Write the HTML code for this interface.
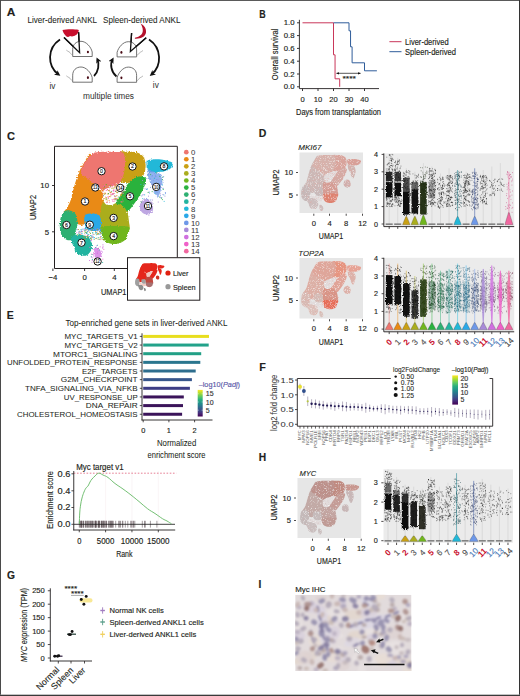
<!DOCTYPE html>
<html><head><meta charset="utf-8"><style>
html,body{margin:0;padding:0;background:#fff;}
body{width:520px;height:696px;overflow:hidden;position:relative;}
svg{position:absolute;left:0;top:0;font-family:"Liberation Sans", sans-serif;}
</style></head><body>
<svg width="520" height="696" viewBox="0 0 520 696" fill="#231f20">
<rect x="0" y="0" width="520" height="696" fill="#fff"/>
<text x="6.80" y="16.30" font-size="11" stroke="#231f20" stroke-width="0.15" font-weight="bold" textLength="8.6" lengthAdjust="spacingAndGlyphs">A</text>
<text x="27.50" y="23.20" font-size="8.4" stroke="#231f20" stroke-width="0.06" textLength="69.5" lengthAdjust="spacingAndGlyphs">Liver-derived ANKL</text>
<text x="103.00" y="23.20" font-size="8.4" stroke="#231f20" stroke-width="0.06" textLength="77.5" lengthAdjust="spacingAndGlyphs">Spleen-derived ANKL</text>
<text x="49.50" y="88.60" font-size="8.2" stroke="#333" stroke-width="0.03" fill="#333" textLength="6" lengthAdjust="spacingAndGlyphs">iv</text>
<text x="152.80" y="87.60" font-size="8.2" stroke="#333" stroke-width="0.03" fill="#333" textLength="6" lengthAdjust="spacingAndGlyphs">iv</text>
<text x="83.00" y="99.20" font-size="8.4" stroke="#333" stroke-width="0.03" fill="#333" textLength="51" lengthAdjust="spacingAndGlyphs">multiple times</text>
<path d="M62.5 30 C66 29.3 74 29 78.8 30 C78.5 32.5 77.5 34.5 75.5 35.3 C74 36.5 71.5 36.8 70 36 C68.5 37.3 66.5 37.2 65.5 35.5 C64 34 63 32 62.5 30Z" fill="#c8102e"/>
<path d="M140.5 23.5 C144 25 146.5 28.5 146 32.5 C145.5 36.5 141 39 135 38.7 C134.5 38.2 135 37.8 135.5 37.6 C139.5 36.8 142.5 34.5 142.8 31 C143 28 141.8 25.5 140.5 23.5Z" fill="#b5122c"/>
<path d="M64 37.5 L79.6 52.7 L78.6 32.3" fill="none" stroke="#111" stroke-width="1.3"/>
<path d="M131.6 33 L130.4 51.4 L146.2 37.8" fill="none" stroke="#111" stroke-width="1.3"/>
<path d="M72.7 56.5 L72.7 49.5 C72.7 44.5 76.2 41.3 81.0 41.3 C86.2 41.3 91.0 47.0 92.2 52.0 L92.2 56.5Z" fill="#fff" stroke="#5a5a5a" stroke-width="0.85"/>
<path d="M72.7 54.9 C70.9 54.9 70.4 52.3 69.10000000000001 51.9 C68.10000000000001 51.5 67.4 50.9 66.3 50.1" fill="none" stroke="#8a8a8a" stroke-width="0.6"/>
<ellipse cx="87.9" cy="52.0" rx="1.05" ry="1.35" fill="#4a0c16"/>
<path d="M72.7 82.2 L72.7 75.2 C72.7 70.2 76.2 67.0 81.0 67.0 C86.2 67.0 91.0 72.7 92.2 77.7 L92.2 82.2Z" fill="#fff" stroke="#5a5a5a" stroke-width="0.85"/>
<path d="M72.7 80.60000000000001 C70.9 80.60000000000001 70.4 78.0 69.10000000000001 77.60000000000001 C68.10000000000001 77.2 67.4 76.60000000000001 66.3 75.8" fill="none" stroke="#8a8a8a" stroke-width="0.6"/>
<ellipse cx="87.9" cy="77.7" rx="1.05" ry="1.35" fill="#4a0c16"/>
<path d="M136.6 56.9 L136.6 49.9 C136.6 44.9 133.1 41.7 128.29999999999998 41.7 C123.1 41.7 118.3 47.4 117.1 52.4 L117.1 56.9Z" fill="#fff" stroke="#5a5a5a" stroke-width="0.85"/>
<path d="M136.6 55.3 C138.4 55.3 138.9 52.699999999999996 140.2 52.3 C141.2 51.9 141.9 51.3 143.0 50.5" fill="none" stroke="#8a8a8a" stroke-width="0.6"/>
<ellipse cx="121.39999999999999" cy="52.4" rx="1.05" ry="1.35" fill="#4a0c16"/>
<path d="M136.6 82.3 L136.6 75.3 C136.6 70.3 133.1 67.1 128.29999999999998 67.1 C123.1 67.1 118.3 72.8 117.1 77.8 L117.1 82.3Z" fill="#fff" stroke="#5a5a5a" stroke-width="0.85"/>
<path d="M136.6 80.7 C138.4 80.7 138.9 78.1 140.2 77.7 C141.2 77.3 141.9 76.7 143.0 75.89999999999999" fill="none" stroke="#8a8a8a" stroke-width="0.6"/>
<ellipse cx="121.39999999999999" cy="77.8" rx="1.05" ry="1.35" fill="#4a0c16"/>
<path d="M64 37.5 L79.6 52.7 L78.6 32.3" fill="none" stroke="#111" stroke-width="1.3"/>
<path d="M131.6 33 L130.4 51.4 L146.2 37.8" fill="none" stroke="#111" stroke-width="1.3"/>
<defs><marker id="ah" viewBox="0 0 10 10" refX="6" refY="5" markerWidth="3.2" markerHeight="3.2" orient="auto"><path d="M0 0 L10 5 L0 10 L2.5 5Z" fill="#111"/></marker></defs>
<path d="M60 39.5 C47 48 47 66 58.5 74.5" fill="none" stroke="#111" stroke-width="1.8" marker-end="url(#ah)"/>
<path d="M94 76 C98.5 72 99.5 64 97.5 59.5" fill="none" stroke="#111" stroke-width="1.8" marker-end="url(#ah)"/>
<path d="M149 39.5 C162 48 162 66 151.5 74.5" fill="none" stroke="#111" stroke-width="1.8" marker-end="url(#ah)"/>
<path d="M116.5 76.5 C111 72 110 64 112.5 59.5" fill="none" stroke="#111" stroke-width="1.8" marker-end="url(#ah)"/>
<text x="259.30" y="17.50" font-size="10.2" stroke="#231f20" stroke-width="0.15" font-weight="bold" textLength="6.4" lengthAdjust="spacingAndGlyphs">B</text>
<line x1="299.40" y1="19.80" x2="299.40" y2="88.60" stroke="#231f20" stroke-width="0.9"/>
<line x1="299.40" y1="88.60" x2="379.00" y2="88.60" stroke="#231f20" stroke-width="0.9"/>
<line x1="297.00" y1="86.80" x2="299.40" y2="86.80" stroke="#231f20" stroke-width="0.9"/>
<text x="294.60" y="89.40" font-size="7.4" stroke="#231f20" stroke-width="0.15" text-anchor="end" textLength="10.8" lengthAdjust="spacingAndGlyphs">0.0</text>
<line x1="297.00" y1="74.00" x2="299.40" y2="74.00" stroke="#231f20" stroke-width="0.9"/>
<text x="294.60" y="76.60" font-size="7.4" stroke="#231f20" stroke-width="0.15" text-anchor="end" textLength="10.8" lengthAdjust="spacingAndGlyphs">0.2</text>
<line x1="297.00" y1="61.20" x2="299.40" y2="61.20" stroke="#231f20" stroke-width="0.9"/>
<text x="294.60" y="63.80" font-size="7.4" stroke="#231f20" stroke-width="0.15" text-anchor="end" textLength="10.8" lengthAdjust="spacingAndGlyphs">0.4</text>
<line x1="297.00" y1="48.40" x2="299.40" y2="48.40" stroke="#231f20" stroke-width="0.9"/>
<text x="294.60" y="51.00" font-size="7.4" stroke="#231f20" stroke-width="0.15" text-anchor="end" textLength="10.8" lengthAdjust="spacingAndGlyphs">0.6</text>
<line x1="297.00" y1="35.60" x2="299.40" y2="35.60" stroke="#231f20" stroke-width="0.9"/>
<text x="294.60" y="38.20" font-size="7.4" stroke="#231f20" stroke-width="0.15" text-anchor="end" textLength="10.8" lengthAdjust="spacingAndGlyphs">0.8</text>
<line x1="297.00" y1="22.80" x2="299.40" y2="22.80" stroke="#231f20" stroke-width="0.9"/>
<text x="294.60" y="25.40" font-size="7.4" stroke="#231f20" stroke-width="0.15" text-anchor="end" textLength="10.8" lengthAdjust="spacingAndGlyphs">1.0</text>
<line x1="302.50" y1="88.60" x2="302.50" y2="91.00" stroke="#231f20" stroke-width="0.9"/>
<text x="302.50" y="101.90" font-size="7.6" stroke="#231f20" stroke-width="0.15" text-anchor="middle">0</text>
<line x1="318.00" y1="88.60" x2="318.00" y2="91.00" stroke="#231f20" stroke-width="0.9"/>
<text x="318.00" y="101.90" font-size="7.6" stroke="#231f20" stroke-width="0.15" text-anchor="middle">10</text>
<line x1="333.50" y1="88.60" x2="333.50" y2="91.00" stroke="#231f20" stroke-width="0.9"/>
<text x="333.50" y="101.90" font-size="7.6" stroke="#231f20" stroke-width="0.15" text-anchor="middle">20</text>
<line x1="349.00" y1="88.60" x2="349.00" y2="91.00" stroke="#231f20" stroke-width="0.9"/>
<text x="349.00" y="101.90" font-size="7.6" stroke="#231f20" stroke-width="0.15" text-anchor="middle">30</text>
<line x1="364.50" y1="88.60" x2="364.50" y2="91.00" stroke="#231f20" stroke-width="0.9"/>
<text x="364.50" y="101.90" font-size="7.6" stroke="#231f20" stroke-width="0.15" text-anchor="middle">40</text>
<text x="296.00" y="114.60" font-size="9.4" stroke="#231f20" stroke-width="0.15" textLength="85" lengthAdjust="spacingAndGlyphs">Days from transplantation</text>
<text x="277.60" y="80.20" font-size="9.2" stroke="#231f20" stroke-width="0.15" textLength="51.5" lengthAdjust="spacingAndGlyphs" transform="rotate(-90 277.60 80.20)">Overall survival</text>
<path d="M302.5 22.799999999999997 H333.5 V54.8 H335.05 V78.8 H339.7 V86.8" fill="none" stroke="#c9375a" stroke-width="1"/>
<path d="M333.5 22.799999999999997 H349.0 V30.799999999999997 H350.55 V46.8 H352.1 V62.8 H364.5 V70.8 H376.9" fill="none" stroke="#2f5d9a" stroke-width="1"/>
<defs><marker id="ah2" viewBox="0 0 10 10" refX="9" refY="5" markerWidth="4" markerHeight="4" orient="auto-start-reverse"><path d="M0 1 L10 5 L0 9Z" fill="#111"/></marker></defs>
<line x1="336.50" y1="73.30" x2="360.50" y2="73.30" stroke="#111" stroke-width="0.7" marker-start="url(#ah2)" marker-end="url(#ah2)"/>
<text x="342.50" y="80.60" font-size="6.4" stroke="#231f20" stroke-width="0.15" textLength="13.5" lengthAdjust="spacingAndGlyphs">****</text>
<line x1="389.40" y1="41.70" x2="401.50" y2="41.70" stroke="#c9375a" stroke-width="1"/>
<line x1="389.40" y1="51.70" x2="401.50" y2="51.70" stroke="#2f5d9a" stroke-width="1"/>
<text x="405.00" y="44.50" font-size="8.6" stroke="#231f20" stroke-width="0.15" textLength="43.7" lengthAdjust="spacingAndGlyphs">Liver-derived</text>
<text x="405.00" y="54.50" font-size="8.6" stroke="#231f20" stroke-width="0.15" textLength="51" lengthAdjust="spacingAndGlyphs">Spleen-derived</text>
<defs><filter id="fz" x="-10%" y="-10%" width="120%" height="120%"><feTurbulence type="fractalNoise" baseFrequency="0.8" numOctaves="2" seed="3"/><feDisplacementMap in="SourceGraphic" scale="3.2" xChannelSelector="R" yChannelSelector="G"/></filter><filter id="spk" x="-2%" y="-2%" width="104%" height="104%"><feTurbulence type="fractalNoise" baseFrequency="1.6" numOctaves="1" seed="8" result="n"/><feColorMatrix in="n" type="matrix" values="0 0 0 0 1  0 0 0 0 1  0 0 0 0 1  0 0 0 -2.5 1.15" result="w"/><feComposite in="w" in2="SourceAlpha" operator="in" result="wi"/><feColorMatrix in="n" type="matrix" values="0 0 0 0 0.8  0 0 0 0 0.36  0 0 0 0 0.32  0 0 0 2.5 -1.45" result="r"/><feComposite in="r" in2="SourceAlpha" operator="in" result="ri"/><feMerge><feMergeNode in="SourceGraphic"/><feMergeNode in="wi"/><feMergeNode in="ri"/></feMerge></filter><filter id="spk2" x="-2%" y="-2%" width="104%" height="104%"><feTurbulence type="fractalNoise" baseFrequency="1.6" numOctaves="1" seed="4" result="n"/><feColorMatrix in="n" type="matrix" values="0 0 0 0 1  0 0 0 0 1  0 0 0 0 1  0 0 0 -2.5 1.1" result="w"/><feComposite in="w" in2="SourceAlpha" operator="in" result="wi"/><feColorMatrix in="n" type="matrix" values="0 0 0 0 0.6  0 0 0 0 0.42  0 0 0 0 0.42  0 0 0 2.5 -1.4" result="r"/><feComposite in="r" in2="SourceAlpha" operator="in" result="ri"/><feMerge><feMergeNode in="SourceGraphic"/><feMergeNode in="wi"/><feMergeNode in="ri"/></feMerge></filter><filter id="fz2" filterUnits="userSpaceOnUse" x="370" y="140" width="150" height="430"><feTurbulence type="fractalNoise" baseFrequency="1.1" numOctaves="1" seed="5"/><feDisplacementMap in="SourceGraphic" scale="3" xChannelSelector="R" yChannelSelector="G"/></filter></defs>
<text x="7.00" y="140.30" font-size="10.5" stroke="#231f20" stroke-width="0.15" font-weight="bold" textLength="8" lengthAdjust="spacingAndGlyphs">C</text>
<g filter="url(#fz)">
<path d="M91.0 154.5 C89.2 150.8 86.0 160.1 84.0 163.0 C82.0 165.9 80.4 168.8 79.0 172.0 C77.6 175.2 76.6 178.5 75.5 182.0 C74.4 185.5 73.4 189.7 72.5 193.0 C71.6 196.3 71.1 199.3 70.0 202.0 C68.9 204.7 67.2 207.0 66.0 209.0 C64.8 211.0 62.3 212.5 63.0 214.0 C63.7 215.5 67.8 216.5 70.0 218.0 C72.2 219.5 74.0 221.8 76.0 223.0 C78.0 224.2 80.2 225.2 82.0 225.0 C83.8 224.8 85.3 223.5 87.0 222.0 C88.7 220.5 90.2 217.0 92.0 216.0 C93.8 215.0 96.7 215.3 98.0 216.0 C99.3 216.7 99.5 218.3 100.0 220.0 C100.5 221.7 100.3 225.0 101.0 226.0 C101.7 227.0 103.3 228.3 104.0 226.0 C104.7 223.7 104.7 216.3 105.0 212.0 C105.3 207.7 106.2 203.3 106.0 200.0 C105.8 196.7 105.8 194.5 104.0 192.0 C102.2 189.5 97.2 191.2 95.0 185.0 C92.8 178.8 92.8 158.2 91.0 154.5Z" fill="#e98a14"/>
<path d="M119.0 152.5 C120.8 150.1 125.0 151.8 128.0 151.8 C131.0 151.8 134.4 151.6 137.0 152.5 C139.6 153.4 142.1 155.1 143.5 157.0 C144.9 158.9 145.2 161.7 145.5 164.0 C145.8 166.3 145.5 168.8 145.0 171.0 C144.5 173.2 143.5 175.3 142.5 177.0 C141.5 178.7 140.6 180.2 139.0 181.0 C137.4 181.8 135.2 181.7 133.0 182.0 C130.8 182.3 128.2 183.0 126.0 183.0 C123.8 183.0 121.8 182.7 120.0 182.0 C118.2 181.3 115.5 181.7 115.0 179.0 C114.5 176.3 116.3 170.4 117.0 166.0 C117.7 161.6 117.2 154.9 119.0 152.5Z" fill="#c9a014"/>
<path d="M91.0 154.5 C93.2 152.6 94.2 152.8 97.0 152.3 C99.8 151.9 104.8 151.8 108.0 151.8 C111.2 151.8 113.5 152.0 116.0 152.1 C118.5 152.2 121.5 151.3 123.0 152.6 C124.5 153.9 124.8 157.1 125.0 160.0 C125.2 162.9 125.0 166.8 124.5 170.0 C124.0 173.2 123.2 176.3 122.0 179.0 C120.8 181.7 119.0 184.2 117.0 186.0 C115.0 187.8 112.2 189.2 110.0 190.0 C107.8 190.8 106.2 191.7 104.0 191.0 C101.8 190.3 99.7 188.0 97.0 186.0 C94.3 184.0 90.7 181.2 88.0 179.0 C85.3 176.8 81.7 175.5 81.0 173.0 C80.3 170.5 82.3 167.1 84.0 164.0 C85.7 160.9 88.8 156.4 91.0 154.5Z" fill="#ee7670"/>
<path d="M134.0 178.0 C131.5 179.4 129.1 182.5 127.0 185.0 C124.9 187.5 123.2 190.5 121.5 193.0 C119.8 195.5 118.1 197.8 117.0 200.0 C115.9 202.2 115.0 204.2 115.0 206.0 C115.0 207.8 115.8 209.6 117.0 210.5 C118.2 211.4 120.2 211.4 122.0 211.5 C123.8 211.6 126.0 212.2 128.0 211.0 C130.0 209.8 132.0 206.7 134.0 204.0 C136.0 201.3 138.2 198.0 140.0 195.0 C141.8 192.0 143.5 188.7 144.5 186.0 C145.5 183.3 146.4 180.6 146.0 179.0 C145.6 177.4 144.0 176.7 142.0 176.5 C140.0 176.3 136.5 176.6 134.0 178.0Z" fill="#2ab23e"/>
<path d="M103.0 203.0 C104.5 202.1 107.5 202.3 110.0 202.5 C112.5 202.7 115.7 203.2 118.0 204.0 C120.3 204.8 122.4 205.5 124.0 207.0 C125.6 208.5 126.7 210.5 127.5 213.0 C128.3 215.5 128.8 219.3 129.0 222.0 C129.2 224.7 130.8 227.8 128.5 229.0 C126.2 230.2 119.4 229.2 115.0 229.0 C110.6 228.8 104.5 229.8 102.0 228.0 C99.5 226.2 100.2 221.3 100.0 218.0 C99.8 214.7 100.5 210.5 101.0 208.0 C101.5 205.5 101.5 203.9 103.0 203.0Z" fill="#aaad1e"/>
<path d="M101.0 227.0 C103.2 225.5 110.3 226.0 115.0 226.0 C119.7 226.0 126.8 225.8 129.0 227.0 C131.2 228.2 128.6 230.9 128.0 233.0 C127.4 235.1 127.0 237.8 125.5 239.5 C124.0 241.2 121.4 242.8 119.0 243.5 C116.6 244.2 113.4 244.2 111.0 243.7 C108.6 243.2 106.1 241.9 104.5 240.5 C102.9 239.1 102.1 237.2 101.5 235.0 C100.9 232.8 98.8 228.5 101.0 227.0Z" fill="#70b61e"/>
<path d="M147.0 161.0 C148.0 159.6 150.7 159.8 153.0 159.5 C155.3 159.2 158.5 159.2 161.0 159.5 C163.5 159.8 166.1 160.4 168.0 161.0 C169.9 161.6 171.9 161.9 172.5 163.0 C173.1 164.1 172.6 166.2 171.5 167.5 C170.4 168.8 168.2 170.2 166.0 171.0 C163.8 171.8 160.7 171.8 158.0 172.0 C155.3 172.2 151.8 172.7 150.0 172.0 C148.2 171.3 147.5 169.8 147.0 168.0 C146.5 166.2 146.0 162.4 147.0 161.0Z" fill="#22b8d8"/>
<path d="M148.0 170.0 C148.9 169.0 152.0 171.3 154.0 172.0 C156.0 172.7 158.6 172.3 160.0 174.0 C161.4 175.7 162.3 179.3 162.5 182.0 C162.7 184.7 161.8 187.6 161.0 190.0 C160.2 192.4 159.1 196.0 158.0 196.5 C156.9 197.0 155.5 194.9 154.5 193.0 C153.5 191.1 153.0 187.5 152.0 185.0 C151.0 182.5 149.2 180.5 148.5 178.0 C147.8 175.5 147.1 171.0 148.0 170.0Z" fill="#6e98e8" opacity="0.75"/>
<path d="M141.0 202.0 C142.0 200.3 144.3 199.2 146.0 199.0 C147.7 198.8 149.8 199.8 151.0 201.0 C152.2 202.2 152.8 204.2 153.0 206.0 C153.2 207.8 153.2 210.1 152.5 211.5 C151.8 212.9 150.5 214.2 149.0 214.5 C147.5 214.8 145.0 214.4 143.5 213.5 C142.0 212.6 140.4 210.9 140.0 209.0 C139.6 207.1 140.0 203.7 141.0 202.0Z" fill="#a88ad8" opacity="0.75"/>
<path d="M85.0 215.0 C86.2 213.6 89.7 213.5 92.0 213.5 C94.3 213.5 97.5 213.6 99.0 215.0 C100.5 216.4 100.8 219.7 101.0 222.0 C101.2 224.3 101.2 227.5 100.0 229.0 C98.8 230.5 96.2 231.0 94.0 231.0 C91.8 231.0 88.6 230.5 87.0 229.0 C85.4 227.5 84.8 224.3 84.5 222.0 C84.2 219.7 83.8 216.4 85.0 215.0Z" fill="#2aa8e8"/>
<path d="M64.0 211.5 C65.5 210.5 68.1 210.1 70.0 210.5 C71.9 210.9 74.2 212.1 75.5 214.0 C76.8 215.9 77.3 219.3 77.5 222.0 C77.7 224.7 76.9 227.7 76.5 230.0 C76.1 232.3 75.8 234.3 75.0 236.0 C74.2 237.7 73.5 239.4 72.0 240.0 C70.5 240.6 67.8 240.5 66.0 239.5 C64.2 238.5 62.0 236.4 61.0 234.0 C60.0 231.6 59.8 227.9 59.8 225.0 C59.8 222.1 60.3 218.8 61.0 216.5 C61.7 214.2 62.5 212.5 64.0 211.5Z" fill="#2eb072"/>
<path d="M72.0 236.0 C73.5 235.1 77.5 234.5 80.0 234.5 C82.5 234.5 85.2 234.9 87.0 236.0 C88.8 237.1 90.2 239.0 91.0 241.0 C91.8 243.0 92.5 245.8 92.0 248.0 C91.5 250.2 89.7 253.2 88.0 254.5 C86.3 255.8 84.0 255.9 82.0 255.5 C80.0 255.1 77.4 253.8 76.0 252.0 C74.6 250.2 74.3 247.0 73.5 245.0 C72.7 243.0 71.2 241.5 71.0 240.0 C70.8 238.5 70.5 236.9 72.0 236.0Z" fill="#22b4a0"/>
<path d="M94.0 249.0 C94.2 247.2 96.0 247.3 97.0 247.5 C98.0 247.7 99.2 248.8 100.0 250.0 C100.8 251.2 101.6 253.5 101.5 255.0 C101.4 256.5 100.5 258.5 99.5 259.0 C98.5 259.5 96.4 259.7 95.5 258.0 C94.6 256.3 93.8 250.8 94.0 249.0Z" fill="#d070e0" opacity="0.75"/>
<path d="M104.0 190.5 C105.2 188.7 107.8 188.0 110.0 187.0 C112.2 186.0 114.8 185.1 117.0 184.5 C119.2 183.9 122.0 183.1 123.5 183.5 C125.0 183.9 126.5 185.0 126.0 187.0 C125.5 189.0 122.0 193.0 120.4 195.4 C118.8 197.8 117.4 200.2 116.2 201.7 C115.0 203.2 114.7 204.0 113.0 204.5 C111.3 205.0 107.7 205.6 106.0 204.5 C104.3 203.4 103.3 200.3 103.0 198.0 C102.7 195.7 102.8 192.3 104.0 190.5Z" fill="#fff"/>
<path d="M77.0 228.0 C78.3 227.5 81.5 228.3 84.0 229.0 C86.5 229.7 89.3 231.5 92.0 232.0 C94.7 232.5 98.3 231.3 100.0 232.0 C101.7 232.7 102.0 234.7 102.0 236.0 C102.0 237.3 101.5 239.3 100.0 240.0 C98.5 240.7 95.0 240.5 93.0 240.0 C91.0 239.5 90.2 238.0 88.0 237.0 C85.8 236.0 82.0 234.8 80.0 234.0 C78.0 233.2 76.5 233.0 76.0 232.0 C75.5 231.0 75.7 228.5 77.0 228.0Z" fill="#fff"/>
</g>
<rect x="112.0" y="194.1" width="0.9" height="0.9" fill="#f060c8"/>
<rect x="112.2" y="193.1" width="0.9" height="0.9" fill="#f068a0"/>
<rect x="106.2" y="198.5" width="0.9" height="0.9" fill="#2ab23e"/>
<rect x="115.9" y="198.3" width="0.9" height="0.9" fill="#ee7670"/>
<rect x="111.8" y="186.6" width="0.9" height="0.9" fill="#f068a0"/>
<rect x="119.8" y="196.5" width="0.9" height="0.9" fill="#ee7670"/>
<rect x="115.1" y="191.1" width="0.9" height="0.9" fill="#2ab23e"/>
<rect x="116.4" y="195.1" width="0.9" height="0.9" fill="#e98a14"/>
<rect x="115.7" y="199.0" width="0.9" height="0.9" fill="#ee7670"/>
<rect x="103.3" y="187.4" width="0.9" height="0.9" fill="#e98a14"/>
<rect x="115.2" y="198.0" width="0.9" height="0.9" fill="#c9a014"/>
<rect x="111.7" y="199.2" width="0.9" height="0.9" fill="#f068a0"/>
<rect x="107.1" y="189.3" width="0.9" height="0.9" fill="#ee7670"/>
<rect x="116.6" y="192.2" width="0.9" height="0.9" fill="#c9a014"/>
<rect x="110.9" y="193.9" width="0.9" height="0.9" fill="#f060c8"/>
<rect x="103.8" y="188.6" width="0.9" height="0.9" fill="#f060c8"/>
<rect x="107.1" y="189.2" width="0.9" height="0.9" fill="#ee7670"/>
<rect x="114.4" y="185.9" width="0.9" height="0.9" fill="#ee7670"/>
<rect x="120.6" y="191.0" width="0.9" height="0.9" fill="#ee7670"/>
<rect x="120.6" y="184.0" width="0.9" height="0.9" fill="#e98a14"/>
<rect x="122.4" y="184.9" width="0.9" height="0.9" fill="#2ab23e"/>
<rect x="123.6" y="191.2" width="0.9" height="0.9" fill="#ee7670"/>
<rect x="114.5" y="187.6" width="0.9" height="0.9" fill="#aaad1e"/>
<rect x="107.9" y="185.6" width="0.9" height="0.9" fill="#c9a014"/>
<rect x="102.3" y="191.4" width="0.9" height="0.9" fill="#ee7670"/>
<rect x="105.0" y="196.7" width="0.9" height="0.9" fill="#ee7670"/>
<rect x="103.3" y="198.3" width="0.9" height="0.9" fill="#e98a14"/>
<rect x="117.0" y="187.4" width="0.9" height="0.9" fill="#f068a0"/>
<rect x="106.2" y="197.2" width="0.9" height="0.9" fill="#e98a14"/>
<rect x="111.2" y="190.9" width="0.9" height="0.9" fill="#2ab23e"/>
<rect x="111.3" y="187.8" width="0.9" height="0.9" fill="#c9a014"/>
<rect x="121.0" y="201.5" width="0.9" height="0.9" fill="#f068a0"/>
<rect x="108.7" y="199.9" width="0.9" height="0.9" fill="#e98a14"/>
<rect x="106.1" y="201.9" width="0.9" height="0.9" fill="#f068a0"/>
<rect x="116.1" y="185.8" width="0.9" height="0.9" fill="#e98a14"/>
<rect x="106.7" y="188.6" width="0.9" height="0.9" fill="#f060c8"/>
<rect x="115.4" y="198.9" width="0.9" height="0.9" fill="#2ab23e"/>
<rect x="103.6" y="185.6" width="0.9" height="0.9" fill="#f068a0"/>
<rect x="116.0" y="184.3" width="0.9" height="0.9" fill="#c9a014"/>
<rect x="110.2" y="192.2" width="0.9" height="0.9" fill="#f068a0"/>
<rect x="112.6" y="194.3" width="0.9" height="0.9" fill="#f060c8"/>
<rect x="110.5" y="195.3" width="0.9" height="0.9" fill="#c9a014"/>
<rect x="122.0" y="198.7" width="0.9" height="0.9" fill="#e98a14"/>
<rect x="118.0" y="186.9" width="0.9" height="0.9" fill="#aaad1e"/>
<rect x="122.7" y="187.5" width="0.9" height="0.9" fill="#2ab23e"/>
<rect x="121.4" y="194.9" width="0.9" height="0.9" fill="#2ab23e"/>
<rect x="103.0" y="186.0" width="0.9" height="0.9" fill="#f068a0"/>
<rect x="123.2" y="188.3" width="0.9" height="0.9" fill="#aaad1e"/>
<rect x="110.6" y="191.6" width="0.9" height="0.9" fill="#f068a0"/>
<rect x="112.8" y="193.4" width="0.9" height="0.9" fill="#aaad1e"/>
<rect x="123.5" y="186.3" width="0.9" height="0.9" fill="#2ab23e"/>
<rect x="114.3" y="199.3" width="0.9" height="0.9" fill="#f068a0"/>
<rect x="103.6" y="187.8" width="0.9" height="0.9" fill="#e98a14"/>
<rect x="118.5" y="185.2" width="0.9" height="0.9" fill="#2ab23e"/>
<rect x="111.8" y="185.1" width="0.9" height="0.9" fill="#e98a14"/>
<rect x="108.2" y="193.6" width="0.9" height="0.9" fill="#e98a14"/>
<rect x="104.0" y="186.5" width="0.9" height="0.9" fill="#2ab23e"/>
<rect x="123.6" y="195.8" width="0.9" height="0.9" fill="#aaad1e"/>
<rect x="113.5" y="201.0" width="0.9" height="0.9" fill="#f068a0"/>
<rect x="102.8" y="184.3" width="0.9" height="0.9" fill="#c9a014"/>
<rect x="117.4" y="201.3" width="0.9" height="0.9" fill="#ee7670"/>
<rect x="115.2" y="185.3" width="0.9" height="0.9" fill="#ee7670"/>
<rect x="118.1" y="189.7" width="0.9" height="0.9" fill="#ee7670"/>
<rect x="103.7" y="193.8" width="0.9" height="0.9" fill="#aaad1e"/>
<rect x="103.0" y="200.9" width="0.9" height="0.9" fill="#aaad1e"/>
<rect x="117.5" y="198.3" width="0.9" height="0.9" fill="#c9a014"/>
<rect x="109.7" y="196.3" width="0.9" height="0.9" fill="#ee7670"/>
<rect x="121.2" y="191.5" width="0.9" height="0.9" fill="#f060c8"/>
<rect x="102.7" y="193.0" width="0.9" height="0.9" fill="#ee7670"/>
<rect x="115.7" y="190.9" width="0.9" height="0.9" fill="#f068a0"/>
<rect x="102.3" y="185.3" width="0.9" height="0.9" fill="#ee7670"/>
<rect x="116.1" y="201.9" width="0.9" height="0.9" fill="#2ab23e"/>
<rect x="118.0" y="191.0" width="0.9" height="0.9" fill="#aaad1e"/>
<rect x="117.3" y="192.2" width="0.9" height="0.9" fill="#2ab23e"/>
<rect x="120.4" y="185.5" width="0.9" height="0.9" fill="#f060c8"/>
<rect x="113.3" y="189.6" width="0.9" height="0.9" fill="#ee7670"/>
<rect x="112.6" y="188.1" width="0.9" height="0.9" fill="#aaad1e"/>
<rect x="104.5" y="198.0" width="0.9" height="0.9" fill="#aaad1e"/>
<rect x="122.3" y="188.6" width="0.9" height="0.9" fill="#ee7670"/>
<rect x="110.1" y="186.6" width="0.9" height="0.9" fill="#f068a0"/>
<rect x="106.5" y="187.1" width="0.9" height="0.9" fill="#c9a014"/>
<rect x="116.5" y="192.0" width="0.9" height="0.9" fill="#e98a14"/>
<rect x="109.2" y="196.0" width="0.9" height="0.9" fill="#e98a14"/>
<rect x="116.0" y="198.5" width="0.9" height="0.9" fill="#f060c8"/>
<rect x="122.1" y="199.8" width="0.9" height="0.9" fill="#2ab23e"/>
<rect x="106.8" y="200.6" width="0.9" height="0.9" fill="#e98a14"/>
<rect x="105.0" y="192.9" width="0.9" height="0.9" fill="#f060c8"/>
<rect x="121.7" y="184.7" width="0.9" height="0.9" fill="#ee7670"/>
<rect x="122.9" y="189.0" width="0.9" height="0.9" fill="#e98a14"/>
<rect x="104.5" y="192.5" width="0.9" height="0.9" fill="#e98a14"/>
<rect x="120.3" y="190.9" width="0.9" height="0.9" fill="#f068a0"/>
<rect x="112.9" y="189.7" width="0.9" height="0.9" fill="#f060c8"/>
<rect x="120.5" y="195.2" width="0.9" height="0.9" fill="#c9a014"/>
<rect x="103.6" y="184.6" width="0.9" height="0.9" fill="#f060c8"/>
<rect x="115.4" y="196.2" width="0.9" height="0.9" fill="#c9a014"/>
<rect x="114.6" y="189.6" width="0.9" height="0.9" fill="#f060c8"/>
<rect x="114.4" y="195.5" width="0.9" height="0.9" fill="#2ab23e"/>
<rect x="112.0" y="184.4" width="0.9" height="0.9" fill="#f060c8"/>
<rect x="107.9" y="198.0" width="0.9" height="0.9" fill="#f060c8"/>
<rect x="103.0" y="195.3" width="0.9" height="0.9" fill="#2ab23e"/>
<rect x="104.4" y="193.6" width="0.9" height="0.9" fill="#aaad1e"/>
<rect x="119.8" y="201.3" width="0.9" height="0.9" fill="#aaad1e"/>
<rect x="106.4" y="198.8" width="0.9" height="0.9" fill="#c9a014"/>
<rect x="105.9" y="184.2" width="0.9" height="0.9" fill="#2ab23e"/>
<rect x="113.8" y="184.7" width="0.9" height="0.9" fill="#e98a14"/>
<rect x="108.0" y="190.2" width="0.9" height="0.9" fill="#aaad1e"/>
<rect x="122.8" y="193.0" width="0.9" height="0.9" fill="#f060c8"/>
<rect x="105.5" y="199.3" width="0.9" height="0.9" fill="#aaad1e"/>
<rect x="121.9" y="185.6" width="0.9" height="0.9" fill="#aaad1e"/>
<rect x="110.5" y="192.1" width="0.9" height="0.9" fill="#e98a14"/>
<rect x="115.8" y="200.4" width="0.9" height="0.9" fill="#2ab23e"/>
<rect x="114.1" y="195.7" width="0.9" height="0.9" fill="#f068a0"/>
<rect x="119.5" y="201.0" width="0.9" height="0.9" fill="#2ab23e"/>
<rect x="109.2" y="201.7" width="0.9" height="0.9" fill="#ee7670"/>
<rect x="117.9" y="198.7" width="0.9" height="0.9" fill="#aaad1e"/>
<rect x="122.3" y="186.2" width="0.9" height="0.9" fill="#e98a14"/>
<rect x="121.8" y="201.6" width="0.9" height="0.9" fill="#c9a014"/>
<rect x="113.8" y="198.2" width="0.9" height="0.9" fill="#c9a014"/>
<rect x="107.8" y="196.9" width="0.9" height="0.9" fill="#ee7670"/>
<rect x="109.7" y="185.5" width="0.9" height="0.9" fill="#2ab23e"/>
<rect x="109.5" y="191.6" width="0.9" height="0.9" fill="#c9a014"/>
<rect x="112.7" y="184.5" width="0.9" height="0.9" fill="#f060c8"/>
<rect x="121.1" y="191.7" width="0.9" height="0.9" fill="#ee7670"/>
<rect x="105.8" y="190.0" width="0.9" height="0.9" fill="#f060c8"/>
<rect x="122.2" y="192.5" width="0.9" height="0.9" fill="#f068a0"/>
<rect x="121.8" y="193.3" width="0.9" height="0.9" fill="#aaad1e"/>
<rect x="117.2" y="201.0" width="0.9" height="0.9" fill="#2ab23e"/>
<rect x="114.7" y="196.4" width="0.9" height="0.9" fill="#f060c8"/>
<rect x="106.9" y="193.5" width="0.9" height="0.9" fill="#c9a014"/>
<rect x="120.3" y="194.1" width="0.9" height="0.9" fill="#e98a14"/>
<rect x="113.5" y="199.2" width="0.9" height="0.9" fill="#f068a0"/>
<rect x="107.6" y="196.1" width="0.9" height="0.9" fill="#f060c8"/>
<rect x="121.1" y="195.0" width="0.9" height="0.9" fill="#c9a014"/>
<rect x="120.7" y="201.4" width="0.9" height="0.9" fill="#f068a0"/>
<rect x="108.0" y="193.0" width="0.9" height="0.9" fill="#2ab23e"/>
<rect x="113.8" y="193.1" width="0.9" height="0.9" fill="#f068a0"/>
<rect x="110.3" y="193.7" width="0.9" height="0.9" fill="#ee7670"/>
<rect x="113.4" y="191.2" width="0.9" height="0.9" fill="#f060c8"/>
<rect x="123.8" y="186.2" width="0.9" height="0.9" fill="#ee7670"/>
<rect x="117.2" y="185.2" width="0.9" height="0.9" fill="#f068a0"/>
<rect x="112.1" y="200.6" width="0.9" height="0.9" fill="#f060c8"/>
<rect x="122.3" y="188.8" width="0.9" height="0.9" fill="#2ab23e"/>
<rect x="112.8" y="190.1" width="0.9" height="0.9" fill="#f060c8"/>
<rect x="122.6" y="200.6" width="0.9" height="0.9" fill="#f068a0"/>
<rect x="109.0" y="187.4" width="0.9" height="0.9" fill="#f068a0"/>
<rect x="102.6" y="188.7" width="0.9" height="0.9" fill="#aaad1e"/>
<rect x="119.1" y="184.4" width="0.9" height="0.9" fill="#e98a14"/>
<rect x="105.4" y="184.2" width="0.9" height="0.9" fill="#c9a014"/>
<rect x="109.1" y="190.4" width="0.9" height="0.9" fill="#f068a0"/>
<rect x="113.0" y="193.0" width="0.9" height="0.9" fill="#f068a0"/>
<rect x="104.7" y="193.2" width="0.9" height="0.9" fill="#c9a014"/>
<rect x="117.8" y="196.6" width="0.9" height="0.9" fill="#2ab23e"/>
<rect x="102.5" y="195.4" width="0.9" height="0.9" fill="#f060c8"/>
<rect x="113.6" y="186.9" width="0.9" height="0.9" fill="#e98a14"/>
<rect x="121.0" y="193.6" width="0.9" height="0.9" fill="#e98a14"/>
<rect x="113.7" y="199.3" width="0.9" height="0.9" fill="#f068a0"/>
<rect x="114.9" y="186.5" width="0.9" height="0.9" fill="#aaad1e"/>
<rect x="115.8" y="190.3" width="0.9" height="0.9" fill="#e98a14"/>
<rect x="108.9" y="189.7" width="0.9" height="0.9" fill="#e98a14"/>
<rect x="106.8" y="202.0" width="0.9" height="0.9" fill="#ee7670"/>
<rect x="79.5" y="230.9" width="0.9" height="0.9" fill="#d070e0"/>
<rect x="78.3" y="232.7" width="0.9" height="0.9" fill="#22b4a0"/>
<rect x="97.6" y="233.1" width="0.9" height="0.9" fill="#d070e0"/>
<rect x="79.3" y="232.8" width="0.9" height="0.9" fill="#d070e0"/>
<rect x="96.8" y="229.2" width="0.9" height="0.9" fill="#aaad1e"/>
<rect x="93.7" y="238.9" width="0.9" height="0.9" fill="#2eb072"/>
<rect x="79.0" y="234.1" width="0.9" height="0.9" fill="#2eb072"/>
<rect x="89.1" y="236.2" width="0.9" height="0.9" fill="#2aa8e8"/>
<rect x="96.9" y="233.8" width="0.9" height="0.9" fill="#e98a14"/>
<rect x="77.0" y="234.6" width="0.9" height="0.9" fill="#aaad1e"/>
<rect x="99.5" y="233.8" width="0.9" height="0.9" fill="#2aa8e8"/>
<rect x="80.8" y="230.4" width="0.9" height="0.9" fill="#2aa8e8"/>
<rect x="101.7" y="239.1" width="0.9" height="0.9" fill="#e98a14"/>
<rect x="91.1" y="229.6" width="0.9" height="0.9" fill="#d070e0"/>
<rect x="88.0" y="237.2" width="0.9" height="0.9" fill="#2eb072"/>
<rect x="86.2" y="233.1" width="0.9" height="0.9" fill="#2eb072"/>
<rect x="87.2" y="235.2" width="0.9" height="0.9" fill="#e98a14"/>
<rect x="92.5" y="228.5" width="0.9" height="0.9" fill="#2aa8e8"/>
<rect x="80.7" y="233.4" width="0.9" height="0.9" fill="#d070e0"/>
<rect x="85.6" y="239.1" width="0.9" height="0.9" fill="#aaad1e"/>
<rect x="80.3" y="234.2" width="0.9" height="0.9" fill="#e98a14"/>
<rect x="84.4" y="229.0" width="0.9" height="0.9" fill="#d070e0"/>
<rect x="98.8" y="238.9" width="0.9" height="0.9" fill="#22b4a0"/>
<rect x="90.8" y="230.3" width="0.9" height="0.9" fill="#aaad1e"/>
<rect x="101.5" y="237.7" width="0.9" height="0.9" fill="#2eb072"/>
<rect x="83.3" y="229.4" width="0.9" height="0.9" fill="#d070e0"/>
<rect x="96.2" y="237.8" width="0.9" height="0.9" fill="#22b4a0"/>
<rect x="79.5" y="232.0" width="0.9" height="0.9" fill="#aaad1e"/>
<rect x="94.1" y="237.2" width="0.9" height="0.9" fill="#2aa8e8"/>
<rect x="86.5" y="236.7" width="0.9" height="0.9" fill="#e98a14"/>
<rect x="96.7" y="231.6" width="0.9" height="0.9" fill="#e98a14"/>
<rect x="76.3" y="232.3" width="0.9" height="0.9" fill="#d070e0"/>
<rect x="99.5" y="228.6" width="0.9" height="0.9" fill="#2eb072"/>
<rect x="100.6" y="236.0" width="0.9" height="0.9" fill="#2eb072"/>
<rect x="81.6" y="232.9" width="0.9" height="0.9" fill="#2aa8e8"/>
<rect x="89.9" y="232.7" width="0.9" height="0.9" fill="#22b4a0"/>
<rect x="92.7" y="236.4" width="0.9" height="0.9" fill="#22b4a0"/>
<rect x="101.5" y="228.3" width="0.9" height="0.9" fill="#aaad1e"/>
<rect x="78.8" y="230.8" width="0.9" height="0.9" fill="#22b4a0"/>
<rect x="86.4" y="228.6" width="0.9" height="0.9" fill="#2aa8e8"/>
<rect x="92.8" y="228.1" width="0.9" height="0.9" fill="#2eb072"/>
<rect x="82.5" y="238.9" width="0.9" height="0.9" fill="#aaad1e"/>
<rect x="90.1" y="233.0" width="0.9" height="0.9" fill="#aaad1e"/>
<rect x="90.8" y="239.9" width="0.9" height="0.9" fill="#d070e0"/>
<rect x="87.6" y="235.7" width="0.9" height="0.9" fill="#aaad1e"/>
<rect x="91.5" y="237.1" width="0.9" height="0.9" fill="#e98a14"/>
<rect x="86.0" y="239.3" width="0.9" height="0.9" fill="#22b4a0"/>
<rect x="88.3" y="230.0" width="0.9" height="0.9" fill="#22b4a0"/>
<rect x="90.1" y="235.2" width="0.9" height="0.9" fill="#22b4a0"/>
<rect x="100.6" y="233.0" width="0.9" height="0.9" fill="#aaad1e"/>
<rect x="86.4" y="231.7" width="0.9" height="0.9" fill="#aaad1e"/>
<rect x="83.4" y="235.9" width="0.9" height="0.9" fill="#aaad1e"/>
<rect x="100.2" y="236.0" width="0.9" height="0.9" fill="#d070e0"/>
<rect x="83.7" y="228.2" width="0.9" height="0.9" fill="#2aa8e8"/>
<rect x="91.2" y="235.6" width="0.9" height="0.9" fill="#22b4a0"/>
<rect x="95.6" y="232.7" width="0.9" height="0.9" fill="#2eb072"/>
<rect x="95.5" y="228.6" width="0.9" height="0.9" fill="#d070e0"/>
<rect x="100.6" y="228.9" width="0.9" height="0.9" fill="#2aa8e8"/>
<rect x="87.2" y="233.7" width="0.9" height="0.9" fill="#2aa8e8"/>
<rect x="77.2" y="229.2" width="0.9" height="0.9" fill="#d070e0"/>
<rect x="99.6" y="229.7" width="0.9" height="0.9" fill="#2aa8e8"/>
<rect x="91.7" y="229.4" width="0.9" height="0.9" fill="#aaad1e"/>
<rect x="86.8" y="229.4" width="0.9" height="0.9" fill="#e98a14"/>
<rect x="85.3" y="229.9" width="0.9" height="0.9" fill="#2eb072"/>
<rect x="87.5" y="236.0" width="0.9" height="0.9" fill="#22b4a0"/>
<rect x="91.6" y="235.7" width="0.9" height="0.9" fill="#d070e0"/>
<rect x="86.9" y="237.3" width="0.9" height="0.9" fill="#aaad1e"/>
<rect x="97.2" y="229.6" width="0.9" height="0.9" fill="#2eb072"/>
<rect x="95.1" y="230.9" width="0.9" height="0.9" fill="#e98a14"/>
<rect x="89.1" y="231.7" width="0.9" height="0.9" fill="#aaad1e"/>
<rect x="92.2" y="232.3" width="0.9" height="0.9" fill="#2eb072"/>
<rect x="91.9" y="236.7" width="0.9" height="0.9" fill="#d070e0"/>
<rect x="91.4" y="235.6" width="0.9" height="0.9" fill="#2aa8e8"/>
<rect x="80.9" y="231.0" width="0.9" height="0.9" fill="#d070e0"/>
<rect x="99.8" y="238.5" width="0.9" height="0.9" fill="#e98a14"/>
<rect x="92.3" y="228.1" width="0.9" height="0.9" fill="#2eb072"/>
<rect x="87.1" y="235.5" width="0.9" height="0.9" fill="#e98a14"/>
<rect x="81.8" y="231.3" width="0.9" height="0.9" fill="#e98a14"/>
<rect x="99.7" y="229.9" width="0.9" height="0.9" fill="#2aa8e8"/>
<rect x="92.4" y="232.5" width="0.9" height="0.9" fill="#22b4a0"/>
<rect x="85.2" y="232.1" width="0.9" height="0.9" fill="#22b4a0"/>
<rect x="95.4" y="238.1" width="0.9" height="0.9" fill="#e98a14"/>
<rect x="96.9" y="233.4" width="0.9" height="0.9" fill="#aaad1e"/>
<rect x="97.8" y="237.2" width="0.9" height="0.9" fill="#22b4a0"/>
<rect x="87.0" y="231.1" width="0.9" height="0.9" fill="#2aa8e8"/>
<rect x="85.6" y="235.8" width="0.9" height="0.9" fill="#aaad1e"/>
<rect x="84.5" y="234.6" width="0.9" height="0.9" fill="#d070e0"/>
<rect x="97.5" y="230.2" width="0.9" height="0.9" fill="#d070e0"/>
<rect x="85.6" y="229.2" width="0.9" height="0.9" fill="#2eb072"/>
<rect x="78.0" y="229.0" width="0.9" height="0.9" fill="#aaad1e"/>
<rect x="90.8" y="237.8" width="0.9" height="0.9" fill="#22b4a0"/>
<rect x="83.8" y="237.3" width="0.9" height="0.9" fill="#e98a14"/>
<rect x="84.1" y="238.9" width="0.9" height="0.9" fill="#aaad1e"/>
<rect x="78.1" y="231.6" width="0.9" height="0.9" fill="#d070e0"/>
<rect x="95.9" y="231.9" width="0.9" height="0.9" fill="#2aa8e8"/>
<rect x="81.7" y="235.9" width="0.9" height="0.9" fill="#2eb072"/>
<rect x="85.5" y="229.4" width="0.9" height="0.9" fill="#d070e0"/>
<rect x="87.5" y="235.1" width="0.9" height="0.9" fill="#d070e0"/>
<rect x="99.7" y="233.3" width="0.9" height="0.9" fill="#2eb072"/>
<rect x="87.9" y="230.7" width="0.9" height="0.9" fill="#d070e0"/>
<rect x="99.3" y="231.0" width="0.9" height="0.9" fill="#2eb072"/>
<rect x="97.5" y="228.3" width="0.9" height="0.9" fill="#d070e0"/>
<rect x="86.3" y="232.7" width="0.9" height="0.9" fill="#2aa8e8"/>
<rect x="95.2" y="232.4" width="0.9" height="0.9" fill="#22b4a0"/>
<rect x="90.1" y="238.0" width="0.9" height="0.9" fill="#aaad1e"/>
<rect x="80.6" y="229.1" width="0.9" height="0.9" fill="#22b4a0"/>
<rect x="98.9" y="231.4" width="0.9" height="0.9" fill="#e98a14"/>
<rect x="81.8" y="228.7" width="0.9" height="0.9" fill="#2aa8e8"/>
<rect x="90.8" y="239.6" width="0.9" height="0.9" fill="#d070e0"/>
<rect x="97.9" y="233.1" width="0.9" height="0.9" fill="#aaad1e"/>
<rect x="90.2" y="237.5" width="0.9" height="0.9" fill="#e98a14"/>
<rect x="84.7" y="231.3" width="0.9" height="0.9" fill="#e98a14"/>
<rect x="99.4" y="229.0" width="0.9" height="0.9" fill="#d070e0"/>
<rect x="93.0" y="229.2" width="0.9" height="0.9" fill="#d070e0"/>
<rect x="87.0" y="236.5" width="0.9" height="0.9" fill="#22b4a0"/>
<rect x="95.9" y="234.3" width="0.9" height="0.9" fill="#22b4a0"/>
<rect x="86.3" y="232.1" width="0.9" height="0.9" fill="#2eb072"/>
<rect x="93.5" y="233.9" width="0.9" height="0.9" fill="#aaad1e"/>
<rect x="96.9" y="228.9" width="0.9" height="0.9" fill="#aaad1e"/>
<rect x="99.8" y="232.9" width="0.9" height="0.9" fill="#d070e0"/>
<rect x="85.1" y="228.0" width="0.9" height="0.9" fill="#22b4a0"/>
<rect x="97.7" y="238.7" width="0.9" height="0.9" fill="#aaad1e"/>
<rect x="92.6" y="234.3" width="0.9" height="0.9" fill="#d070e0"/>
<rect x="76.3" y="229.3" width="0.9" height="0.9" fill="#22b4a0"/>
<rect x="99.8" y="230.9" width="0.9" height="0.9" fill="#2aa8e8"/>
<rect x="101.8" y="232.5" width="0.9" height="0.9" fill="#2aa8e8"/>
<rect x="84.3" y="232.7" width="0.9" height="0.9" fill="#aaad1e"/>
<rect x="83.6" y="239.6" width="0.9" height="0.9" fill="#e98a14"/>
<rect x="88.3" y="236.8" width="0.9" height="0.9" fill="#2eb072"/>
<rect x="92.8" y="237.3" width="0.9" height="0.9" fill="#2aa8e8"/>
<rect x="99.7" y="237.0" width="0.9" height="0.9" fill="#e98a14"/>
<rect x="91.2" y="238.9" width="0.9" height="0.9" fill="#e98a14"/>
<rect x="84.1" y="230.4" width="0.9" height="0.9" fill="#2eb072"/>
<rect x="81.7" y="230.8" width="0.9" height="0.9" fill="#d070e0"/>
<rect x="88.3" y="234.1" width="0.9" height="0.9" fill="#22b4a0"/>
<rect x="80.8" y="231.4" width="0.9" height="0.9" fill="#2aa8e8"/>
<rect x="99.7" y="239.2" width="0.9" height="0.9" fill="#d070e0"/>
<rect x="90.3" y="237.8" width="0.9" height="0.9" fill="#22b4a0"/>
<rect x="98.2" y="233.8" width="0.9" height="0.9" fill="#22b4a0"/>
<rect x="99.8" y="232.1" width="0.9" height="0.9" fill="#aaad1e"/>
<rect x="159.3" y="174.8" width="0.9" height="0.9" fill="#6e98e8"/>
<rect x="150.0" y="178.5" width="0.9" height="0.9" fill="#6e98e8"/>
<rect x="160.0" y="183.5" width="0.9" height="0.9" fill="#a88ad8"/>
<rect x="159.9" y="195.2" width="0.9" height="0.9" fill="#6e98e8"/>
<rect x="156.4" y="179.1" width="0.9" height="0.9" fill="#6e98e8"/>
<rect x="161.9" y="199.2" width="0.9" height="0.9" fill="#2ab23e"/>
<rect x="159.9" y="193.4" width="0.9" height="0.9" fill="#a88ad8"/>
<rect x="161.9" y="184.5" width="0.9" height="0.9" fill="#22b8d8"/>
<rect x="143.6" y="199.2" width="0.9" height="0.9" fill="#a88ad8"/>
<rect x="143.3" y="194.3" width="0.9" height="0.9" fill="#a88ad8"/>
<rect x="146.7" y="188.0" width="0.9" height="0.9" fill="#6e98e8"/>
<rect x="154.3" y="177.3" width="0.9" height="0.9" fill="#6e98e8"/>
<rect x="160.5" y="197.4" width="0.9" height="0.9" fill="#6e98e8"/>
<rect x="142.1" y="180.1" width="0.9" height="0.9" fill="#a88ad8"/>
<rect x="142.4" y="186.4" width="0.9" height="0.9" fill="#2ab23e"/>
<rect x="142.1" y="194.5" width="0.9" height="0.9" fill="#a88ad8"/>
<rect x="161.4" y="181.1" width="0.9" height="0.9" fill="#6e98e8"/>
<rect x="150.4" y="199.5" width="0.9" height="0.9" fill="#6e98e8"/>
<rect x="159.5" y="185.2" width="0.9" height="0.9" fill="#6e98e8"/>
<rect x="153.6" y="187.8" width="0.9" height="0.9" fill="#6e98e8"/>
<rect x="163.7" y="200.9" width="0.9" height="0.9" fill="#22b8d8"/>
<rect x="147.8" y="174.3" width="0.9" height="0.9" fill="#22b8d8"/>
<rect x="164.9" y="192.0" width="0.9" height="0.9" fill="#6e98e8"/>
<rect x="149.0" y="192.6" width="0.9" height="0.9" fill="#6e98e8"/>
<rect x="156.7" y="192.3" width="0.9" height="0.9" fill="#6e98e8"/>
<rect x="156.3" y="172.4" width="0.9" height="0.9" fill="#2ab23e"/>
<rect x="157.8" y="186.3" width="0.9" height="0.9" fill="#22b8d8"/>
<rect x="154.1" y="185.7" width="0.9" height="0.9" fill="#6e98e8"/>
<rect x="161.4" y="197.3" width="0.9" height="0.9" fill="#6e98e8"/>
<rect x="162.5" y="176.6" width="0.9" height="0.9" fill="#2ab23e"/>
<rect x="163.4" y="194.5" width="0.9" height="0.9" fill="#22b8d8"/>
<rect x="158.9" y="188.7" width="0.9" height="0.9" fill="#6e98e8"/>
<rect x="146.4" y="178.0" width="0.9" height="0.9" fill="#6e98e8"/>
<rect x="148.2" y="200.4" width="0.9" height="0.9" fill="#a88ad8"/>
<rect x="151.7" y="191.2" width="0.9" height="0.9" fill="#2ab23e"/>
<rect x="160.7" y="174.8" width="0.9" height="0.9" fill="#6e98e8"/>
<rect x="155.5" y="175.9" width="0.9" height="0.9" fill="#6e98e8"/>
<rect x="144.5" y="184.1" width="0.9" height="0.9" fill="#2ab23e"/>
<rect x="154.8" y="174.7" width="0.9" height="0.9" fill="#6e98e8"/>
<rect x="140.8" y="201.6" width="0.9" height="0.9" fill="#2ab23e"/>
<rect x="150.2" y="174.2" width="0.9" height="0.9" fill="#2ab23e"/>
<rect x="163.2" y="176.2" width="0.9" height="0.9" fill="#6e98e8"/>
<rect x="159.2" y="196.6" width="0.9" height="0.9" fill="#2ab23e"/>
<rect x="152.1" y="199.6" width="0.9" height="0.9" fill="#a88ad8"/>
<rect x="140.4" y="184.0" width="0.9" height="0.9" fill="#22b8d8"/>
<rect x="164.5" y="195.7" width="0.9" height="0.9" fill="#a88ad8"/>
<rect x="153.2" y="179.8" width="0.9" height="0.9" fill="#6e98e8"/>
<rect x="148.6" y="191.5" width="0.9" height="0.9" fill="#6e98e8"/>
<rect x="153.9" y="178.1" width="0.9" height="0.9" fill="#22b8d8"/>
<rect x="159.7" y="196.8" width="0.9" height="0.9" fill="#a88ad8"/>
<rect x="157.8" y="179.6" width="0.9" height="0.9" fill="#a88ad8"/>
<rect x="162.6" y="188.4" width="0.9" height="0.9" fill="#22b8d8"/>
<rect x="155.3" y="187.4" width="0.9" height="0.9" fill="#a88ad8"/>
<rect x="157.8" y="201.6" width="0.9" height="0.9" fill="#a88ad8"/>
<rect x="165.0" y="193.2" width="0.9" height="0.9" fill="#6e98e8"/>
<rect x="154.2" y="172.8" width="0.9" height="0.9" fill="#6e98e8"/>
<rect x="159.4" y="176.1" width="0.9" height="0.9" fill="#2ab23e"/>
<rect x="154.4" y="192.9" width="0.9" height="0.9" fill="#22b8d8"/>
<rect x="142.3" y="198.2" width="0.9" height="0.9" fill="#22b8d8"/>
<rect x="151.6" y="175.7" width="0.9" height="0.9" fill="#6e98e8"/>
<rect x="146.0" y="189.1" width="0.9" height="0.9" fill="#a88ad8"/>
<rect x="154.0" y="188.8" width="0.9" height="0.9" fill="#22b8d8"/>
<rect x="144.2" y="194.4" width="0.9" height="0.9" fill="#22b8d8"/>
<rect x="155.0" y="175.7" width="0.9" height="0.9" fill="#6e98e8"/>
<rect x="147.2" y="198.9" width="0.9" height="0.9" fill="#6e98e8"/>
<rect x="159.0" y="182.9" width="0.9" height="0.9" fill="#6e98e8"/>
<rect x="144.6" y="188.4" width="0.9" height="0.9" fill="#6e98e8"/>
<rect x="151.4" y="184.1" width="0.9" height="0.9" fill="#6e98e8"/>
<rect x="147.7" y="192.1" width="0.9" height="0.9" fill="#2ab23e"/>
<rect x="155.4" y="191.2" width="0.9" height="0.9" fill="#6e98e8"/>
<rect x="144.0" y="184.4" width="0.9" height="0.9" fill="#6e98e8"/>
<rect x="143.6" y="183.6" width="0.9" height="0.9" fill="#a88ad8"/>
<rect x="150.1" y="182.1" width="0.9" height="0.9" fill="#6e98e8"/>
<rect x="146.6" y="189.0" width="0.9" height="0.9" fill="#22b8d8"/>
<rect x="141.3" y="195.5" width="0.9" height="0.9" fill="#6e98e8"/>
<rect x="150.1" y="186.9" width="0.9" height="0.9" fill="#6e98e8"/>
<rect x="151.7" y="184.3" width="0.9" height="0.9" fill="#a88ad8"/>
<rect x="162.8" y="188.9" width="0.9" height="0.9" fill="#2ab23e"/>
<rect x="158.8" y="186.6" width="0.9" height="0.9" fill="#2ab23e"/>
<rect x="161.0" y="197.7" width="0.9" height="0.9" fill="#2ab23e"/>
<rect x="160.6" y="175.5" width="0.9" height="0.9" fill="#6e98e8"/>
<rect x="162.6" y="187.8" width="0.9" height="0.9" fill="#a88ad8"/>
<rect x="153.0" y="184.6" width="0.9" height="0.9" fill="#6e98e8"/>
<rect x="148.0" y="173.6" width="0.9" height="0.9" fill="#a88ad8"/>
<rect x="162.5" y="194.0" width="0.9" height="0.9" fill="#a88ad8"/>
<rect x="148.0" y="195.7" width="0.9" height="0.9" fill="#a88ad8"/>
<rect x="161.9" y="179.3" width="0.9" height="0.9" fill="#2ab23e"/>
<rect x="146.1" y="198.2" width="0.9" height="0.9" fill="#6e98e8"/>
<rect x="151.9" y="175.2" width="0.9" height="0.9" fill="#6e98e8"/>
<rect x="153.6" y="191.7" width="0.9" height="0.9" fill="#6e98e8"/>
<rect x="102.2" y="262.0" width="0.9" height="0.9" fill="#22b4a0"/>
<rect x="102.0" y="251.6" width="0.9" height="0.9" fill="#d070e0"/>
<rect x="92.3" y="257.4" width="0.9" height="0.9" fill="#d070e0"/>
<rect x="102.6" y="245.8" width="0.9" height="0.9" fill="#d070e0"/>
<rect x="90.9" y="253.7" width="0.9" height="0.9" fill="#f060c8"/>
<rect x="89.0" y="248.4" width="0.9" height="0.9" fill="#22b4a0"/>
<rect x="89.4" y="247.1" width="0.9" height="0.9" fill="#f060c8"/>
<rect x="102.4" y="258.7" width="0.9" height="0.9" fill="#f060c8"/>
<rect x="91.1" y="256.5" width="0.9" height="0.9" fill="#d070e0"/>
<rect x="89.7" y="244.6" width="0.9" height="0.9" fill="#22b4a0"/>
<rect x="93.6" y="253.0" width="0.9" height="0.9" fill="#f060c8"/>
<rect x="102.2" y="247.6" width="0.9" height="0.9" fill="#d070e0"/>
<rect x="91.9" y="259.1" width="0.9" height="0.9" fill="#22b4a0"/>
<rect x="102.5" y="244.3" width="0.9" height="0.9" fill="#d070e0"/>
<rect x="97.0" y="248.3" width="0.9" height="0.9" fill="#d070e0"/>
<rect x="98.8" y="249.5" width="0.9" height="0.9" fill="#22b4a0"/>
<rect x="103.4" y="248.9" width="0.9" height="0.9" fill="#f060c8"/>
<rect x="99.7" y="246.4" width="0.9" height="0.9" fill="#f060c8"/>
<rect x="95.2" y="247.0" width="0.9" height="0.9" fill="#22b4a0"/>
<rect x="90.8" y="256.4" width="0.9" height="0.9" fill="#22b4a0"/>
<rect x="91.7" y="248.2" width="0.9" height="0.9" fill="#22b4a0"/>
<rect x="100.9" y="250.7" width="0.9" height="0.9" fill="#d070e0"/>
<rect x="97.8" y="248.1" width="0.9" height="0.9" fill="#22b4a0"/>
<rect x="102.4" y="247.3" width="0.9" height="0.9" fill="#d070e0"/>
<rect x="93.2" y="255.5" width="0.9" height="0.9" fill="#d070e0"/>
<rect x="95.9" y="245.4" width="0.9" height="0.9" fill="#d070e0"/>
<rect x="97.0" y="244.8" width="0.9" height="0.9" fill="#22b4a0"/>
<rect x="97.1" y="251.6" width="0.9" height="0.9" fill="#d070e0"/>
<rect x="91.5" y="261.8" width="0.9" height="0.9" fill="#d070e0"/>
<rect x="92.7" y="249.0" width="0.9" height="0.9" fill="#d070e0"/>
<rect x="91.8" y="260.1" width="0.9" height="0.9" fill="#d070e0"/>
<rect x="98.3" y="260.5" width="0.9" height="0.9" fill="#f060c8"/>
<rect x="89.0" y="260.0" width="0.9" height="0.9" fill="#d070e0"/>
<rect x="91.7" y="254.0" width="0.9" height="0.9" fill="#22b4a0"/>
<rect x="93.8" y="252.7" width="0.9" height="0.9" fill="#d070e0"/>
<rect x="96.8" y="253.1" width="0.9" height="0.9" fill="#d070e0"/>
<rect x="97.9" y="257.9" width="0.9" height="0.9" fill="#d070e0"/>
<rect x="98.1" y="248.2" width="0.9" height="0.9" fill="#f060c8"/>
<rect x="97.2" y="248.6" width="0.9" height="0.9" fill="#d070e0"/>
<rect x="92.9" y="253.8" width="0.9" height="0.9" fill="#f060c8"/>
<circle cx="101.5" cy="171.2" r="3.7" fill="#fff" stroke="#111" stroke-width="1"/>
<text x="101.50" y="173.10" font-size="5.4" stroke="#222" stroke-width="0.15" text-anchor="middle" fill="#222" textLength="2.9" lengthAdjust="spacingAndGlyphs">0</text>
<circle cx="85" cy="201.5" r="3.7" fill="#fff" stroke="#111" stroke-width="1"/>
<text x="85.00" y="203.40" font-size="5.4" stroke="#222" stroke-width="0.15" text-anchor="middle" fill="#222" textLength="2.9" lengthAdjust="spacingAndGlyphs">1</text>
<circle cx="132.5" cy="166.5" r="3.7" fill="#fff" stroke="#111" stroke-width="1"/>
<text x="132.50" y="168.40" font-size="5.4" stroke="#222" stroke-width="0.15" text-anchor="middle" fill="#222" textLength="2.9" lengthAdjust="spacingAndGlyphs">2</text>
<circle cx="113.6" cy="217.9" r="3.7" fill="#fff" stroke="#111" stroke-width="1"/>
<text x="113.60" y="219.80" font-size="5.4" stroke="#222" stroke-width="0.15" text-anchor="middle" fill="#222" textLength="2.9" lengthAdjust="spacingAndGlyphs">3</text>
<circle cx="113.6" cy="236.1" r="3.7" fill="#fff" stroke="#111" stroke-width="1"/>
<text x="113.60" y="238.00" font-size="5.4" stroke="#222" stroke-width="0.15" text-anchor="middle" fill="#222" textLength="2.9" lengthAdjust="spacingAndGlyphs">4</text>
<circle cx="130" cy="196.3" r="3.7" fill="#fff" stroke="#111" stroke-width="1"/>
<text x="130.00" y="198.20" font-size="5.4" stroke="#222" stroke-width="0.15" text-anchor="middle" fill="#222" textLength="2.9" lengthAdjust="spacingAndGlyphs">5</text>
<circle cx="66.5" cy="225" r="3.7" fill="#fff" stroke="#111" stroke-width="1"/>
<text x="66.50" y="226.90" font-size="5.4" stroke="#222" stroke-width="0.15" text-anchor="middle" fill="#222" textLength="2.9" lengthAdjust="spacingAndGlyphs">6</text>
<circle cx="81.5" cy="242.7" r="3.7" fill="#fff" stroke="#111" stroke-width="1"/>
<text x="81.50" y="244.60" font-size="5.4" stroke="#222" stroke-width="0.15" text-anchor="middle" fill="#222" textLength="2.9" lengthAdjust="spacingAndGlyphs">7</text>
<circle cx="164" cy="166.4" r="3.7" fill="#fff" stroke="#111" stroke-width="1"/>
<text x="164.00" y="168.30" font-size="5.4" stroke="#222" stroke-width="0.15" text-anchor="middle" fill="#222" textLength="2.9" lengthAdjust="spacingAndGlyphs">8</text>
<circle cx="89.8" cy="224.7" r="3.7" fill="#fff" stroke="#111" stroke-width="1"/>
<text x="89.80" y="226.60" font-size="5.4" stroke="#222" stroke-width="0.15" text-anchor="middle" fill="#222" textLength="2.9" lengthAdjust="spacingAndGlyphs">9</text>
<circle cx="156.2" cy="186.9" r="3.7" fill="#fff" stroke="#111" stroke-width="1"/>
<text x="156.20" y="188.80" font-size="5.4" stroke="#222" stroke-width="0.15" text-anchor="middle" fill="#222" textLength="4.6" lengthAdjust="spacingAndGlyphs">10</text>
<circle cx="148" cy="206" r="3.7" fill="#fff" stroke="#111" stroke-width="1"/>
<text x="148.00" y="207.90" font-size="5.4" stroke="#222" stroke-width="0.15" text-anchor="middle" fill="#222" textLength="4.6" lengthAdjust="spacingAndGlyphs">11</text>
<circle cx="97.6" cy="261.5" r="3.7" fill="#fff" stroke="#111" stroke-width="1"/>
<text x="97.60" y="263.40" font-size="5.4" stroke="#222" stroke-width="0.15" text-anchor="middle" fill="#222" textLength="4.6" lengthAdjust="spacingAndGlyphs">12</text>
<circle cx="95.3" cy="187.5" r="3.7" fill="#fff" stroke="#111" stroke-width="1"/>
<text x="95.30" y="189.40" font-size="5.4" stroke="#222" stroke-width="0.15" text-anchor="middle" fill="#222" textLength="4.6" lengthAdjust="spacingAndGlyphs">13</text>
<circle cx="120.2" cy="187.9" r="3.7" fill="#fff" stroke="#111" stroke-width="1"/>
<text x="120.20" y="189.80" font-size="5.4" stroke="#222" stroke-width="0.15" text-anchor="middle" fill="#222" textLength="4.6" lengthAdjust="spacingAndGlyphs">14</text>
<path d="M54.5 268.5 V146.3 H177.3 V257.7" fill="none" stroke="#231f20" stroke-width="1"/>
<line x1="54.50" y1="268.50" x2="127.50" y2="268.50" stroke="#231f20" stroke-width="1"/>
<line x1="52.00" y1="185.50" x2="54.50" y2="185.50" stroke="#231f20" stroke-width="0.9"/>
<text x="49.00" y="188.20" font-size="7.8" stroke="#231f20" stroke-width="0.15" text-anchor="end">10</text>
<line x1="52.00" y1="231.80" x2="54.50" y2="231.80" stroke="#231f20" stroke-width="0.9"/>
<text x="49.00" y="234.50" font-size="7.8" stroke="#231f20" stroke-width="0.15" text-anchor="end">5</text>
<line x1="52.90" y1="268.50" x2="52.90" y2="271.00" stroke="#231f20" stroke-width="0.9"/>
<text x="52.90" y="280.40" font-size="7.8" stroke="#231f20" stroke-width="0.15" text-anchor="middle">−4</text>
<line x1="84.60" y1="268.50" x2="84.60" y2="271.00" stroke="#231f20" stroke-width="0.9"/>
<text x="84.60" y="280.40" font-size="7.8" stroke="#231f20" stroke-width="0.15" text-anchor="middle">0</text>
<line x1="114.30" y1="268.50" x2="114.30" y2="271.00" stroke="#231f20" stroke-width="0.9"/>
<text x="114.30" y="280.40" font-size="7.8" stroke="#231f20" stroke-width="0.15" text-anchor="middle">4</text>
<text x="101.00" y="295.20" font-size="8.6" stroke="#231f20" stroke-width="0.15" textLength="25.4" lengthAdjust="spacingAndGlyphs">UMAP1</text>
<text x="35.80" y="220.00" font-size="8.6" stroke="#231f20" stroke-width="0.15" textLength="25" lengthAdjust="spacingAndGlyphs" transform="rotate(-90 35.80 220.00)">UMAP2</text>
<circle cx="186.3" cy="152.20" r="2.35" fill="#ee7670"/>
<text x="191.00" y="155.00" font-size="7.8" stroke="#3a3a3a" stroke-width="0.05" fill="#3a3a3a">0</text>
<circle cx="186.3" cy="159.27" r="2.35" fill="#e98a14"/>
<text x="191.00" y="162.07" font-size="7.8" stroke="#3a3a3a" stroke-width="0.05" fill="#3a3a3a">1</text>
<circle cx="186.3" cy="166.34" r="2.35" fill="#c9a014"/>
<text x="191.00" y="169.14" font-size="7.8" stroke="#3a3a3a" stroke-width="0.05" fill="#3a3a3a">2</text>
<circle cx="186.3" cy="173.41" r="2.35" fill="#aaad1e"/>
<text x="191.00" y="176.21" font-size="7.8" stroke="#3a3a3a" stroke-width="0.05" fill="#3a3a3a">3</text>
<circle cx="186.3" cy="180.48" r="2.35" fill="#70b61e"/>
<text x="191.00" y="183.28" font-size="7.8" stroke="#3a3a3a" stroke-width="0.05" fill="#3a3a3a">4</text>
<circle cx="186.3" cy="187.55" r="2.35" fill="#2ab23e"/>
<text x="191.00" y="190.35" font-size="7.8" stroke="#3a3a3a" stroke-width="0.05" fill="#3a3a3a">5</text>
<circle cx="186.3" cy="194.62" r="2.35" fill="#2eb072"/>
<text x="191.00" y="197.42" font-size="7.8" stroke="#3a3a3a" stroke-width="0.05" fill="#3a3a3a">6</text>
<circle cx="186.3" cy="201.69" r="2.35" fill="#22b4a0"/>
<text x="191.00" y="204.49" font-size="7.8" stroke="#3a3a3a" stroke-width="0.05" fill="#3a3a3a">7</text>
<circle cx="186.3" cy="208.76" r="2.35" fill="#22b8d8"/>
<text x="191.00" y="211.56" font-size="7.8" stroke="#3a3a3a" stroke-width="0.05" fill="#3a3a3a">8</text>
<circle cx="186.3" cy="215.83" r="2.35" fill="#2aa8e8"/>
<text x="191.00" y="218.63" font-size="7.8" stroke="#3a3a3a" stroke-width="0.05" fill="#3a3a3a">9</text>
<circle cx="186.3" cy="222.90" r="2.35" fill="#6e98e8"/>
<text x="191.00" y="225.70" font-size="7.8" stroke="#3a3a3a" stroke-width="0.05" fill="#3a3a3a">10</text>
<circle cx="186.3" cy="229.97" r="2.35" fill="#a88ad8"/>
<text x="191.00" y="232.77" font-size="7.8" stroke="#3a3a3a" stroke-width="0.05" fill="#3a3a3a">11</text>
<circle cx="186.3" cy="237.04" r="2.35" fill="#d070e0"/>
<text x="191.00" y="239.84" font-size="7.8" stroke="#3a3a3a" stroke-width="0.05" fill="#3a3a3a">12</text>
<circle cx="186.3" cy="244.11" r="2.35" fill="#f060c8"/>
<text x="191.00" y="246.91" font-size="7.8" stroke="#3a3a3a" stroke-width="0.05" fill="#3a3a3a">13</text>
<circle cx="186.3" cy="251.18" r="2.35" fill="#f068a0"/>
<text x="191.00" y="253.98" font-size="7.8" stroke="#3a3a3a" stroke-width="0.05" fill="#3a3a3a">14</text>
<rect x="127.5" y="257.7" width="72.3" height="42.5" fill="#fff" stroke="#231f20" stroke-width="1"/>
<g transform="translate(119.5,223.7) scale(0.26)">
<g filter="url(#fz)">
<path d="M91.0 154.5 C89.2 150.8 86.0 160.1 84.0 163.0 C82.0 165.9 80.4 168.8 79.0 172.0 C77.6 175.2 76.6 178.5 75.5 182.0 C74.4 185.5 73.4 189.7 72.5 193.0 C71.6 196.3 71.1 199.3 70.0 202.0 C68.9 204.7 67.2 207.0 66.0 209.0 C64.8 211.0 62.3 212.5 63.0 214.0 C63.7 215.5 67.8 216.5 70.0 218.0 C72.2 219.5 74.0 221.8 76.0 223.0 C78.0 224.2 80.2 225.2 82.0 225.0 C83.8 224.8 85.3 223.5 87.0 222.0 C88.7 220.5 90.2 217.0 92.0 216.0 C93.8 215.0 96.7 215.3 98.0 216.0 C99.3 216.7 99.5 218.3 100.0 220.0 C100.5 221.7 100.3 225.0 101.0 226.0 C101.7 227.0 103.3 228.3 104.0 226.0 C104.7 223.7 104.7 216.3 105.0 212.0 C105.3 207.7 106.2 203.3 106.0 200.0 C105.8 196.7 105.8 194.5 104.0 192.0 C102.2 189.5 97.2 191.2 95.0 185.0 C92.8 178.8 92.8 158.2 91.0 154.5Z" fill="#e5281a"/>
<path d="M119.0 152.5 C120.8 150.1 125.0 151.8 128.0 151.8 C131.0 151.8 134.4 151.6 137.0 152.5 C139.6 153.4 142.1 155.1 143.5 157.0 C144.9 158.9 145.2 161.7 145.5 164.0 C145.8 166.3 145.5 168.8 145.0 171.0 C144.5 173.2 143.5 175.3 142.5 177.0 C141.5 178.7 140.6 180.2 139.0 181.0 C137.4 181.8 135.2 181.7 133.0 182.0 C130.8 182.3 128.2 183.0 126.0 183.0 C123.8 183.0 121.8 182.7 120.0 182.0 C118.2 181.3 115.5 181.7 115.0 179.0 C114.5 176.3 116.3 170.4 117.0 166.0 C117.7 161.6 117.2 154.9 119.0 152.5Z" fill="#e5281a"/>
<path d="M91.0 154.5 C93.2 152.6 94.2 152.8 97.0 152.3 C99.8 151.9 104.8 151.8 108.0 151.8 C111.2 151.8 113.5 152.0 116.0 152.1 C118.5 152.2 121.5 151.3 123.0 152.6 C124.5 153.9 124.8 157.1 125.0 160.0 C125.2 162.9 125.0 166.8 124.5 170.0 C124.0 173.2 123.2 176.3 122.0 179.0 C120.8 181.7 119.0 184.2 117.0 186.0 C115.0 187.8 112.2 189.2 110.0 190.0 C107.8 190.8 106.2 191.7 104.0 191.0 C101.8 190.3 99.7 188.0 97.0 186.0 C94.3 184.0 90.7 181.2 88.0 179.0 C85.3 176.8 81.7 175.5 81.0 173.0 C80.3 170.5 82.3 167.1 84.0 164.0 C85.7 160.9 88.8 156.4 91.0 154.5Z" fill="#e5281a"/>
<path d="M134.0 178.0 C131.5 179.4 129.1 182.5 127.0 185.0 C124.9 187.5 123.2 190.5 121.5 193.0 C119.8 195.5 118.1 197.8 117.0 200.0 C115.9 202.2 115.0 204.2 115.0 206.0 C115.0 207.8 115.8 209.6 117.0 210.5 C118.2 211.4 120.2 211.4 122.0 211.5 C123.8 211.6 126.0 212.2 128.0 211.0 C130.0 209.8 132.0 206.7 134.0 204.0 C136.0 201.3 138.2 198.0 140.0 195.0 C141.8 192.0 143.5 188.7 144.5 186.0 C145.5 183.3 146.4 180.6 146.0 179.0 C145.6 177.4 144.0 176.7 142.0 176.5 C140.0 176.3 136.5 176.6 134.0 178.0Z" fill="#e5281a"/>
<path d="M103.0 203.0 C104.5 202.1 107.5 202.3 110.0 202.5 C112.5 202.7 115.7 203.2 118.0 204.0 C120.3 204.8 122.4 205.5 124.0 207.0 C125.6 208.5 126.7 210.5 127.5 213.0 C128.3 215.5 128.8 219.3 129.0 222.0 C129.2 224.7 130.8 227.8 128.5 229.0 C126.2 230.2 119.4 229.2 115.0 229.0 C110.6 228.8 104.5 229.8 102.0 228.0 C99.5 226.2 100.2 221.3 100.0 218.0 C99.8 214.7 100.5 210.5 101.0 208.0 C101.5 205.5 101.5 203.9 103.0 203.0Z" fill="#c04a40"/>
<path d="M101.0 227.0 C103.2 225.5 110.3 226.0 115.0 226.0 C119.7 226.0 126.8 225.8 129.0 227.0 C131.2 228.2 128.6 230.9 128.0 233.0 C127.4 235.1 127.0 237.8 125.5 239.5 C124.0 241.2 121.4 242.8 119.0 243.5 C116.6 244.2 113.4 244.2 111.0 243.7 C108.6 243.2 106.1 241.9 104.5 240.5 C102.9 239.1 102.1 237.2 101.5 235.0 C100.9 232.8 98.8 228.5 101.0 227.0Z" fill="#a87070"/>
<path d="M147.0 161.0 C148.0 159.6 150.7 159.8 153.0 159.5 C155.3 159.2 158.5 159.2 161.0 159.5 C163.5 159.8 166.1 160.4 168.0 161.0 C169.9 161.6 171.9 161.9 172.5 163.0 C173.1 164.1 172.6 166.2 171.5 167.5 C170.4 168.8 168.2 170.2 166.0 171.0 C163.8 171.8 160.7 171.8 158.0 172.0 C155.3 172.2 151.8 172.7 150.0 172.0 C148.2 171.3 147.5 169.8 147.0 168.0 C146.5 166.2 146.0 162.4 147.0 161.0Z" fill="#e5281a"/>
<path d="M148.0 170.0 C148.9 169.0 152.0 171.3 154.0 172.0 C156.0 172.7 158.6 172.3 160.0 174.0 C161.4 175.7 162.3 179.3 162.5 182.0 C162.7 184.7 161.8 187.6 161.0 190.0 C160.2 192.4 159.1 196.0 158.0 196.5 C156.9 197.0 155.5 194.9 154.5 193.0 C153.5 191.1 153.0 187.5 152.0 185.0 C151.0 182.5 149.2 180.5 148.5 178.0 C147.8 175.5 147.1 171.0 148.0 170.0Z" fill="#e5281a"/>
<path d="M141.0 202.0 C142.0 200.3 144.3 199.2 146.0 199.0 C147.7 198.8 149.8 199.8 151.0 201.0 C152.2 202.2 152.8 204.2 153.0 206.0 C153.2 207.8 153.2 210.1 152.5 211.5 C151.8 212.9 150.5 214.2 149.0 214.5 C147.5 214.8 145.0 214.4 143.5 213.5 C142.0 212.6 140.4 210.9 140.0 209.0 C139.6 207.1 140.0 203.7 141.0 202.0Z" fill="#d03020"/>
<path d="M85.0 215.0 C86.2 213.6 89.7 213.5 92.0 213.5 C94.3 213.5 97.5 213.6 99.0 215.0 C100.5 216.4 100.8 219.7 101.0 222.0 C101.2 224.3 101.2 227.5 100.0 229.0 C98.8 230.5 96.2 231.0 94.0 231.0 C91.8 231.0 88.6 230.5 87.0 229.0 C85.4 227.5 84.8 224.3 84.5 222.0 C84.2 219.7 83.8 216.4 85.0 215.0Z" fill="#a4a0a0"/>
<path d="M64.0 211.5 C65.5 210.5 68.1 210.1 70.0 210.5 C71.9 210.9 74.2 212.1 75.5 214.0 C76.8 215.9 77.3 219.3 77.5 222.0 C77.7 224.7 76.9 227.7 76.5 230.0 C76.1 232.3 75.8 234.3 75.0 236.0 C74.2 237.7 73.5 239.4 72.0 240.0 C70.5 240.6 67.8 240.5 66.0 239.5 C64.2 238.5 62.0 236.4 61.0 234.0 C60.0 231.6 59.8 227.9 59.8 225.0 C59.8 222.1 60.3 218.8 61.0 216.5 C61.7 214.2 62.5 212.5 64.0 211.5Z" fill="#a0a0a0"/>
<path d="M72.0 236.0 C73.5 235.1 77.5 234.5 80.0 234.5 C82.5 234.5 85.2 234.9 87.0 236.0 C88.8 237.1 90.2 239.0 91.0 241.0 C91.8 243.0 92.5 245.8 92.0 248.0 C91.5 250.2 89.7 253.2 88.0 254.5 C86.3 255.8 84.0 255.9 82.0 255.5 C80.0 255.1 77.4 253.8 76.0 252.0 C74.6 250.2 74.3 247.0 73.5 245.0 C72.7 243.0 71.2 241.5 71.0 240.0 C70.8 238.5 70.5 236.9 72.0 236.0Z" fill="#8e8e8e"/>
<path d="M94.0 249.0 C94.2 247.2 96.0 247.3 97.0 247.5 C98.0 247.7 99.2 248.8 100.0 250.0 C100.8 251.2 101.6 253.5 101.5 255.0 C101.4 256.5 100.5 258.5 99.5 259.0 C98.5 259.5 96.4 259.7 95.5 258.0 C94.6 256.3 93.8 250.8 94.0 249.0Z" fill="#8a8a8a"/>
<path d="M104.0 190.5 C105.2 188.7 107.8 188.0 110.0 187.0 C112.2 186.0 114.8 185.1 117.0 184.5 C119.2 183.9 122.0 183.1 123.5 183.5 C125.0 183.9 126.5 185.0 126.0 187.0 C125.5 189.0 122.0 193.0 120.4 195.4 C118.8 197.8 117.4 200.2 116.2 201.7 C115.0 203.2 114.7 204.0 113.0 204.5 C111.3 205.0 107.7 205.6 106.0 204.5 C104.3 203.4 103.3 200.3 103.0 198.0 C102.7 195.7 102.8 192.3 104.0 190.5Z" fill="#f2c8c0"/>
<path d="M77.0 228.0 C78.3 227.5 81.5 228.3 84.0 229.0 C86.5 229.7 89.3 231.5 92.0 232.0 C94.7 232.5 98.3 231.3 100.0 232.0 C101.7 232.7 102.0 234.7 102.0 236.0 C102.0 237.3 101.5 239.3 100.0 240.0 C98.5 240.7 95.0 240.5 93.0 240.0 C91.0 239.5 90.2 238.0 88.0 237.0 C85.8 236.0 82.0 234.8 80.0 234.0 C78.0 233.2 76.5 233.0 76.0 232.0 C75.5 231.0 75.7 228.5 77.0 228.0Z" fill="#f2c8c0"/>
</g>
</g>
<circle cx="168" cy="273" r="2.6" fill="#e02010"/>
<circle cx="168" cy="286.7" r="2.6" fill="#999"/>
<text x="172.90" y="275.80" font-size="7.6" stroke="#231f20" stroke-width="0.15" textLength="15.6" lengthAdjust="spacingAndGlyphs">Liver</text>
<text x="172.90" y="289.50" font-size="7.6" stroke="#231f20" stroke-width="0.15" textLength="22.7" lengthAdjust="spacingAndGlyphs">Spleen</text>
<text x="258.70" y="137.30" font-size="10.5" stroke="#231f20" stroke-width="0.15" font-weight="bold" textLength="7.6" lengthAdjust="spacingAndGlyphs">D</text>
<rect x="299.5" y="152.5" width="63.5" height="60.5" fill="#e6e6e6"/>
<g filter="url(#spk)">
<g transform="translate(269.50,76.10) scale(0.53,0.52)">
<g filter="url(#fz)">
<path d="M91.0 154.5 C89.2 150.8 86.0 160.1 84.0 163.0 C82.0 165.9 80.4 168.8 79.0 172.0 C77.6 175.2 76.6 178.5 75.5 182.0 C74.4 185.5 73.4 189.7 72.5 193.0 C71.6 196.3 71.1 199.3 70.0 202.0 C68.9 204.7 67.2 207.0 66.0 209.0 C64.8 211.0 62.3 212.5 63.0 214.0 C63.7 215.5 67.8 216.5 70.0 218.0 C72.2 219.5 74.0 221.8 76.0 223.0 C78.0 224.2 80.2 225.2 82.0 225.0 C83.8 224.8 85.3 223.5 87.0 222.0 C88.7 220.5 90.2 217.0 92.0 216.0 C93.8 215.0 96.7 215.3 98.0 216.0 C99.3 216.7 99.5 218.3 100.0 220.0 C100.5 221.7 100.3 225.0 101.0 226.0 C101.7 227.0 103.3 228.3 104.0 226.0 C104.7 223.7 104.7 216.3 105.0 212.0 C105.3 207.7 106.2 203.3 106.0 200.0 C105.8 196.7 105.8 194.5 104.0 192.0 C102.2 189.5 97.2 191.2 95.0 185.0 C92.8 178.8 92.8 158.2 91.0 154.5Z" fill="#ccb8b6"/>
<path d="M119.0 152.5 C120.8 150.1 125.0 151.8 128.0 151.8 C131.0 151.8 134.4 151.6 137.0 152.5 C139.6 153.4 142.1 155.1 143.5 157.0 C144.9 158.9 145.2 161.7 145.5 164.0 C145.8 166.3 145.5 168.8 145.0 171.0 C144.5 173.2 143.5 175.3 142.5 177.0 C141.5 178.7 140.6 180.2 139.0 181.0 C137.4 181.8 135.2 181.7 133.0 182.0 C130.8 182.3 128.2 183.0 126.0 183.0 C123.8 183.0 121.8 182.7 120.0 182.0 C118.2 181.3 115.5 181.7 115.0 179.0 C114.5 176.3 116.3 170.4 117.0 166.0 C117.7 161.6 117.2 154.9 119.0 152.5Z" fill="#d8a49c"/>
<path d="M91.0 154.5 C93.2 152.6 94.2 152.8 97.0 152.3 C99.8 151.9 104.8 151.8 108.0 151.8 C111.2 151.8 113.5 152.0 116.0 152.1 C118.5 152.2 121.5 151.3 123.0 152.6 C124.5 153.9 124.8 157.1 125.0 160.0 C125.2 162.9 125.0 166.8 124.5 170.0 C124.0 173.2 123.2 176.3 122.0 179.0 C120.8 181.7 119.0 184.2 117.0 186.0 C115.0 187.8 112.2 189.2 110.0 190.0 C107.8 190.8 106.2 191.7 104.0 191.0 C101.8 190.3 99.7 188.0 97.0 186.0 C94.3 184.0 90.7 181.2 88.0 179.0 C85.3 176.8 81.7 175.5 81.0 173.0 C80.3 170.5 82.3 167.1 84.0 164.0 C85.7 160.9 88.8 156.4 91.0 154.5Z" fill="#d6b2ac"/>
<path d="M134.0 178.0 C131.5 179.4 129.1 182.5 127.0 185.0 C124.9 187.5 123.2 190.5 121.5 193.0 C119.8 195.5 118.1 197.8 117.0 200.0 C115.9 202.2 115.0 204.2 115.0 206.0 C115.0 207.8 115.8 209.6 117.0 210.5 C118.2 211.4 120.2 211.4 122.0 211.5 C123.8 211.6 126.0 212.2 128.0 211.0 C130.0 209.8 132.0 206.7 134.0 204.0 C136.0 201.3 138.2 198.0 140.0 195.0 C141.8 192.0 143.5 188.7 144.5 186.0 C145.5 183.3 146.4 180.6 146.0 179.0 C145.6 177.4 144.0 176.7 142.0 176.5 C140.0 176.3 136.5 176.6 134.0 178.0Z" fill="#d4aaa4"/>
<path d="M103.0 203.0 C104.5 202.1 107.5 202.3 110.0 202.5 C112.5 202.7 115.7 203.2 118.0 204.0 C120.3 204.8 122.4 205.5 124.0 207.0 C125.6 208.5 126.7 210.5 127.5 213.0 C128.3 215.5 128.8 219.3 129.0 222.0 C129.2 224.7 130.8 227.8 128.5 229.0 C126.2 230.2 119.4 229.2 115.0 229.0 C110.6 228.8 104.5 229.8 102.0 228.0 C99.5 226.2 100.2 221.3 100.0 218.0 C99.8 214.7 100.5 210.5 101.0 208.0 C101.5 205.5 101.5 203.9 103.0 203.0Z" fill="#d49c94"/>
<path d="M101.0 227.0 C103.2 225.5 110.3 226.0 115.0 226.0 C119.7 226.0 126.8 225.8 129.0 227.0 C131.2 228.2 128.6 230.9 128.0 233.0 C127.4 235.1 127.0 237.8 125.5 239.5 C124.0 241.2 121.4 242.8 119.0 243.5 C116.6 244.2 113.4 244.2 111.0 243.7 C108.6 243.2 106.1 241.9 104.5 240.5 C102.9 239.1 102.1 237.2 101.5 235.0 C100.9 232.8 98.8 228.5 101.0 227.0Z" fill="#de826f"/>
<path d="M147.0 161.0 C148.0 159.6 150.7 159.8 153.0 159.5 C155.3 159.2 158.5 159.2 161.0 159.5 C163.5 159.8 166.1 160.4 168.0 161.0 C169.9 161.6 171.9 161.9 172.5 163.0 C173.1 164.1 172.6 166.2 171.5 167.5 C170.4 168.8 168.2 170.2 166.0 171.0 C163.8 171.8 160.7 171.8 158.0 172.0 C155.3 172.2 151.8 172.7 150.0 172.0 C148.2 171.3 147.5 169.8 147.0 168.0 C146.5 166.2 146.0 162.4 147.0 161.0Z" fill="#d8a098"/>
<path d="M148.0 170.0 C148.9 169.0 152.0 171.3 154.0 172.0 C156.0 172.7 158.6 172.3 160.0 174.0 C161.4 175.7 162.3 179.3 162.5 182.0 C162.7 184.7 161.8 187.6 161.0 190.0 C160.2 192.4 159.1 196.0 158.0 196.5 C156.9 197.0 155.5 194.9 154.5 193.0 C153.5 191.1 153.0 187.5 152.0 185.0 C151.0 182.5 149.2 180.5 148.5 178.0 C147.8 175.5 147.1 171.0 148.0 170.0Z" fill="#d0b4b0"/>
<path d="M141.0 202.0 C142.0 200.3 144.3 199.2 146.0 199.0 C147.7 198.8 149.8 199.8 151.0 201.0 C152.2 202.2 152.8 204.2 153.0 206.0 C153.2 207.8 153.2 210.1 152.5 211.5 C151.8 212.9 150.5 214.2 149.0 214.5 C147.5 214.8 145.0 214.4 143.5 213.5 C142.0 212.6 140.4 210.9 140.0 209.0 C139.6 207.1 140.0 203.7 141.0 202.0Z" fill="#d0b0ae"/>
<path d="M85.0 215.0 C86.2 213.6 89.7 213.5 92.0 213.5 C94.3 213.5 97.5 213.6 99.0 215.0 C100.5 216.4 100.8 219.7 101.0 222.0 C101.2 224.3 101.2 227.5 100.0 229.0 C98.8 230.5 96.2 231.0 94.0 231.0 C91.8 231.0 88.6 230.5 87.0 229.0 C85.4 227.5 84.8 224.3 84.5 222.0 C84.2 219.7 83.8 216.4 85.0 215.0Z" fill="#c8baba"/>
<path d="M64.0 211.5 C65.5 210.5 68.1 210.1 70.0 210.5 C71.9 210.9 74.2 212.1 75.5 214.0 C76.8 215.9 77.3 219.3 77.5 222.0 C77.7 224.7 76.9 227.7 76.5 230.0 C76.1 232.3 75.8 234.3 75.0 236.0 C74.2 237.7 73.5 239.4 72.0 240.0 C70.5 240.6 67.8 240.5 66.0 239.5 C64.2 238.5 62.0 236.4 61.0 234.0 C60.0 231.6 59.8 227.9 59.8 225.0 C59.8 222.1 60.3 218.8 61.0 216.5 C61.7 214.2 62.5 212.5 64.0 211.5Z" fill="#c6b8b8"/>
<path d="M72.0 236.0 C73.5 235.1 77.5 234.5 80.0 234.5 C82.5 234.5 85.2 234.9 87.0 236.0 C88.8 237.1 90.2 239.0 91.0 241.0 C91.8 243.0 92.5 245.8 92.0 248.0 C91.5 250.2 89.7 253.2 88.0 254.5 C86.3 255.8 84.0 255.9 82.0 255.5 C80.0 255.1 77.4 253.8 76.0 252.0 C74.6 250.2 74.3 247.0 73.5 245.0 C72.7 243.0 71.2 241.5 71.0 240.0 C70.8 238.5 70.5 236.9 72.0 236.0Z" fill="#ccbebe"/>
<path d="M94.0 249.0 C94.2 247.2 96.0 247.3 97.0 247.5 C98.0 247.7 99.2 248.8 100.0 250.0 C100.8 251.2 101.6 253.5 101.5 255.0 C101.4 256.5 100.5 258.5 99.5 259.0 C98.5 259.5 96.4 259.7 95.5 258.0 C94.6 256.3 93.8 250.8 94.0 249.0Z" fill="#cebebe"/>
<path d="M104.0 190.5 C105.2 188.7 107.8 188.0 110.0 187.0 C112.2 186.0 114.8 185.1 117.0 184.5 C119.2 183.9 122.0 183.1 123.5 183.5 C125.0 183.9 126.5 185.0 126.0 187.0 C125.5 189.0 122.0 193.0 120.4 195.4 C118.8 197.8 117.4 200.2 116.2 201.7 C115.0 203.2 114.7 204.0 113.0 204.5 C111.3 205.0 107.7 205.6 106.0 204.5 C104.3 203.4 103.3 200.3 103.0 198.0 C102.7 195.7 102.8 192.3 104.0 190.5Z" fill="#e2dcdc"/>
<path d="M77.0 228.0 C78.3 227.5 81.5 228.3 84.0 229.0 C86.5 229.7 89.3 231.5 92.0 232.0 C94.7 232.5 98.3 231.3 100.0 232.0 C101.7 232.7 102.0 234.7 102.0 236.0 C102.0 237.3 101.5 239.3 100.0 240.0 C98.5 240.7 95.0 240.5 93.0 240.0 C91.0 239.5 90.2 238.0 88.0 237.0 C85.8 236.0 82.0 234.8 80.0 234.0 C78.0 233.2 76.5 233.0 76.0 232.0 C75.5 231.0 75.7 228.5 77.0 228.0Z" fill="#e2dcdc"/>
</g>
</g></g>
<text x="298.30" y="150.20" font-size="7.6" stroke="#231f20" stroke-width="0.1" font-style="italic" textLength="23.2" lengthAdjust="spacingAndGlyphs">MKI67</text>
<line x1="296.00" y1="172.50" x2="298.00" y2="172.50" stroke="#231f20" stroke-width="0.8"/>
<text x="293.00" y="175.20" font-size="7.6" stroke="#231f20" stroke-width="0.15" text-anchor="end">10</text>
<line x1="296.00" y1="195.00" x2="298.00" y2="195.00" stroke="#231f20" stroke-width="0.8"/>
<text x="293.00" y="197.70" font-size="7.6" stroke="#231f20" stroke-width="0.15" text-anchor="end">5</text>
<line x1="313.80" y1="213.70" x2="313.80" y2="215.80" stroke="#231f20" stroke-width="0.8"/>
<text x="313.80" y="225.60" font-size="7.6" stroke="#231f20" stroke-width="0.15" text-anchor="middle">0</text>
<line x1="329.50" y1="213.70" x2="329.50" y2="215.80" stroke="#231f20" stroke-width="0.8"/>
<text x="329.50" y="225.60" font-size="7.6" stroke="#231f20" stroke-width="0.15" text-anchor="middle">4</text>
<line x1="346.20" y1="213.70" x2="346.20" y2="215.80" stroke="#231f20" stroke-width="0.8"/>
<text x="346.20" y="225.60" font-size="7.6" stroke="#231f20" stroke-width="0.15" text-anchor="middle">8</text>
<line x1="362.50" y1="213.70" x2="362.50" y2="215.80" stroke="#231f20" stroke-width="0.8"/>
<text x="362.50" y="225.60" font-size="7.6" stroke="#231f20" stroke-width="0.15" text-anchor="middle">12</text>
<text x="318.80" y="239.30" font-size="8.6" stroke="#231f20" stroke-width="0.15" textLength="24.3" lengthAdjust="spacingAndGlyphs">UMAP1</text>
<text x="279.20" y="195.50" font-size="8.6" stroke="#231f20" stroke-width="0.15" textLength="26" lengthAdjust="spacingAndGlyphs" transform="rotate(-90 279.20 195.50)">UMAP2</text>
<rect x="383.8" y="153.4" width="130.40000000000003" height="73.19999999999999" fill="#ebebeb"/>
<line x1="381.60" y1="224.00" x2="383.80" y2="224.00" stroke="#231f20" stroke-width="0.8"/>
<text x="378.00" y="226.60" font-size="7.2" stroke="#231f20" stroke-width="0.15" text-anchor="end">0</text>
<line x1="381.60" y1="206.60" x2="383.80" y2="206.60" stroke="#231f20" stroke-width="0.8"/>
<text x="378.00" y="209.20" font-size="7.2" stroke="#231f20" stroke-width="0.15" text-anchor="end">1</text>
<line x1="381.60" y1="189.20" x2="383.80" y2="189.20" stroke="#231f20" stroke-width="0.8"/>
<text x="378.00" y="191.80" font-size="7.2" stroke="#231f20" stroke-width="0.15" text-anchor="end">2</text>
<line x1="381.60" y1="171.80" x2="383.80" y2="171.80" stroke="#231f20" stroke-width="0.8"/>
<text x="378.00" y="174.40" font-size="7.2" stroke="#231f20" stroke-width="0.15" text-anchor="end">3</text>
<line x1="381.60" y1="154.40" x2="383.80" y2="154.40" stroke="#231f20" stroke-width="0.8"/>
<text x="378.00" y="157.00" font-size="7.2" stroke="#231f20" stroke-width="0.15" text-anchor="end">4</text>
<line x1="383.80" y1="153.40" x2="383.80" y2="226.60" stroke="#231f20" stroke-width="0.9"/>
<line x1="383.80" y1="226.60" x2="514.20" y2="226.60" stroke="#231f20" stroke-width="0.9"/>
<line x1="389.20" y1="224.00" x2="389.20" y2="154.40" stroke="#cfcfcf" stroke-width="0.6"/>
<line x1="397.75" y1="224.00" x2="397.75" y2="157.88" stroke="#cfcfcf" stroke-width="0.6"/>
<line x1="406.30" y1="224.00" x2="406.30" y2="168.32" stroke="#cfcfcf" stroke-width="0.6"/>
<line x1="414.85" y1="224.00" x2="414.85" y2="171.80" stroke="#cfcfcf" stroke-width="0.6"/>
<line x1="423.40" y1="224.00" x2="423.40" y2="163.10" stroke="#cfcfcf" stroke-width="0.6"/>
<line x1="431.95" y1="224.00" x2="431.95" y2="166.58" stroke="#cfcfcf" stroke-width="0.6"/>
<line x1="440.50" y1="224.00" x2="440.50" y2="173.54" stroke="#cfcfcf" stroke-width="0.6"/>
<line x1="449.05" y1="224.00" x2="449.05" y2="168.32" stroke="#cfcfcf" stroke-width="0.6"/>
<line x1="457.60" y1="224.00" x2="457.60" y2="170.06" stroke="#2a8a98" stroke-width="0.6"/>
<line x1="466.15" y1="224.00" x2="466.15" y2="171.80" stroke="#cfcfcf" stroke-width="0.6"/>
<line x1="474.70" y1="224.00" x2="474.70" y2="168.32" stroke="#4a64a8" stroke-width="0.6"/>
<line x1="483.25" y1="224.00" x2="483.25" y2="170.06" stroke="#cfcfcf" stroke-width="0.6"/>
<line x1="491.80" y1="224.00" x2="491.80" y2="166.58" stroke="#cfcfcf" stroke-width="0.6"/>
<line x1="500.35" y1="224.00" x2="500.35" y2="163.10" stroke="#cfcfcf" stroke-width="0.6"/>
<line x1="508.90" y1="224.00" x2="508.90" y2="171.80" stroke="#f068a0" stroke-width="0.6"/>
<g filter="url(#fz2)">
<rect x="385.9" y="182.2" width="6.6" height="15.1" fill="#111" opacity="1"/>
<rect x="385.9" y="171.8" width="6.6" height="9.2" fill="#111" opacity="0.88"/>
<rect x="394.4" y="182.6" width="6.6" height="13.6" fill="#111" opacity="1"/>
<rect x="394.4" y="171.8" width="6.6" height="9.6" fill="#111" opacity="0.82"/>
<rect x="403.0" y="191.3" width="6.6" height="23.3" fill="#111" opacity="1"/>
<rect x="403.0" y="177.7" width="6.6" height="13.6" fill="#111" opacity="0.72"/>
<rect x="411.5" y="189.2" width="6.6" height="24.4" fill="#111" opacity="0.97"/>
<rect x="411.5" y="182.2" width="6.6" height="7.0" fill="#111" opacity="0.6"/>
<rect x="420.1" y="182.2" width="6.6" height="32.4" fill="#1c2a12" opacity="0.95"/>
<rect x="428.6" y="182.2" width="6.6" height="16.2" fill="#111" opacity="0.3"/>
</g>
<path d="M385.6 172.2h0.7M385.8 197.3h0.7M385.9 197.8h0.7M385.9 191.2h0.7M385.9 181.8h0.7M385.9 206.5h0.7M385.9 169.0h0.7M386.0 199.9h0.7M386.1 205.2h0.7M386.3 182.4h0.7M386.4 198.0h0.7M386.5 177.7h0.7M386.5 200.7h0.7M386.5 157.2h0.7M386.6 202.9h0.7M386.6 199.0h0.7M386.6 182.4h0.7M386.6 191.4h0.7M386.7 164.8h0.7M386.7 182.1h0.7M386.7 195.1h0.7M386.7 199.3h0.7M386.8 203.9h0.7M386.8 203.1h0.7M386.8 178.2h0.7M386.9 181.9h0.7M386.9 193.3h0.7M387.2 204.6h0.7M387.2 206.5h0.7M387.2 187.6h0.7M387.3 164.7h0.7M387.4 176.3h0.7M387.4 202.1h0.7M387.4 203.5h0.7M387.5 183.1h0.7M387.6 170.2h0.7M387.7 163.5h0.7M387.7 196.6h0.7M387.7 188.7h0.7M387.7 168.7h0.7M387.8 198.0h0.7M387.8 177.1h0.7M387.8 203.4h0.7M387.8 181.6h0.7M387.9 189.7h0.7M388.0 185.4h0.7M388.0 163.1h0.7M388.0 184.9h0.7M388.1 182.1h0.7M388.1 182.6h0.7M388.2 203.3h0.7M388.2 187.9h0.7M388.3 169.3h0.7M388.3 187.9h0.7M388.5 204.8h0.7M388.6 194.7h0.7M388.6 175.0h0.7M388.6 180.5h0.7M388.6 163.9h0.7M388.7 191.1h0.7M388.7 169.9h0.7M388.9 166.7h0.7M388.9 154.8h0.7M389.0 206.3h0.7M389.0 182.6h0.7M389.0 194.4h0.7M389.0 155.5h0.7M389.1 198.8h0.7M389.1 203.6h0.7M389.1 166.9h0.7M389.1 168.9h0.7M389.2 171.2h0.7M389.2 169.0h0.7M389.4 162.8h0.7M389.4 194.0h0.7M389.4 204.4h0.7M389.4 154.6h0.7M389.5 171.6h0.7M389.7 183.1h0.7M389.7 200.9h0.7M389.7 201.4h0.7M389.8 203.1h0.7M389.8 160.5h0.7M389.8 176.3h0.7M389.8 182.5h0.7M389.9 177.6h0.7M389.9 203.7h0.7M389.9 181.3h0.7M390.1 200.4h0.7M390.1 155.1h0.7M390.2 175.2h0.7M390.2 165.7h0.7M390.3 197.6h0.7M390.3 188.7h0.7M390.4 167.4h0.7M390.5 201.4h0.7M390.5 206.6h0.7M390.5 196.9h0.7M390.6 156.7h0.7M390.6 158.4h0.7M390.6 158.3h0.7M390.7 165.5h0.7M390.8 159.8h0.7M390.8 181.6h0.7M390.9 163.3h0.7M390.9 200.6h0.7M391.0 205.6h0.7M391.0 204.7h0.7M391.1 160.2h0.7M391.2 182.1h0.7M391.2 201.6h0.7M391.3 165.5h0.7M391.3 206.4h0.7M391.3 160.8h0.7M391.3 160.5h0.7M391.5 163.7h0.7M391.5 161.5h0.7M391.6 176.3h0.7M391.6 159.0h0.7M391.6 200.7h0.7M391.6 168.9h0.7M391.7 165.7h0.7M391.7 169.2h0.7M391.7 199.4h0.7M391.7 154.4h0.7M391.8 181.3h0.7M391.8 158.2h0.7M391.9 206.6h0.7M391.9 197.2h0.7M392.0 181.9h0.7M392.1 196.2h0.7M392.2 169.7h0.7M392.2 170.8h0.7M392.2 203.9h0.7M392.2 188.2h0.7M392.2 181.5h0.7M392.2 199.5h0.7M392.3 181.8h0.7M392.3 194.9h0.7M392.4 204.6h0.7M392.4 197.7h0.7M392.4 199.0h0.7M392.4 166.7h0.7M392.4 182.2h0.7M392.4 159.1h0.7M392.5 204.9h0.7M392.5 154.8h0.7M392.5 183.6h0.7M392.5 203.8h0.7M392.6 200.0h0.7M392.6 169.9h0.7M392.7 165.2h0.7M392.8 159.8h0.7" stroke="#111" stroke-width="0.7" fill="none" opacity="0.85"/>
<rect x="385.7" y="223.5" width="7" height="1.3" fill="#6a6a6a"/>
<line x1="389.20" y1="226.60" x2="389.20" y2="228.90" stroke="#231f20" stroke-width="0.8"/>
<path d="M394.2 162.5h0.7M394.2 169.2h0.7M394.3 197.5h0.7M394.4 170.6h0.7M394.4 169.3h0.7M394.5 200.1h0.7M394.5 189.9h0.7M394.5 179.3h0.7M394.5 199.3h0.7M394.5 196.0h0.7M394.5 193.7h0.7M394.5 170.7h0.7M394.6 205.8h0.7M394.6 190.3h0.7M394.6 195.9h0.7M394.6 198.1h0.7M394.7 201.4h0.7M394.7 196.4h0.7M394.7 200.1h0.7M394.8 195.9h0.7M394.9 191.2h0.7M394.9 166.1h0.7M395.0 169.1h0.7M395.0 170.7h0.7M395.1 165.5h0.7M395.1 197.4h0.7M395.1 199.2h0.7M395.1 167.1h0.7M395.2 161.8h0.7M395.2 197.1h0.7M395.2 171.1h0.7M395.2 161.1h0.7M395.3 169.9h0.7M395.3 202.3h0.7M395.3 178.2h0.7M395.4 162.8h0.7M395.6 197.7h0.7M395.7 173.6h0.7M395.7 197.8h0.7M395.8 174.7h0.7M395.9 164.6h0.7M395.9 198.9h0.7M396.1 195.6h0.7M396.2 187.8h0.7M396.2 197.6h0.7M396.2 199.0h0.7M396.4 200.6h0.7M396.4 191.6h0.7M396.4 174.9h0.7M396.4 201.8h0.7M396.4 189.5h0.7M396.4 202.1h0.7M396.5 201.4h0.7M396.5 168.9h0.7M396.7 164.3h0.7M396.7 185.9h0.7M396.7 164.2h0.7M396.8 168.9h0.7M396.8 196.8h0.7M396.9 205.5h0.7M396.9 167.2h0.7M397.0 202.6h0.7M397.0 162.8h0.7M397.1 195.5h0.7M397.2 164.3h0.7M397.3 181.3h0.7M397.3 199.3h0.7M397.3 162.0h0.7M397.4 193.6h0.7M397.6 161.1h0.7M397.6 161.0h0.7M397.6 196.3h0.7M397.7 200.3h0.7M397.7 172.0h0.7M397.8 198.3h0.7M397.9 161.4h0.7M398.0 190.2h0.7M398.0 204.2h0.7M398.1 200.9h0.7M398.1 197.3h0.7M398.1 201.6h0.7M398.1 203.9h0.7M398.2 177.4h0.7M398.3 187.1h0.7M398.3 164.6h0.7M398.3 177.1h0.7M398.3 202.1h0.7M398.3 189.2h0.7M398.4 205.0h0.7M398.5 171.2h0.7M398.5 205.0h0.7M398.6 200.8h0.7M398.7 191.1h0.7M398.7 205.0h0.7M398.7 199.2h0.7M398.8 161.7h0.7M398.9 172.1h0.7M398.9 163.1h0.7M398.9 198.3h0.7M398.9 160.0h0.7M399.0 170.8h0.7M399.0 200.6h0.7M399.0 179.7h0.7M399.0 194.2h0.7M399.1 160.2h0.7M399.2 206.0h0.7M399.3 178.1h0.7M399.4 206.3h0.7M399.4 171.4h0.7M399.5 200.6h0.7M399.6 168.7h0.7M399.7 201.7h0.7M399.8 206.4h0.7M399.8 202.6h0.7M399.8 203.6h0.7M399.9 167.9h0.7M400.0 188.7h0.7M400.1 204.2h0.7M400.1 203.5h0.7M400.2 205.9h0.7M400.6 166.1h0.7M400.7 201.3h0.7M400.7 201.6h0.7M400.7 178.3h0.7M400.8 203.5h0.7M400.8 203.7h0.7M400.9 191.4h0.7M400.9 180.3h0.7M401.0 187.6h0.7M401.0 199.9h0.7M401.0 180.9h0.7M401.1 203.5h0.7M401.2 190.2h0.7M401.3 184.8h0.7M401.3 196.4h0.7" stroke="#111" stroke-width="0.7" fill="none" opacity="0.85"/>
<rect x="394.2" y="223.5" width="7" height="1.3" fill="#6a6a6a"/>
<line x1="397.75" y1="226.60" x2="397.75" y2="228.90" stroke="#231f20" stroke-width="0.8"/>
<path d="M402.7 200.2h0.7M402.8 200.9h0.7M402.8 175.9h0.7M402.9 203.2h0.7M403.1 178.5h0.7M403.2 176.3h0.7M403.2 187.9h0.7M403.3 204.4h0.7M403.4 172.4h0.7M403.4 173.6h0.7M403.5 200.5h0.7M403.6 175.4h0.7M403.7 200.0h0.7M403.9 178.2h0.7M403.9 213.9h0.7M403.9 174.1h0.7M404.0 200.4h0.7M404.1 180.8h0.7M404.1 204.7h0.7M404.2 181.4h0.7M404.3 200.3h0.7M404.3 186.0h0.7M404.4 173.4h0.7M404.4 181.0h0.7M404.4 186.5h0.7M404.5 201.8h0.7M404.6 203.6h0.7M404.7 179.7h0.7M404.9 180.7h0.7M404.9 188.0h0.7M405.0 177.7h0.7M405.0 184.8h0.7M405.3 212.0h0.7M405.3 193.8h0.7M405.3 177.6h0.7M405.3 175.0h0.7M405.4 187.9h0.7M405.5 203.4h0.7M405.5 208.2h0.7M405.7 187.4h0.7M405.7 171.7h0.7M405.9 175.0h0.7M405.9 172.6h0.7M406.0 170.8h0.7M406.2 183.5h0.7M406.4 207.3h0.7M406.5 189.3h0.7M406.5 199.0h0.7M406.6 178.0h0.7M406.7 188.9h0.7M406.7 172.1h0.7M406.8 212.9h0.7M406.9 214.0h0.7M406.9 195.7h0.7M407.0 201.4h0.7M407.1 187.0h0.7M407.1 180.5h0.7M407.2 182.8h0.7M407.3 208.9h0.7M407.5 186.5h0.7M407.5 188.8h0.7M407.6 176.5h0.7M407.7 172.4h0.7M407.8 197.1h0.7M407.9 211.5h0.7M408.2 193.1h0.7M408.4 170.6h0.7M408.5 194.8h0.7M408.5 191.4h0.7M408.5 176.4h0.7M408.7 173.7h0.7M408.7 189.0h0.7M408.7 177.7h0.7M408.9 189.2h0.7M409.0 183.5h0.7M409.0 196.8h0.7M409.2 178.7h0.7M409.2 191.5h0.7M409.2 190.3h0.7M409.4 184.1h0.7M409.4 172.1h0.7M409.5 171.3h0.7M409.7 174.1h0.7M409.7 213.3h0.7M409.8 200.0h0.7" stroke="#111" stroke-width="0.7" fill="none" opacity="0.85"/>
<path d="M402.6 224.7 C403.5 221.8 405.1 218.4 405.9 216.5 L406.8 216.5 C407.5 218.4 409.1 221.8 410.0 224.7Z" fill="#c9a014" stroke="#2a2a2a" stroke-width="0.25"/>
<line x1="406.30" y1="226.60" x2="406.30" y2="228.90" stroke="#231f20" stroke-width="0.8"/>
<path d="M411.3 187.1h0.7M411.4 208.5h0.7M411.5 182.7h0.7M411.5 193.2h0.7M411.6 197.6h0.7M411.6 197.3h0.7M411.8 182.4h0.7M411.9 182.3h0.7M412.0 211.7h0.7M412.1 183.7h0.7M412.1 205.0h0.7M412.1 192.1h0.7M412.2 194.5h0.7M412.6 173.9h0.7M412.6 182.1h0.7M412.6 182.9h0.7M412.7 213.1h0.7M412.8 180.7h0.7M413.1 214.7h0.7M413.2 200.6h0.7M413.2 212.7h0.7M413.3 212.3h0.7M413.3 198.9h0.7M413.3 202.0h0.7M413.7 205.0h0.7M413.8 198.6h0.7M413.8 212.1h0.7M413.8 188.6h0.7M414.0 196.4h0.7M414.0 212.7h0.7M414.0 199.4h0.7M414.2 212.4h0.7M414.3 213.5h0.7M414.5 209.4h0.7M414.6 202.3h0.7M414.6 199.9h0.7M414.7 175.2h0.7M414.7 212.0h0.7M414.7 183.3h0.7M415.0 185.8h0.7M415.1 181.0h0.7M415.4 187.8h0.7M415.5 200.2h0.7M415.5 211.2h0.7M415.6 178.1h0.7M415.6 181.0h0.7M415.7 182.4h0.7M415.9 183.9h0.7M415.9 177.8h0.7M416.0 207.0h0.7M416.2 202.3h0.7M416.2 182.1h0.7M416.3 181.6h0.7M416.3 197.9h0.7M416.4 175.6h0.7M416.4 188.9h0.7M416.5 176.8h0.7M416.6 191.6h0.7M416.7 182.9h0.7M416.8 214.5h0.7M416.9 201.6h0.7M416.9 210.1h0.7M417.1 176.3h0.7M417.4 180.7h0.7M417.5 200.9h0.7M417.6 184.1h0.7M417.7 189.0h0.7M417.8 186.6h0.7M417.9 189.6h0.7M417.9 207.1h0.7M417.9 177.2h0.7M418.0 201.9h0.7M418.1 174.3h0.7M418.1 175.3h0.7M418.2 186.5h0.7M418.2 198.1h0.7M418.2 193.5h0.7M418.2 200.6h0.7M418.3 207.7h0.7M418.4 202.1h0.7" stroke="#111" stroke-width="0.7" fill="none" opacity="0.85"/>
<path d="M411.1 224.7 C412.1 221.8 413.6 218.4 414.4 216.5 L415.3 216.5 C416.0 218.4 417.6 221.8 418.5 224.7Z" fill="#aaad1e" stroke="#2a2a2a" stroke-width="0.25"/>
<line x1="414.85" y1="226.60" x2="414.85" y2="228.90" stroke="#231f20" stroke-width="0.8"/>
<path d="M419.8 204.9h0.7M420.0 176.8h0.7M420.1 185.0h0.7M420.1 215.0h0.7M420.2 210.5h0.7M420.3 185.0h0.7M420.3 212.0h0.7M420.3 212.1h0.7M420.4 167.6h0.7M420.4 203.0h0.7M420.4 181.3h0.7M420.4 208.2h0.7M420.6 205.1h0.7M420.6 180.8h0.7M420.6 182.3h0.7M420.6 182.0h0.7M420.6 194.8h0.7M420.7 185.9h0.7M420.8 170.8h0.7M420.8 176.9h0.7M421.0 177.5h0.7M421.1 192.7h0.7M421.1 184.1h0.7M421.1 204.8h0.7M421.4 209.9h0.7M421.4 194.0h0.7M421.7 189.0h0.7M421.7 190.1h0.7M421.7 189.5h0.7M421.7 181.6h0.7M421.7 206.7h0.7M421.7 184.3h0.7M421.7 210.3h0.7M422.0 167.8h0.7M422.2 201.1h0.7M422.2 188.5h0.7M422.3 180.1h0.7M422.4 206.3h0.7M422.5 172.2h0.7M422.6 181.6h0.7M422.6 174.0h0.7M422.8 190.4h0.7M422.8 211.7h0.7M422.8 192.2h0.7M422.9 179.3h0.7M423.0 184.8h0.7M423.0 191.4h0.7M423.0 177.6h0.7M423.1 179.0h0.7M423.2 183.9h0.7M423.2 176.5h0.7M423.3 210.5h0.7M423.4 186.6h0.7M423.4 181.4h0.7M423.4 175.7h0.7M423.4 184.1h0.7M423.5 188.9h0.7M423.5 179.9h0.7M423.6 176.4h0.7M423.7 198.1h0.7M423.7 178.1h0.7M423.8 184.0h0.7M423.8 189.6h0.7M423.9 174.5h0.7M423.9 178.5h0.7M424.0 185.9h0.7M424.2 190.2h0.7M424.3 200.5h0.7M424.3 186.4h0.7M424.3 201.8h0.7M424.4 211.7h0.7M424.4 201.9h0.7M424.4 193.4h0.7M424.4 212.9h0.7M424.5 199.3h0.7M424.7 213.1h0.7M424.9 167.0h0.7M424.9 174.7h0.7M425.0 184.3h0.7M425.1 175.2h0.7M425.2 178.1h0.7M425.4 182.1h0.7M425.4 176.4h0.7M425.4 205.7h0.7M425.5 182.5h0.7M425.5 172.7h0.7M425.8 173.6h0.7M425.8 188.0h0.7M426.4 195.4h0.7M426.5 172.0h0.7M426.5 171.1h0.7M426.6 206.1h0.7M426.8 173.1h0.7M426.8 213.6h0.7M426.9 167.4h0.7" stroke="#1c2a12" stroke-width="0.7" fill="none" opacity="0.85"/>
<path d="M419.7 224.7 C420.6 221.4 422.2 217.5 422.9 215.3 L423.8 215.3 C424.6 217.5 426.2 221.4 427.1 224.7Z" fill="#70b61e" stroke="#2a2a2a" stroke-width="0.25"/>
<line x1="423.40" y1="226.60" x2="423.40" y2="228.90" stroke="#231f20" stroke-width="0.8"/>
<path d="M428.4 178.7h0.7M428.4 187.7h0.7M428.4 202.6h0.7M428.4 200.8h0.7M428.4 195.6h0.7M428.4 196.1h0.7M428.5 204.4h0.7M428.5 186.6h0.7M428.5 191.0h0.7M428.5 197.9h0.7M428.6 182.2h0.7M428.6 178.5h0.7M428.7 174.6h0.7M428.7 201.3h0.7M428.8 171.9h0.7M428.9 171.2h0.7M428.9 186.7h0.7M429.0 186.0h0.7M429.0 170.4h0.7M429.0 183.8h0.7M429.1 188.8h0.7M429.1 177.3h0.7M429.2 177.2h0.7M429.2 180.7h0.7M429.3 169.2h0.7M429.3 168.4h0.7M429.3 190.3h0.7M429.3 173.0h0.7M429.4 192.7h0.7M429.4 174.4h0.7M429.4 189.6h0.7M429.5 176.1h0.7M429.5 191.7h0.7M429.6 201.5h0.7M429.6 186.0h0.7M429.7 189.6h0.7M429.8 168.7h0.7M429.8 202.0h0.7M429.8 201.5h0.7M429.9 193.5h0.7M429.9 190.2h0.7M429.9 180.2h0.7M429.9 203.2h0.7M430.0 204.4h0.7M430.0 181.9h0.7M430.0 175.1h0.7M430.2 194.1h0.7M430.2 204.2h0.7M430.3 195.7h0.7M430.3 189.9h0.7M430.4 185.0h0.7M430.4 197.3h0.7M430.5 171.0h0.7M430.5 203.1h0.7M430.6 190.0h0.7M430.6 176.8h0.7M430.6 170.5h0.7M430.7 171.4h0.7M430.7 174.7h0.7M430.7 200.4h0.7M430.8 195.8h0.7M430.8 180.7h0.7M430.8 204.1h0.7M430.8 202.9h0.7M430.9 197.0h0.7M431.0 194.9h0.7M431.0 174.4h0.7M431.0 202.8h0.7M431.0 178.5h0.7M431.1 181.7h0.7M431.3 183.1h0.7M431.3 178.6h0.7M431.3 190.5h0.7M431.3 176.2h0.7M431.4 200.9h0.7M431.4 206.5h0.7M431.5 189.1h0.7M431.5 190.3h0.7M431.6 199.9h0.7M431.6 203.2h0.7M431.6 195.9h0.7M431.6 191.2h0.7M431.6 175.8h0.7M431.6 205.3h0.7M431.7 180.5h0.7M431.7 170.7h0.7M431.7 187.0h0.7M431.7 196.8h0.7M431.8 199.8h0.7M431.8 175.9h0.7M431.8 177.6h0.7M431.8 186.1h0.7M431.9 182.1h0.7M432.0 184.6h0.7M432.0 175.1h0.7M432.0 178.1h0.7M432.0 178.6h0.7M432.0 193.3h0.7M432.0 180.1h0.7M432.0 202.5h0.7M432.2 175.6h0.7M432.2 199.2h0.7M432.2 203.9h0.7M432.3 168.8h0.7M432.5 174.2h0.7M432.5 202.6h0.7M432.5 181.5h0.7M432.6 183.5h0.7M432.6 193.7h0.7M432.7 204.4h0.7M432.7 177.6h0.7M432.7 203.0h0.7M432.7 171.4h0.7M432.8 179.4h0.7M432.8 174.0h0.7M432.8 194.4h0.7M432.9 203.5h0.7M432.9 192.0h0.7M433.1 195.7h0.7M433.1 189.3h0.7M433.1 181.3h0.7M433.1 173.9h0.7M433.1 198.2h0.7M433.2 203.9h0.7M433.3 194.0h0.7M433.3 189.6h0.7M433.4 200.4h0.7M433.5 172.8h0.7M433.5 183.1h0.7M433.5 204.6h0.7M433.6 195.1h0.7M433.6 180.0h0.7M433.7 195.7h0.7M433.8 202.4h0.7M433.8 181.5h0.7M433.8 183.8h0.7M433.8 180.5h0.7M433.9 201.9h0.7M433.9 176.2h0.7M433.9 189.2h0.7M433.9 180.5h0.7M433.9 176.3h0.7M434.0 192.4h0.7M434.2 195.3h0.7M434.3 197.5h0.7M434.4 182.7h0.7M434.4 190.5h0.7M434.4 173.9h0.7M434.5 182.9h0.7M434.5 169.3h0.7M434.5 194.3h0.7M434.5 191.7h0.7M434.5 182.9h0.7M434.5 180.1h0.7M434.6 202.8h0.7M434.6 189.3h0.7M434.7 189.8h0.7M434.7 205.8h0.7M434.7 202.3h0.7M434.8 170.1h0.7M434.9 182.1h0.7M435.0 173.3h0.7M435.0 189.6h0.7M435.0 186.9h0.7M435.0 173.2h0.7M435.1 170.5h0.7M435.2 170.9h0.7M435.2 185.5h0.7M435.4 185.5h0.7M435.5 202.7h0.7" stroke="#111" stroke-width="0.7" fill="none" opacity="0.85"/>
<rect x="428.4" y="223.5" width="7" height="1.3" fill="#6a6a6a"/>
<line x1="431.95" y1="226.60" x2="431.95" y2="228.90" stroke="#231f20" stroke-width="0.8"/>
<path d="M437.0 203.7h0.7M437.0 179.2h0.7M437.0 188.8h0.7M437.2 199.5h0.7M437.2 189.1h0.7M437.3 188.9h0.7M437.4 182.4h0.7M437.5 179.8h0.7M437.5 204.6h0.7M437.6 202.2h0.7M437.7 206.3h0.7M437.8 207.3h0.7M437.9 188.1h0.7M438.0 193.1h0.7M438.2 206.3h0.7M438.2 205.9h0.7M438.4 201.2h0.7M438.5 206.9h0.7M438.5 184.7h0.7M438.5 190.0h0.7M438.7 187.7h0.7M438.7 198.6h0.7M438.7 183.8h0.7M438.8 207.4h0.7M438.8 203.0h0.7M438.9 194.0h0.7M438.9 198.6h0.7M438.9 201.2h0.7M439.0 194.1h0.7M439.0 192.7h0.7M439.0 183.6h0.7M439.1 208.2h0.7M439.1 208.0h0.7M439.1 184.0h0.7M439.2 196.0h0.7M439.2 189.8h0.7M439.2 177.3h0.7M439.6 200.6h0.7M439.8 203.3h0.7M439.8 179.2h0.7M439.9 202.9h0.7M440.1 180.3h0.7M440.2 201.4h0.7M440.2 200.2h0.7M440.3 197.5h0.7M440.4 200.3h0.7M440.4 203.7h0.7M440.4 178.4h0.7M440.4 185.8h0.7M440.5 206.9h0.7M440.7 192.9h0.7M440.7 199.8h0.7M440.8 193.4h0.7M440.8 187.9h0.7M440.8 193.8h0.7M440.9 179.8h0.7M440.9 198.9h0.7M440.9 194.4h0.7M441.0 194.5h0.7M441.0 196.3h0.7M441.1 192.7h0.7M441.1 187.5h0.7M441.2 204.6h0.7M441.2 193.6h0.7M441.3 197.7h0.7M441.3 194.6h0.7M441.3 201.1h0.7M441.3 196.8h0.7M441.4 200.3h0.7M441.6 189.4h0.7M441.7 192.5h0.7M441.7 191.7h0.7M441.7 189.1h0.7M441.8 198.0h0.7M441.9 188.6h0.7M441.9 197.3h0.7M441.9 189.1h0.7M442.0 186.1h0.7M442.0 179.4h0.7M442.1 187.4h0.7M442.1 184.9h0.7M442.2 199.5h0.7M442.2 185.5h0.7M442.2 186.3h0.7M442.2 177.2h0.7M442.2 205.4h0.7M442.3 182.1h0.7M442.3 178.7h0.7M442.4 185.7h0.7M442.4 197.9h0.7M442.5 205.7h0.7M442.6 177.4h0.7M442.7 178.3h0.7M442.8 207.2h0.7M442.9 179.5h0.7M442.9 192.0h0.7M443.0 181.7h0.7M443.1 188.5h0.7M443.1 183.6h0.7M443.1 188.4h0.7M443.2 193.1h0.7M443.4 192.6h0.7M443.5 195.0h0.7M443.5 201.9h0.7M443.6 203.3h0.7M443.7 193.7h0.7M443.8 186.0h0.7M443.8 184.2h0.7M443.9 186.0h0.7M444.0 202.3h0.7" stroke="#111" stroke-width="0.7" fill="none" opacity="0.85"/>
<rect x="437.0" y="223.5" width="7" height="1.3" fill="#6a6a6a"/>
<line x1="440.50" y1="226.60" x2="440.50" y2="228.90" stroke="#231f20" stroke-width="0.8"/>
<path d="M445.5 193.9h0.7M445.6 201.7h0.7M445.6 198.6h0.7M445.7 203.1h0.7M445.7 185.3h0.7M445.8 177.0h0.7M446.0 197.1h0.7M446.1 204.5h0.7M446.2 204.2h0.7M446.3 188.6h0.7M446.3 191.6h0.7M446.3 206.6h0.7M446.3 205.7h0.7M446.4 195.7h0.7M446.5 195.1h0.7M446.5 178.2h0.7M446.7 191.2h0.7M446.8 175.6h0.7M446.8 205.3h0.7M446.9 203.6h0.7M447.0 191.2h0.7M447.0 184.6h0.7M447.0 200.5h0.7M447.1 201.2h0.7M447.1 175.8h0.7M447.1 200.1h0.7M447.2 203.3h0.7M447.2 195.5h0.7M447.3 206.5h0.7M447.3 186.1h0.7M447.4 190.2h0.7M447.4 184.8h0.7M447.4 177.5h0.7M447.5 204.3h0.7M447.6 178.8h0.7M447.6 195.4h0.7M447.6 188.4h0.7M447.7 206.4h0.7M447.7 192.4h0.7M447.7 199.3h0.7M447.7 201.9h0.7M447.7 179.2h0.7M447.8 183.5h0.7M447.8 175.9h0.7M447.8 191.7h0.7M447.8 185.1h0.7M447.8 198.3h0.7M447.9 185.5h0.7M447.9 195.7h0.7M448.1 198.5h0.7M448.1 191.8h0.7M448.1 190.4h0.7M448.2 182.7h0.7M448.4 198.2h0.7M448.4 195.7h0.7M448.5 200.5h0.7M448.5 191.1h0.7M448.5 198.9h0.7M448.5 178.6h0.7M448.5 205.0h0.7M448.5 184.0h0.7M448.6 183.7h0.7M448.6 195.4h0.7M448.6 176.9h0.7M448.6 203.3h0.7M448.7 200.9h0.7M448.8 205.1h0.7M448.9 185.3h0.7M448.9 176.9h0.7M448.9 187.3h0.7M448.9 179.5h0.7M448.9 179.9h0.7M449.0 190.8h0.7M449.0 191.1h0.7M449.0 196.6h0.7M449.2 193.2h0.7M449.2 185.5h0.7M449.2 204.6h0.7M449.4 182.6h0.7M449.4 199.4h0.7M449.4 175.7h0.7M449.5 186.0h0.7M449.5 191.8h0.7M449.6 182.8h0.7M449.6 178.7h0.7M449.7 181.8h0.7M449.7 189.5h0.7M449.7 187.1h0.7M449.7 206.5h0.7M449.7 180.4h0.7M449.7 176.9h0.7M449.8 188.4h0.7M449.8 197.1h0.7M449.9 197.6h0.7M449.9 176.0h0.7M449.9 175.4h0.7M450.0 197.4h0.7M450.1 199.7h0.7M450.1 188.4h0.7M450.2 176.0h0.7M450.2 177.3h0.7M450.3 199.0h0.7M450.3 199.8h0.7M450.3 205.9h0.7M450.3 190.2h0.7M450.6 187.5h0.7M450.6 181.9h0.7M450.6 197.5h0.7M450.6 175.6h0.7M450.7 177.3h0.7M450.7 202.5h0.7M450.8 181.1h0.7M450.8 190.1h0.7M450.9 183.4h0.7M450.9 202.5h0.7M451.0 197.0h0.7M451.1 197.9h0.7M451.1 191.2h0.7M451.1 202.1h0.7M451.3 183.5h0.7M451.3 197.2h0.7M451.4 202.3h0.7M451.5 177.6h0.7M451.8 205.6h0.7M451.9 205.2h0.7M451.9 197.6h0.7M451.9 188.8h0.7M451.9 178.6h0.7M452.0 185.4h0.7M452.0 186.1h0.7M452.0 192.0h0.7M452.1 178.9h0.7M452.1 181.8h0.7M452.2 183.1h0.7M452.2 182.5h0.7M452.3 202.4h0.7M452.3 176.8h0.7M452.3 202.8h0.7M452.4 205.1h0.7M452.6 179.9h0.7" stroke="#111" stroke-width="0.7" fill="none" opacity="0.85"/>
<rect x="445.6" y="223.5" width="7" height="1.3" fill="#6a6a6a"/>
<line x1="449.05" y1="226.60" x2="449.05" y2="228.90" stroke="#231f20" stroke-width="0.8"/>
<path d="M454.1 178.1h0.7M454.2 176.0h0.7M454.2 193.7h0.7M454.3 173.7h0.7M454.3 186.0h0.7M454.5 195.1h0.7M454.5 183.9h0.7M454.5 191.0h0.7M454.5 193.3h0.7M454.6 185.9h0.7M454.7 178.6h0.7M454.7 200.3h0.7M454.8 197.0h0.7M454.8 195.7h0.7M454.8 204.6h0.7M454.9 195.2h0.7M454.9 200.5h0.7M454.9 186.4h0.7M455.0 208.6h0.7M455.0 175.8h0.7M455.1 177.6h0.7M455.1 183.1h0.7M455.2 190.6h0.7M455.2 197.3h0.7M455.2 202.7h0.7M455.2 208.7h0.7M455.3 188.8h0.7M455.4 176.4h0.7M455.4 203.3h0.7M455.5 204.4h0.7M455.5 172.5h0.7M455.5 192.3h0.7M455.6 202.3h0.7M455.6 174.5h0.7M455.7 179.9h0.7M455.7 197.5h0.7M455.7 192.8h0.7M455.7 196.8h0.7M455.8 184.5h0.7M455.8 203.7h0.7M455.8 198.9h0.7M455.8 190.1h0.7M455.9 189.4h0.7M455.9 175.0h0.7M455.9 194.5h0.7M455.9 180.5h0.7M455.9 182.1h0.7M455.9 192.1h0.7M456.3 184.2h0.7M456.4 178.8h0.7M456.4 174.3h0.7M456.4 207.3h0.7M456.4 172.2h0.7M456.5 199.4h0.7M456.6 181.1h0.7M456.7 181.8h0.7M456.7 176.5h0.7M456.7 210.0h0.7M456.7 200.5h0.7M456.7 193.9h0.7M456.8 184.0h0.7M456.8 182.1h0.7M456.9 183.0h0.7M457.0 199.8h0.7M457.0 192.5h0.7M457.1 184.1h0.7M457.1 189.2h0.7M457.1 203.0h0.7M457.2 182.7h0.7M457.2 205.0h0.7M457.2 202.5h0.7M457.3 179.8h0.7M457.3 176.2h0.7M457.4 209.9h0.7M457.4 198.7h0.7M457.4 174.5h0.7M457.5 185.0h0.7M457.5 200.1h0.7M457.6 200.2h0.7M457.6 189.4h0.7M457.6 187.0h0.7M457.8 184.1h0.7M457.8 187.8h0.7M457.8 179.2h0.7M458.0 186.0h0.7M458.0 178.4h0.7M458.0 207.3h0.7M458.0 195.4h0.7M458.0 189.5h0.7M458.1 185.7h0.7M458.1 179.9h0.7M458.2 202.0h0.7M458.2 195.9h0.7M458.3 173.5h0.7M458.3 175.4h0.7M458.3 199.6h0.7M458.3 171.9h0.7M458.3 175.7h0.7M458.3 189.0h0.7M458.4 174.7h0.7M458.4 175.9h0.7M458.4 201.7h0.7M458.5 194.5h0.7M458.5 185.2h0.7M458.6 178.1h0.7M458.6 184.6h0.7M458.7 178.2h0.7M458.7 174.7h0.7M458.8 175.8h0.7M458.8 198.3h0.7M458.9 176.3h0.7M458.9 204.5h0.7M458.9 191.9h0.7M458.9 183.7h0.7M458.9 196.3h0.7M459.0 172.7h0.7M459.0 207.6h0.7M459.0 177.3h0.7M459.1 176.2h0.7M459.1 180.8h0.7M459.2 176.5h0.7M459.3 199.9h0.7M459.4 204.6h0.7M459.4 196.6h0.7M459.4 191.0h0.7M459.6 202.6h0.7M459.6 172.2h0.7M459.8 193.4h0.7M460.0 196.2h0.7M460.2 189.5h0.7M460.2 205.7h0.7M460.2 185.0h0.7M460.5 202.7h0.7M460.5 186.8h0.7M460.6 195.1h0.7M460.6 200.6h0.7M460.7 185.9h0.7M460.7 196.1h0.7M460.8 191.1h0.7M460.8 191.4h0.7M460.8 177.3h0.7M460.8 202.8h0.7M460.9 175.9h0.7M460.9 203.3h0.7M461.0 172.3h0.7M461.1 198.0h0.7M461.1 196.0h0.7M461.1 206.7h0.7M461.2 171.8h0.7M461.2 187.0h0.7" stroke="#10353f" stroke-width="0.7" fill="none" opacity="0.85"/>
<path d="M453.9 224.7 C454.8 221.8 456.4 218.5 457.2 216.7 L458.1 216.7 C458.8 218.5 460.4 221.8 461.3 224.7Z" fill="#22b8d8" stroke="#2a2a2a" stroke-width="0.25"/>
<line x1="457.60" y1="226.60" x2="457.60" y2="228.90" stroke="#231f20" stroke-width="0.8"/>
<path d="M462.6 187.6h0.7M462.7 203.2h0.7M462.7 193.2h0.7M462.8 190.6h0.7M462.8 193.1h0.7M463.0 187.3h0.7M463.1 175.5h0.7M463.1 204.2h0.7M463.3 201.7h0.7M463.4 182.7h0.7M463.4 192.7h0.7M463.4 195.6h0.7M463.5 195.7h0.7M463.5 206.1h0.7M463.5 190.2h0.7M463.5 180.1h0.7M463.5 199.9h0.7M463.6 202.7h0.7M463.6 195.3h0.7M463.7 186.8h0.7M463.8 192.1h0.7M463.8 196.8h0.7M463.8 177.8h0.7M463.8 198.7h0.7M463.9 189.8h0.7M464.0 185.5h0.7M464.0 186.1h0.7M464.0 198.5h0.7M464.0 203.4h0.7M464.0 197.8h0.7M464.2 187.5h0.7M464.2 202.5h0.7M464.2 175.2h0.7M464.2 191.3h0.7M464.3 192.8h0.7M464.3 202.7h0.7M464.3 177.2h0.7M464.5 183.5h0.7M464.5 184.4h0.7M464.5 183.6h0.7M464.5 184.4h0.7M464.5 187.4h0.7M464.6 205.4h0.7M464.6 188.5h0.7M464.6 191.0h0.7M464.7 181.4h0.7M464.7 182.3h0.7M464.7 206.4h0.7M464.7 186.6h0.7M464.7 198.5h0.7M464.8 175.3h0.7M464.9 199.4h0.7M464.9 190.7h0.7M464.9 191.2h0.7M465.0 181.5h0.7M465.0 185.4h0.7M465.0 178.0h0.7M465.0 188.5h0.7M465.1 183.3h0.7M465.1 183.1h0.7M465.1 189.6h0.7M465.2 189.7h0.7M465.3 185.9h0.7M465.3 196.6h0.7M465.3 199.6h0.7M465.4 180.3h0.7M465.4 192.5h0.7M465.4 190.4h0.7M465.4 199.6h0.7M465.5 190.0h0.7M465.5 197.8h0.7M465.5 200.7h0.7M465.6 177.8h0.7M465.6 184.0h0.7M465.6 184.0h0.7M465.6 182.6h0.7M465.7 204.3h0.7M465.7 196.4h0.7M465.8 190.3h0.7M466.1 200.1h0.7M466.1 178.8h0.7M466.1 177.1h0.7M466.1 190.6h0.7M466.2 192.4h0.7M466.2 180.7h0.7M466.3 176.0h0.7M466.4 181.8h0.7M466.5 204.8h0.7M466.5 195.8h0.7M466.5 191.2h0.7M466.6 182.0h0.7M466.6 180.7h0.7M466.7 176.0h0.7M466.8 178.3h0.7M466.9 181.1h0.7M467.0 185.7h0.7M467.0 190.8h0.7M467.0 184.0h0.7M467.1 173.8h0.7M467.1 178.2h0.7M467.1 177.9h0.7M467.2 205.5h0.7M467.2 200.7h0.7M467.2 191.6h0.7M467.4 194.4h0.7M467.5 174.9h0.7M467.5 174.3h0.7M467.5 188.0h0.7M467.6 191.5h0.7M467.7 182.6h0.7M467.8 195.4h0.7M467.8 175.1h0.7M468.0 183.7h0.7M468.0 181.8h0.7M468.0 183.4h0.7M468.2 194.2h0.7M468.2 181.4h0.7M468.2 184.9h0.7M468.2 177.3h0.7M468.3 200.6h0.7M468.4 189.8h0.7M468.4 181.9h0.7M468.4 201.6h0.7M468.5 184.4h0.7M468.5 201.8h0.7M468.5 193.8h0.7M468.6 179.7h0.7M468.6 183.1h0.7M468.7 177.4h0.7M469.0 195.2h0.7M469.0 204.8h0.7M469.1 190.5h0.7M469.3 183.1h0.7M469.3 184.6h0.7M469.3 202.3h0.7M469.4 201.8h0.7M469.4 174.5h0.7M469.4 190.1h0.7M469.4 176.7h0.7M469.5 194.4h0.7M469.5 194.7h0.7M469.5 176.3h0.7M469.5 191.1h0.7M469.5 188.9h0.7M469.6 205.9h0.7M469.6 184.3h0.7M469.7 191.9h0.7M469.7 180.7h0.7M469.7 177.7h0.7M469.7 177.3h0.7" stroke="#111" stroke-width="0.7" fill="none" opacity="0.85"/>
<rect x="462.6" y="223.5" width="7" height="1.3" fill="#6a6a6a"/>
<line x1="466.15" y1="226.60" x2="466.15" y2="228.90" stroke="#231f20" stroke-width="0.8"/>
<path d="M471.2 201.9h0.7M471.3 178.1h0.7M471.3 192.1h0.7M471.3 196.7h0.7M471.3 200.0h0.7M471.3 206.2h0.7M471.3 208.7h0.7M471.4 197.4h0.7M471.5 196.1h0.7M471.5 190.9h0.7M471.6 180.4h0.7M471.7 198.7h0.7M471.7 192.1h0.7M471.9 172.4h0.7M471.9 204.3h0.7M472.0 209.8h0.7M472.0 194.5h0.7M472.1 191.3h0.7M472.1 175.8h0.7M472.2 194.3h0.7M472.2 173.3h0.7M472.2 202.6h0.7M472.3 205.3h0.7M472.3 192.2h0.7M472.4 190.5h0.7M472.4 193.7h0.7M472.5 194.8h0.7M472.5 189.8h0.7M472.5 191.8h0.7M472.6 201.4h0.7M472.7 198.2h0.7M472.7 185.6h0.7M472.7 178.5h0.7M472.7 176.5h0.7M472.7 189.4h0.7M472.8 202.1h0.7M472.8 192.3h0.7M472.8 191.1h0.7M472.9 199.9h0.7M473.0 175.5h0.7M473.0 198.3h0.7M473.2 202.8h0.7M473.2 182.1h0.7M473.3 207.4h0.7M473.3 203.7h0.7M473.4 176.5h0.7M473.4 202.8h0.7M473.5 172.3h0.7M473.5 189.2h0.7M473.5 200.3h0.7M473.6 207.4h0.7M473.6 193.3h0.7M473.6 208.1h0.7M473.7 197.4h0.7M473.8 206.5h0.7M473.8 202.6h0.7M473.9 178.5h0.7M474.0 199.4h0.7M474.0 207.7h0.7M474.0 173.0h0.7M474.1 182.8h0.7M474.2 191.3h0.7M474.4 173.6h0.7M474.4 208.9h0.7M474.5 176.8h0.7M474.5 178.3h0.7M474.6 185.7h0.7M474.7 193.7h0.7M474.8 189.1h0.7M474.8 176.2h0.7M474.9 202.5h0.7M474.9 192.8h0.7M474.9 176.6h0.7M475.0 199.1h0.7M475.0 204.1h0.7M475.1 189.8h0.7M475.1 198.9h0.7M475.2 183.1h0.7M475.2 208.1h0.7M475.2 186.2h0.7M475.2 195.3h0.7M475.2 174.3h0.7M475.2 199.4h0.7M475.3 208.6h0.7M475.3 190.2h0.7M475.3 199.0h0.7M475.3 192.9h0.7M475.3 204.8h0.7M475.3 174.2h0.7M475.5 197.1h0.7M475.6 172.4h0.7M475.6 186.1h0.7M475.8 183.8h0.7M475.8 173.1h0.7M475.9 175.1h0.7M476.1 182.0h0.7M476.1 202.3h0.7M476.1 189.7h0.7M476.2 187.3h0.7M476.3 200.3h0.7M476.3 204.7h0.7M476.3 178.2h0.7M476.3 197.3h0.7M476.4 209.0h0.7M476.4 185.5h0.7M476.4 199.2h0.7M476.5 203.1h0.7M476.6 192.5h0.7M476.7 186.5h0.7M476.7 195.3h0.7M476.7 207.4h0.7M476.7 200.9h0.7M476.7 199.3h0.7M476.8 200.9h0.7M476.8 204.8h0.7M476.8 190.3h0.7M476.9 188.4h0.7M476.9 185.3h0.7M476.9 184.0h0.7M477.0 194.3h0.7M477.1 175.0h0.7M477.1 181.5h0.7M477.1 177.8h0.7M477.1 184.0h0.7M477.2 194.8h0.7M477.2 181.7h0.7M477.2 198.2h0.7M477.2 179.0h0.7M477.2 201.9h0.7M477.2 179.6h0.7M477.3 178.6h0.7M477.5 191.6h0.7M477.5 179.6h0.7M477.5 198.6h0.7M477.5 205.5h0.7M477.5 198.4h0.7M477.6 194.1h0.7M477.6 181.5h0.7M477.6 204.9h0.7M477.6 179.9h0.7M477.6 208.6h0.7M477.6 204.8h0.7M477.7 207.0h0.7M477.7 188.0h0.7M477.7 179.5h0.7M477.7 187.8h0.7M477.8 203.8h0.7M477.9 204.1h0.7M478.1 179.2h0.7M478.2 206.9h0.7" stroke="#1e2c58" stroke-width="0.7" fill="none" opacity="0.85"/>
<path d="M471.0 224.7 C471.9 221.8 473.5 218.5 474.2 216.7 L475.1 216.7 C475.9 218.5 477.5 221.8 478.4 224.7Z" fill="#6e98e8" stroke="#2a2a2a" stroke-width="0.25"/>
<line x1="474.70" y1="226.60" x2="474.70" y2="228.90" stroke="#231f20" stroke-width="0.8"/>
<path d="M479.7 196.0h0.7M479.7 190.2h0.7M479.8 177.1h0.7M479.9 189.8h0.7M479.9 182.8h0.7M479.9 176.4h0.7M480.0 188.3h0.7M480.0 197.5h0.7M480.1 183.9h0.7M480.2 201.7h0.7M480.2 175.4h0.7M480.3 176.7h0.7M480.4 199.1h0.7M480.4 181.9h0.7M480.7 197.9h0.7M481.0 183.5h0.7M481.0 188.3h0.7M481.0 180.1h0.7M481.1 186.6h0.7M481.2 200.4h0.7M481.3 178.8h0.7M481.4 194.7h0.7M481.5 188.9h0.7M481.7 177.8h0.7M481.7 180.8h0.7M481.8 186.2h0.7M481.9 176.8h0.7M481.9 186.7h0.7M481.9 185.9h0.7M482.0 176.6h0.7M482.0 203.0h0.7M482.0 187.9h0.7M482.0 200.7h0.7M482.1 200.9h0.7M482.1 176.3h0.7M482.1 183.8h0.7M482.2 200.7h0.7M482.2 199.7h0.7M482.4 193.0h0.7M482.4 202.1h0.7M482.5 189.0h0.7M482.5 191.8h0.7M482.6 175.9h0.7M482.6 177.8h0.7M482.7 188.1h0.7M482.8 199.5h0.7M482.8 181.4h0.7M482.9 180.6h0.7M482.9 197.3h0.7M483.0 177.5h0.7M483.0 199.2h0.7M483.1 175.9h0.7M483.1 187.8h0.7M483.1 197.2h0.7M483.3 188.0h0.7M483.3 201.9h0.7M483.3 179.0h0.7M483.3 176.0h0.7M483.4 181.5h0.7M483.6 181.6h0.7M483.8 191.7h0.7M483.8 185.1h0.7M483.8 180.2h0.7M483.9 176.1h0.7M484.0 187.7h0.7M484.0 201.7h0.7M484.0 197.3h0.7M484.1 201.0h0.7M484.1 195.5h0.7M484.2 202.0h0.7M484.3 201.4h0.7M484.3 182.4h0.7M484.6 177.1h0.7M484.7 185.0h0.7M484.7 183.6h0.7M484.8 187.7h0.7M484.9 203.9h0.7M485.0 195.6h0.7M485.0 187.0h0.7M485.0 191.0h0.7M485.0 193.6h0.7M485.0 193.1h0.7M485.1 184.2h0.7M485.1 194.5h0.7M485.1 182.1h0.7M485.3 184.4h0.7M485.3 196.6h0.7M485.4 203.7h0.7M485.4 175.5h0.7M485.6 185.8h0.7M485.6 181.3h0.7M485.7 177.6h0.7M485.7 179.2h0.7M485.9 198.8h0.7M485.9 202.3h0.7M485.9 176.8h0.7M485.9 201.2h0.7M485.9 203.5h0.7M486.0 198.7h0.7M486.1 189.9h0.7M486.3 183.3h0.7M486.3 203.4h0.7M486.3 177.6h0.7M486.3 198.8h0.7M486.6 204.5h0.7M486.7 178.3h0.7M486.7 188.8h0.7M486.7 193.2h0.7M486.7 180.2h0.7M486.8 185.2h0.7" stroke="#111" stroke-width="0.7" fill="none" opacity="0.85"/>
<rect x="479.8" y="223.5" width="7" height="1.3" fill="#6a6a6a"/>
<line x1="483.25" y1="226.60" x2="483.25" y2="228.90" stroke="#231f20" stroke-width="0.8"/>
<path d="M489.1 180.8h0.7M489.3 180.4h0.7M489.6 194.7h0.7M489.6 195.7h0.7M489.7 187.5h0.7M490.1 181.2h0.7M490.1 186.8h0.7M490.3 194.8h0.7M491.0 182.5h0.7M491.2 184.2h0.7M491.2 195.2h0.7M491.4 185.6h0.7M491.6 184.7h0.7M491.9 193.7h0.7M491.9 186.6h0.7M492.4 188.0h0.7M492.6 185.7h0.7M492.6 192.1h0.7M492.7 193.3h0.7M492.7 183.4h0.7M492.8 188.4h0.7M492.8 185.4h0.7M493.4 189.4h0.7M493.5 180.5h0.7M493.6 193.5h0.7M493.8 191.9h0.7M494.2 194.7h0.7M494.2 182.2h0.7M494.2 195.6h0.7M494.3 188.3h0.7M494.4 194.1h0.7M494.5 179.7h0.7M494.6 179.1h0.7M495.0 185.8h0.7M495.1 190.2h0.7" stroke="#111" stroke-width="0.7" fill="none" opacity="0.85"/>
<rect x="488.3" y="223.5" width="7" height="1.3" fill="#6a6a6a"/>
<line x1="491.80" y1="226.60" x2="491.80" y2="228.90" stroke="#231f20" stroke-width="0.8"/>
<path d="M496.8 181.4h0.7M497.0 190.5h0.7M497.1 188.5h0.7M497.3 181.6h0.7M497.4 188.5h0.7M497.5 180.7h0.7M497.5 190.1h0.7M498.3 179.5h0.7M498.6 185.6h0.7M499.3 179.1h0.7M499.5 190.0h0.7M499.8 182.1h0.7M500.4 183.0h0.7M500.8 184.6h0.7M501.0 184.7h0.7M501.2 190.3h0.7M501.2 183.2h0.7M501.3 189.1h0.7M501.5 178.9h0.7M502.4 179.3h0.7M502.4 191.3h0.7M502.5 185.5h0.7M502.6 185.3h0.7M503.6 186.5h0.7M503.7 184.6h0.7" stroke="#111" stroke-width="0.7" fill="none" opacity="0.85"/>
<rect x="496.9" y="223.5" width="7" height="1.3" fill="#6a6a6a"/>
<line x1="500.35" y1="226.60" x2="500.35" y2="228.90" stroke="#231f20" stroke-width="0.8"/>
<path d="M505.4 206.5h0.7M505.5 209.2h0.7M506.2 195.6h0.7M506.3 202.7h0.7M506.5 174.2h0.7M506.5 193.6h0.7M506.6 184.3h0.7M506.8 207.9h0.7M506.8 186.9h0.7M506.8 189.7h0.7M507.0 171.8h0.7M507.0 198.4h0.7M507.1 172.8h0.7M507.2 174.9h0.7M507.3 171.9h0.7M507.4 208.5h0.7M507.6 205.0h0.7M507.7 188.2h0.7M507.7 177.0h0.7M507.9 206.1h0.7M508.0 182.8h0.7M508.0 183.8h0.7M508.1 185.7h0.7M508.8 178.6h0.7M509.0 204.9h0.7M509.1 207.7h0.7M509.2 175.5h0.7M509.5 178.6h0.7M509.6 189.7h0.7M509.6 174.5h0.7M509.6 196.9h0.7M509.7 195.9h0.7M510.0 174.5h0.7M510.0 192.1h0.7M510.2 205.3h0.7M510.6 177.2h0.7M510.6 199.4h0.7M510.7 177.1h0.7M510.7 176.4h0.7M511.5 181.7h0.7M511.6 208.3h0.7M511.6 195.1h0.7M511.6 185.1h0.7M511.7 180.5h0.7M511.7 212.3h0.7M512.0 179.1h0.7M512.2 172.6h0.7M512.2 191.0h0.7M512.3 202.9h0.7M512.4 207.4h0.7" stroke="#c03070" stroke-width="0.7" fill="none" opacity="0.85"/>
<path d="M504.9 224.7 C505.9 220.6 507.7 215.5 508.4 212.7 L509.3 212.7 C510.1 215.5 511.9 220.6 512.9 224.7Z" fill="#f068a0" stroke="#2a2a2a" stroke-width="0.25"/>
<line x1="508.90" y1="226.60" x2="508.90" y2="228.90" stroke="#231f20" stroke-width="0.8"/>
<rect x="299.5" y="258" width="63.5" height="60.5" fill="#e6e6e6"/>
<g filter="url(#spk)">
<g transform="translate(269.50,182.40) scale(0.53,0.52)">
<g filter="url(#fz)">
<path d="M91.0 154.5 C89.2 150.8 86.0 160.1 84.0 163.0 C82.0 165.9 80.4 168.8 79.0 172.0 C77.6 175.2 76.6 178.5 75.5 182.0 C74.4 185.5 73.4 189.7 72.5 193.0 C71.6 196.3 71.1 199.3 70.0 202.0 C68.9 204.7 67.2 207.0 66.0 209.0 C64.8 211.0 62.3 212.5 63.0 214.0 C63.7 215.5 67.8 216.5 70.0 218.0 C72.2 219.5 74.0 221.8 76.0 223.0 C78.0 224.2 80.2 225.2 82.0 225.0 C83.8 224.8 85.3 223.5 87.0 222.0 C88.7 220.5 90.2 217.0 92.0 216.0 C93.8 215.0 96.7 215.3 98.0 216.0 C99.3 216.7 99.5 218.3 100.0 220.0 C100.5 221.7 100.3 225.0 101.0 226.0 C101.7 227.0 103.3 228.3 104.0 226.0 C104.7 223.7 104.7 216.3 105.0 212.0 C105.3 207.7 106.2 203.3 106.0 200.0 C105.8 196.7 105.8 194.5 104.0 192.0 C102.2 189.5 97.2 191.2 95.0 185.0 C92.8 178.8 92.8 158.2 91.0 154.5Z" fill="#dcb0a6"/>
<path d="M119.0 152.5 C120.8 150.1 125.0 151.8 128.0 151.8 C131.0 151.8 134.4 151.6 137.0 152.5 C139.6 153.4 142.1 155.1 143.5 157.0 C144.9 158.9 145.2 161.7 145.5 164.0 C145.8 166.3 145.5 168.8 145.0 171.0 C144.5 173.2 143.5 175.3 142.5 177.0 C141.5 178.7 140.6 180.2 139.0 181.0 C137.4 181.8 135.2 181.7 133.0 182.0 C130.8 182.3 128.2 183.0 126.0 183.0 C123.8 183.0 121.8 182.7 120.0 182.0 C118.2 181.3 115.5 181.7 115.0 179.0 C114.5 176.3 116.3 170.4 117.0 166.0 C117.7 161.6 117.2 154.9 119.0 152.5Z" fill="#e6947f"/>
<path d="M91.0 154.5 C93.2 152.6 94.2 152.8 97.0 152.3 C99.8 151.9 104.8 151.8 108.0 151.8 C111.2 151.8 113.5 152.0 116.0 152.1 C118.5 152.2 121.5 151.3 123.0 152.6 C124.5 153.9 124.8 157.1 125.0 160.0 C125.2 162.9 125.0 166.8 124.5 170.0 C124.0 173.2 123.2 176.3 122.0 179.0 C120.8 181.7 119.0 184.2 117.0 186.0 C115.0 187.8 112.2 189.2 110.0 190.0 C107.8 190.8 106.2 191.7 104.0 191.0 C101.8 190.3 99.7 188.0 97.0 186.0 C94.3 184.0 90.7 181.2 88.0 179.0 C85.3 176.8 81.7 175.5 81.0 173.0 C80.3 170.5 82.3 167.1 84.0 164.0 C85.7 160.9 88.8 156.4 91.0 154.5Z" fill="#dea69a"/>
<path d="M134.0 178.0 C131.5 179.4 129.1 182.5 127.0 185.0 C124.9 187.5 123.2 190.5 121.5 193.0 C119.8 195.5 118.1 197.8 117.0 200.0 C115.9 202.2 115.0 204.2 115.0 206.0 C115.0 207.8 115.8 209.6 117.0 210.5 C118.2 211.4 120.2 211.4 122.0 211.5 C123.8 211.6 126.0 212.2 128.0 211.0 C130.0 209.8 132.0 206.7 134.0 204.0 C136.0 201.3 138.2 198.0 140.0 195.0 C141.8 192.0 143.5 188.7 144.5 186.0 C145.5 183.3 146.4 180.6 146.0 179.0 C145.6 177.4 144.0 176.7 142.0 176.5 C140.0 176.3 136.5 176.6 134.0 178.0Z" fill="#e0a498"/>
<path d="M103.0 203.0 C104.5 202.1 107.5 202.3 110.0 202.5 C112.5 202.7 115.7 203.2 118.0 204.0 C120.3 204.8 122.4 205.5 124.0 207.0 C125.6 208.5 126.7 210.5 127.5 213.0 C128.3 215.5 128.8 219.3 129.0 222.0 C129.2 224.7 130.8 227.8 128.5 229.0 C126.2 230.2 119.4 229.2 115.0 229.0 C110.6 228.8 104.5 229.8 102.0 228.0 C99.5 226.2 100.2 221.3 100.0 218.0 C99.8 214.7 100.5 210.5 101.0 208.0 C101.5 205.5 101.5 203.9 103.0 203.0Z" fill="#d89486"/>
<path d="M101.0 227.0 C103.2 225.5 110.3 226.0 115.0 226.0 C119.7 226.0 126.8 225.8 129.0 227.0 C131.2 228.2 128.6 230.9 128.0 233.0 C127.4 235.1 127.0 237.8 125.5 239.5 C124.0 241.2 121.4 242.8 119.0 243.5 C116.6 244.2 113.4 244.2 111.0 243.7 C108.6 243.2 106.1 241.9 104.5 240.5 C102.9 239.1 102.1 237.2 101.5 235.0 C100.9 232.8 98.8 228.5 101.0 227.0Z" fill="#e66c54"/>
<path d="M147.0 161.0 C148.0 159.6 150.7 159.8 153.0 159.5 C155.3 159.2 158.5 159.2 161.0 159.5 C163.5 159.8 166.1 160.4 168.0 161.0 C169.9 161.6 171.9 161.9 172.5 163.0 C173.1 164.1 172.6 166.2 171.5 167.5 C170.4 168.8 168.2 170.2 166.0 171.0 C163.8 171.8 160.7 171.8 158.0 172.0 C155.3 172.2 151.8 172.7 150.0 172.0 C148.2 171.3 147.5 169.8 147.0 168.0 C146.5 166.2 146.0 162.4 147.0 161.0Z" fill="#e6a294"/>
<path d="M148.0 170.0 C148.9 169.0 152.0 171.3 154.0 172.0 C156.0 172.7 158.6 172.3 160.0 174.0 C161.4 175.7 162.3 179.3 162.5 182.0 C162.7 184.7 161.8 187.6 161.0 190.0 C160.2 192.4 159.1 196.0 158.0 196.5 C156.9 197.0 155.5 194.9 154.5 193.0 C153.5 191.1 153.0 187.5 152.0 185.0 C151.0 182.5 149.2 180.5 148.5 178.0 C147.8 175.5 147.1 171.0 148.0 170.0Z" fill="#dcb2aa"/>
<path d="M141.0 202.0 C142.0 200.3 144.3 199.2 146.0 199.0 C147.7 198.8 149.8 199.8 151.0 201.0 C152.2 202.2 152.8 204.2 153.0 206.0 C153.2 207.8 153.2 210.1 152.5 211.5 C151.8 212.9 150.5 214.2 149.0 214.5 C147.5 214.8 145.0 214.4 143.5 213.5 C142.0 212.6 140.4 210.9 140.0 209.0 C139.6 207.1 140.0 203.7 141.0 202.0Z" fill="#dcb2aa"/>
<path d="M85.0 215.0 C86.2 213.6 89.7 213.5 92.0 213.5 C94.3 213.5 97.5 213.6 99.0 215.0 C100.5 216.4 100.8 219.7 101.0 222.0 C101.2 224.3 101.2 227.5 100.0 229.0 C98.8 230.5 96.2 231.0 94.0 231.0 C91.8 231.0 88.6 230.5 87.0 229.0 C85.4 227.5 84.8 224.3 84.5 222.0 C84.2 219.7 83.8 216.4 85.0 215.0Z" fill="#d4bcb6"/>
<path d="M64.0 211.5 C65.5 210.5 68.1 210.1 70.0 210.5 C71.9 210.9 74.2 212.1 75.5 214.0 C76.8 215.9 77.3 219.3 77.5 222.0 C77.7 224.7 76.9 227.7 76.5 230.0 C76.1 232.3 75.8 234.3 75.0 236.0 C74.2 237.7 73.5 239.4 72.0 240.0 C70.5 240.6 67.8 240.5 66.0 239.5 C64.2 238.5 62.0 236.4 61.0 234.0 C60.0 231.6 59.8 227.9 59.8 225.0 C59.8 222.1 60.3 218.8 61.0 216.5 C61.7 214.2 62.5 212.5 64.0 211.5Z" fill="#d8bab4"/>
<path d="M72.0 236.0 C73.5 235.1 77.5 234.5 80.0 234.5 C82.5 234.5 85.2 234.9 87.0 236.0 C88.8 237.1 90.2 239.0 91.0 241.0 C91.8 243.0 92.5 245.8 92.0 248.0 C91.5 250.2 89.7 253.2 88.0 254.5 C86.3 255.8 84.0 255.9 82.0 255.5 C80.0 255.1 77.4 253.8 76.0 252.0 C74.6 250.2 74.3 247.0 73.5 245.0 C72.7 243.0 71.2 241.5 71.0 240.0 C70.8 238.5 70.5 236.9 72.0 236.0Z" fill="#dcc2bc"/>
<path d="M94.0 249.0 C94.2 247.2 96.0 247.3 97.0 247.5 C98.0 247.7 99.2 248.8 100.0 250.0 C100.8 251.2 101.6 253.5 101.5 255.0 C101.4 256.5 100.5 258.5 99.5 259.0 C98.5 259.5 96.4 259.7 95.5 258.0 C94.6 256.3 93.8 250.8 94.0 249.0Z" fill="#d8c2bc"/>
<path d="M104.0 190.5 C105.2 188.7 107.8 188.0 110.0 187.0 C112.2 186.0 114.8 185.1 117.0 184.5 C119.2 183.9 122.0 183.1 123.5 183.5 C125.0 183.9 126.5 185.0 126.0 187.0 C125.5 189.0 122.0 193.0 120.4 195.4 C118.8 197.8 117.4 200.2 116.2 201.7 C115.0 203.2 114.7 204.0 113.0 204.5 C111.3 205.0 107.7 205.6 106.0 204.5 C104.3 203.4 103.3 200.3 103.0 198.0 C102.7 195.7 102.8 192.3 104.0 190.5Z" fill="#e2dcdc"/>
<path d="M77.0 228.0 C78.3 227.5 81.5 228.3 84.0 229.0 C86.5 229.7 89.3 231.5 92.0 232.0 C94.7 232.5 98.3 231.3 100.0 232.0 C101.7 232.7 102.0 234.7 102.0 236.0 C102.0 237.3 101.5 239.3 100.0 240.0 C98.5 240.7 95.0 240.5 93.0 240.0 C91.0 239.5 90.2 238.0 88.0 237.0 C85.8 236.0 82.0 234.8 80.0 234.0 C78.0 233.2 76.5 233.0 76.0 232.0 C75.5 231.0 75.7 228.5 77.0 228.0Z" fill="#e2dcdc"/>
</g>
</g></g>
<text x="298.30" y="255.80" font-size="7.6" stroke="#231f20" stroke-width="0.1" font-style="italic" textLength="25.6" lengthAdjust="spacingAndGlyphs">TOP2A</text>
<line x1="296.00" y1="278.00" x2="298.00" y2="278.00" stroke="#231f20" stroke-width="0.8"/>
<text x="293.00" y="280.70" font-size="7.6" stroke="#231f20" stroke-width="0.15" text-anchor="end">10</text>
<line x1="296.00" y1="300.50" x2="298.00" y2="300.50" stroke="#231f20" stroke-width="0.8"/>
<text x="293.00" y="303.20" font-size="7.6" stroke="#231f20" stroke-width="0.15" text-anchor="end">5</text>
<line x1="313.80" y1="319.20" x2="313.80" y2="321.30" stroke="#231f20" stroke-width="0.8"/>
<text x="313.80" y="331.10" font-size="7.6" stroke="#231f20" stroke-width="0.15" text-anchor="middle">0</text>
<line x1="329.50" y1="319.20" x2="329.50" y2="321.30" stroke="#231f20" stroke-width="0.8"/>
<text x="329.50" y="331.10" font-size="7.6" stroke="#231f20" stroke-width="0.15" text-anchor="middle">4</text>
<line x1="346.20" y1="319.20" x2="346.20" y2="321.30" stroke="#231f20" stroke-width="0.8"/>
<text x="346.20" y="331.10" font-size="7.6" stroke="#231f20" stroke-width="0.15" text-anchor="middle">8</text>
<line x1="362.50" y1="319.20" x2="362.50" y2="321.30" stroke="#231f20" stroke-width="0.8"/>
<text x="362.50" y="331.10" font-size="7.6" stroke="#231f20" stroke-width="0.15" text-anchor="middle">12</text>
<text x="318.80" y="344.80" font-size="8.6" stroke="#231f20" stroke-width="0.15" textLength="24.3" lengthAdjust="spacingAndGlyphs">UMAP1</text>
<text x="279.20" y="301.00" font-size="8.6" stroke="#231f20" stroke-width="0.15" textLength="26" lengthAdjust="spacingAndGlyphs" transform="rotate(-90 279.20 301.00)">UMAP2</text>
<rect x="383.8" y="257.8" width="130.40000000000003" height="74.0" fill="#ebebeb"/>
<line x1="381.60" y1="329.10" x2="383.80" y2="329.10" stroke="#231f20" stroke-width="0.8"/>
<text x="378.00" y="331.70" font-size="7.2" stroke="#231f20" stroke-width="0.15" text-anchor="end">0</text>
<line x1="381.60" y1="311.40" x2="383.80" y2="311.40" stroke="#231f20" stroke-width="0.8"/>
<text x="378.00" y="314.00" font-size="7.2" stroke="#231f20" stroke-width="0.15" text-anchor="end">1</text>
<line x1="381.60" y1="293.70" x2="383.80" y2="293.70" stroke="#231f20" stroke-width="0.8"/>
<text x="378.00" y="296.30" font-size="7.2" stroke="#231f20" stroke-width="0.15" text-anchor="end">2</text>
<line x1="381.60" y1="276.00" x2="383.80" y2="276.00" stroke="#231f20" stroke-width="0.8"/>
<text x="378.00" y="278.60" font-size="7.2" stroke="#231f20" stroke-width="0.15" text-anchor="end">3</text>
<line x1="381.60" y1="258.30" x2="383.80" y2="258.30" stroke="#231f20" stroke-width="0.8"/>
<text x="378.00" y="260.90" font-size="7.2" stroke="#231f20" stroke-width="0.15" text-anchor="end">4</text>
<line x1="383.80" y1="257.80" x2="383.80" y2="331.80" stroke="#231f20" stroke-width="0.9"/>
<line x1="383.80" y1="331.80" x2="514.20" y2="331.80" stroke="#231f20" stroke-width="0.9"/>
<line x1="389.20" y1="329.10" x2="389.20" y2="263.61" stroke="#f1918c" stroke-width="0.6"/>
<line x1="397.75" y1="329.10" x2="397.75" y2="263.61" stroke="#eda143" stroke-width="0.6"/>
<line x1="406.30" y1="329.10" x2="406.30" y2="270.69" stroke="#d3b343" stroke-width="0.6"/>
<line x1="414.85" y1="329.10" x2="414.85" y2="276.00" stroke="#bbbd4b" stroke-width="0.6"/>
<line x1="423.40" y1="329.10" x2="423.40" y2="263.61" stroke="#8cc44b" stroke-width="0.6"/>
<line x1="431.95" y1="329.10" x2="431.95" y2="263.61" stroke="#54c164" stroke-width="0.6"/>
<line x1="440.50" y1="329.10" x2="440.50" y2="270.69" stroke="#57bf8e" stroke-width="0.6"/>
<line x1="449.05" y1="329.10" x2="449.05" y2="268.92" stroke="#4ec3b3" stroke-width="0.6"/>
<line x1="457.60" y1="329.10" x2="457.60" y2="263.61" stroke="#4ec6df" stroke-width="0.6"/>
<line x1="466.15" y1="329.10" x2="466.15" y2="265.38" stroke="#54b9ec" stroke-width="0.6"/>
<line x1="474.70" y1="329.10" x2="474.70" y2="268.92" stroke="#8bacec" stroke-width="0.6"/>
<line x1="483.25" y1="329.10" x2="483.25" y2="268.92" stroke="#b9a1df" stroke-width="0.6"/>
<line x1="491.80" y1="329.10" x2="491.80" y2="265.38" stroke="#d98ce6" stroke-width="0.6"/>
<line x1="500.35" y1="329.10" x2="500.35" y2="270.69" stroke="#f37fd3" stroke-width="0.6"/>
<line x1="508.90" y1="329.10" x2="508.90" y2="270.69" stroke="#f386b3" stroke-width="0.6"/>
<g filter="url(#fz2)">
<rect x="385.9" y="275.1" width="6.6" height="29.2" fill="#111" opacity="1"/>
<rect x="394.4" y="276.0" width="6.6" height="28.3" fill="#111" opacity="0.97"/>
<rect x="403.0" y="283.1" width="6.6" height="33.6" fill="#111" opacity="0.97"/>
<rect x="411.5" y="290.2" width="6.6" height="28.3" fill="#111" opacity="0.8"/>
<rect x="420.1" y="279.5" width="6.6" height="37.2" fill="#233a09" opacity="0.88"/>
<rect x="428.6" y="281.3" width="6.6" height="28.3" fill="#0d3813" opacity="0.3"/>
<rect x="437.2" y="283.1" width="6.6" height="28.3" fill="#175839" opacity="0.12"/>
<rect x="445.8" y="283.1" width="6.6" height="28.3" fill="#115a50" opacity="0.12"/>
<rect x="454.3" y="281.3" width="6.6" height="30.1" fill="#115c6c" opacity="0.15"/>
<rect x="462.8" y="281.3" width="6.6" height="30.1" fill="#155474" opacity="0.15"/>
<rect x="471.4" y="283.1" width="6.6" height="28.3" fill="#374c74" opacity="0.12"/>
<rect x="479.9" y="283.1" width="6.6" height="26.5" fill="#54456c" opacity="0.1"/>
<rect x="488.5" y="283.1" width="6.6" height="23.0" fill="#683870" opacity="0.06"/>
<rect x="497.1" y="283.1" width="6.6" height="19.5" fill="#783064" opacity="0.04"/>
<rect x="505.6" y="283.1" width="6.6" height="19.5" fill="#783450" opacity="0.04"/>
</g>
<path d="M385.6 312.1h0.7M385.7 294.6h0.7M385.7 294.9h0.7M385.8 298.4h0.7M385.8 279.3h0.7M385.8 282.7h0.7M385.8 283.1h0.7M385.8 292.1h0.7M385.9 279.8h0.7M385.9 265.4h0.7M385.9 291.3h0.7M386.1 276.0h0.7M386.1 278.8h0.7M386.2 267.9h0.7M386.3 287.3h0.7M386.3 285.7h0.7M386.4 304.8h0.7M386.4 298.9h0.7M386.4 295.5h0.7M386.4 307.4h0.7M386.4 293.3h0.7M386.5 272.8h0.7M386.5 281.5h0.7M386.5 278.8h0.7M386.6 311.7h0.7M386.6 276.0h0.7M386.6 282.1h0.7M386.6 306.5h0.7M386.7 312.2h0.7M386.7 289.5h0.7M386.7 282.5h0.7M386.8 265.4h0.7M386.8 299.4h0.7M386.8 304.4h0.7M386.9 307.4h0.7M386.9 299.5h0.7M386.9 303.9h0.7M387.0 275.8h0.7M387.0 287.3h0.7M387.1 284.1h0.7M387.1 279.5h0.7M387.2 286.3h0.7M387.2 290.6h0.7M387.2 296.4h0.7M387.3 279.6h0.7M387.3 287.6h0.7M387.3 296.1h0.7M387.3 275.1h0.7M387.5 287.3h0.7M387.6 289.3h0.7M387.7 299.0h0.7M387.8 298.2h0.7M387.9 306.7h0.7M388.0 265.5h0.7M388.0 308.3h0.7M388.0 309.3h0.7M388.1 282.3h0.7M388.1 275.8h0.7M388.2 282.3h0.7M388.3 307.8h0.7M388.3 288.4h0.7M388.3 296.5h0.7M388.3 286.9h0.7M388.4 308.2h0.7M388.4 299.4h0.7M388.6 290.5h0.7M388.6 293.5h0.7M388.6 290.1h0.7M388.7 278.0h0.7M388.7 280.0h0.7M388.8 279.9h0.7M388.8 301.7h0.7M388.8 312.8h0.7M388.8 266.0h0.7M388.8 268.5h0.7M388.8 311.7h0.7M389.0 270.1h0.7M389.0 279.1h0.7M389.2 300.4h0.7M389.2 301.1h0.7M389.3 307.8h0.7M389.3 307.8h0.7M389.3 290.7h0.7M389.4 295.7h0.7M389.4 298.1h0.7M389.4 291.7h0.7M389.4 288.2h0.7M389.5 272.7h0.7M389.6 297.3h0.7M389.6 277.4h0.7M389.6 289.8h0.7M389.8 299.7h0.7M389.8 269.2h0.7M389.8 310.2h0.7M389.9 283.8h0.7M389.9 283.3h0.7M390.0 288.7h0.7M390.0 296.6h0.7M390.1 289.5h0.7M390.1 287.4h0.7M390.2 275.6h0.7M390.2 271.0h0.7M390.2 281.0h0.7M390.2 279.8h0.7M390.2 271.1h0.7M390.2 309.2h0.7M390.2 308.1h0.7M390.3 300.4h0.7M390.4 266.9h0.7M390.4 297.3h0.7M390.4 288.1h0.7M390.4 270.5h0.7M390.6 283.4h0.7M390.6 279.0h0.7M390.6 297.0h0.7M390.6 290.4h0.7M390.6 279.0h0.7M390.7 294.4h0.7M390.7 273.5h0.7M390.8 283.3h0.7M390.8 282.8h0.7M390.8 300.1h0.7M390.8 311.5h0.7M390.8 285.3h0.7M390.9 271.0h0.7M391.0 281.2h0.7M391.0 267.6h0.7M391.1 281.8h0.7M391.2 291.6h0.7M391.4 272.5h0.7M391.4 283.3h0.7M391.4 298.3h0.7M391.5 294.8h0.7M391.5 305.1h0.7M391.5 270.6h0.7M391.5 300.7h0.7M391.6 299.0h0.7M391.6 299.5h0.7M391.6 299.9h0.7M391.7 279.0h0.7M391.7 287.1h0.7M391.8 287.5h0.7M391.8 308.5h0.7M391.8 301.8h0.7M391.8 299.6h0.7M391.8 290.3h0.7M391.9 291.3h0.7M392.1 304.7h0.7M392.1 285.2h0.7M392.1 288.6h0.7M392.2 295.4h0.7M392.3 299.4h0.7M392.3 281.0h0.7M392.4 299.0h0.7M392.5 287.5h0.7M392.5 281.5h0.7M392.5 291.3h0.7M392.5 291.4h0.7M392.6 293.9h0.7M392.6 290.1h0.7M392.7 281.0h0.7M392.7 284.5h0.7M392.7 283.2h0.7M392.8 292.6h0.7M392.8 295.9h0.7" stroke="#111" stroke-width="0.7" fill="none" opacity="0.85"/>
<path d="M385.2 329.8 C386.2 327.2 388.0 324.3 388.8 322.7 L389.6 322.7 C390.4 324.3 392.2 327.2 393.2 329.8Z" fill="#ee7670" stroke="#2a2a2a" stroke-width="0.25"/>
<line x1="389.20" y1="331.80" x2="389.20" y2="334.10" stroke="#231f20" stroke-width="0.8"/>
<path d="M394.2 290.0h0.7M394.4 294.8h0.7M394.4 270.6h0.7M394.4 284.1h0.7M394.5 291.8h0.7M394.7 279.8h0.7M394.7 287.9h0.7M394.7 282.9h0.7M394.7 304.0h0.7M394.7 305.6h0.7M394.8 279.1h0.7M394.8 281.3h0.7M394.8 299.2h0.7M394.9 269.4h0.7M394.9 281.3h0.7M394.9 288.7h0.7M394.9 290.2h0.7M395.0 289.9h0.7M395.0 278.1h0.7M395.1 295.7h0.7M395.1 276.5h0.7M395.1 273.3h0.7M395.2 278.9h0.7M395.2 295.0h0.7M395.2 268.6h0.7M395.3 274.1h0.7M395.3 297.5h0.7M395.3 309.7h0.7M395.4 298.2h0.7M395.5 277.5h0.7M395.5 299.2h0.7M395.5 298.5h0.7M395.6 298.2h0.7M395.7 291.6h0.7M395.7 288.7h0.7M395.8 291.2h0.7M395.9 292.3h0.7M396.0 278.4h0.7M396.0 269.8h0.7M396.0 283.4h0.7M396.1 287.3h0.7M396.1 285.8h0.7M396.1 280.2h0.7M396.1 276.6h0.7M396.1 308.8h0.7M396.2 285.1h0.7M396.2 281.8h0.7M396.2 291.7h0.7M396.4 285.6h0.7M396.4 307.3h0.7M396.4 276.6h0.7M396.5 293.7h0.7M396.5 305.2h0.7M396.5 292.1h0.7M396.6 291.9h0.7M396.6 295.9h0.7M396.6 298.8h0.7M396.6 302.8h0.7M396.6 283.0h0.7M396.7 294.6h0.7M396.7 303.0h0.7M396.8 286.1h0.7M397.0 289.3h0.7M397.0 268.3h0.7M397.1 270.7h0.7M397.2 303.1h0.7M397.2 299.4h0.7M397.2 267.9h0.7M397.3 300.3h0.7M397.4 291.1h0.7M397.4 266.0h0.7M397.5 288.1h0.7M397.5 292.2h0.7M397.6 285.2h0.7M397.6 285.1h0.7M397.7 288.0h0.7M397.7 284.9h0.7M397.7 270.9h0.7M397.7 282.2h0.7M397.8 284.0h0.7M397.8 295.6h0.7M397.8 268.5h0.7M398.1 284.7h0.7M398.4 284.5h0.7M398.4 275.0h0.7M398.4 296.9h0.7M398.5 282.2h0.7M398.5 293.1h0.7M398.6 280.7h0.7M398.7 296.8h0.7M398.7 312.2h0.7M398.7 284.2h0.7M398.8 310.0h0.7M398.8 276.5h0.7M398.9 299.3h0.7M398.9 280.7h0.7M398.9 292.9h0.7M399.0 286.3h0.7M399.1 279.0h0.7M399.1 306.5h0.7M399.1 277.2h0.7M399.1 296.4h0.7M399.1 313.1h0.7M399.2 269.7h0.7M399.2 297.9h0.7M399.3 280.4h0.7M399.3 290.8h0.7M399.3 270.8h0.7M399.3 292.7h0.7M399.3 292.1h0.7M399.4 285.7h0.7M399.4 296.3h0.7M399.4 298.4h0.7M399.5 296.8h0.7M399.5 287.9h0.7M399.5 269.6h0.7M399.5 291.8h0.7M399.5 285.9h0.7M399.6 270.5h0.7M399.7 290.2h0.7M399.7 303.1h0.7M399.7 301.2h0.7M399.8 279.7h0.7M399.8 274.9h0.7M399.8 297.4h0.7M399.8 287.3h0.7M399.9 287.7h0.7M400.0 312.9h0.7M400.1 310.6h0.7M400.2 281.0h0.7M400.3 309.5h0.7M400.3 267.0h0.7M400.3 279.2h0.7M400.3 271.5h0.7M400.3 285.3h0.7M400.3 298.0h0.7M400.4 277.8h0.7M400.4 308.9h0.7M400.4 304.9h0.7M400.5 283.7h0.7M400.5 291.6h0.7M400.5 301.1h0.7M400.5 295.3h0.7M400.6 298.9h0.7M400.7 276.4h0.7M400.7 289.3h0.7M400.7 303.6h0.7M400.7 276.9h0.7M400.7 312.5h0.7M400.7 301.7h0.7M400.8 281.7h0.7M400.8 288.5h0.7M400.9 297.3h0.7M401.0 288.2h0.7M401.0 289.2h0.7M401.0 290.2h0.7M401.1 283.4h0.7M401.1 267.5h0.7M401.1 283.9h0.7M401.2 309.5h0.7M401.2 291.8h0.7M401.2 280.7h0.7M401.3 302.3h0.7M401.3 280.4h0.7M401.3 286.9h0.7" stroke="#111" stroke-width="0.7" fill="none" opacity="0.85"/>
<path d="M393.8 329.8 C394.8 327.2 396.6 324.3 397.3 322.7 L398.2 322.7 C398.9 324.3 400.8 327.2 401.8 329.8Z" fill="#e98a14" stroke="#2a2a2a" stroke-width="0.25"/>
<line x1="397.75" y1="331.80" x2="397.75" y2="334.10" stroke="#231f20" stroke-width="0.8"/>
<path d="M402.8 311.0h0.7M402.8 292.7h0.7M402.8 279.9h0.7M402.9 307.5h0.7M402.9 302.6h0.7M402.9 300.8h0.7M402.9 300.4h0.7M402.9 306.4h0.7M403.0 292.3h0.7M403.0 297.3h0.7M403.0 293.4h0.7M403.0 291.0h0.7M403.1 291.7h0.7M403.1 297.2h0.7M403.2 276.1h0.7M403.2 284.3h0.7M403.2 300.6h0.7M403.2 312.1h0.7M403.3 289.5h0.7M403.4 281.5h0.7M403.4 292.3h0.7M403.5 311.6h0.7M403.6 295.6h0.7M403.6 306.9h0.7M403.7 302.3h0.7M403.7 306.9h0.7M403.8 294.6h0.7M403.8 300.4h0.7M403.8 301.8h0.7M403.8 306.8h0.7M403.9 288.6h0.7M403.9 289.3h0.7M403.9 311.5h0.7M403.9 297.7h0.7M404.0 287.4h0.7M404.1 279.0h0.7M404.1 301.6h0.7M404.1 304.4h0.7M404.2 293.2h0.7M404.2 307.5h0.7M404.3 293.8h0.7M404.3 277.6h0.7M404.3 287.3h0.7M404.4 294.8h0.7M404.5 297.9h0.7M404.5 312.5h0.7M404.5 280.7h0.7M404.5 307.4h0.7M404.5 278.0h0.7M404.6 273.7h0.7M404.6 297.6h0.7M404.7 277.3h0.7M404.7 296.4h0.7M404.7 294.0h0.7M404.8 306.0h0.7M404.9 298.2h0.7M404.9 292.4h0.7M404.9 305.6h0.7M404.9 277.9h0.7M405.0 300.5h0.7M405.0 292.2h0.7M405.1 281.2h0.7M405.1 312.9h0.7M405.2 286.8h0.7M405.2 311.6h0.7M405.2 287.4h0.7M405.3 304.6h0.7M405.4 286.5h0.7M405.4 285.3h0.7M405.4 288.2h0.7M405.5 287.5h0.7M405.5 289.4h0.7M405.6 288.2h0.7M405.6 284.3h0.7M405.6 283.6h0.7M405.6 288.8h0.7M405.7 300.3h0.7M405.7 293.2h0.7M405.7 311.2h0.7M405.8 300.6h0.7M405.9 294.2h0.7M405.9 308.7h0.7M405.9 282.8h0.7M405.9 281.0h0.7M406.0 290.9h0.7M406.0 300.9h0.7M406.1 293.0h0.7M406.1 312.9h0.7M406.2 292.9h0.7M406.2 293.0h0.7M406.3 275.2h0.7M406.4 312.3h0.7M406.5 276.6h0.7M406.6 276.8h0.7M406.6 305.5h0.7M406.6 311.1h0.7M406.7 297.3h0.7M406.8 283.7h0.7M406.9 290.9h0.7M406.9 303.2h0.7M407.0 298.5h0.7M407.1 292.5h0.7M407.1 301.5h0.7M407.1 309.4h0.7M407.2 280.7h0.7M407.4 313.0h0.7M407.5 299.4h0.7M407.6 285.6h0.7M407.6 295.5h0.7M407.6 286.3h0.7M407.7 292.2h0.7M408.0 272.8h0.7M408.0 296.3h0.7M408.0 300.4h0.7M408.0 290.1h0.7M408.1 293.0h0.7M408.1 272.6h0.7M408.1 289.2h0.7M408.1 306.4h0.7M408.2 309.1h0.7M408.2 291.0h0.7M408.4 272.8h0.7M408.4 287.9h0.7M408.5 293.7h0.7M408.6 305.2h0.7M408.6 305.5h0.7M408.6 309.1h0.7M408.6 305.4h0.7M408.6 293.5h0.7M408.7 301.8h0.7M408.7 284.6h0.7M408.7 309.8h0.7M408.7 296.2h0.7M408.7 310.5h0.7M408.7 306.9h0.7M408.9 296.6h0.7M408.9 302.6h0.7M408.9 289.4h0.7M409.0 307.7h0.7M409.1 273.9h0.7M409.1 292.6h0.7M409.1 294.9h0.7M409.2 294.6h0.7M409.3 289.5h0.7M409.3 310.3h0.7M409.3 293.9h0.7M409.3 306.4h0.7M409.4 298.1h0.7M409.4 312.6h0.7M409.4 312.2h0.7M409.4 288.4h0.7M409.5 283.6h0.7M409.5 307.8h0.7M409.5 304.7h0.7M409.5 312.8h0.7M409.6 301.6h0.7M409.7 287.4h0.7M409.7 276.1h0.7M409.7 287.5h0.7M409.8 280.9h0.7M409.8 307.0h0.7M409.8 308.8h0.7M409.8 275.4h0.7M409.9 275.6h0.7M409.9 289.8h0.7" stroke="#111" stroke-width="0.7" fill="none" opacity="0.85"/>
<path d="M402.3 329.8 C403.3 327.2 405.1 324.3 405.9 322.7 L406.8 322.7 C407.5 324.3 409.3 327.2 410.3 329.8Z" fill="#c9a014" stroke="#2a2a2a" stroke-width="0.25"/>
<line x1="406.30" y1="331.80" x2="406.30" y2="334.10" stroke="#231f20" stroke-width="0.8"/>
<path d="M411.4 299.2h0.7M411.4 311.7h0.7M411.5 294.7h0.7M411.5 278.7h0.7M411.6 293.0h0.7M411.6 306.7h0.7M411.9 307.2h0.7M412.0 302.0h0.7M412.0 302.9h0.7M412.0 301.6h0.7M412.1 311.3h0.7M412.1 290.7h0.7M412.2 310.1h0.7M412.2 296.4h0.7M412.3 295.3h0.7M412.3 308.0h0.7M412.3 299.3h0.7M412.4 281.5h0.7M412.5 300.1h0.7M412.5 293.9h0.7M412.5 302.2h0.7M412.6 278.5h0.7M412.6 313.1h0.7M412.7 306.1h0.7M412.7 298.4h0.7M412.8 301.7h0.7M412.8 300.3h0.7M412.8 313.1h0.7M412.9 312.5h0.7M412.9 306.5h0.7M412.9 308.5h0.7M412.9 281.8h0.7M413.0 287.0h0.7M413.0 289.9h0.7M413.0 287.7h0.7M413.0 300.0h0.7M413.0 306.3h0.7M413.1 311.7h0.7M413.1 292.1h0.7M413.1 302.6h0.7M413.1 307.0h0.7M413.2 301.9h0.7M413.2 304.2h0.7M413.2 310.1h0.7M413.3 307.3h0.7M413.3 306.4h0.7M413.3 307.3h0.7M413.3 306.6h0.7M413.3 304.7h0.7M413.3 314.4h0.7M413.4 295.1h0.7M413.4 302.0h0.7M413.4 303.0h0.7M413.5 293.2h0.7M413.6 314.7h0.7M413.6 300.7h0.7M413.6 314.4h0.7M413.7 301.0h0.7M413.7 284.0h0.7M413.8 296.3h0.7M413.9 279.0h0.7M413.9 299.4h0.7M414.0 300.6h0.7M414.1 303.1h0.7M414.1 295.2h0.7M414.1 309.2h0.7M414.2 295.6h0.7M414.3 281.4h0.7M414.3 296.0h0.7M414.3 294.9h0.7M414.4 304.5h0.7M414.5 299.0h0.7M414.5 292.3h0.7M414.5 287.5h0.7M414.5 281.2h0.7M414.6 293.1h0.7M414.6 283.5h0.7M414.7 295.4h0.7M414.7 280.7h0.7M414.7 290.1h0.7M414.7 307.5h0.7M414.7 289.4h0.7M414.8 301.4h0.7M414.8 299.5h0.7M414.9 301.8h0.7M414.9 309.5h0.7M414.9 312.1h0.7M414.9 308.0h0.7M415.0 307.0h0.7M415.0 304.8h0.7M415.1 302.1h0.7M415.1 286.8h0.7M415.2 302.3h0.7M415.2 292.2h0.7M415.2 300.0h0.7M415.2 298.3h0.7M415.3 300.4h0.7M415.4 300.2h0.7M415.5 294.3h0.7M415.5 311.0h0.7M415.5 301.0h0.7M415.5 307.3h0.7M415.6 290.7h0.7M415.6 295.0h0.7M415.7 279.7h0.7M415.7 300.7h0.7M415.8 280.7h0.7M415.8 297.0h0.7M415.9 310.9h0.7M416.0 305.3h0.7M416.1 293.2h0.7M416.1 295.3h0.7M416.2 304.4h0.7M416.2 298.3h0.7M416.2 278.0h0.7M416.3 291.4h0.7M416.3 312.7h0.7M416.3 300.7h0.7M416.4 285.8h0.7M416.4 312.5h0.7M416.4 313.9h0.7M416.4 302.5h0.7M416.5 292.1h0.7M416.5 290.4h0.7M416.5 288.1h0.7M416.5 295.9h0.7M416.6 286.9h0.7M416.6 300.3h0.7M416.6 300.7h0.7M416.7 288.9h0.7M416.7 296.5h0.7M416.8 304.0h0.7M416.8 307.4h0.7M416.8 296.9h0.7M416.8 309.4h0.7M416.9 295.6h0.7M416.9 292.0h0.7M416.9 301.0h0.7M416.9 304.9h0.7M417.0 291.7h0.7M417.0 302.0h0.7M417.0 306.6h0.7M417.3 299.2h0.7M417.4 300.7h0.7M417.5 300.1h0.7M417.5 305.3h0.7M417.5 300.6h0.7M417.6 300.4h0.7M417.6 300.5h0.7M417.7 305.9h0.7M417.7 298.1h0.7M417.7 292.1h0.7M417.8 293.7h0.7M417.8 290.0h0.7M418.2 296.7h0.7M418.2 298.9h0.7M418.2 285.8h0.7M418.2 284.8h0.7M418.3 292.3h0.7M418.3 297.5h0.7M418.4 309.1h0.7M418.4 310.6h0.7M418.4 285.9h0.7M418.4 311.2h0.7M418.4 282.0h0.7" stroke="#111" stroke-width="0.7" fill="none" opacity="0.85"/>
<path d="M410.8 329.8 C411.8 327.2 413.6 324.3 414.4 322.7 L415.3 322.7 C416.0 324.3 417.8 327.2 418.8 329.8Z" fill="#aaad1e" stroke="#2a2a2a" stroke-width="0.25"/>
<line x1="414.85" y1="331.80" x2="414.85" y2="334.10" stroke="#231f20" stroke-width="0.8"/>
<path d="M419.9 306.6h0.7M419.9 302.0h0.7M420.0 287.2h0.7M420.0 290.4h0.7M420.1 293.4h0.7M420.1 305.7h0.7M420.1 295.9h0.7M420.1 288.2h0.7M420.1 296.9h0.7M420.2 307.0h0.7M420.2 270.0h0.7M420.3 308.0h0.7M420.3 297.8h0.7M420.5 285.5h0.7M420.5 284.2h0.7M420.6 268.3h0.7M420.6 295.8h0.7M420.6 296.8h0.7M420.7 287.2h0.7M420.7 300.0h0.7M420.7 290.5h0.7M420.8 288.4h0.7M420.8 303.6h0.7M421.0 294.6h0.7M421.0 292.1h0.7M421.1 293.3h0.7M421.1 298.4h0.7M421.2 287.0h0.7M421.2 311.2h0.7M421.3 288.5h0.7M421.3 296.1h0.7M421.4 270.5h0.7M421.4 309.3h0.7M421.5 308.9h0.7M421.6 297.7h0.7M421.6 291.3h0.7M421.7 303.4h0.7M421.7 294.7h0.7M421.8 296.8h0.7M421.8 298.0h0.7M421.8 311.1h0.7M421.9 295.1h0.7M422.0 282.7h0.7M422.0 288.0h0.7M422.0 288.7h0.7M422.0 272.1h0.7M422.0 296.2h0.7M422.2 302.6h0.7M422.2 280.9h0.7M422.2 302.2h0.7M422.2 290.7h0.7M422.3 289.9h0.7M422.3 299.8h0.7M422.3 310.4h0.7M422.3 299.0h0.7M422.4 312.7h0.7M422.4 302.4h0.7M422.4 276.9h0.7M422.4 278.9h0.7M422.5 287.5h0.7M422.5 308.2h0.7M422.6 295.3h0.7M422.6 268.4h0.7M422.7 279.0h0.7M422.7 277.6h0.7M422.7 290.3h0.7M422.7 285.4h0.7M422.8 289.5h0.7M423.0 284.4h0.7M423.0 312.0h0.7M423.0 290.8h0.7M423.0 302.3h0.7M423.0 309.4h0.7M423.0 276.2h0.7M423.0 310.7h0.7M423.1 271.8h0.7M423.2 311.6h0.7M423.2 309.3h0.7M423.3 290.1h0.7M423.3 294.8h0.7M423.3 290.3h0.7M423.4 272.8h0.7M423.5 266.6h0.7M423.5 298.4h0.7M423.6 301.5h0.7M423.6 303.8h0.7M423.6 283.2h0.7M423.6 312.4h0.7M423.7 301.0h0.7M423.7 308.7h0.7M423.8 293.8h0.7M423.9 309.4h0.7M423.9 265.8h0.7M423.9 284.7h0.7M424.1 307.6h0.7M424.2 279.8h0.7M424.2 292.4h0.7M424.2 310.4h0.7M424.2 302.6h0.7M424.2 282.6h0.7M424.2 272.4h0.7M424.3 304.1h0.7M424.3 308.6h0.7M424.3 303.5h0.7M424.5 289.2h0.7M424.5 301.0h0.7M424.5 309.5h0.7M424.5 266.8h0.7M424.5 291.1h0.7M424.7 300.2h0.7M424.7 285.3h0.7M424.7 279.6h0.7M424.7 287.0h0.7M424.7 273.0h0.7M424.7 309.4h0.7M424.8 303.0h0.7M424.9 295.8h0.7M424.9 281.3h0.7M424.9 287.1h0.7M425.0 285.5h0.7M425.0 307.0h0.7M425.0 294.8h0.7M425.0 298.2h0.7M425.1 311.9h0.7M425.2 293.4h0.7M425.2 311.7h0.7M425.2 268.9h0.7M425.2 308.0h0.7M425.2 298.4h0.7M425.3 273.3h0.7M425.4 287.7h0.7M425.5 294.0h0.7M425.5 290.7h0.7M425.5 288.9h0.7M425.6 309.5h0.7M425.6 293.1h0.7M425.6 309.7h0.7M425.6 273.9h0.7M425.6 287.6h0.7M425.7 274.3h0.7M426.0 299.0h0.7M426.0 301.6h0.7M426.1 271.4h0.7M426.1 288.7h0.7M426.1 291.1h0.7M426.1 268.2h0.7M426.2 295.0h0.7M426.2 277.4h0.7M426.3 312.8h0.7M426.3 309.3h0.7M426.4 268.1h0.7M426.4 291.1h0.7M426.4 309.8h0.7M426.4 303.9h0.7M426.4 292.6h0.7M426.5 293.1h0.7M426.5 266.1h0.7M426.6 283.5h0.7M426.6 309.9h0.7M426.8 311.5h0.7M426.8 273.4h0.7M426.8 299.9h0.7M426.9 307.6h0.7M426.9 310.5h0.7M426.9 299.3h0.7" stroke="#233a09" stroke-width="0.7" fill="none" opacity="0.85"/>
<path d="M419.4 329.8 C420.4 327.2 422.2 324.3 422.9 322.7 L423.8 322.7 C424.6 324.3 426.4 327.2 427.4 329.8Z" fill="#70b61e" stroke="#2a2a2a" stroke-width="0.25"/>
<line x1="423.40" y1="331.80" x2="423.40" y2="334.10" stroke="#231f20" stroke-width="0.8"/>
<path d="M428.4 303.7h0.7M428.4 294.9h0.7M428.4 284.9h0.7M428.5 277.0h0.7M428.5 289.4h0.7M428.5 297.5h0.7M428.5 292.1h0.7M428.6 292.8h0.7M428.6 296.9h0.7M428.6 307.0h0.7M428.7 281.3h0.7M428.7 292.1h0.7M428.7 284.0h0.7M428.7 293.2h0.7M428.8 308.7h0.7M428.8 304.3h0.7M428.8 277.7h0.7M428.8 301.6h0.7M428.8 272.7h0.7M428.9 304.6h0.7M428.9 302.6h0.7M428.9 277.8h0.7M428.9 285.9h0.7M428.9 295.6h0.7M429.0 305.5h0.7M429.0 266.5h0.7M429.0 299.2h0.7M429.1 283.7h0.7M429.1 290.0h0.7M429.1 285.5h0.7M429.1 279.9h0.7M429.1 271.6h0.7M429.2 299.4h0.7M429.2 282.7h0.7M429.2 301.9h0.7M429.3 272.0h0.7M429.3 304.2h0.7M429.3 286.7h0.7M429.3 290.2h0.7M429.4 308.1h0.7M429.5 302.1h0.7M429.5 292.6h0.7M429.5 302.0h0.7M429.6 292.8h0.7M429.6 284.2h0.7M429.6 312.4h0.7M429.6 308.4h0.7M429.6 298.2h0.7M429.7 305.6h0.7M429.7 274.0h0.7M429.7 305.8h0.7M429.7 267.2h0.7M429.9 266.8h0.7M429.9 307.8h0.7M429.9 272.5h0.7M430.0 307.9h0.7M430.0 274.6h0.7M430.0 288.6h0.7M430.1 304.8h0.7M430.2 282.0h0.7M430.2 305.1h0.7M430.2 269.0h0.7M430.2 310.8h0.7M430.3 265.9h0.7M430.3 286.4h0.7M430.3 297.9h0.7M430.4 273.8h0.7M430.4 305.2h0.7M430.5 304.1h0.7M430.6 299.4h0.7M430.6 296.9h0.7M430.6 311.3h0.7M430.6 277.5h0.7M430.7 304.2h0.7M430.7 303.6h0.7M430.7 277.1h0.7M430.7 293.2h0.7M430.8 297.6h0.7M430.8 286.6h0.7M430.8 282.0h0.7M430.9 307.6h0.7M430.9 293.8h0.7M431.0 300.6h0.7M431.1 271.7h0.7M431.1 291.6h0.7M431.1 280.7h0.7M431.3 277.7h0.7M431.3 304.9h0.7M431.4 303.1h0.7M431.4 305.5h0.7M431.4 303.5h0.7M431.5 280.7h0.7M431.5 303.0h0.7M431.5 295.3h0.7M431.7 289.4h0.7M431.7 276.5h0.7M431.8 296.0h0.7M431.8 273.7h0.7M431.8 310.8h0.7M431.8 292.0h0.7M431.8 266.2h0.7M431.8 311.8h0.7M431.9 266.0h0.7M432.0 294.5h0.7M432.0 276.1h0.7M432.0 297.2h0.7M432.0 295.2h0.7M432.0 273.1h0.7M432.0 303.6h0.7M432.0 274.1h0.7M432.0 294.5h0.7M432.1 296.9h0.7M432.1 304.2h0.7M432.2 296.4h0.7M432.2 294.1h0.7M432.3 285.4h0.7M432.3 285.3h0.7M432.3 273.2h0.7M432.4 304.3h0.7M432.4 268.7h0.7M432.5 288.8h0.7M432.5 298.1h0.7M432.5 278.2h0.7M432.5 306.0h0.7M432.5 298.6h0.7M432.6 289.4h0.7M432.6 297.1h0.7M432.6 289.8h0.7M432.6 293.1h0.7M432.6 276.0h0.7M432.6 301.4h0.7M432.6 291.8h0.7M432.7 272.7h0.7M432.7 308.1h0.7M432.7 286.7h0.7M432.7 290.5h0.7M432.7 293.6h0.7M432.7 289.7h0.7M432.8 299.2h0.7M432.8 282.0h0.7M432.9 298.4h0.7M432.9 282.9h0.7M432.9 288.2h0.7M432.9 288.4h0.7M432.9 285.5h0.7M432.9 294.7h0.7M432.9 301.0h0.7M433.0 286.9h0.7M433.0 298.0h0.7M433.0 276.4h0.7M433.0 275.1h0.7M433.1 282.2h0.7M433.1 291.8h0.7M433.2 296.0h0.7M433.2 304.2h0.7M433.2 289.0h0.7M433.2 285.1h0.7M433.2 283.6h0.7M433.3 303.9h0.7M433.4 272.5h0.7M433.5 309.3h0.7M433.6 305.2h0.7M433.6 283.7h0.7M433.7 299.8h0.7M433.7 277.2h0.7M433.8 285.0h0.7M433.8 268.3h0.7M433.8 285.8h0.7M433.8 284.0h0.7M433.9 284.5h0.7M433.9 302.5h0.7M433.9 293.8h0.7M434.0 286.3h0.7M434.0 282.8h0.7M434.0 292.9h0.7M434.0 288.8h0.7M434.1 284.8h0.7M434.1 290.3h0.7M434.2 287.1h0.7M434.2 284.8h0.7M434.3 265.8h0.7M434.3 295.5h0.7M434.3 292.7h0.7M434.3 289.2h0.7M434.3 301.7h0.7M434.3 300.1h0.7M434.4 286.8h0.7M434.5 285.1h0.7M434.5 271.2h0.7M434.5 289.8h0.7M434.5 310.3h0.7M434.5 299.2h0.7M434.5 302.5h0.7M434.6 294.9h0.7M434.6 302.2h0.7M434.6 267.7h0.7M434.6 292.9h0.7M434.6 284.7h0.7M434.6 266.7h0.7M434.7 274.7h0.7M434.7 285.2h0.7M434.7 283.8h0.7M434.7 309.2h0.7M434.8 298.7h0.7M434.8 306.1h0.7M434.9 292.0h0.7M435.0 293.3h0.7M435.0 292.5h0.7M435.1 307.2h0.7M435.1 288.0h0.7M435.1 289.7h0.7M435.1 304.1h0.7M435.2 279.2h0.7M435.3 296.7h0.7M435.3 296.1h0.7M435.3 285.4h0.7M435.4 287.5h0.7M435.4 270.3h0.7M435.4 292.2h0.7M435.4 295.1h0.7M435.4 275.0h0.7M435.4 297.2h0.7M435.5 278.5h0.7M435.5 306.4h0.7M435.5 294.0h0.7" stroke="#0d3813" stroke-width="0.7" fill="none" opacity="0.85"/>
<path d="M427.9 329.8 C428.9 327.2 430.8 324.3 431.5 322.7 L432.4 322.7 C433.1 324.3 434.9 327.2 435.9 329.8Z" fill="#2ab23e" stroke="#2a2a2a" stroke-width="0.25"/>
<line x1="431.95" y1="331.80" x2="431.95" y2="334.10" stroke="#231f20" stroke-width="0.8"/>
<path d="M436.9 288.7h0.7M437.0 278.8h0.7M437.0 298.8h0.7M437.0 301.2h0.7M437.1 283.6h0.7M437.1 304.4h0.7M437.1 282.3h0.7M437.1 294.5h0.7M437.2 297.9h0.7M437.2 294.9h0.7M437.2 301.0h0.7M437.3 309.0h0.7M437.3 289.4h0.7M437.3 286.9h0.7M437.3 301.0h0.7M437.5 290.3h0.7M437.5 307.2h0.7M437.5 294.4h0.7M437.6 291.1h0.7M437.7 300.0h0.7M437.7 304.9h0.7M437.8 302.1h0.7M437.8 278.5h0.7M437.9 311.3h0.7M437.9 293.8h0.7M438.0 300.5h0.7M438.0 293.5h0.7M438.0 299.5h0.7M438.0 299.6h0.7M438.0 302.2h0.7M438.0 297.2h0.7M438.0 293.2h0.7M438.1 302.5h0.7M438.1 275.7h0.7M438.2 298.7h0.7M438.2 299.9h0.7M438.2 307.8h0.7M438.3 301.4h0.7M438.3 303.8h0.7M438.3 302.2h0.7M438.3 275.3h0.7M438.4 305.5h0.7M438.4 289.7h0.7M438.4 305.5h0.7M438.4 293.0h0.7M438.5 273.5h0.7M438.5 307.4h0.7M438.5 302.7h0.7M438.5 297.0h0.7M438.5 285.6h0.7M438.5 280.8h0.7M438.5 284.9h0.7M438.5 311.1h0.7M438.6 303.6h0.7M438.7 286.7h0.7M438.7 286.8h0.7M438.7 297.1h0.7M438.7 299.7h0.7M438.7 301.6h0.7M438.8 280.3h0.7M438.8 296.7h0.7M438.9 288.7h0.7M439.0 288.4h0.7M439.0 307.2h0.7M439.1 290.8h0.7M439.1 291.0h0.7M439.1 275.9h0.7M439.1 293.2h0.7M439.1 281.5h0.7M439.2 283.0h0.7M439.2 306.4h0.7M439.3 301.3h0.7M439.4 305.5h0.7M439.4 274.5h0.7M439.5 290.4h0.7M439.5 284.4h0.7M439.5 306.4h0.7M439.5 307.6h0.7M439.6 303.3h0.7M439.6 273.2h0.7M439.7 287.1h0.7M439.7 302.1h0.7M439.8 285.2h0.7M439.8 306.0h0.7M439.8 283.3h0.7M439.8 299.3h0.7M439.8 296.2h0.7M439.9 293.2h0.7M439.9 277.9h0.7M439.9 285.7h0.7M439.9 274.8h0.7M439.9 295.7h0.7M439.9 297.2h0.7M439.9 293.9h0.7M440.0 309.5h0.7M440.0 305.1h0.7M440.0 290.9h0.7M440.1 303.6h0.7M440.1 279.0h0.7M440.1 274.3h0.7M440.1 288.1h0.7M440.2 289.0h0.7M440.2 288.0h0.7M440.2 301.6h0.7M440.2 300.2h0.7M440.3 294.3h0.7M440.3 298.0h0.7M440.3 307.9h0.7M440.4 283.3h0.7M440.4 299.1h0.7M440.5 283.0h0.7M440.5 291.9h0.7M440.5 303.9h0.7M440.5 280.0h0.7M440.5 293.9h0.7M440.6 290.1h0.7M440.6 293.2h0.7M440.6 307.2h0.7M440.6 306.2h0.7M440.8 284.1h0.7M440.8 293.3h0.7M440.8 308.2h0.7M440.9 288.4h0.7M440.9 300.0h0.7M440.9 290.6h0.7M441.0 294.2h0.7M441.0 294.0h0.7M441.0 297.4h0.7M441.0 305.9h0.7M441.0 278.4h0.7M441.0 290.0h0.7M441.0 285.1h0.7M441.1 308.2h0.7M441.2 283.3h0.7M441.2 296.6h0.7M441.3 273.9h0.7M441.3 280.0h0.7M441.3 289.3h0.7M441.5 272.8h0.7M441.5 302.4h0.7M441.5 291.5h0.7M441.5 287.2h0.7M441.5 304.9h0.7M441.6 298.8h0.7M441.6 292.2h0.7M441.6 284.5h0.7M441.7 306.8h0.7M441.7 306.4h0.7M441.7 275.5h0.7M441.8 292.8h0.7M441.8 300.3h0.7M441.8 286.3h0.7M441.9 274.9h0.7M441.9 297.4h0.7M441.9 298.8h0.7M442.0 279.1h0.7M442.0 290.7h0.7M442.0 312.6h0.7M442.0 308.5h0.7M442.0 279.2h0.7M442.1 285.1h0.7M442.1 291.3h0.7M442.3 304.3h0.7M442.3 275.2h0.7M442.3 284.3h0.7M442.3 307.3h0.7M442.4 306.3h0.7M442.4 298.5h0.7M442.4 285.4h0.7M442.5 294.8h0.7M442.5 306.2h0.7M442.6 301.1h0.7M442.6 293.8h0.7M442.6 273.3h0.7M442.7 296.6h0.7M442.7 291.2h0.7M442.7 293.8h0.7M442.7 286.7h0.7M442.8 297.7h0.7M442.8 294.8h0.7M442.8 276.3h0.7M442.8 290.7h0.7M442.8 294.6h0.7M442.9 306.9h0.7M442.9 298.6h0.7M443.0 280.3h0.7M443.1 307.0h0.7M443.1 299.6h0.7M443.1 302.6h0.7M443.1 274.6h0.7M443.1 306.2h0.7M443.2 279.5h0.7M443.2 288.0h0.7M443.2 291.7h0.7M443.3 303.3h0.7M443.3 306.3h0.7M443.3 276.6h0.7M443.3 296.3h0.7M443.3 307.6h0.7M443.4 307.0h0.7M443.4 303.6h0.7M443.4 277.0h0.7M443.4 275.8h0.7M443.5 273.6h0.7M443.5 296.7h0.7M443.5 294.0h0.7M443.5 300.5h0.7M443.5 295.2h0.7M443.6 288.6h0.7M443.6 280.4h0.7M443.6 291.3h0.7M443.6 301.0h0.7M443.7 285.2h0.7M443.7 274.3h0.7M443.7 306.8h0.7M443.8 297.8h0.7M443.8 299.0h0.7M443.8 284.7h0.7M443.8 300.8h0.7M443.9 276.5h0.7M444.0 297.6h0.7M444.0 298.7h0.7M444.0 289.3h0.7M444.1 283.9h0.7M444.1 307.0h0.7" stroke="#175839" stroke-width="0.7" fill="none" opacity="0.85"/>
<path d="M436.5 329.8 C437.5 327.2 439.3 324.3 440.1 322.7 L440.9 322.7 C441.7 324.3 443.5 327.2 444.5 329.8Z" fill="#2eb072" stroke="#2a2a2a" stroke-width="0.25"/>
<line x1="440.50" y1="331.80" x2="440.50" y2="334.10" stroke="#231f20" stroke-width="0.8"/>
<path d="M445.5 304.8h0.7M445.5 276.1h0.7M445.6 303.6h0.7M445.6 276.0h0.7M445.6 294.0h0.7M445.7 302.6h0.7M445.7 289.8h0.7M445.7 288.2h0.7M445.7 272.7h0.7M445.7 294.7h0.7M445.7 299.0h0.7M445.8 311.8h0.7M445.8 271.2h0.7M445.9 290.5h0.7M445.9 313.1h0.7M445.9 311.1h0.7M446.0 297.9h0.7M446.0 279.1h0.7M446.0 285.1h0.7M446.0 272.3h0.7M446.0 304.5h0.7M446.1 306.0h0.7M446.1 295.9h0.7M446.1 274.7h0.7M446.1 286.7h0.7M446.2 290.1h0.7M446.2 299.7h0.7M446.2 297.5h0.7M446.2 290.9h0.7M446.3 281.4h0.7M446.3 298.0h0.7M446.3 277.7h0.7M446.3 289.5h0.7M446.3 275.2h0.7M446.4 302.6h0.7M446.5 300.3h0.7M446.5 272.0h0.7M446.5 288.7h0.7M446.5 286.3h0.7M446.5 298.4h0.7M446.6 306.7h0.7M446.6 303.8h0.7M446.6 271.4h0.7M446.6 273.6h0.7M446.6 278.8h0.7M446.7 300.7h0.7M446.7 299.0h0.7M446.7 277.5h0.7M446.7 312.1h0.7M446.8 277.4h0.7M446.8 297.8h0.7M446.8 298.4h0.7M446.8 306.0h0.7M446.8 299.1h0.7M446.9 282.8h0.7M446.9 292.6h0.7M446.9 312.5h0.7M446.9 306.7h0.7M446.9 271.7h0.7M447.0 274.5h0.7M447.0 290.7h0.7M447.1 275.9h0.7M447.1 288.6h0.7M447.1 277.4h0.7M447.1 287.5h0.7M447.2 276.5h0.7M447.2 313.0h0.7M447.2 272.3h0.7M447.2 312.7h0.7M447.3 298.4h0.7M447.3 286.8h0.7M447.3 290.1h0.7M447.4 278.0h0.7M447.4 300.8h0.7M447.4 291.2h0.7M447.5 297.1h0.7M447.5 277.6h0.7M447.5 273.4h0.7M447.5 289.9h0.7M447.6 305.9h0.7M447.6 308.3h0.7M447.6 287.4h0.7M447.7 292.7h0.7M447.8 289.8h0.7M447.8 288.7h0.7M447.9 312.2h0.7M448.0 303.6h0.7M448.0 280.7h0.7M448.0 282.2h0.7M448.0 309.7h0.7M448.1 303.3h0.7M448.1 290.9h0.7M448.1 294.5h0.7M448.2 287.8h0.7M448.2 301.5h0.7M448.2 291.6h0.7M448.3 303.9h0.7M448.3 302.8h0.7M448.4 281.6h0.7M448.4 306.7h0.7M448.4 297.4h0.7M448.4 286.9h0.7M448.5 293.9h0.7M448.6 275.8h0.7M448.6 290.4h0.7M448.6 288.9h0.7M448.6 285.5h0.7M448.6 283.0h0.7M448.6 305.7h0.7M448.6 292.6h0.7M448.7 288.6h0.7M448.8 295.6h0.7M448.8 279.4h0.7M448.8 277.4h0.7M448.8 312.3h0.7M448.8 288.1h0.7M448.9 310.7h0.7M448.9 300.4h0.7M448.9 302.3h0.7M448.9 300.3h0.7M449.0 307.5h0.7M449.0 290.7h0.7M449.2 293.9h0.7M449.3 288.1h0.7M449.4 276.9h0.7M449.4 302.5h0.7M449.4 295.0h0.7M449.5 306.4h0.7M449.5 299.0h0.7M449.5 307.1h0.7M449.6 292.9h0.7M449.6 295.8h0.7M449.6 270.9h0.7M449.8 288.9h0.7M449.9 279.7h0.7M450.0 302.6h0.7M450.0 289.7h0.7M450.0 274.6h0.7M450.0 283.2h0.7M450.0 294.5h0.7M450.0 294.6h0.7M450.1 277.1h0.7M450.1 294.2h0.7M450.2 290.8h0.7M450.2 304.6h0.7M450.2 290.0h0.7M450.2 286.8h0.7M450.3 312.0h0.7M450.3 271.8h0.7M450.3 279.7h0.7M450.4 280.9h0.7M450.4 297.5h0.7M450.4 291.1h0.7M450.5 275.1h0.7M450.5 299.4h0.7M450.6 302.8h0.7M450.6 294.0h0.7M450.6 289.7h0.7M450.6 299.7h0.7M450.6 274.2h0.7M450.7 307.4h0.7M450.7 299.9h0.7M450.7 274.3h0.7M450.8 283.5h0.7M450.9 291.5h0.7M450.9 271.0h0.7M450.9 298.4h0.7M450.9 284.1h0.7M450.9 271.7h0.7M451.0 273.3h0.7M451.0 306.1h0.7M451.0 288.3h0.7M451.0 285.4h0.7M451.0 303.3h0.7M451.0 305.4h0.7M451.0 292.1h0.7M451.2 291.8h0.7M451.3 278.4h0.7M451.3 293.6h0.7M451.3 285.3h0.7M451.3 307.4h0.7M451.4 305.7h0.7M451.6 290.4h0.7M451.6 298.5h0.7M451.6 294.3h0.7M451.6 286.7h0.7M451.6 271.0h0.7M451.6 302.1h0.7M451.7 298.7h0.7M451.7 302.3h0.7M451.7 289.6h0.7M451.7 293.3h0.7M451.7 302.7h0.7M451.7 296.8h0.7M451.7 306.9h0.7M451.7 278.0h0.7M451.9 297.4h0.7M451.9 307.9h0.7M452.0 290.2h0.7M452.0 281.4h0.7M452.0 272.5h0.7M452.0 272.2h0.7M452.1 288.4h0.7M452.1 272.9h0.7M452.1 285.0h0.7M452.1 277.0h0.7M452.1 299.6h0.7M452.1 291.4h0.7M452.1 286.1h0.7M452.2 275.5h0.7M452.3 271.4h0.7M452.3 271.7h0.7M452.3 289.3h0.7M452.3 285.2h0.7M452.4 289.6h0.7M452.4 287.2h0.7M452.4 303.3h0.7M452.4 306.9h0.7M452.4 301.8h0.7M452.5 304.1h0.7M452.5 277.4h0.7M452.5 291.5h0.7M452.5 303.9h0.7M452.6 271.5h0.7M452.6 278.3h0.7" stroke="#115a50" stroke-width="0.7" fill="none" opacity="0.85"/>
<path d="M445.1 329.8 C446.1 327.2 447.9 324.3 448.6 322.7 L449.5 322.7 C450.2 324.3 452.1 327.2 453.1 329.8Z" fill="#22b4a0" stroke="#2a2a2a" stroke-width="0.25"/>
<line x1="449.05" y1="331.80" x2="449.05" y2="334.10" stroke="#231f20" stroke-width="0.8"/>
<path d="M454.0 306.4h0.7M454.0 308.5h0.7M454.1 287.5h0.7M454.1 303.9h0.7M454.1 310.9h0.7M454.1 304.8h0.7M454.2 297.4h0.7M454.2 296.0h0.7M454.2 310.1h0.7M454.2 297.1h0.7M454.2 278.6h0.7M454.3 301.2h0.7M454.3 304.2h0.7M454.3 284.4h0.7M454.3 295.1h0.7M454.3 289.6h0.7M454.5 290.9h0.7M454.5 300.5h0.7M454.5 310.9h0.7M454.5 304.6h0.7M454.6 276.6h0.7M454.6 283.8h0.7M454.6 294.3h0.7M454.6 298.8h0.7M454.7 303.9h0.7M454.7 300.3h0.7M454.7 299.7h0.7M454.7 302.3h0.7M454.8 308.5h0.7M454.8 280.7h0.7M454.9 284.9h0.7M454.9 303.5h0.7M454.9 296.1h0.7M454.9 298.2h0.7M454.9 301.8h0.7M455.0 312.7h0.7M455.0 287.2h0.7M455.1 271.9h0.7M455.1 288.9h0.7M455.1 303.6h0.7M455.1 296.6h0.7M455.1 300.5h0.7M455.2 271.8h0.7M455.2 311.8h0.7M455.2 299.1h0.7M455.3 301.0h0.7M455.3 288.8h0.7M455.4 289.9h0.7M455.4 285.6h0.7M455.4 308.2h0.7M455.4 292.5h0.7M455.4 304.1h0.7M455.5 302.9h0.7M455.6 311.4h0.7M455.6 268.4h0.7M455.6 298.9h0.7M455.6 299.1h0.7M455.6 286.7h0.7M455.7 285.7h0.7M455.7 265.8h0.7M455.7 291.7h0.7M455.8 305.4h0.7M455.8 309.9h0.7M455.8 295.5h0.7M455.9 285.9h0.7M456.0 288.2h0.7M456.0 310.6h0.7M456.1 274.5h0.7M456.2 294.1h0.7M456.2 295.3h0.7M456.2 267.6h0.7M456.2 302.3h0.7M456.3 306.6h0.7M456.4 276.5h0.7M456.4 285.9h0.7M456.4 286.0h0.7M456.4 284.0h0.7M456.4 291.1h0.7M456.5 299.3h0.7M456.5 293.2h0.7M456.5 294.7h0.7M456.5 267.2h0.7M456.7 275.1h0.7M456.7 282.1h0.7M456.7 297.5h0.7M456.7 282.8h0.7M456.8 295.2h0.7M457.0 291.4h0.7M457.0 306.5h0.7M457.0 308.7h0.7M457.0 268.4h0.7M457.1 304.8h0.7M457.1 302.6h0.7M457.1 266.3h0.7M457.1 302.8h0.7M457.2 306.3h0.7M457.2 307.0h0.7M457.2 288.8h0.7M457.3 277.9h0.7M457.3 300.5h0.7M457.3 277.8h0.7M457.4 306.8h0.7M457.4 266.2h0.7M457.4 276.3h0.7M457.4 293.2h0.7M457.4 286.1h0.7M457.4 277.5h0.7M457.5 290.2h0.7M457.5 287.4h0.7M457.5 295.4h0.7M457.6 306.3h0.7M457.6 265.5h0.7M457.7 301.0h0.7M457.7 305.1h0.7M457.7 291.6h0.7M457.7 293.8h0.7M457.7 308.7h0.7M457.7 271.7h0.7M457.7 310.6h0.7M457.7 285.7h0.7M457.7 285.3h0.7M457.8 270.0h0.7M457.8 293.6h0.7M457.9 310.7h0.7M458.0 309.3h0.7M458.1 286.1h0.7M458.1 298.4h0.7M458.1 294.8h0.7M458.1 288.8h0.7M458.1 270.6h0.7M458.1 270.9h0.7M458.1 302.3h0.7M458.1 273.7h0.7M458.2 287.4h0.7M458.2 286.2h0.7M458.3 285.5h0.7M458.3 293.1h0.7M458.3 309.6h0.7M458.3 276.7h0.7M458.4 279.6h0.7M458.4 274.2h0.7M458.4 291.9h0.7M458.5 304.9h0.7M458.5 286.4h0.7M458.5 289.2h0.7M458.5 294.9h0.7M458.5 294.8h0.7M458.6 286.4h0.7M458.6 292.2h0.7M458.6 294.4h0.7M458.6 311.7h0.7M458.7 292.2h0.7M458.8 272.9h0.7M458.8 265.8h0.7M458.8 273.4h0.7M458.8 273.3h0.7M458.8 303.8h0.7M458.9 295.7h0.7M458.9 268.2h0.7M459.0 279.0h0.7M459.0 290.5h0.7M459.0 292.3h0.7M459.0 296.6h0.7M459.0 276.2h0.7M459.0 305.6h0.7M459.0 298.2h0.7M459.1 266.4h0.7M459.1 299.9h0.7M459.1 292.2h0.7M459.2 279.5h0.7M459.2 286.0h0.7M459.2 286.3h0.7M459.2 303.3h0.7M459.2 288.1h0.7M459.2 306.7h0.7M459.2 301.7h0.7M459.3 301.8h0.7M459.3 301.0h0.7M459.3 307.3h0.7M459.3 306.1h0.7M459.3 303.9h0.7M459.4 300.2h0.7M459.4 273.8h0.7M459.5 303.2h0.7M459.6 296.7h0.7M459.6 299.6h0.7M459.6 297.1h0.7M459.6 281.1h0.7M459.6 295.3h0.7M459.7 272.3h0.7M459.7 293.1h0.7M459.7 279.2h0.7M459.8 296.7h0.7M459.8 290.6h0.7M460.0 271.8h0.7M460.0 285.1h0.7M460.1 288.1h0.7M460.1 282.2h0.7M460.1 293.4h0.7M460.1 300.6h0.7M460.2 306.5h0.7M460.2 300.8h0.7M460.3 276.4h0.7M460.3 304.1h0.7M460.4 307.4h0.7M460.5 308.2h0.7M460.5 288.9h0.7M460.5 310.5h0.7M460.5 300.6h0.7M460.5 293.7h0.7M460.6 293.4h0.7M460.6 286.1h0.7M460.6 307.3h0.7M460.6 268.1h0.7M460.6 284.4h0.7M460.7 304.7h0.7M460.7 284.1h0.7M460.7 276.1h0.7M460.8 295.5h0.7M460.8 270.9h0.7M461.0 310.8h0.7M461.0 296.8h0.7M461.1 294.3h0.7M461.1 300.3h0.7M461.2 306.2h0.7" stroke="#115c6c" stroke-width="0.7" fill="none" opacity="0.85"/>
<path d="M453.6 329.8 C454.6 327.2 456.4 324.3 457.2 322.7 L458.1 322.7 C458.8 324.3 460.6 327.2 461.6 329.8Z" fill="#22b8d8" stroke="#2a2a2a" stroke-width="0.25"/>
<line x1="457.60" y1="331.80" x2="457.60" y2="334.10" stroke="#231f20" stroke-width="0.8"/>
<path d="M462.6 300.4h0.7M462.6 304.3h0.7M462.6 308.9h0.7M462.6 282.7h0.7M462.7 310.6h0.7M462.7 304.8h0.7M462.7 280.9h0.7M462.7 307.1h0.7M462.7 292.8h0.7M462.7 267.6h0.7M462.7 297.0h0.7M462.8 307.3h0.7M462.8 284.6h0.7M462.8 296.6h0.7M462.9 269.1h0.7M462.9 290.6h0.7M463.0 310.7h0.7M463.0 286.1h0.7M463.0 276.6h0.7M463.0 287.9h0.7M463.0 294.8h0.7M463.0 300.4h0.7M463.1 308.0h0.7M463.1 286.3h0.7M463.1 308.5h0.7M463.1 293.8h0.7M463.1 270.8h0.7M463.1 312.0h0.7M463.2 300.6h0.7M463.2 297.9h0.7M463.2 275.0h0.7M463.3 300.9h0.7M463.3 294.8h0.7M463.3 273.2h0.7M463.3 309.9h0.7M463.3 287.9h0.7M463.4 295.5h0.7M463.4 289.0h0.7M463.5 309.7h0.7M463.6 277.5h0.7M463.6 275.6h0.7M463.6 285.0h0.7M463.7 298.9h0.7M463.7 302.5h0.7M463.7 308.0h0.7M463.7 296.2h0.7M463.8 283.9h0.7M463.8 267.6h0.7M463.8 293.0h0.7M463.8 299.6h0.7M463.9 301.3h0.7M463.9 285.5h0.7M464.0 295.4h0.7M464.0 289.7h0.7M464.0 294.8h0.7M464.1 279.4h0.7M464.2 300.8h0.7M464.2 297.5h0.7M464.2 276.8h0.7M464.2 299.8h0.7M464.2 301.0h0.7M464.3 305.7h0.7M464.3 287.4h0.7M464.3 271.8h0.7M464.3 292.2h0.7M464.3 274.2h0.7M464.3 297.6h0.7M464.4 274.6h0.7M464.4 304.4h0.7M464.4 288.5h0.7M464.5 301.8h0.7M464.5 308.7h0.7M464.5 303.6h0.7M464.5 285.1h0.7M464.6 305.6h0.7M464.6 291.9h0.7M464.6 288.3h0.7M464.6 294.7h0.7M464.7 298.7h0.7M464.7 311.1h0.7M464.8 291.1h0.7M464.8 291.2h0.7M464.8 308.0h0.7M464.9 273.7h0.7M464.9 300.5h0.7M464.9 288.0h0.7M465.0 307.7h0.7M465.0 292.2h0.7M465.0 293.6h0.7M465.1 293.4h0.7M465.1 305.6h0.7M465.1 286.4h0.7M465.1 270.0h0.7M465.2 289.3h0.7M465.2 293.7h0.7M465.2 297.8h0.7M465.4 299.5h0.7M465.4 277.2h0.7M465.5 306.3h0.7M465.5 296.8h0.7M465.5 296.4h0.7M465.6 299.6h0.7M465.6 287.2h0.7M465.6 279.3h0.7M465.7 307.2h0.7M465.7 287.8h0.7M465.7 282.2h0.7M465.8 288.0h0.7M465.9 287.1h0.7M465.9 289.5h0.7M466.0 299.7h0.7M466.0 304.6h0.7M466.1 285.5h0.7M466.1 293.7h0.7M466.1 307.8h0.7M466.1 293.6h0.7M466.1 276.1h0.7M466.1 298.3h0.7M466.2 311.9h0.7M466.3 305.2h0.7M466.3 297.7h0.7M466.3 303.9h0.7M466.3 274.1h0.7M466.4 310.2h0.7M466.4 279.2h0.7M466.4 294.3h0.7M466.4 287.8h0.7M466.5 270.4h0.7M466.5 285.6h0.7M466.5 298.4h0.7M466.5 310.7h0.7M466.5 291.7h0.7M466.6 302.5h0.7M466.6 292.4h0.7M466.6 301.8h0.7M466.6 290.3h0.7M466.7 294.4h0.7M466.7 284.9h0.7M466.7 293.1h0.7M466.8 277.8h0.7M466.8 312.6h0.7M466.8 301.7h0.7M466.9 307.6h0.7M466.9 296.8h0.7M466.9 288.6h0.7M466.9 268.7h0.7M466.9 303.6h0.7M466.9 280.9h0.7M467.0 269.1h0.7M467.1 302.3h0.7M467.1 299.5h0.7M467.2 301.2h0.7M467.2 305.4h0.7M467.2 290.5h0.7M467.2 270.3h0.7M467.3 297.9h0.7M467.4 306.5h0.7M467.5 297.3h0.7M467.5 296.7h0.7M467.7 294.3h0.7M467.7 294.7h0.7M467.7 280.1h0.7M467.7 311.2h0.7M467.8 277.5h0.7M467.8 268.2h0.7M467.9 274.6h0.7M467.9 291.0h0.7M467.9 300.6h0.7M467.9 282.4h0.7M468.0 282.9h0.7M468.1 304.0h0.7M468.1 297.0h0.7M468.1 297.1h0.7M468.2 296.6h0.7M468.2 269.0h0.7M468.2 292.6h0.7M468.3 285.9h0.7M468.3 285.7h0.7M468.3 283.8h0.7M468.4 292.7h0.7M468.4 289.6h0.7M468.4 290.7h0.7M468.5 287.1h0.7M468.5 288.1h0.7M468.5 295.5h0.7M468.5 291.3h0.7M468.5 280.5h0.7M468.6 296.0h0.7M468.6 283.9h0.7M468.6 290.3h0.7M468.6 306.5h0.7M468.7 285.9h0.7M468.7 306.6h0.7M468.7 288.3h0.7M468.7 276.5h0.7M468.7 312.0h0.7M468.7 291.7h0.7M468.8 305.7h0.7M468.8 289.9h0.7M468.8 304.2h0.7M468.9 269.2h0.7M468.9 268.8h0.7M468.9 277.5h0.7M468.9 295.8h0.7M469.0 302.5h0.7M469.1 290.0h0.7M469.2 296.4h0.7M469.2 289.9h0.7M469.3 279.9h0.7M469.4 271.5h0.7M469.4 299.8h0.7M469.4 312.0h0.7M469.4 267.6h0.7M469.4 270.9h0.7M469.5 286.0h0.7M469.5 294.9h0.7M469.5 292.0h0.7M469.5 305.7h0.7M469.5 277.9h0.7M469.5 297.2h0.7M469.6 307.8h0.7M469.6 303.8h0.7M469.6 285.3h0.7M469.7 300.6h0.7M469.7 300.7h0.7" stroke="#155474" stroke-width="0.7" fill="none" opacity="0.85"/>
<path d="M462.1 329.8 C463.1 327.2 464.9 324.3 465.7 322.7 L466.6 322.7 C467.3 324.3 469.1 327.2 470.1 329.8Z" fill="#2aa8e8" stroke="#2a2a2a" stroke-width="0.25"/>
<line x1="466.15" y1="331.80" x2="466.15" y2="334.10" stroke="#231f20" stroke-width="0.8"/>
<path d="M471.1 277.9h0.7M471.1 303.7h0.7M471.1 292.3h0.7M471.2 298.3h0.7M471.2 288.5h0.7M471.3 292.3h0.7M471.3 288.1h0.7M471.4 274.2h0.7M471.4 300.9h0.7M471.4 280.1h0.7M471.4 301.3h0.7M471.4 288.4h0.7M471.5 302.8h0.7M471.5 310.8h0.7M471.7 286.8h0.7M471.7 278.0h0.7M471.7 288.5h0.7M471.8 288.6h0.7M471.8 297.8h0.7M471.8 303.7h0.7M471.9 298.0h0.7M472.0 276.6h0.7M472.1 306.8h0.7M472.1 308.5h0.7M472.1 281.4h0.7M472.1 295.9h0.7M472.2 298.9h0.7M472.2 279.8h0.7M472.3 290.1h0.7M472.3 277.6h0.7M472.3 295.2h0.7M472.3 297.1h0.7M472.3 300.9h0.7M472.3 300.9h0.7M472.4 293.7h0.7M472.4 306.1h0.7M472.4 274.9h0.7M472.4 289.2h0.7M472.5 281.9h0.7M472.5 307.6h0.7M472.5 304.5h0.7M472.5 293.8h0.7M472.5 313.0h0.7M472.6 289.7h0.7M472.6 301.5h0.7M472.6 280.3h0.7M472.7 297.9h0.7M472.8 297.8h0.7M472.8 270.9h0.7M472.9 293.9h0.7M472.9 302.1h0.7M472.9 285.0h0.7M473.0 291.6h0.7M473.0 311.5h0.7M473.0 292.7h0.7M473.0 279.6h0.7M473.1 303.9h0.7M473.2 297.5h0.7M473.3 288.8h0.7M473.3 307.0h0.7M473.3 290.5h0.7M473.3 273.4h0.7M473.3 292.6h0.7M473.4 278.7h0.7M473.4 289.1h0.7M473.4 303.3h0.7M473.4 305.0h0.7M473.4 292.3h0.7M473.5 306.8h0.7M473.5 296.3h0.7M473.5 303.1h0.7M473.5 285.3h0.7M473.5 294.8h0.7M473.5 280.2h0.7M473.6 298.1h0.7M473.6 310.6h0.7M473.7 283.3h0.7M473.7 304.6h0.7M473.7 278.1h0.7M473.7 287.6h0.7M473.8 302.3h0.7M473.8 297.9h0.7M473.8 303.1h0.7M473.9 287.8h0.7M473.9 283.0h0.7M474.0 282.2h0.7M474.0 299.2h0.7M474.0 290.5h0.7M474.1 290.0h0.7M474.1 304.7h0.7M474.2 299.5h0.7M474.2 290.6h0.7M474.2 295.4h0.7M474.3 291.0h0.7M474.3 287.0h0.7M474.3 312.3h0.7M474.4 283.9h0.7M474.4 307.8h0.7M474.5 298.5h0.7M474.5 302.2h0.7M474.5 302.5h0.7M474.6 290.6h0.7M474.6 283.3h0.7M474.6 304.9h0.7M474.8 273.4h0.7M474.8 309.2h0.7M474.8 308.1h0.7M474.9 289.9h0.7M474.9 305.7h0.7M474.9 303.3h0.7M474.9 309.0h0.7M475.0 283.8h0.7M475.0 287.3h0.7M475.0 289.9h0.7M475.0 276.2h0.7M475.1 290.8h0.7M475.1 274.3h0.7M475.1 304.9h0.7M475.2 287.1h0.7M475.2 307.7h0.7M475.2 278.9h0.7M475.2 288.1h0.7M475.3 278.0h0.7M475.3 310.1h0.7M475.4 287.9h0.7M475.5 291.1h0.7M475.5 295.9h0.7M475.5 290.7h0.7M475.6 310.6h0.7M475.6 273.4h0.7M475.6 301.4h0.7M475.6 274.4h0.7M475.7 296.0h0.7M475.7 301.3h0.7M475.8 297.9h0.7M475.8 279.4h0.7M475.9 310.7h0.7M476.0 295.7h0.7M476.0 297.9h0.7M476.0 309.8h0.7M476.0 288.1h0.7M476.0 285.5h0.7M476.1 296.2h0.7M476.1 284.5h0.7M476.1 282.6h0.7M476.2 289.6h0.7M476.2 306.2h0.7M476.2 285.6h0.7M476.2 303.2h0.7M476.2 291.1h0.7M476.3 300.0h0.7M476.3 300.2h0.7M476.3 280.2h0.7M476.4 287.9h0.7M476.5 310.6h0.7M476.5 287.2h0.7M476.5 286.5h0.7M476.6 285.8h0.7M476.7 303.4h0.7M476.7 289.6h0.7M476.7 295.5h0.7M476.8 287.2h0.7M476.8 309.2h0.7M476.9 301.2h0.7M476.9 285.4h0.7M476.9 303.3h0.7M476.9 302.8h0.7M477.0 289.6h0.7M477.0 298.9h0.7M477.0 290.0h0.7M477.0 291.0h0.7M477.0 289.5h0.7M477.1 293.4h0.7M477.1 302.8h0.7M477.1 286.0h0.7M477.2 272.4h0.7M477.2 305.5h0.7M477.2 306.0h0.7M477.3 306.8h0.7M477.3 292.4h0.7M477.3 301.1h0.7M477.3 301.3h0.7M477.3 307.3h0.7M477.3 275.2h0.7M477.3 302.3h0.7M477.4 283.7h0.7M477.4 290.1h0.7M477.5 296.5h0.7M477.5 300.4h0.7M477.5 292.1h0.7M477.6 283.2h0.7M477.6 287.3h0.7M477.6 270.8h0.7M477.6 274.4h0.7M477.7 277.4h0.7M477.7 303.0h0.7M477.7 291.5h0.7M477.7 301.9h0.7M477.8 294.6h0.7M477.8 294.9h0.7M477.8 298.9h0.7M477.8 283.5h0.7M477.8 296.5h0.7M477.8 301.7h0.7M477.8 288.9h0.7M477.8 304.1h0.7M477.8 300.0h0.7M477.9 277.4h0.7M477.9 298.9h0.7M477.9 303.0h0.7M477.9 311.4h0.7M477.9 296.1h0.7M478.0 289.0h0.7M478.0 304.5h0.7M478.0 291.9h0.7M478.0 290.7h0.7M478.0 306.7h0.7M478.0 310.7h0.7M478.1 284.8h0.7M478.1 290.3h0.7M478.2 304.1h0.7M478.2 295.1h0.7M478.2 275.8h0.7M478.2 273.2h0.7M478.3 303.9h0.7" stroke="#374c74" stroke-width="0.7" fill="none" opacity="0.85"/>
<path d="M470.7 329.8 C471.7 327.2 473.5 324.3 474.2 322.7 L475.1 322.7 C475.9 324.3 477.7 327.2 478.7 329.8Z" fill="#6e98e8" stroke="#2a2a2a" stroke-width="0.25"/>
<line x1="474.70" y1="331.80" x2="474.70" y2="334.10" stroke="#231f20" stroke-width="0.8"/>
<path d="M479.7 310.5h0.7M479.7 305.4h0.7M479.7 298.7h0.7M479.7 311.3h0.7M479.7 299.6h0.7M479.8 299.7h0.7M479.8 296.1h0.7M479.8 295.4h0.7M479.9 290.2h0.7M479.9 290.5h0.7M479.9 297.5h0.7M480.0 306.8h0.7M480.1 304.4h0.7M480.1 300.2h0.7M480.1 289.9h0.7M480.2 299.1h0.7M480.2 305.4h0.7M480.2 276.2h0.7M480.3 272.4h0.7M480.3 305.5h0.7M480.3 286.5h0.7M480.4 274.1h0.7M480.5 293.5h0.7M480.5 296.3h0.7M480.5 307.8h0.7M480.6 299.3h0.7M480.6 295.7h0.7M480.6 286.2h0.7M480.7 301.8h0.7M480.7 309.2h0.7M480.7 298.7h0.7M480.7 308.1h0.7M480.8 299.1h0.7M480.8 282.5h0.7M480.8 293.3h0.7M480.8 303.3h0.7M480.8 301.5h0.7M480.9 276.3h0.7M481.0 296.0h0.7M481.0 287.6h0.7M481.0 297.1h0.7M481.0 289.7h0.7M481.1 281.5h0.7M481.1 271.5h0.7M481.1 274.7h0.7M481.2 289.0h0.7M481.2 302.5h0.7M481.2 272.2h0.7M481.2 277.2h0.7M481.2 280.2h0.7M481.2 291.0h0.7M481.2 304.1h0.7M481.2 306.0h0.7M481.3 286.9h0.7M481.3 293.8h0.7M481.4 280.9h0.7M481.5 293.5h0.7M481.5 298.3h0.7M481.5 288.5h0.7M481.6 279.2h0.7M481.6 306.0h0.7M481.6 290.7h0.7M481.6 298.3h0.7M481.7 288.4h0.7M481.7 296.1h0.7M481.7 301.5h0.7M481.7 271.6h0.7M481.7 286.9h0.7M481.7 290.3h0.7M481.7 299.4h0.7M481.8 304.7h0.7M481.8 297.2h0.7M481.8 295.6h0.7M481.8 294.5h0.7M481.9 291.8h0.7M481.9 280.9h0.7M481.9 283.0h0.7M482.0 292.6h0.7M482.0 295.1h0.7M482.0 280.4h0.7M482.0 289.2h0.7M482.0 289.8h0.7M482.1 298.9h0.7M482.1 293.6h0.7M482.1 305.9h0.7M482.2 300.3h0.7M482.2 293.4h0.7M482.3 306.1h0.7M482.3 299.3h0.7M482.3 292.4h0.7M482.3 290.8h0.7M482.3 309.9h0.7M482.4 279.7h0.7M482.4 295.5h0.7M482.4 286.8h0.7M482.4 295.9h0.7M482.4 301.5h0.7M482.5 274.3h0.7M482.5 295.7h0.7M482.5 290.4h0.7M482.6 312.5h0.7M482.6 298.6h0.7M482.6 305.2h0.7M482.6 307.1h0.7M482.6 277.6h0.7M482.7 278.2h0.7M482.7 308.1h0.7M482.7 305.2h0.7M482.8 274.4h0.7M482.8 305.6h0.7M482.8 297.4h0.7M482.8 296.1h0.7M482.8 307.0h0.7M482.8 296.4h0.7M482.9 303.7h0.7M482.9 282.7h0.7M482.9 300.7h0.7M482.9 309.9h0.7M483.0 303.4h0.7M483.0 299.6h0.7M483.0 304.6h0.7M483.1 304.8h0.7M483.1 291.3h0.7M483.2 296.8h0.7M483.2 271.6h0.7M483.3 290.2h0.7M483.4 280.7h0.7M483.4 303.8h0.7M483.6 306.0h0.7M483.6 276.2h0.7M483.6 307.7h0.7M483.6 299.6h0.7M483.7 291.5h0.7M483.8 303.7h0.7M483.8 287.6h0.7M483.8 302.3h0.7M483.8 288.0h0.7M483.8 304.1h0.7M483.9 291.1h0.7M483.9 302.8h0.7M483.9 301.4h0.7M484.1 281.5h0.7M484.1 273.4h0.7M484.2 277.7h0.7M484.2 287.8h0.7M484.3 296.8h0.7M484.3 291.1h0.7M484.4 287.3h0.7M484.5 301.3h0.7M484.5 300.6h0.7M484.5 307.2h0.7M484.6 274.0h0.7M484.6 303.7h0.7M484.6 303.9h0.7M484.6 302.5h0.7M484.7 278.7h0.7M484.7 299.5h0.7M484.7 303.9h0.7M484.7 306.3h0.7M484.8 301.2h0.7M484.8 278.2h0.7M484.9 295.4h0.7M485.0 308.1h0.7M485.0 297.0h0.7M485.1 288.9h0.7M485.1 311.4h0.7M485.1 274.6h0.7M485.1 310.4h0.7M485.2 312.0h0.7M485.2 280.5h0.7M485.2 294.1h0.7M485.2 284.0h0.7M485.2 299.3h0.7M485.2 303.3h0.7M485.2 271.4h0.7M485.3 283.2h0.7M485.3 302.1h0.7M485.4 278.3h0.7M485.4 291.5h0.7M485.4 309.6h0.7M485.5 273.1h0.7M485.5 290.1h0.7M485.5 292.4h0.7M485.6 297.9h0.7M485.6 307.3h0.7M485.6 304.1h0.7M485.6 287.0h0.7M485.7 297.7h0.7M485.7 300.2h0.7M485.7 292.3h0.7M485.8 293.5h0.7M485.9 289.0h0.7M485.9 277.5h0.7M486.0 305.9h0.7M486.0 302.0h0.7M486.0 303.3h0.7M486.0 288.2h0.7M486.1 302.2h0.7M486.1 276.8h0.7M486.1 279.6h0.7M486.1 278.6h0.7M486.1 284.0h0.7M486.1 307.0h0.7M486.1 304.4h0.7M486.2 288.2h0.7M486.3 310.1h0.7M486.3 309.1h0.7M486.3 281.4h0.7M486.4 301.8h0.7M486.4 289.1h0.7M486.4 283.2h0.7M486.5 285.4h0.7M486.5 282.6h0.7M486.5 301.7h0.7M486.6 271.8h0.7M486.6 295.3h0.7M486.6 303.3h0.7M486.6 299.8h0.7M486.6 304.4h0.7M486.6 278.1h0.7M486.6 305.2h0.7M486.7 303.0h0.7M486.7 290.5h0.7M486.7 285.1h0.7M486.8 288.1h0.7" stroke="#54456c" stroke-width="0.7" fill="none" opacity="0.85"/>
<path d="M482.9 323.8 C481.4 302.0 480.9 287.0 482.9 268.9 L483.6 268.9 C485.6 287.0 485.1 302.0 483.6 323.8Z" fill="#a88ad8" opacity="0.75"/>
<path d="M479.2 329.8 C480.2 327.2 482.1 324.3 482.8 322.7 L483.7 322.7 C484.4 324.3 486.2 327.2 487.2 329.8Z" fill="#a88ad8" stroke="#2a2a2a" stroke-width="0.25"/>
<line x1="483.25" y1="331.80" x2="483.25" y2="334.10" stroke="#231f20" stroke-width="0.8"/>
<path d="M488.2 274.1h0.7M488.3 287.8h0.7M488.4 300.2h0.7M488.4 284.1h0.7M488.4 294.6h0.7M488.5 296.6h0.7M488.6 302.7h0.7M488.6 297.4h0.7M488.6 303.4h0.7M488.7 297.9h0.7M488.7 302.2h0.7M488.8 279.5h0.7M488.8 307.9h0.7M488.9 286.4h0.7M489.0 285.6h0.7M489.2 300.5h0.7M489.4 292.3h0.7M489.5 283.6h0.7M489.5 289.5h0.7M489.6 296.6h0.7M489.6 275.2h0.7M489.7 296.3h0.7M489.8 307.6h0.7M489.8 298.5h0.7M489.8 270.0h0.7M489.8 297.1h0.7M489.8 294.1h0.7M489.8 300.0h0.7M489.9 294.4h0.7M490.0 288.4h0.7M490.0 300.7h0.7M490.0 310.2h0.7M490.0 293.7h0.7M490.1 267.5h0.7M490.2 279.7h0.7M490.2 296.7h0.7M490.4 288.7h0.7M490.4 273.2h0.7M490.5 295.7h0.7M490.5 299.5h0.7M490.5 296.7h0.7M490.6 299.6h0.7M490.7 296.3h0.7M490.7 298.9h0.7M490.7 299.3h0.7M490.8 289.8h0.7M490.9 298.1h0.7M491.0 309.5h0.7M491.1 310.2h0.7M491.1 275.2h0.7M491.2 307.7h0.7M491.2 302.0h0.7M491.2 299.5h0.7M491.3 301.3h0.7M491.3 269.4h0.7M491.3 298.2h0.7M491.4 301.5h0.7M491.4 284.1h0.7M491.5 278.2h0.7M491.5 289.4h0.7M491.5 271.5h0.7M491.8 291.7h0.7M492.0 286.1h0.7M492.1 294.6h0.7M492.1 299.3h0.7M492.2 271.8h0.7M492.2 271.8h0.7M492.3 302.4h0.7M492.4 296.0h0.7M492.5 275.1h0.7M492.5 288.7h0.7M492.6 278.8h0.7M492.7 299.1h0.7M492.7 300.9h0.7M492.8 283.2h0.7M492.8 296.5h0.7M492.8 289.3h0.7M492.9 288.8h0.7M492.9 293.8h0.7M492.9 282.2h0.7M493.0 300.4h0.7M493.0 301.5h0.7M493.0 270.2h0.7M493.1 297.8h0.7M493.1 290.1h0.7M493.1 297.1h0.7M493.3 298.0h0.7M493.3 299.6h0.7M493.3 286.9h0.7M493.3 289.5h0.7M493.3 291.4h0.7M493.3 294.1h0.7M493.4 304.6h0.7M493.5 267.2h0.7M493.7 287.2h0.7M493.7 275.6h0.7M493.7 299.5h0.7M493.7 300.7h0.7M493.8 301.3h0.7M493.8 306.1h0.7M493.8 282.3h0.7M493.8 268.0h0.7M493.9 301.0h0.7M493.9 302.1h0.7M494.0 301.7h0.7M494.0 268.9h0.7M494.0 285.1h0.7M494.0 306.4h0.7M494.1 283.7h0.7M494.1 288.1h0.7M494.2 287.9h0.7M494.2 307.0h0.7M494.2 297.5h0.7M494.3 285.7h0.7M494.3 302.3h0.7M494.4 311.4h0.7M494.4 276.4h0.7M494.4 309.9h0.7M494.5 272.6h0.7M494.5 288.2h0.7M494.6 293.5h0.7M494.6 291.3h0.7M494.7 299.4h0.7M494.8 274.2h0.7M494.8 292.5h0.7M494.8 290.5h0.7M494.8 310.0h0.7M494.9 294.9h0.7M494.9 300.3h0.7M494.9 295.5h0.7M495.1 290.8h0.7M495.2 296.9h0.7M495.3 274.7h0.7M495.3 287.9h0.7M495.4 298.8h0.7" stroke="#683870" stroke-width="0.7" fill="none" opacity="0.85"/>
<path d="M491.4 323.8 C490.0 300.4 489.4 284.5 491.5 265.4 L492.1 265.4 C494.2 284.5 493.6 300.4 492.2 323.8Z" fill="#d070e0" opacity="0.75"/>
<path d="M487.8 329.8 C488.8 327.2 490.6 324.3 491.4 322.7 L492.2 322.7 C493.0 324.3 494.8 327.2 495.8 329.8Z" fill="#d070e0" stroke="#2a2a2a" stroke-width="0.25"/>
<line x1="491.80" y1="331.80" x2="491.80" y2="334.10" stroke="#231f20" stroke-width="0.8"/>
<path d="M496.8 288.3h0.7M496.9 308.0h0.7M497.0 296.3h0.7M497.0 296.4h0.7M497.1 285.4h0.7M497.1 275.6h0.7M497.2 289.6h0.7M497.2 298.5h0.7M497.4 306.3h0.7M497.4 290.0h0.7M497.5 287.1h0.7M497.5 294.9h0.7M497.5 307.8h0.7M497.6 287.2h0.7M497.7 297.0h0.7M497.7 283.1h0.7M497.7 313.1h0.7M497.8 307.3h0.7M497.8 272.6h0.7M497.9 299.0h0.7M498.0 289.3h0.7M498.0 292.6h0.7M498.1 297.7h0.7M498.1 297.0h0.7M498.2 310.2h0.7M498.2 291.7h0.7M498.3 275.8h0.7M498.3 296.8h0.7M498.3 292.7h0.7M498.4 291.1h0.7M498.4 296.2h0.7M498.5 311.1h0.7M498.6 294.7h0.7M498.6 284.2h0.7M498.7 295.4h0.7M498.8 294.3h0.7M498.8 289.2h0.7M498.8 288.6h0.7M498.8 282.8h0.7M498.9 289.4h0.7M498.9 300.7h0.7M498.9 274.8h0.7M498.9 290.7h0.7M498.9 289.6h0.7M498.9 281.0h0.7M499.0 285.5h0.7M499.1 290.3h0.7M499.1 278.0h0.7M499.1 309.3h0.7M499.2 290.2h0.7M499.3 304.9h0.7M499.3 304.3h0.7M499.5 295.4h0.7M499.6 290.4h0.7M499.7 273.2h0.7M499.7 287.9h0.7M499.8 304.7h0.7M499.8 297.6h0.7M499.9 275.1h0.7M499.9 297.0h0.7M499.9 292.9h0.7M500.0 277.2h0.7M500.0 278.0h0.7M500.0 295.4h0.7M500.0 296.9h0.7M500.1 279.9h0.7M500.2 294.2h0.7M500.5 287.4h0.7M500.6 275.3h0.7M500.7 283.4h0.7M500.7 301.8h0.7M500.9 289.5h0.7M500.9 301.1h0.7M501.0 295.0h0.7M501.0 292.6h0.7M501.0 297.4h0.7M501.1 292.6h0.7M501.1 303.7h0.7M501.2 283.1h0.7M501.2 311.5h0.7M501.2 297.5h0.7M501.3 288.4h0.7M501.3 274.0h0.7M501.3 297.8h0.7M501.3 301.8h0.7M501.4 289.0h0.7M501.4 289.0h0.7M501.4 276.9h0.7M501.4 288.4h0.7M501.4 281.2h0.7M501.4 296.5h0.7M501.5 283.6h0.7M501.6 299.7h0.7M501.7 287.0h0.7M501.7 294.4h0.7M501.7 289.5h0.7M501.8 294.9h0.7M501.8 275.5h0.7M501.9 307.5h0.7M501.9 295.0h0.7M501.9 294.3h0.7M501.9 278.9h0.7M502.0 290.5h0.7M502.0 312.9h0.7M502.0 300.3h0.7M502.2 298.9h0.7M502.5 289.3h0.7M502.5 280.4h0.7M502.5 282.8h0.7M502.6 298.5h0.7M502.7 291.7h0.7M502.7 296.9h0.7M502.9 276.7h0.7M502.9 296.5h0.7M502.9 290.0h0.7M503.0 289.8h0.7M503.0 297.5h0.7M503.0 282.2h0.7M503.2 293.6h0.7M503.2 290.0h0.7M503.2 292.7h0.7M503.3 295.0h0.7M503.4 294.2h0.7M503.4 288.7h0.7M503.4 296.7h0.7M503.5 298.0h0.7M503.5 281.9h0.7M503.5 297.4h0.7M503.6 306.6h0.7M503.8 306.1h0.7M503.8 279.1h0.7M503.8 286.1h0.7M503.9 301.3h0.7M503.9 292.0h0.7M503.9 275.8h0.7" stroke="#783064" stroke-width="0.7" fill="none" opacity="0.85"/>
<path d="M500.0 323.8 C498.6 302.8 498.0 288.2 500.1 270.7 L500.7 270.7 C502.8 288.2 502.2 302.8 500.8 323.8Z" fill="#f060c8" opacity="0.75"/>
<path d="M496.4 329.8 C497.4 327.2 499.2 324.3 499.9 322.7 L500.8 322.7 C501.6 324.3 503.4 327.2 504.4 329.8Z" fill="#f060c8" stroke="#2a2a2a" stroke-width="0.25"/>
<line x1="500.35" y1="331.80" x2="500.35" y2="334.10" stroke="#231f20" stroke-width="0.8"/>
<path d="M505.3 291.2h0.7M505.4 292.3h0.7M505.4 273.8h0.7M505.4 288.9h0.7M505.6 285.4h0.7M505.6 295.5h0.7M505.6 289.0h0.7M505.6 289.8h0.7M505.7 290.1h0.7M505.7 283.1h0.7M505.7 290.1h0.7M505.7 289.7h0.7M505.8 298.4h0.7M505.9 298.3h0.7M506.0 293.5h0.7M506.2 311.0h0.7M506.2 290.4h0.7M506.2 283.7h0.7M506.3 311.8h0.7M506.3 292.2h0.7M506.3 292.6h0.7M506.4 282.9h0.7M506.4 287.2h0.7M506.5 272.8h0.7M506.6 283.9h0.7M506.6 277.8h0.7M506.7 282.3h0.7M506.7 300.0h0.7M506.8 301.5h0.7M506.8 284.8h0.7M506.8 286.9h0.7M506.9 283.5h0.7M506.9 287.0h0.7M507.0 281.6h0.7M507.0 294.0h0.7M507.1 273.8h0.7M507.4 288.6h0.7M507.4 285.9h0.7M507.5 297.1h0.7M507.6 291.9h0.7M507.7 307.0h0.7M507.8 297.3h0.7M507.8 288.4h0.7M507.8 287.8h0.7M507.8 304.2h0.7M507.8 286.0h0.7M507.9 299.7h0.7M507.9 291.2h0.7M508.1 302.8h0.7M508.1 286.7h0.7M508.1 291.4h0.7M508.3 293.6h0.7M508.4 305.3h0.7M508.5 289.8h0.7M508.5 286.8h0.7M508.6 292.4h0.7M508.6 302.1h0.7M508.6 303.7h0.7M508.8 273.4h0.7M508.9 303.9h0.7M508.9 289.0h0.7M509.0 298.3h0.7M509.0 287.7h0.7M509.1 293.5h0.7M509.2 287.9h0.7M509.2 276.9h0.7M509.2 306.8h0.7M509.2 298.4h0.7M509.3 296.7h0.7M509.3 287.5h0.7M509.4 278.8h0.7M509.5 295.1h0.7M509.5 288.4h0.7M509.5 295.3h0.7M509.5 293.5h0.7M509.6 280.9h0.7M509.6 283.9h0.7M509.6 292.5h0.7M509.6 287.5h0.7M509.6 298.7h0.7M509.7 295.1h0.7M509.7 292.5h0.7M509.8 295.6h0.7M509.8 304.9h0.7M509.8 296.2h0.7M509.8 275.5h0.7M509.9 289.4h0.7M509.9 295.3h0.7M509.9 276.8h0.7M509.9 288.0h0.7M509.9 292.9h0.7M509.9 304.2h0.7M509.9 291.4h0.7M510.0 272.6h0.7M510.0 303.6h0.7M510.1 287.6h0.7M510.1 283.1h0.7M510.2 299.3h0.7M510.3 298.7h0.7M510.4 294.0h0.7M510.4 303.7h0.7M510.6 305.9h0.7M510.6 296.5h0.7M510.6 308.8h0.7M510.7 298.7h0.7M510.8 297.0h0.7M510.8 299.6h0.7M510.9 306.3h0.7M510.9 288.8h0.7M511.0 287.0h0.7M511.0 281.9h0.7M511.1 293.7h0.7M511.2 274.0h0.7M511.2 284.1h0.7M511.3 298.0h0.7M511.3 293.1h0.7M511.3 296.2h0.7M511.4 296.8h0.7M511.4 295.6h0.7M511.6 291.0h0.7M511.7 289.7h0.7M511.7 278.0h0.7M511.8 298.7h0.7M511.9 300.0h0.7M511.9 290.1h0.7M512.0 284.2h0.7M512.0 281.9h0.7M512.0 297.3h0.7M512.1 273.3h0.7M512.2 273.1h0.7M512.2 297.1h0.7M512.3 293.2h0.7M512.3 297.3h0.7M512.4 272.9h0.7M512.4 287.4h0.7" stroke="#783450" stroke-width="0.7" fill="none" opacity="0.85"/>
<path d="M508.5 323.8 C507.1 302.8 506.5 288.2 508.6 270.7 L509.2 270.7 C511.3 288.2 510.7 302.8 509.3 323.8Z" fill="#f068a0" opacity="0.75"/>
<path d="M504.9 329.8 C505.9 327.2 507.7 324.3 508.4 322.7 L509.3 322.7 C510.1 324.3 511.9 327.2 512.9 329.8Z" fill="#f068a0" stroke="#2a2a2a" stroke-width="0.25"/>
<line x1="508.90" y1="331.80" x2="508.90" y2="334.10" stroke="#231f20" stroke-width="0.8"/>
<text x="389.20" y="345.00" font-size="8.2" text-anchor="middle" fill="#c8102e" font-weight="bold" transform="rotate(-45 389.20 342.20)">0</text>
<text x="397.75" y="345.00" font-size="8.2" text-anchor="middle" fill="#555" stroke="#555" stroke-width="0.15" transform="rotate(-45 397.75 342.20)">1</text>
<text x="406.30" y="345.00" font-size="8.2" text-anchor="middle" fill="#c8102e" font-weight="bold" transform="rotate(-45 406.30 342.20)">2</text>
<text x="414.85" y="345.00" font-size="8.2" text-anchor="middle" fill="#555" stroke="#555" stroke-width="0.15" transform="rotate(-45 414.85 342.20)">3</text>
<text x="423.40" y="345.00" font-size="8.2" text-anchor="middle" fill="#555" stroke="#555" stroke-width="0.15" transform="rotate(-45 423.40 342.20)">4</text>
<text x="431.95" y="345.00" font-size="8.2" text-anchor="middle" fill="#c8102e" font-weight="bold" transform="rotate(-45 431.95 342.20)">5</text>
<text x="440.50" y="345.00" font-size="8.2" text-anchor="middle" fill="#555" stroke="#555" stroke-width="0.15" transform="rotate(-45 440.50 342.20)">6</text>
<text x="449.05" y="345.00" font-size="8.2" text-anchor="middle" fill="#555" stroke="#555" stroke-width="0.15" transform="rotate(-45 449.05 342.20)">7</text>
<text x="457.60" y="345.00" font-size="8.2" text-anchor="middle" fill="#c8102e" font-weight="bold" transform="rotate(-45 457.60 342.20)">8</text>
<text x="466.15" y="345.00" font-size="8.2" text-anchor="middle" fill="#555" stroke="#555" stroke-width="0.15" transform="rotate(-45 466.15 342.20)">9</text>
<text x="474.70" y="345.00" font-size="8.2" text-anchor="middle" fill="#4a7ab8" stroke="#4a7ab8" stroke-width="0.15" transform="rotate(-45 474.70 342.20)">10</text>
<text x="483.25" y="345.00" font-size="8.2" text-anchor="middle" fill="#c8102e" font-weight="bold" transform="rotate(-45 483.25 342.20)">11</text>
<text x="491.80" y="345.00" font-size="8.2" text-anchor="middle" fill="#4a7ab8" stroke="#4a7ab8" stroke-width="0.15" transform="rotate(-45 491.80 342.20)">12</text>
<text x="500.35" y="345.00" font-size="8.2" text-anchor="middle" fill="#4a7ab8" stroke="#4a7ab8" stroke-width="0.15" transform="rotate(-45 500.35 342.20)">13</text>
<text x="508.90" y="345.00" font-size="8.2" text-anchor="middle" fill="#444" stroke="#444" stroke-width="0.15" transform="rotate(-45 508.90 342.20)">14</text>
<defs><linearGradient id="vir" x1="0" y1="1" x2="0" y2="0"><stop offset="0" stop-color="#440154"/><stop offset="0.13" stop-color="#472d7b"/><stop offset="0.25" stop-color="#3b528b"/><stop offset="0.38" stop-color="#2c728e"/><stop offset="0.5" stop-color="#21918c"/><stop offset="0.63" stop-color="#28ae80"/><stop offset="0.75" stop-color="#5ec962"/><stop offset="0.88" stop-color="#addc30"/><stop offset="1" stop-color="#fde725"/></linearGradient></defs>
<text x="6.80" y="318.90" font-size="10.5" stroke="#231f20" stroke-width="0.15" font-weight="bold" textLength="7" lengthAdjust="spacingAndGlyphs">E</text>
<text x="65.50" y="326.30" font-size="8.3" stroke="#231f20" stroke-width="0.04" textLength="162" lengthAdjust="spacingAndGlyphs">Top-enriched gene sets in liver-derived ANKL</text>
<text x="137.60" y="339.20" font-size="8.1" stroke="#231f20" stroke-width="0.04" text-anchor="end" textLength="73.1" lengthAdjust="spacingAndGlyphs">MYC_TARGETS_V1</text>
<line x1="139.80" y1="336.40" x2="142.00" y2="336.40" stroke="#231f20" stroke-width="0.8"/>
<rect x="143.2" y="334.90" width="65.8" height="3" fill="#e8de1e"/>
<text x="137.60" y="347.85" font-size="8.1" stroke="#231f20" stroke-width="0.04" text-anchor="end" textLength="73.1" lengthAdjust="spacingAndGlyphs">MYC_TARGETS_V2</text>
<line x1="139.80" y1="345.05" x2="142.00" y2="345.05" stroke="#231f20" stroke-width="0.8"/>
<rect x="143.2" y="343.55" width="65.5" height="3" fill="#22a28a"/>
<text x="137.60" y="356.50" font-size="8.1" stroke="#231f20" stroke-width="0.04" text-anchor="end" textLength="84.6" lengthAdjust="spacingAndGlyphs">MTORC1_SIGNALING</text>
<line x1="139.80" y1="353.70" x2="142.00" y2="353.70" stroke="#231f20" stroke-width="0.8"/>
<rect x="143.2" y="352.20" width="58.0" height="3" fill="#22a086"/>
<text x="137.60" y="365.15" font-size="8.1" stroke="#231f20" stroke-width="0.04" text-anchor="end" textLength="130.6" lengthAdjust="spacingAndGlyphs">UNFOLDED_PROTEIN_RESPONSE</text>
<line x1="139.80" y1="362.35" x2="142.00" y2="362.35" stroke="#231f20" stroke-width="0.8"/>
<rect x="143.2" y="360.85" width="57.1" height="3" fill="#2a768e"/>
<text x="137.60" y="373.80" font-size="8.1" stroke="#231f20" stroke-width="0.04" text-anchor="end" textLength="55.6" lengthAdjust="spacingAndGlyphs">E2F_TARGETS</text>
<line x1="139.80" y1="371.00" x2="142.00" y2="371.00" stroke="#231f20" stroke-width="0.8"/>
<rect x="143.2" y="369.50" width="52.5" height="3" fill="#2e6e8e"/>
<text x="137.60" y="382.45" font-size="8.1" stroke="#231f20" stroke-width="0.04" text-anchor="end" textLength="76.8" lengthAdjust="spacingAndGlyphs">G2M_CHECKPOINT</text>
<line x1="139.80" y1="379.65" x2="142.00" y2="379.65" stroke="#231f20" stroke-width="0.8"/>
<rect x="143.2" y="378.15" width="48.7" height="3" fill="#37568c"/>
<text x="137.60" y="391.10" font-size="8.1" stroke="#231f20" stroke-width="0.04" text-anchor="end" textLength="112.6" lengthAdjust="spacingAndGlyphs">TNFA_SIGNALING_VIA_NFKB</text>
<line x1="139.80" y1="388.30" x2="142.00" y2="388.30" stroke="#231f20" stroke-width="0.8"/>
<rect x="143.2" y="386.80" width="46.7" height="3" fill="#3d3d85"/>
<text x="137.60" y="399.75" font-size="8.1" stroke="#231f20" stroke-width="0.04" text-anchor="end" textLength="73.8" lengthAdjust="spacingAndGlyphs">UV_RESPONSE_UP</text>
<line x1="139.80" y1="396.95" x2="142.00" y2="396.95" stroke="#231f20" stroke-width="0.8"/>
<rect x="143.2" y="395.45" width="40.6" height="3" fill="#3b145a"/>
<text x="137.60" y="408.40" font-size="8.1" stroke="#231f20" stroke-width="0.04" text-anchor="end" textLength="51.8" lengthAdjust="spacingAndGlyphs">DNA_REPAIR</text>
<line x1="139.80" y1="405.60" x2="142.00" y2="405.60" stroke="#231f20" stroke-width="0.8"/>
<rect x="143.2" y="404.10" width="39.8" height="3" fill="#3b145a"/>
<text x="137.60" y="417.05" font-size="8.1" stroke="#231f20" stroke-width="0.04" text-anchor="end" textLength="120.6" lengthAdjust="spacingAndGlyphs">CHOLESTEROL_HOMEOSTASIS</text>
<line x1="139.80" y1="414.25" x2="142.00" y2="414.25" stroke="#231f20" stroke-width="0.8"/>
<rect x="143.2" y="412.75" width="38.9" height="3" fill="#3b145a"/>
<line x1="142.00" y1="333.30" x2="142.00" y2="420.40" stroke="#231f20" stroke-width="0.9"/>
<line x1="141.60" y1="420.00" x2="212.50" y2="420.00" stroke="#231f20" stroke-width="0.9"/>
<line x1="143.20" y1="420.00" x2="143.20" y2="422.30" stroke="#231f20" stroke-width="0.8"/>
<text x="143.20" y="433.20" font-size="7.4" stroke="#231f20" stroke-width="0.15" text-anchor="middle">0</text>
<line x1="168.90" y1="420.00" x2="168.90" y2="422.30" stroke="#231f20" stroke-width="0.8"/>
<text x="168.90" y="433.20" font-size="7.4" stroke="#231f20" stroke-width="0.15" text-anchor="middle">1</text>
<line x1="194.60" y1="420.00" x2="194.60" y2="422.30" stroke="#231f20" stroke-width="0.8"/>
<text x="194.60" y="433.20" font-size="7.4" stroke="#231f20" stroke-width="0.15" text-anchor="middle">2</text>
<text x="157.00" y="446.30" font-size="9.2" stroke="#231f20" stroke-width="0.05" textLength="39.2" lengthAdjust="spacingAndGlyphs">Normalized</text>
<text x="147.50" y="458.00" font-size="9.2" stroke="#231f20" stroke-width="0.05" textLength="58" lengthAdjust="spacingAndGlyphs">enrichment score</text>
<text x="198.70" y="387.20" font-size="7.6" stroke="#5a58a8" stroke-width="0.15" fill="#5a58a8" textLength="41.3" lengthAdjust="spacingAndGlyphs">–log10(<tspan font-style="italic">Padj</tspan>)</text>
<rect x="197.7" y="389.9" width="5" height="26.6" fill="url(#vir)"/>
<line x1="197.70" y1="393.80" x2="198.70" y2="393.80" stroke="#fff" stroke-width="0.5"/>
<line x1="201.70" y1="393.80" x2="202.70" y2="393.80" stroke="#fff" stroke-width="0.5"/>
<text x="205.80" y="396.30" font-size="7" stroke="#333" stroke-width="0.15" fill="#333">15</text>
<line x1="197.70" y1="402.00" x2="198.70" y2="402.00" stroke="#fff" stroke-width="0.5"/>
<line x1="201.70" y1="402.00" x2="202.70" y2="402.00" stroke="#fff" stroke-width="0.5"/>
<text x="205.80" y="404.50" font-size="7" stroke="#333" stroke-width="0.15" fill="#333">10</text>
<line x1="197.70" y1="410.20" x2="198.70" y2="410.20" stroke="#fff" stroke-width="0.5"/>
<line x1="201.70" y1="410.20" x2="202.70" y2="410.20" stroke="#fff" stroke-width="0.5"/>
<text x="205.80" y="412.70" font-size="7" stroke="#333" stroke-width="0.15" fill="#333">5</text>
<text x="76.20" y="470.00" font-size="8.4" stroke="#231f20" stroke-width="0.15" textLength="47.5" lengthAdjust="spacingAndGlyphs">Myc target v1</text>
<line x1="105.60" y1="471.00" x2="105.60" y2="530.00" stroke="#f7eef0" stroke-width="0.6"/>
<line x1="131.95" y1="471.00" x2="131.95" y2="530.00" stroke="#f7eef0" stroke-width="0.6"/>
<line x1="158.30" y1="471.00" x2="158.30" y2="530.00" stroke="#f7eef0" stroke-width="0.6"/>
<line x1="73.75" y1="473.20" x2="176.30" y2="473.20" stroke="#e0607a" stroke-width="0.8" stroke-dasharray="1.6 1.6"/>
<path d="M91.0 520.8V527.6M80.1 520.8V527.6M108.8 520.8V527.6M99.3 520.8V527.6M134.8 520.8V527.6M112.7 520.8V527.6M98.1 520.8V527.6M83.4 520.8V527.6M108.9 520.8V527.6M102.9 520.8V527.6M133.0 520.8V527.6M131.7 520.8V527.6M156.9 520.8V527.6M104.0 520.8V527.6M103.1 520.8V527.6M110.5 520.8V527.6M85.7 520.8V527.6M81.5 520.8V527.6M96.5 520.8V527.6M109.9 520.8V527.6M88.1 520.8V527.6M133.6 520.8V527.6M106.1 520.8V527.6M113.2 520.8V527.6M88.0 520.8V527.6M98.4 520.8V527.6M90.4 520.8V527.6M101.3 520.8V527.6M86.4 520.8V527.6M101.5 520.8V527.6M95.1 520.8V527.6M83.2 520.8V527.6M82.0 520.8V527.6M95.9 520.8V527.6M79.3 520.8V527.6M92.5 520.8V527.6M125.3 520.8V527.6M93.4 520.8V527.6M80.3 520.8V527.6M119.6 520.8V527.6M122.4 520.8V527.6M106.6 520.8V527.6M120.5 520.8V527.6M142.3 520.8V527.6M91.6 520.8V527.6M83.8 520.8V527.6M92.4 520.8V527.6M95.4 520.8V527.6M145.3 520.8V527.6M89.2 520.8V527.6M98.9 520.8V527.6M99.2 520.8V527.6M130.7 520.8V527.6M87.6 520.8V527.6M101.3 520.8V527.6M103.9 520.8V527.6M144.5 520.8V527.6M81.4 520.8V527.6M106.0 520.8V527.6M150.4 520.8V527.6M118.6 520.8V527.6M85.6 520.8V527.6M99.1 520.8V527.6M81.2 520.8V527.6M111.8 520.8V527.6M122.9 520.8V527.6M111.8 520.8V527.6M90.0 520.8V527.6M127.8 520.8V527.6M95.6 520.8V527.6M115.7 520.8V527.6M104.8 520.8V527.6M102.8 520.8V527.6M95.1 520.8V527.6M111.0 520.8V527.6" stroke="#3a2a30" stroke-width="0.55" opacity="0.85"/>
<line x1="73.75" y1="524.30" x2="175.00" y2="524.30" stroke="#111" stroke-width="0.8"/>
<path d="M79.3 524.0 C79.4 521.6 79.5 515.8 79.8 512.0 C80.1 508.2 80.2 507.8 80.6 505.0 C81.0 502.2 81.3 500.6 82.0 498.0 C82.7 495.4 83.2 494.0 84.0 492.0 C84.8 490.0 85.2 489.2 86.0 488.0 C86.8 486.8 87.2 487.2 88.0 486.0 C88.8 484.8 89.2 483.4 90.0 482.0 C90.8 480.6 91.0 480.2 92.0 479.0 C93.0 477.8 93.7 477.2 95.0 476.0 C96.3 474.8 97.1 473.4 98.7 473.2 C100.3 473.0 101.1 474.1 103.0 475.0 C104.9 475.9 105.6 475.8 108.0 477.5 C110.4 479.2 112.0 481.2 115.0 483.5 C118.0 485.8 119.8 486.7 123.0 489.0 C126.2 491.3 127.8 492.5 131.0 495.0 C134.2 497.5 135.7 498.8 139.0 501.5 C142.3 504.2 144.3 506.3 147.5 508.7 C150.7 511.1 152.0 511.5 155.0 513.5 C158.0 515.5 160.1 517.2 162.5 518.7 C164.9 520.2 165.2 520.0 167.0 521.0 C168.8 522.0 170.6 523.2 171.5 523.8" fill="none" stroke="#63b863" stroke-width="0.9"/>
<line x1="73.75" y1="471.00" x2="73.75" y2="530.40" stroke="#231f20" stroke-width="0.9"/>
<line x1="73.35" y1="530.00" x2="175.20" y2="530.00" stroke="#231f20" stroke-width="0.9"/>
<line x1="71.45" y1="473.80" x2="73.75" y2="473.80" stroke="#231f20" stroke-width="0.8"/>
<text x="70.40" y="476.70" font-size="8.2" stroke="#231f20" stroke-width="0.15" text-anchor="end" textLength="12.8" lengthAdjust="spacingAndGlyphs">0.6</text>
<line x1="71.45" y1="490.80" x2="73.75" y2="490.80" stroke="#231f20" stroke-width="0.8"/>
<text x="70.40" y="493.70" font-size="8.2" stroke="#231f20" stroke-width="0.15" text-anchor="end" textLength="12.8" lengthAdjust="spacingAndGlyphs">0.4</text>
<line x1="71.45" y1="507.50" x2="73.75" y2="507.50" stroke="#231f20" stroke-width="0.8"/>
<text x="70.40" y="510.40" font-size="8.2" stroke="#231f20" stroke-width="0.15" text-anchor="end" textLength="12.8" lengthAdjust="spacingAndGlyphs">0.2</text>
<line x1="71.45" y1="524.30" x2="73.75" y2="524.30" stroke="#231f20" stroke-width="0.8"/>
<text x="70.40" y="527.20" font-size="8.2" stroke="#231f20" stroke-width="0.15" text-anchor="end" textLength="12.8" lengthAdjust="spacingAndGlyphs">0.0</text>
<line x1="79.25" y1="530.00" x2="79.25" y2="532.30" stroke="#231f20" stroke-width="0.8"/>
<text x="79.25" y="543.60" font-size="8.2" stroke="#231f20" stroke-width="0.15" text-anchor="middle" textLength="4.2" lengthAdjust="spacingAndGlyphs">0</text>
<line x1="105.60" y1="530.00" x2="105.60" y2="532.30" stroke="#231f20" stroke-width="0.8"/>
<text x="105.60" y="543.60" font-size="8.2" stroke="#231f20" stroke-width="0.15" text-anchor="middle" textLength="17.5" lengthAdjust="spacingAndGlyphs">5000</text>
<line x1="131.95" y1="530.00" x2="131.95" y2="532.30" stroke="#231f20" stroke-width="0.8"/>
<text x="131.95" y="543.60" font-size="8.2" stroke="#231f20" stroke-width="0.15" text-anchor="middle" textLength="22.5" lengthAdjust="spacingAndGlyphs">10000</text>
<line x1="158.30" y1="530.00" x2="158.30" y2="532.30" stroke="#231f20" stroke-width="0.8"/>
<text x="158.30" y="543.60" font-size="8.2" stroke="#231f20" stroke-width="0.15" text-anchor="middle" textLength="22.5" lengthAdjust="spacingAndGlyphs">15000</text>
<text x="116.20" y="556.50" font-size="9.8" stroke="#231f20" stroke-width="0.15" textLength="16.3" lengthAdjust="spacingAndGlyphs">Rank</text>
<text x="52.60" y="528.80" font-size="9.8" stroke="#231f20" stroke-width="0.15" textLength="57.8" lengthAdjust="spacingAndGlyphs" transform="rotate(-90 52.60 528.80)">Enrichment score</text>
<text x="7.10" y="579.40" font-size="10.5" stroke="#231f20" stroke-width="0.15" font-weight="bold" textLength="8" lengthAdjust="spacingAndGlyphs">G</text>
<line x1="50.30" y1="588.30" x2="50.30" y2="661.40" stroke="#231f20" stroke-width="0.9"/>
<line x1="49.90" y1="661.00" x2="92.00" y2="661.00" stroke="#231f20" stroke-width="0.9"/>
<line x1="47.80" y1="658.00" x2="50.30" y2="658.00" stroke="#231f20" stroke-width="0.8"/>
<text x="44.80" y="660.70" font-size="7.6" stroke="#231f20" stroke-width="0.15" text-anchor="end">0</text>
<line x1="47.80" y1="644.55" x2="50.30" y2="644.55" stroke="#231f20" stroke-width="0.8"/>
<text x="44.80" y="647.25" font-size="7.6" stroke="#231f20" stroke-width="0.15" text-anchor="end">50</text>
<line x1="47.80" y1="631.10" x2="50.30" y2="631.10" stroke="#231f20" stroke-width="0.8"/>
<text x="44.80" y="633.80" font-size="7.6" stroke="#231f20" stroke-width="0.15" text-anchor="end">100</text>
<line x1="47.80" y1="617.65" x2="50.30" y2="617.65" stroke="#231f20" stroke-width="0.8"/>
<text x="44.80" y="620.35" font-size="7.6" stroke="#231f20" stroke-width="0.15" text-anchor="end">150</text>
<line x1="47.80" y1="604.20" x2="50.30" y2="604.20" stroke="#231f20" stroke-width="0.8"/>
<text x="44.80" y="606.90" font-size="7.6" stroke="#231f20" stroke-width="0.15" text-anchor="end">200</text>
<line x1="47.80" y1="590.75" x2="50.30" y2="590.75" stroke="#231f20" stroke-width="0.8"/>
<text x="44.80" y="593.45" font-size="7.6" stroke="#231f20" stroke-width="0.15" text-anchor="end">250</text>
<line x1="58.30" y1="661.00" x2="58.30" y2="663.50" stroke="#231f20" stroke-width="0.8"/>
<line x1="71.00" y1="661.00" x2="71.00" y2="663.50" stroke="#231f20" stroke-width="0.8"/>
<line x1="84.50" y1="661.00" x2="84.50" y2="663.50" stroke="#231f20" stroke-width="0.8"/>
<text x="27.20" y="662.00" font-size="8.6" stroke="#231f20" stroke-width="0.15" textLength="74" lengthAdjust="spacingAndGlyphs" transform="rotate(-90 27.20 662.00)"><tspan font-style="italic">MYC</tspan> expression (TPM)</text>
<text x="59.80" y="670.40" font-size="8.8" stroke="#231f20" stroke-width="0.15" text-anchor="end" transform="rotate(-45 59.80 670.40)">Normal</text>
<text x="73.90" y="670.80" font-size="8.8" stroke="#231f20" stroke-width="0.15" text-anchor="end" transform="rotate(-45 73.90 670.80)">Spleen</text>
<text x="86.10" y="670.80" font-size="8.8" stroke="#231f20" stroke-width="0.15" text-anchor="end" transform="rotate(-45 86.10 670.80)">Liver</text>
<line x1="53.50" y1="656.20" x2="62.50" y2="656.20" stroke="#3a2c4a" stroke-width="1.3"/>
<line x1="67.00" y1="634.20" x2="76.00" y2="634.20" stroke="#2f4a42" stroke-width="1.3"/>
<rect x="79.5" y="598.2" width="13" height="4.2" rx="2" fill="#f6e27a" opacity="0.8"/>
<circle cx="54.8" cy="656.3" r="1.45" fill="#111"/>
<circle cx="57.5" cy="656.2" r="1.45" fill="#111"/>
<circle cx="58.7" cy="655.8" r="1.45" fill="#111"/>
<circle cx="69.2" cy="634.6" r="1.45" fill="#111"/>
<circle cx="72.1" cy="631.5" r="1.45" fill="#111"/>
<circle cx="70.5" cy="634.6" r="1.45" fill="#111"/>
<circle cx="81.3" cy="599.5" r="1.45" fill="#111"/>
<circle cx="86.2" cy="596.4" r="1.45" fill="#111"/>
<circle cx="83.9" cy="604.2" r="1.45" fill="#111"/>
<text x="64.40" y="590.60" font-size="6.6" stroke="#231f20" stroke-width="0.15" textLength="12.7" lengthAdjust="spacingAndGlyphs">****</text>
<text x="71.00" y="596.20" font-size="6.6" stroke="#231f20" stroke-width="0.15" textLength="12.7" lengthAdjust="spacingAndGlyphs">****</text>
<line x1="71.00" y1="595.40" x2="83.70" y2="595.40" stroke="#888" stroke-width="0.7"/>
<line x1="102.60" y1="607.30" x2="102.60" y2="613.70" stroke="#a07cc0" stroke-width="0.9"/>
<rect x="100.3" y="609.8" width="4.6" height="1.4" fill="#a07cc0"/>
<line x1="102.60" y1="618.80" x2="102.60" y2="625.20" stroke="#5a9e8a" stroke-width="0.9"/>
<rect x="100.3" y="621.3" width="4.6" height="1.4" fill="#5a9e8a"/>
<line x1="102.60" y1="631.10" x2="102.60" y2="637.50" stroke="#f0d060" stroke-width="0.9"/>
<rect x="100.3" y="633.5999999999999" width="4.6" height="1.4" fill="#f0d060"/>
<text x="109.50" y="613.20" font-size="7.6" stroke="#231f20" stroke-width="0.15" textLength="54.2" lengthAdjust="spacingAndGlyphs">Normal NK cells</text>
<text x="109.50" y="624.70" font-size="7.6" stroke="#231f20" stroke-width="0.15" textLength="94.2" lengthAdjust="spacingAndGlyphs">Spleen-derived ANKL1 cells</text>
<text x="109.50" y="637.00" font-size="7.6" stroke="#231f20" stroke-width="0.15" textLength="86.7" lengthAdjust="spacingAndGlyphs">Liver-derived ANKL1 cells</text>
<text x="259.20" y="371.40" font-size="10.5" stroke="#231f20" stroke-width="0.15" font-weight="bold" textLength="6.6" lengthAdjust="spacingAndGlyphs">F</text>
<path d="M390.8 378.5 H297.3 V426.2 H492.7 V378.5 H489.6" fill="none" stroke="#231f20" stroke-width="0.9"/>
<line x1="295.00" y1="424.30" x2="297.30" y2="424.30" stroke="#231f20" stroke-width="0.8"/>
<text x="293.60" y="427.00" font-size="7.8" stroke="#333" stroke-width="0.05" text-anchor="end" fill="#333" textLength="13" lengthAdjust="spacingAndGlyphs">0.0</text>
<line x1="295.00" y1="409.55" x2="297.30" y2="409.55" stroke="#231f20" stroke-width="0.8"/>
<text x="293.60" y="412.25" font-size="7.8" stroke="#333" stroke-width="0.05" text-anchor="end" fill="#333" textLength="13" lengthAdjust="spacingAndGlyphs">0.5</text>
<line x1="295.00" y1="394.80" x2="297.30" y2="394.80" stroke="#231f20" stroke-width="0.8"/>
<text x="293.60" y="397.50" font-size="7.8" stroke="#333" stroke-width="0.05" text-anchor="end" fill="#333" textLength="13" lengthAdjust="spacingAndGlyphs">1.0</text>
<line x1="295.00" y1="380.05" x2="297.30" y2="380.05" stroke="#231f20" stroke-width="0.8"/>
<text x="293.60" y="382.75" font-size="7.8" stroke="#333" stroke-width="0.05" text-anchor="end" fill="#333" textLength="13" lengthAdjust="spacingAndGlyphs">1.5</text>
<text x="276.60" y="431.00" font-size="8.8" stroke="#333" stroke-width="0.05" fill="#333" textLength="56.2" lengthAdjust="spacingAndGlyphs" transform="rotate(-90 276.60 431.00)">log2 fold change</text>
<line x1="300.00" y1="426.20" x2="300.00" y2="428.60" stroke="#231f20" stroke-width="0.7"/>
<line x1="300.00" y1="383.69" x2="300.00" y2="389.98" stroke="#9a90a8" stroke-width="0.7"/>
<circle cx="300.0" cy="386.8" r="2.00" fill="#e8e030"/>
<text x="301.40" y="430.40" font-size="4.4" stroke="#707070" stroke-width="0.05" text-anchor="end" fill="#707070" transform="rotate(-90 301.40 430.40)">MYC</text>
<line x1="303.87" y1="426.20" x2="303.87" y2="428.60" stroke="#231f20" stroke-width="0.7"/>
<line x1="303.87" y1="386.02" x2="303.87" y2="395.91" stroke="#9a90a8" stroke-width="0.7"/>
<circle cx="303.9" cy="391.0" r="1.90" fill="#2f4f8c"/>
<text x="305.27" y="430.40" font-size="4.4" stroke="#707070" stroke-width="0.05" text-anchor="end" fill="#707070" transform="rotate(-90 305.27 430.40)">NPM3</text>
<line x1="307.74" y1="426.20" x2="307.74" y2="428.60" stroke="#231f20" stroke-width="0.7"/>
<line x1="307.74" y1="396.53" x2="307.74" y2="406.05" stroke="#9a90a8" stroke-width="0.7"/>
<circle cx="307.7" cy="401.3" r="1.10" fill="#b8c840"/>
<text x="309.14" y="430.40" font-size="4.4" stroke="#707070" stroke-width="0.05" text-anchor="end" fill="#707070" transform="rotate(-90 309.14 430.40)">NOP16</text>
<line x1="311.61" y1="426.20" x2="311.61" y2="428.60" stroke="#231f20" stroke-width="0.7"/>
<line x1="311.61" y1="399.21" x2="311.61" y2="408.09" stroke="#9a90a8" stroke-width="0.7"/>
<circle cx="311.6" cy="403.7" r="1.19" fill="#231a55"/>
<text x="313.01" y="430.40" font-size="4.4" stroke="#707070" stroke-width="0.05" text-anchor="end" fill="#707070" transform="rotate(-90 313.01 430.40)">NME1</text>
<line x1="315.48" y1="426.20" x2="315.48" y2="428.60" stroke="#231f20" stroke-width="0.7"/>
<line x1="315.48" y1="399.49" x2="315.48" y2="408.40" stroke="#9a90a8" stroke-width="0.7"/>
<circle cx="315.5" cy="403.9" r="1.17" fill="#231a55"/>
<text x="316.88" y="430.40" font-size="4.4" stroke="#707070" stroke-width="0.05" text-anchor="end" fill="#707070" transform="rotate(-90 316.88 430.40)">POLR1E</text>
<line x1="319.35" y1="426.20" x2="319.35" y2="428.60" stroke="#231f20" stroke-width="0.7"/>
<line x1="319.35" y1="400.66" x2="319.35" y2="408.71" stroke="#9a90a8" stroke-width="0.7"/>
<circle cx="319.4" cy="404.7" r="1.15" fill="#231a55"/>
<text x="320.75" y="430.40" font-size="4.4" stroke="#707070" stroke-width="0.05" text-anchor="end" fill="#707070" transform="rotate(-90 320.75 430.40)">SRM</text>
<line x1="323.22" y1="426.20" x2="323.22" y2="428.60" stroke="#231f20" stroke-width="0.7"/>
<line x1="323.22" y1="400.90" x2="323.22" y2="409.65" stroke="#9a90a8" stroke-width="0.7"/>
<circle cx="323.2" cy="405.3" r="1.13" fill="#231a55"/>
<text x="324.62" y="430.40" font-size="4.4" stroke="#707070" stroke-width="0.05" text-anchor="end" fill="#707070" transform="rotate(-90 324.62 430.40)">NOP56</text>
<line x1="327.09" y1="426.20" x2="327.09" y2="428.60" stroke="#231f20" stroke-width="0.7"/>
<line x1="327.09" y1="402.62" x2="327.09" y2="408.51" stroke="#9a90a8" stroke-width="0.7"/>
<circle cx="327.1" cy="405.6" r="1.11" fill="#231a55"/>
<text x="328.49" y="430.40" font-size="4.4" stroke="#707070" stroke-width="0.05" text-anchor="end" fill="#707070" transform="rotate(-90 328.49 430.40)">PPAT</text>
<line x1="330.96" y1="426.20" x2="330.96" y2="428.60" stroke="#231f20" stroke-width="0.7"/>
<line x1="330.96" y1="401.94" x2="330.96" y2="409.49" stroke="#9a90a8" stroke-width="0.7"/>
<circle cx="331.0" cy="405.7" r="1.09" fill="#231a55"/>
<text x="332.36" y="430.40" font-size="4.4" stroke="#707070" stroke-width="0.05" text-anchor="end" fill="#707070" transform="rotate(-90 332.36 430.40)">CDK4</text>
<line x1="334.83" y1="426.20" x2="334.83" y2="428.60" stroke="#231f20" stroke-width="0.7"/>
<line x1="334.83" y1="401.70" x2="334.83" y2="410.91" stroke="#9a90a8" stroke-width="0.7"/>
<circle cx="334.8" cy="406.3" r="1.07" fill="#231a55"/>
<text x="336.23" y="430.40" font-size="4.4" stroke="#707070" stroke-width="0.05" text-anchor="end" fill="#707070" transform="rotate(-90 336.23 430.40)">MRTO4</text>
<line x1="338.70" y1="426.20" x2="338.70" y2="428.60" stroke="#231f20" stroke-width="0.7"/>
<line x1="338.70" y1="402.93" x2="338.70" y2="409.19" stroke="#9a90a8" stroke-width="0.7"/>
<circle cx="338.7" cy="406.1" r="1.05" fill="#231a55"/>
<text x="340.10" y="430.40" font-size="4.4" stroke="#707070" stroke-width="0.05" text-anchor="end" fill="#707070" transform="rotate(-90 340.10 430.40)">RRP9</text>
<line x1="342.57" y1="426.20" x2="342.57" y2="428.60" stroke="#231f20" stroke-width="0.7"/>
<line x1="342.57" y1="401.50" x2="342.57" y2="411.17" stroke="#9a90a8" stroke-width="0.7"/>
<circle cx="342.6" cy="406.3" r="1.03" fill="#231a55"/>
<text x="343.97" y="430.40" font-size="4.4" stroke="#707070" stroke-width="0.05" text-anchor="end" fill="#707070" transform="rotate(-90 343.97 430.40)">TSR1</text>
<line x1="346.44" y1="426.20" x2="346.44" y2="428.60" stroke="#231f20" stroke-width="0.7"/>
<line x1="346.44" y1="401.94" x2="346.44" y2="411.44" stroke="#9a90a8" stroke-width="0.7"/>
<circle cx="346.4" cy="406.7" r="1.01" fill="#231a55"/>
<text x="347.84" y="430.40" font-size="4.4" stroke="#707070" stroke-width="0.05" text-anchor="end" fill="#707070" transform="rotate(-90 347.84 430.40)">PA2G4</text>
<line x1="350.31" y1="426.20" x2="350.31" y2="428.60" stroke="#231f20" stroke-width="0.7"/>
<line x1="350.31" y1="403.52" x2="350.31" y2="410.77" stroke="#9a90a8" stroke-width="0.7"/>
<circle cx="350.3" cy="407.1" r="0.99" fill="#231a55"/>
<text x="351.71" y="430.40" font-size="4.4" stroke="#707070" stroke-width="0.05" text-anchor="end" fill="#707070" transform="rotate(-90 351.71 430.40)">HSPD1</text>
<line x1="354.18" y1="426.20" x2="354.18" y2="428.60" stroke="#231f20" stroke-width="0.7"/>
<line x1="354.18" y1="403.34" x2="354.18" y2="410.37" stroke="#9a90a8" stroke-width="0.7"/>
<circle cx="354.2" cy="406.9" r="0.97" fill="#231a55"/>
<text x="355.58" y="430.40" font-size="4.4" stroke="#707070" stroke-width="0.05" text-anchor="end" fill="#707070" transform="rotate(-90 355.58 430.40)">RRS1</text>
<line x1="358.05" y1="426.20" x2="358.05" y2="428.60" stroke="#231f20" stroke-width="0.7"/>
<line x1="358.05" y1="403.34" x2="358.05" y2="410.79" stroke="#9a90a8" stroke-width="0.7"/>
<circle cx="358.1" cy="407.1" r="0.95" fill="#231a55"/>
<text x="359.45" y="430.40" font-size="4.4" stroke="#707070" stroke-width="0.05" text-anchor="end" fill="#707070" transform="rotate(-90 359.45 430.40)">NOP2</text>
<line x1="361.92" y1="426.20" x2="361.92" y2="428.60" stroke="#231f20" stroke-width="0.7"/>
<line x1="361.92" y1="403.98" x2="361.92" y2="411.11" stroke="#9a90a8" stroke-width="0.7"/>
<circle cx="361.9" cy="407.5" r="0.93" fill="#231a55"/>
<text x="363.32" y="430.40" font-size="4.4" stroke="#707070" stroke-width="0.05" text-anchor="end" fill="#707070" transform="rotate(-90 363.32 430.40)">WDR43</text>
<line x1="365.79" y1="426.20" x2="365.79" y2="428.60" stroke="#231f20" stroke-width="0.7"/>
<line x1="365.79" y1="402.77" x2="365.79" y2="412.78" stroke="#9a90a8" stroke-width="0.7"/>
<circle cx="365.8" cy="407.8" r="0.91" fill="#231a55"/>
<text x="367.19" y="430.40" font-size="4.4" stroke="#707070" stroke-width="0.05" text-anchor="end" fill="#707070" transform="rotate(-90 367.19 430.40)">PES1</text>
<line x1="369.66" y1="426.20" x2="369.66" y2="428.60" stroke="#231f20" stroke-width="0.7"/>
<line x1="369.66" y1="404.67" x2="369.66" y2="411.80" stroke="#9a90a8" stroke-width="0.7"/>
<circle cx="369.7" cy="408.2" r="0.89" fill="#231a55"/>
<text x="371.06" y="430.40" font-size="4.4" stroke="#707070" stroke-width="0.05" text-anchor="end" fill="#707070" transform="rotate(-90 371.06 430.40)">BOP1</text>
<line x1="373.53" y1="426.20" x2="373.53" y2="428.60" stroke="#231f20" stroke-width="0.7"/>
<line x1="373.53" y1="405.94" x2="373.53" y2="411.38" stroke="#9a90a8" stroke-width="0.7"/>
<circle cx="373.5" cy="408.7" r="0.87" fill="#231a55"/>
<text x="374.93" y="430.40" font-size="4.4" stroke="#707070" stroke-width="0.05" text-anchor="end" fill="#707070" transform="rotate(-90 374.93 430.40)">DKC1</text>
<line x1="377.40" y1="426.20" x2="377.40" y2="428.60" stroke="#231f20" stroke-width="0.7"/>
<line x1="377.40" y1="405.68" x2="377.40" y2="411.43" stroke="#9a90a8" stroke-width="0.7"/>
<circle cx="377.4" cy="408.6" r="0.85" fill="#231a55"/>
<text x="378.80" y="430.40" font-size="4.4" stroke="#707070" stroke-width="0.05" text-anchor="end" fill="#707070" transform="rotate(-90 378.80 430.40)">GNL3</text>
<line x1="381.27" y1="426.20" x2="381.27" y2="428.60" stroke="#231f20" stroke-width="0.7"/>
<line x1="381.27" y1="404.24" x2="381.27" y2="412.94" stroke="#9a90a8" stroke-width="0.7"/>
<circle cx="381.3" cy="408.6" r="0.83" fill="#231a55"/>
<text x="382.67" y="430.40" font-size="4.4" stroke="#707070" stroke-width="0.05" text-anchor="end" fill="#707070" transform="rotate(-90 382.67 430.40)">RRP12</text>
<line x1="385.14" y1="426.20" x2="385.14" y2="428.60" stroke="#231f20" stroke-width="0.7"/>
<line x1="385.14" y1="404.27" x2="385.14" y2="414.27" stroke="#9a90a8" stroke-width="0.7"/>
<circle cx="385.1" cy="409.3" r="0.81" fill="#231a55"/>
<text x="386.54" y="430.40" font-size="4.4" stroke="#707070" stroke-width="0.05" text-anchor="end" fill="#707070" transform="rotate(-90 386.54 430.40)">NCL</text>
<line x1="389.01" y1="426.20" x2="389.01" y2="428.60" stroke="#231f20" stroke-width="0.7"/>
<line x1="389.01" y1="405.02" x2="389.01" y2="412.67" stroke="#9a90a8" stroke-width="0.7"/>
<circle cx="389.0" cy="408.8" r="0.79" fill="#231a55"/>
<text x="390.41" y="430.40" font-size="4.4" stroke="#707070" stroke-width="0.05" text-anchor="end" fill="#707070" transform="rotate(-90 390.41 430.40)">TFB2M</text>
<line x1="392.88" y1="426.20" x2="392.88" y2="428.60" stroke="#231f20" stroke-width="0.7"/>
<line x1="392.88" y1="405.75" x2="392.88" y2="413.38" stroke="#9a90a8" stroke-width="0.7"/>
<circle cx="392.9" cy="409.6" r="0.77" fill="#231a55"/>
<text x="394.28" y="430.40" font-size="4.4" stroke="#707070" stroke-width="0.05" text-anchor="end" fill="#707070" transform="rotate(-90 394.28 430.40)">LYAR</text>
<line x1="396.75" y1="426.20" x2="396.75" y2="428.60" stroke="#231f20" stroke-width="0.7"/>
<line x1="396.75" y1="405.83" x2="396.75" y2="413.74" stroke="#9a90a8" stroke-width="0.7"/>
<circle cx="396.8" cy="409.8" r="0.75" fill="#231a55"/>
<text x="398.15" y="430.40" font-size="4.4" stroke="#707070" stroke-width="0.05" text-anchor="end" fill="#707070" transform="rotate(-90 398.15 430.40)">FBL</text>
<line x1="400.62" y1="426.20" x2="400.62" y2="428.60" stroke="#231f20" stroke-width="0.7"/>
<line x1="400.62" y1="405.76" x2="400.62" y2="414.60" stroke="#9a90a8" stroke-width="0.7"/>
<circle cx="400.6" cy="410.2" r="0.73" fill="#231a55"/>
<text x="402.02" y="430.40" font-size="4.4" stroke="#707070" stroke-width="0.05" text-anchor="end" fill="#707070" transform="rotate(-90 402.02 430.40)">PUS7</text>
<line x1="404.49" y1="426.20" x2="404.49" y2="428.60" stroke="#231f20" stroke-width="0.7"/>
<line x1="404.49" y1="406.37" x2="404.49" y2="412.73" stroke="#9a90a8" stroke-width="0.7"/>
<circle cx="404.5" cy="409.6" r="0.71" fill="#231a55"/>
<text x="405.89" y="430.40" font-size="4.4" stroke="#707070" stroke-width="0.05" text-anchor="end" fill="#707070" transform="rotate(-90 405.89 430.40)">MCM4</text>
<line x1="408.36" y1="426.20" x2="408.36" y2="428.60" stroke="#231f20" stroke-width="0.7"/>
<line x1="408.36" y1="405.91" x2="408.36" y2="414.09" stroke="#9a90a8" stroke-width="0.7"/>
<circle cx="408.4" cy="410.0" r="0.69" fill="#231a55"/>
<text x="409.76" y="430.40" font-size="4.4" stroke="#707070" stroke-width="0.05" text-anchor="end" fill="#707070" transform="rotate(-90 409.76 430.40)">NHP2</text>
<line x1="412.23" y1="426.20" x2="412.23" y2="428.60" stroke="#231f20" stroke-width="0.7"/>
<line x1="412.23" y1="406.13" x2="412.23" y2="414.07" stroke="#9a90a8" stroke-width="0.7"/>
<circle cx="412.2" cy="410.1" r="0.67" fill="#231a55"/>
<text x="413.63" y="430.40" font-size="4.4" stroke="#707070" stroke-width="0.05" text-anchor="end" fill="#707070" transform="rotate(-90 413.63 430.40)">RUVBL2</text>
<line x1="416.10" y1="426.20" x2="416.10" y2="428.60" stroke="#231f20" stroke-width="0.7"/>
<line x1="416.10" y1="406.43" x2="416.10" y2="414.68" stroke="#9a90a8" stroke-width="0.7"/>
<circle cx="416.1" cy="410.6" r="0.65" fill="#231a55"/>
<text x="417.50" y="430.40" font-size="4.4" stroke="#707070" stroke-width="0.05" text-anchor="end" fill="#707070" transform="rotate(-90 417.50 430.40)">IPO4</text>
<line x1="419.97" y1="426.20" x2="419.97" y2="428.60" stroke="#231f20" stroke-width="0.7"/>
<line x1="419.97" y1="408.21" x2="419.97" y2="414.37" stroke="#9a90a8" stroke-width="0.7"/>
<circle cx="420.0" cy="411.3" r="0.63" fill="#231a55"/>
<text x="421.37" y="430.40" font-size="4.4" stroke="#707070" stroke-width="0.05" text-anchor="end" fill="#707070" transform="rotate(-90 421.37 430.40)">HK2</text>
<line x1="423.84" y1="426.20" x2="423.84" y2="428.60" stroke="#231f20" stroke-width="0.7"/>
<line x1="423.84" y1="408.19" x2="423.84" y2="414.31" stroke="#9a90a8" stroke-width="0.7"/>
<circle cx="423.8" cy="411.3" r="0.61" fill="#231a55"/>
<text x="425.24" y="430.40" font-size="4.4" stroke="#707070" stroke-width="0.05" text-anchor="end" fill="#707070" transform="rotate(-90 425.24 430.40)">PHB</text>
<line x1="427.71" y1="426.20" x2="427.71" y2="428.60" stroke="#231f20" stroke-width="0.7"/>
<line x1="427.71" y1="407.85" x2="427.71" y2="414.80" stroke="#9a90a8" stroke-width="0.7"/>
<circle cx="427.7" cy="411.3" r="0.59" fill="#231a55"/>
<text x="429.11" y="430.40" font-size="4.4" stroke="#707070" stroke-width="0.05" text-anchor="end" fill="#707070" transform="rotate(-90 429.11 430.40)">UTP20</text>
<line x1="431.58" y1="426.20" x2="431.58" y2="428.60" stroke="#231f20" stroke-width="0.7"/>
<line x1="431.58" y1="407.04" x2="431.58" y2="416.72" stroke="#9a90a8" stroke-width="0.7"/>
<circle cx="431.6" cy="411.9" r="0.57" fill="#231a55"/>
<text x="432.98" y="430.40" font-size="4.4" stroke="#707070" stroke-width="0.05" text-anchor="end" fill="#707070" transform="rotate(-90 432.98 430.40)">MYBBP1A</text>
<line x1="435.45" y1="426.20" x2="435.45" y2="428.60" stroke="#231f20" stroke-width="0.7"/>
<line x1="435.45" y1="407.89" x2="435.45" y2="414.84" stroke="#9a90a8" stroke-width="0.7"/>
<circle cx="435.5" cy="411.4" r="0.55" fill="#231a55"/>
<text x="436.85" y="430.40" font-size="4.4" stroke="#707070" stroke-width="0.05" text-anchor="end" fill="#707070" transform="rotate(-90 436.85 430.40)">PLK4</text>
<line x1="439.32" y1="426.20" x2="439.32" y2="428.60" stroke="#231f20" stroke-width="0.7"/>
<line x1="439.32" y1="408.04" x2="439.32" y2="416.16" stroke="#9a90a8" stroke-width="0.7"/>
<circle cx="439.3" cy="412.1" r="0.53" fill="#231a55"/>
<text x="440.72" y="430.40" font-size="4.4" stroke="#707070" stroke-width="0.05" text-anchor="end" fill="#707070" transform="rotate(-90 440.72 430.40)">SLC19A1</text>
<line x1="443.19" y1="426.20" x2="443.19" y2="428.60" stroke="#231f20" stroke-width="0.7"/>
<line x1="443.19" y1="409.13" x2="443.19" y2="415.89" stroke="#9a90a8" stroke-width="0.7"/>
<circle cx="443.2" cy="412.5" r="0.51" fill="#231a55"/>
<text x="444.59" y="430.40" font-size="4.4" stroke="#707070" stroke-width="0.05" text-anchor="end" fill="#707070" transform="rotate(-90 444.59 430.40)">NOLC1</text>
<line x1="447.06" y1="426.20" x2="447.06" y2="428.60" stroke="#231f20" stroke-width="0.7"/>
<line x1="447.06" y1="409.25" x2="447.06" y2="415.04" stroke="#9a90a8" stroke-width="0.7"/>
<circle cx="447.1" cy="412.1" r="0.49" fill="#231a55"/>
<text x="448.46" y="430.40" font-size="4.4" stroke="#707070" stroke-width="0.05" text-anchor="end" fill="#707070" transform="rotate(-90 448.46 430.40)">CBX3</text>
<line x1="450.93" y1="426.20" x2="450.93" y2="428.60" stroke="#231f20" stroke-width="0.7"/>
<line x1="450.93" y1="410.17" x2="450.93" y2="415.79" stroke="#9a90a8" stroke-width="0.7"/>
<circle cx="450.9" cy="413.0" r="0.47" fill="#231a55"/>
<text x="452.33" y="430.40" font-size="4.4" stroke="#707070" stroke-width="0.05" text-anchor="end" fill="#707070" transform="rotate(-90 452.33 430.40)">TCOF1</text>
<line x1="454.80" y1="426.20" x2="454.80" y2="428.60" stroke="#231f20" stroke-width="0.7"/>
<line x1="454.80" y1="407.91" x2="454.80" y2="417.07" stroke="#9a90a8" stroke-width="0.7"/>
<circle cx="454.8" cy="412.5" r="0.45" fill="#231a55"/>
<text x="456.20" y="430.40" font-size="4.4" stroke="#707070" stroke-width="0.05" text-anchor="end" fill="#707070" transform="rotate(-90 456.20 430.40)">DDX21</text>
<line x1="458.67" y1="426.20" x2="458.67" y2="428.60" stroke="#231f20" stroke-width="0.7"/>
<line x1="458.67" y1="408.64" x2="458.67" y2="417.62" stroke="#9a90a8" stroke-width="0.7"/>
<circle cx="458.7" cy="413.1" r="0.45" fill="#231a55"/>
<text x="460.07" y="430.40" font-size="4.4" stroke="#707070" stroke-width="0.05" text-anchor="end" fill="#707070" transform="rotate(-90 460.07 430.40)">PRMT3</text>
<line x1="462.54" y1="426.20" x2="462.54" y2="428.60" stroke="#231f20" stroke-width="0.7"/>
<line x1="462.54" y1="409.73" x2="462.54" y2="416.80" stroke="#9a90a8" stroke-width="0.7"/>
<circle cx="462.5" cy="413.3" r="0.45" fill="#231a55"/>
<text x="463.94" y="430.40" font-size="4.4" stroke="#707070" stroke-width="0.05" text-anchor="end" fill="#707070" transform="rotate(-90 463.94 430.40)">GRWD1</text>
<line x1="466.41" y1="426.20" x2="466.41" y2="428.60" stroke="#231f20" stroke-width="0.7"/>
<line x1="466.41" y1="409.40" x2="466.41" y2="417.94" stroke="#9a90a8" stroke-width="0.7"/>
<circle cx="466.4" cy="413.7" r="0.45" fill="#231a55"/>
<text x="467.81" y="430.40" font-size="4.4" stroke="#707070" stroke-width="0.05" text-anchor="end" fill="#707070" transform="rotate(-90 467.81 430.40)">MAT2A</text>
<line x1="470.28" y1="426.20" x2="470.28" y2="428.60" stroke="#231f20" stroke-width="0.7"/>
<line x1="470.28" y1="409.52" x2="470.28" y2="418.02" stroke="#9a90a8" stroke-width="0.7"/>
<circle cx="470.3" cy="413.8" r="0.45" fill="#231a55"/>
<text x="471.68" y="430.40" font-size="4.4" stroke="#707070" stroke-width="0.05" text-anchor="end" fill="#707070" transform="rotate(-90 471.68 430.40)">EXOSC5</text>
<line x1="474.15" y1="426.20" x2="474.15" y2="428.60" stroke="#231f20" stroke-width="0.7"/>
<line x1="474.15" y1="409.48" x2="474.15" y2="419.03" stroke="#9a90a8" stroke-width="0.7"/>
<circle cx="474.1" cy="414.3" r="0.45" fill="#231a55"/>
<text x="475.55" y="430.40" font-size="4.4" stroke="#707070" stroke-width="0.05" text-anchor="end" fill="#707070" transform="rotate(-90 475.55 430.40)">NOP58</text>
<line x1="478.02" y1="426.20" x2="478.02" y2="428.60" stroke="#231f20" stroke-width="0.7"/>
<line x1="478.02" y1="409.69" x2="478.02" y2="419.52" stroke="#9a90a8" stroke-width="0.7"/>
<circle cx="478.0" cy="414.6" r="0.45" fill="#231a55"/>
<text x="479.42" y="430.40" font-size="4.4" stroke="#707070" stroke-width="0.05" text-anchor="end" fill="#707070" transform="rotate(-90 479.42 430.40)">AIMP2</text>
<line x1="481.89" y1="426.20" x2="481.89" y2="428.60" stroke="#231f20" stroke-width="0.7"/>
<line x1="481.89" y1="410.48" x2="481.89" y2="417.71" stroke="#9a90a8" stroke-width="0.7"/>
<circle cx="481.9" cy="414.1" r="0.45" fill="#231a55"/>
<text x="483.29" y="430.40" font-size="4.4" stroke="#707070" stroke-width="0.05" text-anchor="end" fill="#707070" transform="rotate(-90 483.29 430.40)">SNRPD1</text>
<line x1="485.76" y1="426.20" x2="485.76" y2="428.60" stroke="#231f20" stroke-width="0.7"/>
<line x1="485.76" y1="409.88" x2="485.76" y2="419.86" stroke="#9a90a8" stroke-width="0.7"/>
<circle cx="485.8" cy="414.9" r="0.45" fill="#231a55"/>
<text x="487.16" y="430.40" font-size="4.4" stroke="#707070" stroke-width="0.05" text-anchor="end" fill="#707070" transform="rotate(-90 487.16 430.40)">NPM1</text>
<line x1="489.63" y1="426.20" x2="489.63" y2="428.60" stroke="#231f20" stroke-width="0.7"/>
<line x1="489.63" y1="409.69" x2="489.63" y2="419.54" stroke="#9a90a8" stroke-width="0.7"/>
<circle cx="489.6" cy="414.6" r="0.45" fill="#231a55"/>
<text x="491.03" y="430.40" font-size="4.4" stroke="#707070" stroke-width="0.05" text-anchor="end" fill="#707070" transform="rotate(-90 491.03 430.40)">RCL1</text>
<text x="393.00" y="372.40" font-size="7.6" stroke="#231f20" stroke-width="0.1" textLength="47.2" lengthAdjust="spacingAndGlyphs">log2FoldChange</text>
<circle cx="395.7" cy="376.6" r="1.2" fill="#111"/>
<text x="400.80" y="379.20" font-size="7.4" stroke="#231f20" stroke-width="0.08" textLength="13.2" lengthAdjust="spacingAndGlyphs">0.50</text>
<circle cx="395.7" cy="382.8" r="1.5" fill="#111"/>
<text x="400.80" y="385.40" font-size="7.4" stroke="#231f20" stroke-width="0.08" textLength="13.2" lengthAdjust="spacingAndGlyphs">0.75</text>
<circle cx="395.7" cy="388.8" r="1.8" fill="#111"/>
<text x="400.80" y="391.40" font-size="7.4" stroke="#231f20" stroke-width="0.08" textLength="13.2" lengthAdjust="spacingAndGlyphs">1.00</text>
<circle cx="395.7" cy="395" r="2.05" fill="#111"/>
<text x="400.80" y="397.60" font-size="7.4" stroke="#231f20" stroke-width="0.08" textLength="13.2" lengthAdjust="spacingAndGlyphs">1.25</text>
<text x="451.70" y="372.20" font-size="7.6" stroke="#231f20" stroke-width="0.15" textLength="36.6" lengthAdjust="spacingAndGlyphs">–log10(<tspan font-style="italic">Padj</tspan>)</text>
<rect x="452.3" y="375.4" width="5.7" height="29.2" fill="url(#vir)"/>
<text x="460.40" y="380.80" font-size="7" stroke="#333" stroke-width="0.15" fill="#333">20</text>
<text x="460.40" y="387.90" font-size="7" stroke="#333" stroke-width="0.15" fill="#333">15</text>
<text x="460.40" y="394.80" font-size="7" stroke="#333" stroke-width="0.15" fill="#333">10</text>
<text x="460.40" y="401.90" font-size="7" stroke="#333" stroke-width="0.15" fill="#333">5</text>
<text x="258.70" y="460.80" font-size="10.5" stroke="#231f20" stroke-width="0.15" font-weight="bold" textLength="7.4" lengthAdjust="spacingAndGlyphs">H</text>
<rect x="297.5" y="478" width="63.69999999999999" height="60" fill="#e6e6e6"/>
<g filter="url(#spk2)">
<g transform="translate(268.90,404.80) scale(0.522,0.5)">
<g filter="url(#fz)">
<path d="M91.0 154.5 C89.2 150.8 86.0 160.1 84.0 163.0 C82.0 165.9 80.4 168.8 79.0 172.0 C77.6 175.2 76.6 178.5 75.5 182.0 C74.4 185.5 73.4 189.7 72.5 193.0 C71.6 196.3 71.1 199.3 70.0 202.0 C68.9 204.7 67.2 207.0 66.0 209.0 C64.8 211.0 62.3 212.5 63.0 214.0 C63.7 215.5 67.8 216.5 70.0 218.0 C72.2 219.5 74.0 221.8 76.0 223.0 C78.0 224.2 80.2 225.2 82.0 225.0 C83.8 224.8 85.3 223.5 87.0 222.0 C88.7 220.5 90.2 217.0 92.0 216.0 C93.8 215.0 96.7 215.3 98.0 216.0 C99.3 216.7 99.5 218.3 100.0 220.0 C100.5 221.7 100.3 225.0 101.0 226.0 C101.7 227.0 103.3 228.3 104.0 226.0 C104.7 223.7 104.7 216.3 105.0 212.0 C105.3 207.7 106.2 203.3 106.0 200.0 C105.8 196.7 105.8 194.5 104.0 192.0 C102.2 189.5 97.2 191.2 95.0 185.0 C92.8 178.8 92.8 158.2 91.0 154.5Z" fill="#c2aaa6"/>
<path d="M119.0 152.5 C120.8 150.1 125.0 151.8 128.0 151.8 C131.0 151.8 134.4 151.6 137.0 152.5 C139.6 153.4 142.1 155.1 143.5 157.0 C144.9 158.9 145.2 161.7 145.5 164.0 C145.8 166.3 145.5 168.8 145.0 171.0 C144.5 173.2 143.5 175.3 142.5 177.0 C141.5 178.7 140.6 180.2 139.0 181.0 C137.4 181.8 135.2 181.7 133.0 182.0 C130.8 182.3 128.2 183.0 126.0 183.0 C123.8 183.0 121.8 182.7 120.0 182.0 C118.2 181.3 115.5 181.7 115.0 179.0 C114.5 176.3 116.3 170.4 117.0 166.0 C117.7 161.6 117.2 154.9 119.0 152.5Z" fill="#c08a80"/>
<path d="M91.0 154.5 C93.2 152.6 94.2 152.8 97.0 152.3 C99.8 151.9 104.8 151.8 108.0 151.8 C111.2 151.8 113.5 152.0 116.0 152.1 C118.5 152.2 121.5 151.3 123.0 152.6 C124.5 153.9 124.8 157.1 125.0 160.0 C125.2 162.9 125.0 166.8 124.5 170.0 C124.0 173.2 123.2 176.3 122.0 179.0 C120.8 181.7 119.0 184.2 117.0 186.0 C115.0 187.8 112.2 189.2 110.0 190.0 C107.8 190.8 106.2 191.7 104.0 191.0 C101.8 190.3 99.7 188.0 97.0 186.0 C94.3 184.0 90.7 181.2 88.0 179.0 C85.3 176.8 81.7 175.5 81.0 173.0 C80.3 170.5 82.3 167.1 84.0 164.0 C85.7 160.9 88.8 156.4 91.0 154.5Z" fill="#bc908a"/>
<path d="M134.0 178.0 C131.5 179.4 129.1 182.5 127.0 185.0 C124.9 187.5 123.2 190.5 121.5 193.0 C119.8 195.5 118.1 197.8 117.0 200.0 C115.9 202.2 115.0 204.2 115.0 206.0 C115.0 207.8 115.8 209.6 117.0 210.5 C118.2 211.4 120.2 211.4 122.0 211.5 C123.8 211.6 126.0 212.2 128.0 211.0 C130.0 209.8 132.0 206.7 134.0 204.0 C136.0 201.3 138.2 198.0 140.0 195.0 C141.8 192.0 143.5 188.7 144.5 186.0 C145.5 183.3 146.4 180.6 146.0 179.0 C145.6 177.4 144.0 176.7 142.0 176.5 C140.0 176.3 136.5 176.6 134.0 178.0Z" fill="#c49c96"/>
<path d="M103.0 203.0 C104.5 202.1 107.5 202.3 110.0 202.5 C112.5 202.7 115.7 203.2 118.0 204.0 C120.3 204.8 122.4 205.5 124.0 207.0 C125.6 208.5 126.7 210.5 127.5 213.0 C128.3 215.5 128.8 219.3 129.0 222.0 C129.2 224.7 130.8 227.8 128.5 229.0 C126.2 230.2 119.4 229.2 115.0 229.0 C110.6 228.8 104.5 229.8 102.0 228.0 C99.5 226.2 100.2 221.3 100.0 218.0 C99.8 214.7 100.5 210.5 101.0 208.0 C101.5 205.5 101.5 203.9 103.0 203.0Z" fill="#c2a4a0"/>
<path d="M101.0 227.0 C103.2 225.5 110.3 226.0 115.0 226.0 C119.7 226.0 126.8 225.8 129.0 227.0 C131.2 228.2 128.6 230.9 128.0 233.0 C127.4 235.1 127.0 237.8 125.5 239.5 C124.0 241.2 121.4 242.8 119.0 243.5 C116.6 244.2 113.4 244.2 111.0 243.7 C108.6 243.2 106.1 241.9 104.5 240.5 C102.9 239.1 102.1 237.2 101.5 235.0 C100.9 232.8 98.8 228.5 101.0 227.0Z" fill="#bf9a94"/>
<path d="M147.0 161.0 C148.0 159.6 150.7 159.8 153.0 159.5 C155.3 159.2 158.5 159.2 161.0 159.5 C163.5 159.8 166.1 160.4 168.0 161.0 C169.9 161.6 171.9 161.9 172.5 163.0 C173.1 164.1 172.6 166.2 171.5 167.5 C170.4 168.8 168.2 170.2 166.0 171.0 C163.8 171.8 160.7 171.8 158.0 172.0 C155.3 172.2 151.8 172.7 150.0 172.0 C148.2 171.3 147.5 169.8 147.0 168.0 C146.5 166.2 146.0 162.4 147.0 161.0Z" fill="#c8968e"/>
<path d="M148.0 170.0 C148.9 169.0 152.0 171.3 154.0 172.0 C156.0 172.7 158.6 172.3 160.0 174.0 C161.4 175.7 162.3 179.3 162.5 182.0 C162.7 184.7 161.8 187.6 161.0 190.0 C160.2 192.4 159.1 196.0 158.0 196.5 C156.9 197.0 155.5 194.9 154.5 193.0 C153.5 191.1 153.0 187.5 152.0 185.0 C151.0 182.5 149.2 180.5 148.5 178.0 C147.8 175.5 147.1 171.0 148.0 170.0Z" fill="#c8b8b8"/>
<path d="M141.0 202.0 C142.0 200.3 144.3 199.2 146.0 199.0 C147.7 198.8 149.8 199.8 151.0 201.0 C152.2 202.2 152.8 204.2 153.0 206.0 C153.2 207.8 153.2 210.1 152.5 211.5 C151.8 212.9 150.5 214.2 149.0 214.5 C147.5 214.8 145.0 214.4 143.5 213.5 C142.0 212.6 140.4 210.9 140.0 209.0 C139.6 207.1 140.0 203.7 141.0 202.0Z" fill="#c8b8b8"/>
<path d="M85.0 215.0 C86.2 213.6 89.7 213.5 92.0 213.5 C94.3 213.5 97.5 213.6 99.0 215.0 C100.5 216.4 100.8 219.7 101.0 222.0 C101.2 224.3 101.2 227.5 100.0 229.0 C98.8 230.5 96.2 231.0 94.0 231.0 C91.8 231.0 88.6 230.5 87.0 229.0 C85.4 227.5 84.8 224.3 84.5 222.0 C84.2 219.7 83.8 216.4 85.0 215.0Z" fill="#c6bcbc"/>
<path d="M64.0 211.5 C65.5 210.5 68.1 210.1 70.0 210.5 C71.9 210.9 74.2 212.1 75.5 214.0 C76.8 215.9 77.3 219.3 77.5 222.0 C77.7 224.7 76.9 227.7 76.5 230.0 C76.1 232.3 75.8 234.3 75.0 236.0 C74.2 237.7 73.5 239.4 72.0 240.0 C70.5 240.6 67.8 240.5 66.0 239.5 C64.2 238.5 62.0 236.4 61.0 234.0 C60.0 231.6 59.8 227.9 59.8 225.0 C59.8 222.1 60.3 218.8 61.0 216.5 C61.7 214.2 62.5 212.5 64.0 211.5Z" fill="#c4baba"/>
<path d="M72.0 236.0 C73.5 235.1 77.5 234.5 80.0 234.5 C82.5 234.5 85.2 234.9 87.0 236.0 C88.8 237.1 90.2 239.0 91.0 241.0 C91.8 243.0 92.5 245.8 92.0 248.0 C91.5 250.2 89.7 253.2 88.0 254.5 C86.3 255.8 84.0 255.9 82.0 255.5 C80.0 255.1 77.4 253.8 76.0 252.0 C74.6 250.2 74.3 247.0 73.5 245.0 C72.7 243.0 71.2 241.5 71.0 240.0 C70.8 238.5 70.5 236.9 72.0 236.0Z" fill="#cac0c0"/>
<path d="M94.0 249.0 C94.2 247.2 96.0 247.3 97.0 247.5 C98.0 247.7 99.2 248.8 100.0 250.0 C100.8 251.2 101.6 253.5 101.5 255.0 C101.4 256.5 100.5 258.5 99.5 259.0 C98.5 259.5 96.4 259.7 95.5 258.0 C94.6 256.3 93.8 250.8 94.0 249.0Z" fill="#cac0c0"/>
<path d="M104.0 190.5 C105.2 188.7 107.8 188.0 110.0 187.0 C112.2 186.0 114.8 185.1 117.0 184.5 C119.2 183.9 122.0 183.1 123.5 183.5 C125.0 183.9 126.5 185.0 126.0 187.0 C125.5 189.0 122.0 193.0 120.4 195.4 C118.8 197.8 117.4 200.2 116.2 201.7 C115.0 203.2 114.7 204.0 113.0 204.5 C111.3 205.0 107.7 205.6 106.0 204.5 C104.3 203.4 103.3 200.3 103.0 198.0 C102.7 195.7 102.8 192.3 104.0 190.5Z" fill="#e2dcdc"/>
<path d="M77.0 228.0 C78.3 227.5 81.5 228.3 84.0 229.0 C86.5 229.7 89.3 231.5 92.0 232.0 C94.7 232.5 98.3 231.3 100.0 232.0 C101.7 232.7 102.0 234.7 102.0 236.0 C102.0 237.3 101.5 239.3 100.0 240.0 C98.5 240.7 95.0 240.5 93.0 240.0 C91.0 239.5 90.2 238.0 88.0 237.0 C85.8 236.0 82.0 234.8 80.0 234.0 C78.0 233.2 76.5 233.0 76.0 232.0 C75.5 231.0 75.7 228.5 77.0 228.0Z" fill="#e2dcdc"/>
</g>
</g></g>
<text x="299.50" y="475.60" font-size="7.6" stroke="#231f20" stroke-width="0.1" font-style="italic" textLength="16.8" lengthAdjust="spacingAndGlyphs">MYC</text>
<line x1="294.00" y1="498.00" x2="296.00" y2="498.00" stroke="#231f20" stroke-width="0.8"/>
<text x="291.00" y="500.70" font-size="7.6" stroke="#231f20" stroke-width="0.15" text-anchor="end">10</text>
<line x1="294.00" y1="520.50" x2="296.00" y2="520.50" stroke="#231f20" stroke-width="0.8"/>
<text x="291.00" y="523.20" font-size="7.6" stroke="#231f20" stroke-width="0.15" text-anchor="end">5</text>
<line x1="312.50" y1="538.70" x2="312.50" y2="540.80" stroke="#231f20" stroke-width="0.8"/>
<text x="312.50" y="550.60" font-size="7.6" stroke="#231f20" stroke-width="0.15" text-anchor="middle">0</text>
<line x1="328.30" y1="538.70" x2="328.30" y2="540.80" stroke="#231f20" stroke-width="0.8"/>
<text x="328.30" y="550.60" font-size="7.6" stroke="#231f20" stroke-width="0.15" text-anchor="middle">4</text>
<line x1="344.50" y1="538.70" x2="344.50" y2="540.80" stroke="#231f20" stroke-width="0.8"/>
<text x="344.50" y="550.60" font-size="7.6" stroke="#231f20" stroke-width="0.15" text-anchor="middle">8</text>
<line x1="361.20" y1="538.70" x2="361.20" y2="540.80" stroke="#231f20" stroke-width="0.8"/>
<text x="361.20" y="550.60" font-size="7.6" stroke="#231f20" stroke-width="0.15" text-anchor="middle">12</text>
<text x="316.80" y="564.30" font-size="8.6" stroke="#231f20" stroke-width="0.15" textLength="24.3" lengthAdjust="spacingAndGlyphs">UMAP1</text>
<text x="277.20" y="520.50" font-size="8.6" stroke="#231f20" stroke-width="0.15" textLength="26" lengthAdjust="spacingAndGlyphs" transform="rotate(-90 277.20 520.50)">UMAP2</text>
<rect x="383.5" y="469.3" width="129.5" height="73.40000000000003" fill="#ebebeb"/>
<line x1="381.30" y1="540.70" x2="383.50" y2="540.70" stroke="#231f20" stroke-width="0.8"/>
<text x="377.70" y="543.30" font-size="7.2" stroke="#231f20" stroke-width="0.15" text-anchor="end">0</text>
<line x1="381.30" y1="521.40" x2="383.50" y2="521.40" stroke="#231f20" stroke-width="0.8"/>
<text x="377.70" y="524.00" font-size="7.2" stroke="#231f20" stroke-width="0.15" text-anchor="end">1</text>
<line x1="381.30" y1="502.10" x2="383.50" y2="502.10" stroke="#231f20" stroke-width="0.8"/>
<text x="377.70" y="504.70" font-size="7.2" stroke="#231f20" stroke-width="0.15" text-anchor="end">2</text>
<line x1="381.30" y1="482.80" x2="383.50" y2="482.80" stroke="#231f20" stroke-width="0.8"/>
<text x="377.70" y="485.40" font-size="7.2" stroke="#231f20" stroke-width="0.15" text-anchor="end">3</text>
<line x1="388.00" y1="540.70" x2="388.00" y2="469.29" stroke="#cfcfcf" stroke-width="0.6"/>
<line x1="396.57" y1="540.70" x2="396.57" y2="477.01" stroke="#cfcfcf" stroke-width="0.6"/>
<line x1="405.14" y1="540.70" x2="405.14" y2="484.73" stroke="#cfcfcf" stroke-width="0.6"/>
<line x1="413.71" y1="540.70" x2="413.71" y2="486.66" stroke="#cfcfcf" stroke-width="0.6"/>
<line x1="422.28" y1="540.70" x2="422.28" y2="488.59" stroke="#cfcfcf" stroke-width="0.6"/>
<line x1="430.85" y1="540.70" x2="430.85" y2="477.01" stroke="#cfcfcf" stroke-width="0.6"/>
<line x1="439.42" y1="540.70" x2="439.42" y2="486.66" stroke="#cfcfcf" stroke-width="0.6"/>
<line x1="447.99" y1="540.70" x2="447.99" y2="482.80" stroke="#cfcfcf" stroke-width="0.6"/>
<line x1="456.56" y1="540.70" x2="456.56" y2="473.15" stroke="#2a8a98" stroke-width="0.6"/>
<line x1="465.13" y1="540.70" x2="465.13" y2="484.73" stroke="#cfcfcf" stroke-width="0.6"/>
<line x1="473.70" y1="540.70" x2="473.70" y2="480.87" stroke="#4a64a8" stroke-width="0.6"/>
<line x1="482.27" y1="540.70" x2="482.27" y2="478.94" stroke="#cfcfcf" stroke-width="0.6"/>
<line x1="490.84" y1="540.70" x2="490.84" y2="484.73" stroke="#cfcfcf" stroke-width="0.6"/>
<line x1="499.41" y1="540.70" x2="499.41" y2="486.66" stroke="#cfcfcf" stroke-width="0.6"/>
<line x1="507.98" y1="540.70" x2="507.98" y2="488.59" stroke="#cfcfcf" stroke-width="0.6"/>
<g filter="url(#fz2)">
<rect x="384.7" y="493.4" width="6.6" height="16.4" fill="#111" opacity="1"/>
<rect x="384.7" y="482.8" width="6.6" height="9.7" fill="#111" opacity="0.6"/>
<rect x="393.3" y="494.4" width="6.6" height="17.4" fill="#111" opacity="0.9"/>
<rect x="393.3" y="490.5" width="6.6" height="3.9" fill="#111" opacity="0.5"/>
<rect x="401.8" y="502.1" width="6.6" height="27.0" fill="#111" opacity="1"/>
<rect x="401.8" y="493.4" width="6.6" height="8.7" fill="#111" opacity="0.85"/>
<rect x="410.4" y="502.1" width="6.6" height="25.1" fill="#111" opacity="0.92"/>
<rect x="419.0" y="506.0" width="6.6" height="23.2" fill="#161a12" opacity="0.88"/>
<rect x="427.6" y="492.5" width="6.6" height="19.3" fill="#111" opacity="0.3"/>
</g>
<path d="M384.5 510.7h0.7M384.5 512.2h0.7M384.5 482.2h0.7M384.5 490.1h0.7M384.6 510.4h0.7M384.6 520.3h0.7M384.6 513.0h0.7M384.6 478.8h0.7M384.7 518.8h0.7M384.7 499.2h0.7M384.8 480.2h0.7M384.9 516.0h0.7M384.9 476.3h0.7M384.9 518.2h0.7M384.9 519.5h0.7M384.9 519.4h0.7M384.9 481.9h0.7M385.0 498.1h0.7M385.0 495.6h0.7M385.0 471.6h0.7M385.1 497.2h0.7M385.1 519.9h0.7M385.2 471.3h0.7M385.2 500.9h0.7M385.4 516.2h0.7M385.5 483.9h0.7M385.5 492.4h0.7M385.6 499.5h0.7M385.6 518.9h0.7M385.7 512.6h0.7M385.8 519.2h0.7M385.8 487.7h0.7M385.8 509.3h0.7M385.8 491.2h0.7M385.9 484.7h0.7M386.2 474.9h0.7M386.2 477.8h0.7M386.2 515.9h0.7M386.2 474.6h0.7M386.2 507.1h0.7M386.3 520.8h0.7M386.3 506.4h0.7M386.3 513.0h0.7M386.4 494.9h0.7M386.4 494.0h0.7M386.5 505.7h0.7M386.6 517.9h0.7M386.6 471.6h0.7M386.7 521.1h0.7M386.7 474.7h0.7M386.7 478.7h0.7M386.8 512.3h0.7M386.9 519.6h0.7M387.1 481.7h0.7M387.1 515.7h0.7M387.1 519.3h0.7M387.2 513.7h0.7M387.2 480.1h0.7M387.2 472.2h0.7M387.2 482.3h0.7M387.2 507.6h0.7M387.3 478.3h0.7M387.3 518.4h0.7M387.3 497.5h0.7M387.4 518.0h0.7M387.5 514.4h0.7M387.5 500.7h0.7M387.7 507.7h0.7M387.7 474.4h0.7M387.9 477.2h0.7M388.0 517.6h0.7M388.0 479.4h0.7M388.1 477.7h0.7M388.2 510.3h0.7M388.2 474.7h0.7M388.2 484.9h0.7M388.2 517.8h0.7M388.3 519.9h0.7M388.4 513.2h0.7M388.4 503.5h0.7M388.4 514.9h0.7M388.6 511.5h0.7M388.7 481.7h0.7M388.9 494.5h0.7M388.9 477.6h0.7M388.9 473.8h0.7M388.9 497.8h0.7M388.9 477.2h0.7M389.0 514.5h0.7M389.0 482.6h0.7M389.1 511.4h0.7M389.2 474.0h0.7M389.3 498.7h0.7M389.3 499.4h0.7M389.3 492.9h0.7M389.3 521.3h0.7M389.4 472.9h0.7M389.4 494.4h0.7M389.5 479.0h0.7M389.5 513.7h0.7M389.5 520.9h0.7M389.6 490.7h0.7M389.7 476.9h0.7M389.7 479.5h0.7M389.8 510.0h0.7M389.8 481.5h0.7M389.9 473.4h0.7M389.9 518.2h0.7M390.0 512.1h0.7M390.0 511.3h0.7M390.1 515.4h0.7M390.2 500.5h0.7M390.2 511.4h0.7M390.3 518.8h0.7M390.3 474.6h0.7M390.3 475.7h0.7M390.4 515.8h0.7M390.4 518.9h0.7M390.5 514.7h0.7M390.7 518.5h0.7M390.7 512.2h0.7M390.8 514.6h0.7M390.8 493.6h0.7M390.8 474.5h0.7M390.9 517.5h0.7M390.9 479.2h0.7M390.9 510.3h0.7M391.1 484.0h0.7M391.1 516.8h0.7M391.1 485.4h0.7M391.2 504.6h0.7M391.2 476.4h0.7M391.2 509.8h0.7M391.4 473.4h0.7M391.5 478.6h0.7" stroke="#111" stroke-width="0.7" fill="none" opacity="0.85"/>
<rect x="384.5" y="540.2" width="7" height="1.3" fill="#6a6a6a"/>
<line x1="388.00" y1="542.70" x2="388.00" y2="545.00" stroke="#231f20" stroke-width="0.8"/>
<path d="M393.0 495.8h0.7M393.1 490.9h0.7M393.2 514.7h0.7M393.2 491.1h0.7M393.2 516.1h0.7M393.4 490.5h0.7M393.5 480.2h0.7M393.6 517.2h0.7M393.6 498.9h0.7M393.6 510.3h0.7M393.7 498.3h0.7M393.8 509.5h0.7M393.9 515.4h0.7M393.9 485.7h0.7M393.9 517.2h0.7M394.0 488.3h0.7M394.0 492.3h0.7M394.2 500.9h0.7M394.2 502.5h0.7M394.3 516.7h0.7M394.3 508.7h0.7M394.3 519.5h0.7M394.4 509.8h0.7M394.4 507.4h0.7M394.4 492.0h0.7M394.5 513.7h0.7M394.5 508.7h0.7M394.5 482.3h0.7M394.5 487.1h0.7M394.6 488.7h0.7M394.6 501.6h0.7M394.7 518.1h0.7M395.2 502.3h0.7M395.3 509.7h0.7M395.3 490.6h0.7M395.4 482.6h0.7M395.5 521.3h0.7M395.5 486.1h0.7M395.6 496.9h0.7M395.6 483.0h0.7M395.6 489.9h0.7M395.7 512.5h0.7M395.7 481.8h0.7M395.8 496.1h0.7M395.8 485.2h0.7M395.8 517.0h0.7M395.9 516.9h0.7M396.0 521.1h0.7M396.0 518.6h0.7M396.0 488.0h0.7M396.0 486.1h0.7M396.1 518.5h0.7M396.2 495.9h0.7M396.2 483.6h0.7M396.2 496.6h0.7M396.3 496.9h0.7M396.4 481.1h0.7M396.5 517.0h0.7M396.6 488.1h0.7M396.6 481.0h0.7M396.7 489.8h0.7M396.8 510.9h0.7M396.8 517.1h0.7M396.8 518.3h0.7M396.8 494.4h0.7M397.0 503.1h0.7M397.1 514.7h0.7M397.1 513.5h0.7M397.1 491.6h0.7M397.2 511.9h0.7M397.2 512.9h0.7M397.3 483.2h0.7M397.3 514.3h0.7M397.5 515.5h0.7M397.5 494.7h0.7M397.5 487.0h0.7M397.6 507.0h0.7M397.6 512.6h0.7M397.7 512.7h0.7M397.7 480.3h0.7M397.8 508.2h0.7M397.8 521.4h0.7M397.9 510.9h0.7M397.9 487.5h0.7M398.0 489.9h0.7M398.2 491.4h0.7M398.2 490.3h0.7M398.3 518.8h0.7M398.3 512.1h0.7M398.4 508.0h0.7M398.5 514.0h0.7M398.6 515.0h0.7M398.6 518.9h0.7M398.6 487.6h0.7M398.7 508.9h0.7M398.7 510.6h0.7M398.8 511.5h0.7M398.8 515.1h0.7M399.0 488.8h0.7M399.1 488.2h0.7M399.2 482.5h0.7M399.3 515.2h0.7M399.3 512.8h0.7M399.4 502.2h0.7M399.4 515.3h0.7M399.6 514.4h0.7M399.6 520.2h0.7M399.7 481.3h0.7M399.7 519.5h0.7M399.8 516.9h0.7M399.9 502.1h0.7M399.9 518.3h0.7M400.0 510.9h0.7M400.1 512.9h0.7M400.2 519.0h0.7" stroke="#111" stroke-width="0.7" fill="none" opacity="0.85"/>
<rect x="393.1" y="540.2" width="7" height="1.3" fill="#6a6a6a"/>
<line x1="396.57" y1="542.70" x2="396.57" y2="545.00" stroke="#231f20" stroke-width="0.8"/>
<path d="M401.6 497.8h0.7M401.6 525.2h0.7M401.8 492.8h0.7M401.9 498.6h0.7M402.0 504.3h0.7M402.2 492.3h0.7M402.3 504.0h0.7M402.4 500.1h0.7M402.4 507.7h0.7M402.5 495.1h0.7M402.7 492.4h0.7M402.7 516.6h0.7M402.7 486.8h0.7M403.1 516.4h0.7M403.4 518.0h0.7M403.5 492.3h0.7M403.5 496.3h0.7M403.7 502.9h0.7M403.7 509.4h0.7M403.8 529.7h0.7M403.9 520.7h0.7M403.9 490.7h0.7M404.2 490.3h0.7M404.3 491.9h0.7M404.3 525.6h0.7M404.4 513.5h0.7M404.4 521.9h0.7M404.6 489.3h0.7M404.7 518.1h0.7M404.8 527.1h0.7M404.9 492.1h0.7M405.0 500.7h0.7M405.7 523.7h0.7M405.7 512.3h0.7M405.8 492.2h0.7M405.9 515.6h0.7M406.0 488.2h0.7M406.0 523.1h0.7M406.0 495.1h0.7M406.0 520.1h0.7M406.0 491.3h0.7M406.1 516.1h0.7M406.1 525.0h0.7M406.2 492.6h0.7M406.3 491.8h0.7M406.4 488.4h0.7M406.4 493.3h0.7M406.5 488.0h0.7M406.6 490.5h0.7M406.6 516.2h0.7M406.6 517.8h0.7M406.7 512.1h0.7M406.7 496.9h0.7M406.8 499.4h0.7M406.8 490.9h0.7M407.0 523.9h0.7M407.2 501.6h0.7M407.2 488.6h0.7M407.3 530.0h0.7M407.6 487.5h0.7M407.7 507.5h0.7M407.7 497.4h0.7M407.8 492.7h0.7M407.9 486.9h0.7M407.9 489.4h0.7M408.0 487.6h0.7M408.2 526.9h0.7M408.3 516.4h0.7M408.5 527.5h0.7M408.5 490.7h0.7M408.5 490.4h0.7M408.6 488.0h0.7M408.6 495.6h0.7M408.7 493.9h0.7M408.7 492.5h0.7" stroke="#111" stroke-width="0.7" fill="none" opacity="0.85"/>
<path d="M400.9 541.4 C402.0 539.3 403.9 537.1 404.7 535.9 L405.6 535.9 C406.3 537.1 408.3 539.3 409.3 541.4Z" fill="#c9a014" stroke="#2a2a2a" stroke-width="0.25"/>
<line x1="405.14" y1="542.70" x2="405.14" y2="545.00" stroke="#231f20" stroke-width="0.8"/>
<path d="M410.2 499.3h0.7M410.4 513.0h0.7M410.5 497.7h0.7M410.5 506.7h0.7M410.5 498.1h0.7M410.6 502.5h0.7M410.7 505.7h0.7M410.8 495.7h0.7M410.9 496.3h0.7M410.9 497.7h0.7M411.1 501.9h0.7M411.3 491.9h0.7M411.3 508.2h0.7M411.4 502.3h0.7M411.4 511.3h0.7M411.5 523.4h0.7M411.5 494.4h0.7M411.6 504.7h0.7M411.6 505.8h0.7M411.7 501.5h0.7M411.8 495.9h0.7M411.8 493.9h0.7M412.0 502.1h0.7M412.0 521.2h0.7M412.0 491.6h0.7M412.4 499.6h0.7M412.4 511.8h0.7M412.5 495.3h0.7M412.5 522.7h0.7M412.5 525.2h0.7M412.6 502.2h0.7M412.6 515.9h0.7M412.6 495.7h0.7M412.6 501.9h0.7M412.7 520.4h0.7M412.7 522.5h0.7M412.8 516.5h0.7M412.8 501.5h0.7M412.9 525.1h0.7M413.0 525.6h0.7M413.0 513.6h0.7M413.1 501.3h0.7M413.1 499.3h0.7M413.2 517.3h0.7M413.3 499.8h0.7M413.3 519.3h0.7M413.5 519.9h0.7M413.5 495.8h0.7M413.5 501.5h0.7M413.6 511.3h0.7M413.7 495.7h0.7M413.8 495.2h0.7M413.9 495.2h0.7M414.0 494.5h0.7M414.0 499.4h0.7M414.0 502.8h0.7M414.1 506.4h0.7M414.3 498.4h0.7M414.5 501.1h0.7M414.6 522.1h0.7M414.7 494.3h0.7M414.7 492.6h0.7M414.7 508.8h0.7M414.9 519.6h0.7M414.9 502.9h0.7M415.0 495.4h0.7M415.0 527.1h0.7M415.0 494.0h0.7M415.1 501.9h0.7M415.2 501.5h0.7M415.3 508.4h0.7M415.3 504.5h0.7M415.3 526.2h0.7M415.5 501.9h0.7M415.5 515.2h0.7M415.5 497.7h0.7M415.6 501.7h0.7M415.6 501.4h0.7M415.7 497.0h0.7M415.7 514.3h0.7M415.8 512.8h0.7M415.8 519.7h0.7M415.9 524.1h0.7M416.0 506.3h0.7M416.0 515.3h0.7M416.1 501.5h0.7M416.2 495.9h0.7M416.3 496.2h0.7M416.3 512.4h0.7M416.5 502.7h0.7M416.6 496.3h0.7M416.6 497.8h0.7M416.8 510.1h0.7M416.8 490.6h0.7M416.9 497.6h0.7M417.1 510.7h0.7M417.1 501.4h0.7M417.1 515.3h0.7M417.1 497.4h0.7M417.1 495.6h0.7" stroke="#111" stroke-width="0.7" fill="none" opacity="0.85"/>
<path d="M409.5 541.4 C410.6 539.3 412.5 537.1 413.3 535.9 L414.2 535.9 C414.9 537.1 416.9 539.3 417.9 541.4Z" fill="#aaad1e" stroke="#2a2a2a" stroke-width="0.25"/>
<line x1="413.71" y1="542.70" x2="413.71" y2="545.00" stroke="#231f20" stroke-width="0.8"/>
<path d="M418.7 506.3h0.7M418.8 519.2h0.7M418.8 508.3h0.7M418.9 495.9h0.7M418.9 503.3h0.7M419.0 511.1h0.7M419.2 505.7h0.7M419.2 497.0h0.7M419.2 504.1h0.7M419.2 507.5h0.7M419.2 528.5h0.7M419.3 495.1h0.7M419.4 501.6h0.7M419.5 518.6h0.7M419.6 497.6h0.7M419.6 499.1h0.7M419.6 507.8h0.7M419.8 518.2h0.7M419.9 491.3h0.7M419.9 502.6h0.7M419.9 517.2h0.7M420.0 500.7h0.7M420.2 501.7h0.7M420.2 515.7h0.7M420.2 495.7h0.7M420.3 506.3h0.7M420.3 499.5h0.7M420.4 492.8h0.7M420.5 493.9h0.7M420.6 503.7h0.7M420.6 497.0h0.7M420.8 495.9h0.7M420.9 499.5h0.7M420.9 496.9h0.7M421.1 499.7h0.7M421.2 500.0h0.7M421.4 501.7h0.7M421.4 507.9h0.7M421.5 507.8h0.7M421.7 517.0h0.7M421.7 495.1h0.7M421.8 504.4h0.7M422.1 520.5h0.7M422.1 494.6h0.7M422.1 500.6h0.7M422.1 503.5h0.7M422.1 500.2h0.7M422.1 497.8h0.7M422.2 505.0h0.7M422.2 502.2h0.7M422.2 504.0h0.7M422.2 498.2h0.7M422.4 500.9h0.7M422.4 500.2h0.7M422.4 500.7h0.7M422.4 500.0h0.7M422.5 513.4h0.7M422.5 519.9h0.7M422.6 499.3h0.7M422.7 491.0h0.7M422.8 516.0h0.7M422.8 507.0h0.7M422.9 491.9h0.7M423.0 503.9h0.7M423.0 505.2h0.7M423.0 528.8h0.7M423.2 501.8h0.7M423.2 498.5h0.7M423.3 497.1h0.7M423.3 496.0h0.7M423.3 527.7h0.7M423.3 514.0h0.7M423.3 515.0h0.7M423.5 523.7h0.7M423.7 502.0h0.7M423.7 521.9h0.7M423.8 495.1h0.7M423.9 501.2h0.7M423.9 517.5h0.7M423.9 503.4h0.7M424.0 496.7h0.7M424.0 505.2h0.7M424.2 501.1h0.7M424.4 493.9h0.7M424.4 505.6h0.7M424.4 509.2h0.7M424.5 495.2h0.7M424.7 495.3h0.7M424.8 501.9h0.7M425.0 524.0h0.7M425.0 510.0h0.7M425.0 526.5h0.7M425.2 505.3h0.7M425.3 502.0h0.7M425.3 490.7h0.7M425.4 497.2h0.7M425.4 519.9h0.7M425.5 522.1h0.7M425.5 512.4h0.7M425.7 493.8h0.7" stroke="#161a12" stroke-width="0.7" fill="none" opacity="0.85"/>
<path d="M418.1 541.4 C419.1 539.3 421.1 537.1 421.8 535.9 L422.7 535.9 C423.5 537.1 425.4 539.3 426.5 541.4Z" fill="#70b61e" stroke="#2a2a2a" stroke-width="0.25"/>
<line x1="422.28" y1="542.70" x2="422.28" y2="545.00" stroke="#231f20" stroke-width="0.8"/>
<path d="M427.3 489.7h0.7M427.3 482.0h0.7M427.3 502.7h0.7M427.5 515.0h0.7M427.5 505.0h0.7M427.6 504.5h0.7M427.7 490.4h0.7M427.8 499.8h0.7M427.8 500.2h0.7M427.9 497.0h0.7M427.9 487.2h0.7M428.0 499.6h0.7M428.0 499.5h0.7M428.0 479.5h0.7M428.0 500.4h0.7M428.0 497.2h0.7M428.1 487.4h0.7M428.1 505.9h0.7M428.1 500.3h0.7M428.2 484.0h0.7M428.2 479.7h0.7M428.2 489.3h0.7M428.2 479.8h0.7M428.2 500.5h0.7M428.3 486.0h0.7M428.3 479.7h0.7M428.3 494.3h0.7M428.5 487.9h0.7M428.7 496.3h0.7M428.7 504.0h0.7M428.7 488.4h0.7M428.8 512.7h0.7M428.8 499.8h0.7M428.8 506.6h0.7M428.8 503.9h0.7M428.9 497.2h0.7M429.0 514.0h0.7M429.2 506.4h0.7M429.2 492.3h0.7M429.3 486.6h0.7M429.4 500.1h0.7M429.5 515.1h0.7M429.5 484.4h0.7M429.7 491.8h0.7M429.7 494.2h0.7M429.8 486.2h0.7M429.8 500.6h0.7M429.8 510.7h0.7M429.8 503.7h0.7M429.9 514.8h0.7M429.9 500.4h0.7M429.9 480.3h0.7M429.9 506.5h0.7M430.2 486.4h0.7M430.2 484.7h0.7M430.2 500.9h0.7M430.4 492.7h0.7M430.4 503.6h0.7M430.5 485.6h0.7M430.6 497.7h0.7M430.7 494.5h0.7M430.7 505.0h0.7M430.8 484.4h0.7M430.9 508.7h0.7M430.9 508.1h0.7M431.0 513.7h0.7M431.0 508.0h0.7M431.1 486.1h0.7M431.1 493.7h0.7M431.2 504.8h0.7M431.2 508.6h0.7M431.2 512.5h0.7M431.2 511.6h0.7M431.2 486.1h0.7M431.3 516.4h0.7M431.3 507.5h0.7M431.3 500.3h0.7M431.3 489.5h0.7M431.3 493.6h0.7M431.4 503.3h0.7M431.5 499.9h0.7M431.5 480.5h0.7M431.5 480.5h0.7M431.5 497.0h0.7M431.6 482.2h0.7M431.6 482.8h0.7M431.6 487.2h0.7M431.7 505.6h0.7M431.7 500.0h0.7M431.8 482.8h0.7M431.9 495.7h0.7M432.0 489.7h0.7M432.0 506.0h0.7M432.1 506.9h0.7M432.1 509.7h0.7M432.3 482.1h0.7M432.4 504.0h0.7M432.4 514.2h0.7M432.4 516.3h0.7M432.4 502.2h0.7M432.6 501.3h0.7M432.7 517.5h0.7M432.7 516.5h0.7M432.7 499.0h0.7M432.8 500.7h0.7M432.9 509.9h0.7M432.9 504.2h0.7M432.9 501.2h0.7M433.0 492.6h0.7M433.0 480.7h0.7M433.2 516.5h0.7M433.3 503.4h0.7M433.4 483.7h0.7M433.4 506.9h0.7M433.4 484.5h0.7M433.5 500.8h0.7M433.5 511.5h0.7M433.5 492.3h0.7M433.7 484.1h0.7M433.7 481.8h0.7M433.7 508.1h0.7M433.8 509.7h0.7M433.9 480.9h0.7M433.9 500.9h0.7M433.9 500.0h0.7M433.9 493.9h0.7M434.0 502.4h0.7M434.1 493.6h0.7M434.1 508.5h0.7M434.2 498.4h0.7M434.2 480.0h0.7M434.3 499.5h0.7M434.3 512.0h0.7M434.3 492.1h0.7M434.3 505.8h0.7M434.3 512.6h0.7M434.4 486.8h0.7M434.4 493.4h0.7M434.4 484.8h0.7M434.4 517.4h0.7" stroke="#111" stroke-width="0.7" fill="none" opacity="0.85"/>
<rect x="427.4" y="540.2" width="7" height="1.3" fill="#6a6a6a"/>
<line x1="430.85" y1="542.70" x2="430.85" y2="545.00" stroke="#231f20" stroke-width="0.8"/>
<path d="M435.9 505.9h0.7M436.0 492.8h0.7M436.0 495.1h0.7M436.0 513.1h0.7M436.2 520.7h0.7M436.2 492.5h0.7M436.3 490.7h0.7M436.4 518.3h0.7M436.4 492.3h0.7M436.4 511.1h0.7M436.5 514.5h0.7M436.6 518.4h0.7M436.8 502.5h0.7M437.0 511.1h0.7M437.0 493.6h0.7M437.1 491.6h0.7M437.1 507.7h0.7M437.1 490.7h0.7M437.1 519.9h0.7M437.2 504.0h0.7M437.3 496.0h0.7M437.4 498.7h0.7M437.7 497.0h0.7M437.8 513.6h0.7M437.8 492.2h0.7M437.9 514.0h0.7M437.9 491.7h0.7M438.3 510.8h0.7M438.4 499.7h0.7M438.5 497.1h0.7M438.6 507.6h0.7M438.7 517.3h0.7M438.8 519.5h0.7M439.0 516.6h0.7M439.1 497.9h0.7M439.1 520.7h0.7M439.1 508.6h0.7M439.2 499.0h0.7M439.2 518.2h0.7M439.5 507.8h0.7M439.8 520.0h0.7M439.8 519.5h0.7M440.0 516.5h0.7M440.2 506.9h0.7M440.3 507.3h0.7M440.3 492.0h0.7M440.5 517.1h0.7M440.7 517.6h0.7M440.7 502.7h0.7M440.8 516.0h0.7M440.9 515.8h0.7M441.0 499.2h0.7M441.3 508.3h0.7M441.4 492.9h0.7M441.5 508.6h0.7M441.5 509.4h0.7M441.5 512.1h0.7M441.5 500.6h0.7M441.7 518.7h0.7M441.7 491.6h0.7M441.7 495.9h0.7M441.8 511.7h0.7M441.8 494.2h0.7M441.8 518.2h0.7M441.9 509.9h0.7M442.0 515.7h0.7M442.1 512.0h0.7M442.1 504.4h0.7M442.3 520.7h0.7M442.3 516.7h0.7M442.4 510.4h0.7M442.4 517.7h0.7M442.5 517.6h0.7M442.6 519.6h0.7M442.7 517.3h0.7M442.7 496.0h0.7M442.8 496.1h0.7M442.8 515.6h0.7M442.9 508.6h0.7M443.0 504.8h0.7" stroke="#111" stroke-width="0.7" fill="none" opacity="0.85"/>
<rect x="435.9" y="540.2" width="7" height="1.3" fill="#6a6a6a"/>
<line x1="439.42" y1="542.70" x2="439.42" y2="545.00" stroke="#231f20" stroke-width="0.8"/>
<path d="M444.5 502.7h0.7M444.6 506.1h0.7M444.6 519.3h0.7M444.6 499.7h0.7M444.7 504.0h0.7M444.7 515.6h0.7M444.8 507.5h0.7M444.8 504.9h0.7M444.9 515.0h0.7M444.9 510.4h0.7M445.1 502.1h0.7M445.2 500.8h0.7M445.3 507.1h0.7M445.5 520.5h0.7M445.7 515.8h0.7M445.8 493.0h0.7M445.8 501.6h0.7M445.8 496.0h0.7M445.8 489.5h0.7M445.9 487.0h0.7M445.9 502.8h0.7M446.0 494.8h0.7M446.0 503.1h0.7M446.1 512.0h0.7M446.2 503.9h0.7M446.4 515.5h0.7M446.4 496.9h0.7M446.5 504.1h0.7M446.6 488.0h0.7M446.6 505.9h0.7M446.7 507.8h0.7M446.9 492.2h0.7M447.0 488.3h0.7M447.0 503.4h0.7M447.1 519.0h0.7M447.1 504.5h0.7M447.2 506.8h0.7M447.2 491.0h0.7M447.6 510.1h0.7M447.6 492.3h0.7M447.6 506.7h0.7M447.7 518.4h0.7M447.7 515.9h0.7M447.8 511.4h0.7M447.9 505.6h0.7M448.1 510.3h0.7M448.1 488.6h0.7M448.3 493.6h0.7M448.3 516.9h0.7M448.3 504.2h0.7M448.3 516.5h0.7M448.4 492.6h0.7M448.4 505.6h0.7M448.5 518.8h0.7M448.5 495.6h0.7M448.5 493.7h0.7M448.5 491.8h0.7M448.6 512.2h0.7M448.7 492.3h0.7M448.7 509.7h0.7M448.7 515.4h0.7M448.9 495.7h0.7M449.0 513.8h0.7M449.0 515.8h0.7M449.0 513.6h0.7M449.2 487.0h0.7M449.4 516.5h0.7M449.4 501.9h0.7M449.4 486.8h0.7M449.4 506.2h0.7M449.5 504.8h0.7M449.5 491.6h0.7M449.5 496.9h0.7M449.6 515.3h0.7M449.7 514.4h0.7M449.7 515.6h0.7M449.8 487.1h0.7M449.8 489.6h0.7M450.0 489.9h0.7M450.0 504.9h0.7M450.0 514.3h0.7M450.1 493.5h0.7M450.2 488.7h0.7M450.2 500.1h0.7M450.2 489.2h0.7M450.3 490.8h0.7M450.3 499.7h0.7M450.4 498.5h0.7M450.4 515.5h0.7M450.5 489.7h0.7M450.6 499.4h0.7M450.6 499.4h0.7M450.6 497.3h0.7M450.6 517.2h0.7M450.8 497.5h0.7M451.0 491.2h0.7M451.1 488.2h0.7M451.2 501.4h0.7M451.3 509.8h0.7M451.6 496.7h0.7" stroke="#111" stroke-width="0.7" fill="none" opacity="0.85"/>
<rect x="444.5" y="540.2" width="7" height="1.3" fill="#6a6a6a"/>
<line x1="447.99" y1="542.70" x2="447.99" y2="545.00" stroke="#231f20" stroke-width="0.8"/>
<path d="M453.0 520.6h0.7M453.1 498.4h0.7M453.3 516.3h0.7M453.3 524.9h0.7M453.3 519.7h0.7M453.3 504.0h0.7M453.5 507.6h0.7M453.5 516.6h0.7M453.5 487.5h0.7M453.6 513.1h0.7M453.6 495.2h0.7M453.7 499.4h0.7M453.7 519.8h0.7M453.7 518.1h0.7M453.7 485.6h0.7M453.8 515.1h0.7M453.8 523.8h0.7M453.9 523.8h0.7M453.9 479.2h0.7M453.9 496.1h0.7M453.9 510.0h0.7M454.0 481.8h0.7M454.1 486.9h0.7M454.1 505.5h0.7M454.1 486.9h0.7M454.2 502.4h0.7M454.3 499.2h0.7M454.4 512.7h0.7M454.5 497.4h0.7M454.5 501.6h0.7M454.5 514.7h0.7M454.7 497.6h0.7M454.7 509.7h0.7M454.8 487.4h0.7M454.8 512.4h0.7M454.8 499.2h0.7M454.8 487.5h0.7M454.9 479.1h0.7M454.9 483.9h0.7M455.0 500.7h0.7M455.1 522.0h0.7M455.2 497.8h0.7M455.4 479.2h0.7M455.5 524.3h0.7M455.6 512.5h0.7M455.7 483.4h0.7M455.7 498.3h0.7M455.8 502.3h0.7M456.0 510.5h0.7M456.0 493.1h0.7M456.1 494.3h0.7M456.1 493.4h0.7M456.2 480.2h0.7M456.2 522.9h0.7M456.2 511.8h0.7M456.2 500.3h0.7M456.3 491.9h0.7M456.3 521.5h0.7M456.3 516.7h0.7M456.4 518.5h0.7M456.4 516.5h0.7M456.4 502.3h0.7M456.4 520.1h0.7M456.6 516.0h0.7M456.7 501.0h0.7M456.7 498.2h0.7M456.8 495.3h0.7M456.8 523.0h0.7M456.9 515.5h0.7M456.9 508.2h0.7M456.9 496.4h0.7M457.0 500.1h0.7M457.0 504.7h0.7M457.1 490.3h0.7M457.2 497.5h0.7M457.3 499.2h0.7M457.5 494.4h0.7M457.5 480.6h0.7M457.5 506.1h0.7M457.6 519.9h0.7M457.6 506.1h0.7M457.7 502.9h0.7M457.7 515.2h0.7M457.7 483.7h0.7M457.9 485.7h0.7M457.9 520.1h0.7M457.9 521.8h0.7M457.9 523.3h0.7M457.9 521.0h0.7M458.0 523.2h0.7M458.1 508.1h0.7M458.2 486.2h0.7M458.3 493.2h0.7M458.3 507.1h0.7M458.4 506.8h0.7M458.4 512.2h0.7M458.4 486.6h0.7M458.4 518.9h0.7M458.5 508.0h0.7M458.6 480.5h0.7M458.6 507.9h0.7M458.7 485.7h0.7M458.8 521.6h0.7M458.8 514.5h0.7M458.8 521.0h0.7M458.8 520.0h0.7M458.9 512.0h0.7M458.9 493.0h0.7M459.0 510.5h0.7M459.0 508.4h0.7M459.3 521.9h0.7M459.3 489.5h0.7M459.3 508.1h0.7M459.5 504.3h0.7M459.5 520.3h0.7M459.5 489.5h0.7M459.5 517.3h0.7M459.6 504.9h0.7M459.6 490.8h0.7M459.6 486.6h0.7M459.7 496.1h0.7M459.7 488.0h0.7M459.8 513.0h0.7M459.9 523.3h0.7M460.0 521.4h0.7M460.0 507.2h0.7M460.0 505.2h0.7M460.1 490.3h0.7M460.1 520.1h0.7M460.1 482.5h0.7" stroke="#0e3a40" stroke-width="0.7" fill="none" opacity="0.85"/>
<path d="M452.2 541.4 C453.3 538.8 455.4 536.1 456.1 534.5 L457.0 534.5 C457.8 536.1 459.9 538.8 461.0 541.4Z" fill="#22b8d8" stroke="#2a2a2a" stroke-width="0.25"/>
<line x1="456.56" y1="542.70" x2="456.56" y2="545.00" stroke="#231f20" stroke-width="0.8"/>
<path d="M461.5 510.8h0.7M461.6 489.3h0.7M461.7 499.8h0.7M461.7 498.3h0.7M461.8 493.7h0.7M461.8 489.8h0.7M461.9 503.8h0.7M462.1 488.1h0.7M462.3 496.6h0.7M462.4 488.9h0.7M462.5 511.7h0.7M463.4 499.3h0.7M463.6 493.4h0.7M463.6 496.0h0.7M463.6 515.0h0.7M463.8 519.7h0.7M463.8 505.5h0.7M464.0 510.9h0.7M464.0 489.1h0.7M464.1 510.4h0.7M464.1 517.7h0.7M464.2 514.8h0.7M464.2 497.1h0.7M464.2 495.1h0.7M464.2 511.2h0.7M464.4 499.2h0.7M464.5 500.1h0.7M464.7 495.9h0.7M464.7 511.8h0.7M464.8 508.5h0.7M464.8 492.2h0.7M465.0 509.7h0.7M465.1 510.7h0.7M465.1 496.1h0.7M465.1 511.6h0.7M465.1 512.5h0.7M465.2 506.4h0.7M465.3 513.8h0.7M465.4 491.3h0.7M465.4 489.7h0.7M465.5 502.1h0.7M465.6 513.9h0.7M465.6 510.9h0.7M465.6 503.9h0.7M465.6 493.5h0.7M465.8 498.4h0.7M465.9 503.6h0.7M465.9 502.7h0.7M466.0 497.3h0.7M466.0 516.5h0.7M466.2 503.3h0.7M466.3 495.8h0.7M466.3 490.3h0.7M466.4 503.8h0.7M466.5 495.9h0.7M466.7 516.8h0.7M466.7 516.7h0.7M467.0 493.7h0.7M467.0 501.7h0.7M467.1 489.7h0.7M467.1 518.2h0.7M467.1 512.1h0.7M467.2 510.3h0.7M467.2 496.7h0.7M467.3 501.1h0.7M467.4 494.4h0.7M467.5 518.9h0.7M467.7 498.4h0.7M467.8 514.5h0.7M467.9 493.6h0.7M468.0 507.9h0.7M468.1 512.7h0.7M468.1 503.9h0.7M468.2 504.5h0.7M468.3 489.1h0.7M468.3 500.4h0.7M468.3 501.8h0.7M468.5 505.2h0.7M468.5 500.1h0.7M468.6 489.6h0.7" stroke="#111" stroke-width="0.7" fill="none" opacity="0.85"/>
<rect x="461.6" y="540.2" width="7" height="1.3" fill="#6a6a6a"/>
<line x1="465.13" y1="542.70" x2="465.13" y2="545.00" stroke="#231f20" stroke-width="0.8"/>
<path d="M470.2 495.7h0.7M470.2 511.8h0.7M470.2 486.8h0.7M470.2 524.3h0.7M470.2 488.9h0.7M470.2 521.0h0.7M470.2 506.9h0.7M470.3 491.3h0.7M470.3 513.9h0.7M470.3 508.2h0.7M470.3 511.6h0.7M470.4 499.8h0.7M470.4 518.6h0.7M470.5 496.8h0.7M470.5 493.6h0.7M470.7 521.9h0.7M470.7 519.3h0.7M470.7 485.7h0.7M470.7 525.0h0.7M470.8 515.5h0.7M470.9 516.9h0.7M470.9 500.1h0.7M471.0 511.8h0.7M471.1 502.7h0.7M471.4 505.8h0.7M471.5 511.9h0.7M471.5 497.0h0.7M471.6 508.8h0.7M471.6 505.8h0.7M471.6 490.4h0.7M471.6 505.3h0.7M471.6 509.9h0.7M471.7 511.0h0.7M471.7 511.5h0.7M471.9 493.6h0.7M472.0 511.1h0.7M472.1 517.9h0.7M472.2 504.2h0.7M472.2 506.0h0.7M472.4 506.8h0.7M472.4 486.1h0.7M472.5 499.3h0.7M472.5 505.6h0.7M472.6 519.0h0.7M472.6 485.8h0.7M472.7 514.8h0.7M472.7 507.7h0.7M472.7 493.0h0.7M472.8 510.6h0.7M472.8 489.0h0.7M472.8 494.1h0.7M472.9 496.1h0.7M472.9 496.0h0.7M473.0 517.7h0.7M473.0 499.6h0.7M473.1 486.2h0.7M473.1 517.6h0.7M473.2 495.9h0.7M473.2 506.8h0.7M473.3 492.3h0.7M473.3 487.3h0.7M473.4 511.1h0.7M473.5 493.1h0.7M473.5 491.0h0.7M473.5 522.3h0.7M473.6 500.8h0.7M473.6 484.2h0.7M473.8 489.8h0.7M473.8 497.8h0.7M473.8 489.1h0.7M473.9 504.1h0.7M473.9 495.9h0.7M473.9 506.7h0.7M474.1 484.2h0.7M474.1 521.7h0.7M474.2 518.2h0.7M474.3 509.8h0.7M474.3 501.1h0.7M474.3 522.6h0.7M474.4 504.2h0.7M474.4 498.3h0.7M474.5 502.6h0.7M474.5 490.1h0.7M474.6 514.4h0.7M474.7 503.3h0.7M474.8 520.2h0.7M474.9 519.6h0.7M474.9 493.9h0.7M475.0 523.5h0.7M475.1 501.0h0.7M475.2 501.6h0.7M475.3 515.9h0.7M475.3 508.9h0.7M475.3 523.2h0.7M475.3 499.7h0.7M475.4 505.8h0.7M475.5 509.2h0.7M475.5 485.3h0.7M475.6 513.1h0.7M475.7 496.5h0.7M475.7 502.7h0.7M475.7 508.4h0.7M475.7 519.7h0.7M475.7 516.0h0.7M475.7 500.9h0.7M475.7 510.5h0.7M475.7 508.1h0.7M475.8 521.7h0.7M475.9 497.2h0.7M476.1 500.1h0.7M476.1 488.3h0.7M476.1 488.2h0.7M476.3 502.0h0.7M476.3 524.8h0.7M476.3 521.5h0.7M476.4 483.6h0.7M476.4 522.4h0.7M476.5 497.7h0.7M476.6 510.8h0.7M476.8 502.0h0.7M476.8 517.3h0.7M477.0 512.3h0.7M477.0 510.5h0.7M477.1 513.8h0.7M477.1 496.3h0.7M477.1 501.1h0.7M477.2 516.5h0.7M477.2 506.1h0.7M477.3 488.1h0.7M477.3 489.9h0.7" stroke="#1e2c58" stroke-width="0.7" fill="none" opacity="0.85"/>
<path d="M469.3 541.4 C470.4 538.8 472.5 536.1 473.2 534.5 L474.1 534.5 C474.9 536.1 477.0 538.8 478.1 541.4Z" fill="#6e98e8" stroke="#2a2a2a" stroke-width="0.25"/>
<line x1="473.70" y1="542.70" x2="473.70" y2="545.00" stroke="#231f20" stroke-width="0.8"/>
<path d="M478.7 508.6h0.7M478.8 483.1h0.7M478.8 494.5h0.7M478.8 495.0h0.7M478.8 495.1h0.7M478.9 498.2h0.7M479.2 513.5h0.7M479.4 513.8h0.7M479.5 491.7h0.7M479.6 486.9h0.7M479.6 513.8h0.7M479.6 506.9h0.7M479.7 517.8h0.7M479.8 512.1h0.7M479.8 488.9h0.7M479.9 485.5h0.7M480.0 519.3h0.7M480.0 519.1h0.7M480.2 497.2h0.7M480.4 500.0h0.7M480.4 483.1h0.7M480.5 497.4h0.7M480.5 503.4h0.7M480.6 510.1h0.7M480.7 488.4h0.7M480.7 499.9h0.7M480.8 485.3h0.7M481.0 510.0h0.7M481.0 521.3h0.7M481.0 495.2h0.7M481.1 490.9h0.7M481.2 502.8h0.7M481.3 520.1h0.7M481.4 508.5h0.7M481.4 503.5h0.7M481.5 518.7h0.7M481.6 512.8h0.7M481.7 503.6h0.7M481.8 506.0h0.7M481.8 497.6h0.7M481.9 509.1h0.7M482.0 512.0h0.7M482.1 483.9h0.7M482.1 505.0h0.7M482.1 511.1h0.7M482.3 505.3h0.7M482.3 505.3h0.7M482.5 482.9h0.7M482.7 500.7h0.7M482.8 489.1h0.7M482.9 512.5h0.7M482.9 486.1h0.7M483.0 499.8h0.7M483.1 491.3h0.7M483.2 496.8h0.7M483.3 495.3h0.7M483.3 506.7h0.7M483.3 510.1h0.7M483.5 504.6h0.7M483.5 486.1h0.7M483.5 520.2h0.7M483.6 494.9h0.7M483.7 501.7h0.7M483.8 498.0h0.7M483.8 518.4h0.7M483.8 516.5h0.7M483.9 518.5h0.7M483.9 500.0h0.7M484.1 502.2h0.7M484.3 495.3h0.7M484.4 486.5h0.7M484.5 488.3h0.7M484.5 496.6h0.7M484.7 494.5h0.7M484.7 517.1h0.7M484.8 484.3h0.7M484.8 520.2h0.7M484.9 512.9h0.7M484.9 485.4h0.7M484.9 491.1h0.7M485.1 490.3h0.7M485.1 490.9h0.7M485.1 493.0h0.7M485.2 506.9h0.7M485.2 497.0h0.7M485.2 487.4h0.7M485.5 495.7h0.7M485.6 493.8h0.7M485.6 504.1h0.7M485.7 510.2h0.7" stroke="#111" stroke-width="0.7" fill="none" opacity="0.85"/>
<rect x="478.8" y="540.2" width="7" height="1.3" fill="#6a6a6a"/>
<line x1="482.27" y1="542.70" x2="482.27" y2="545.00" stroke="#231f20" stroke-width="0.8"/>
<path d="M487.6 514.0h0.7M487.6 515.3h0.7M487.7 510.5h0.7M487.7 501.4h0.7M488.2 498.1h0.7M488.7 501.7h0.7M488.7 499.6h0.7M488.8 496.0h0.7M488.8 517.2h0.7M488.9 492.5h0.7M489.2 503.4h0.7M489.3 505.8h0.7M489.4 500.1h0.7M489.6 511.6h0.7M489.8 509.0h0.7M489.9 495.0h0.7M489.9 514.6h0.7M489.9 497.0h0.7M490.3 511.6h0.7M490.4 495.7h0.7M490.6 491.0h0.7M490.6 496.6h0.7M490.7 507.3h0.7M490.8 491.0h0.7M491.0 515.2h0.7M491.3 516.5h0.7M491.8 500.5h0.7M492.0 504.4h0.7M492.3 510.2h0.7M492.4 505.4h0.7M492.5 513.6h0.7M492.7 495.1h0.7M492.9 499.3h0.7M493.0 504.9h0.7M493.1 511.7h0.7M493.2 496.7h0.7M493.3 510.0h0.7M493.6 499.7h0.7M493.7 491.3h0.7M493.8 509.5h0.7M493.8 512.9h0.7M493.8 497.0h0.7M493.9 505.8h0.7M494.1 505.8h0.7M494.2 493.1h0.7" stroke="#111" stroke-width="0.7" fill="none" opacity="0.85"/>
<rect x="487.3" y="540.2" width="7" height="1.3" fill="#6a6a6a"/>
<line x1="490.84" y1="542.70" x2="490.84" y2="545.00" stroke="#231f20" stroke-width="0.8"/>
<path d="M495.8 501.4h0.7M496.1 512.8h0.7M496.3 507.8h0.7M496.5 512.6h0.7M496.6 505.1h0.7M496.7 510.3h0.7M496.7 506.0h0.7M496.7 505.1h0.7M496.8 506.7h0.7M496.9 515.2h0.7M497.1 493.5h0.7M497.3 495.5h0.7M497.3 503.1h0.7M497.5 503.9h0.7M497.7 494.4h0.7M497.8 498.0h0.7M498.0 504.2h0.7M498.1 499.4h0.7M498.4 498.7h0.7M498.7 500.0h0.7M498.9 500.8h0.7M499.8 504.6h0.7M499.8 510.8h0.7M499.8 492.4h0.7M500.0 499.3h0.7M500.0 496.8h0.7M500.2 505.9h0.7M500.3 512.1h0.7M500.5 491.2h0.7M500.8 511.0h0.7M501.5 500.8h0.7M501.7 508.1h0.7M502.0 508.2h0.7M502.1 502.3h0.7M502.1 508.5h0.7M502.1 513.1h0.7M502.2 514.5h0.7M502.3 503.0h0.7M502.3 508.5h0.7M502.9 492.9h0.7" stroke="#111" stroke-width="0.7" fill="none" opacity="0.85"/>
<rect x="495.9" y="540.2" width="7" height="1.3" fill="#6a6a6a"/>
<line x1="499.41" y1="542.70" x2="499.41" y2="545.00" stroke="#231f20" stroke-width="0.8"/>
<path d="M505.3 507.1h0.7M505.4 502.3h0.7M505.5 514.2h0.7M505.7 505.7h0.7M506.0 512.9h0.7M506.2 490.7h0.7M506.3 502.0h0.7M506.5 512.5h0.7M506.8 508.4h0.7M506.8 510.6h0.7M507.0 512.7h0.7M507.1 514.6h0.7M507.2 499.5h0.7M507.8 508.9h0.7M507.9 514.4h0.7M508.0 499.5h0.7M508.1 502.6h0.7M508.1 505.8h0.7M508.2 514.3h0.7M508.4 492.5h0.7M509.4 502.3h0.7M509.5 498.7h0.7M509.5 507.1h0.7M510.0 512.1h0.7M510.1 506.4h0.7M510.4 507.4h0.7M510.5 501.1h0.7M510.5 493.7h0.7M511.1 498.0h0.7M511.5 512.1h0.7" stroke="#111" stroke-width="0.7" fill="none" opacity="0.85"/>
<rect x="504.5" y="540.2" width="7" height="1.3" fill="#6a6a6a"/>
<line x1="507.98" y1="542.70" x2="507.98" y2="545.00" stroke="#231f20" stroke-width="0.8"/>
<text x="388.00" y="555.40" font-size="8.2" text-anchor="middle" fill="#c8102e" font-weight="bold" transform="rotate(-45 388.00 552.60)">0</text>
<text x="396.57" y="555.40" font-size="8.2" text-anchor="middle" fill="#555" stroke="#555" stroke-width="0.15" transform="rotate(-45 396.57 552.60)">1</text>
<text x="405.14" y="555.40" font-size="8.2" text-anchor="middle" fill="#c8102e" font-weight="bold" transform="rotate(-45 405.14 552.60)">2</text>
<text x="413.71" y="555.40" font-size="8.2" text-anchor="middle" fill="#555" stroke="#555" stroke-width="0.15" transform="rotate(-45 413.71 552.60)">3</text>
<text x="422.28" y="555.40" font-size="8.2" text-anchor="middle" fill="#555" stroke="#555" stroke-width="0.15" transform="rotate(-45 422.28 552.60)">4</text>
<text x="430.85" y="555.40" font-size="8.2" text-anchor="middle" fill="#c8102e" font-weight="bold" transform="rotate(-45 430.85 552.60)">5</text>
<text x="439.42" y="555.40" font-size="8.2" text-anchor="middle" fill="#555" stroke="#555" stroke-width="0.15" transform="rotate(-45 439.42 552.60)">6</text>
<text x="447.99" y="555.40" font-size="8.2" text-anchor="middle" fill="#555" stroke="#555" stroke-width="0.15" transform="rotate(-45 447.99 552.60)">7</text>
<text x="456.56" y="555.40" font-size="8.2" text-anchor="middle" fill="#c8102e" font-weight="bold" transform="rotate(-45 456.56 552.60)">8</text>
<text x="465.13" y="555.40" font-size="8.2" text-anchor="middle" fill="#555" stroke="#555" stroke-width="0.15" transform="rotate(-45 465.13 552.60)">9</text>
<text x="473.70" y="555.40" font-size="8.2" text-anchor="middle" fill="#4a7ab8" stroke="#4a7ab8" stroke-width="0.15" transform="rotate(-45 473.70 552.60)">10</text>
<text x="482.27" y="555.40" font-size="8.2" text-anchor="middle" fill="#c8102e" font-weight="bold" transform="rotate(-45 482.27 552.60)">11</text>
<text x="490.84" y="555.40" font-size="8.2" text-anchor="middle" fill="#4a7ab8" stroke="#4a7ab8" stroke-width="0.15" transform="rotate(-45 490.84 552.60)">12</text>
<text x="499.41" y="555.40" font-size="8.2" text-anchor="middle" fill="#4a7ab8" stroke="#4a7ab8" stroke-width="0.15" transform="rotate(-45 499.41 552.60)">13</text>
<text x="507.98" y="555.40" font-size="8.2" text-anchor="middle" fill="#444" stroke="#444" stroke-width="0.15" transform="rotate(-45 507.98 552.60)">14</text>
<text x="258.60" y="588.30" font-size="10.5" stroke="#231f20" stroke-width="0.15" font-weight="bold" textLength="2.8" lengthAdjust="spacingAndGlyphs">I</text>
<text x="295.20" y="592.20" font-size="7.6" stroke="#231f20" stroke-width="0.15" textLength="30.2" lengthAdjust="spacingAndGlyphs">Myc IHC</text>
<clipPath id="ihc"><rect x="295.2" y="594.8" width="116.30000000000001" height="76.20000000000005"/></clipPath>
<filter id="bl" x="-5%" y="-5%" width="110%" height="110%"><feGaussianBlur stdDeviation="0.8"/></filter>
<g clip-path="url(#ihc)">
<rect x="295.2" y="594.8" width="116.30000000000001" height="76.20000000000005" fill="#e2dbdc"/>
<g filter="url(#bl)">
<ellipse cx="361.5" cy="643.0" rx="6.9" ry="6.5" fill="#e8e2e2" opacity="0.8"/>
<ellipse cx="357.2" cy="635.0" rx="9.7" ry="4.3" fill="#e2d6cc" opacity="0.8"/>
<ellipse cx="375.1" cy="631.4" rx="9.7" ry="5.5" fill="#e8e2e2" opacity="0.8"/>
<ellipse cx="330.2" cy="618.4" rx="9.4" ry="6.0" fill="#d8d0dc" opacity="0.8"/>
<ellipse cx="395.2" cy="646.4" rx="9.6" ry="5.2" fill="#e8e2e2" opacity="0.8"/>
<ellipse cx="374.4" cy="603.7" rx="5.9" ry="6.6" fill="#e8ddd4" opacity="0.8"/>
<ellipse cx="410.9" cy="670.3" rx="8.5" ry="3.5" fill="#e8ddd4" opacity="0.8"/>
<ellipse cx="332.6" cy="613.3" rx="5.9" ry="4.4" fill="#e8e2e2" opacity="0.8"/>
<ellipse cx="371.8" cy="637.1" rx="5.1" ry="3.4" fill="#d8d0dc" opacity="0.8"/>
<ellipse cx="299.0" cy="661.3" rx="9.1" ry="3.3" fill="#e2d6cc" opacity="0.8"/>
<ellipse cx="306.0" cy="656.4" rx="4.3" ry="4.1" fill="#e8ddd4" opacity="0.8"/>
<ellipse cx="318.8" cy="609.5" rx="6.7" ry="4.9" fill="#d8d0dc" opacity="0.8"/>
<ellipse cx="336.8" cy="635.9" rx="6.9" ry="3.0" fill="#e8e2e2" opacity="0.8"/>
<ellipse cx="339.4" cy="652.6" rx="4.7" ry="6.5" fill="#e8e2e2" opacity="0.8"/>
<ellipse cx="296.9" cy="636.1" rx="8.3" ry="6.5" fill="#d8d0dc" opacity="0.8"/>
<ellipse cx="393.3" cy="660.6" rx="8.4" ry="4.9" fill="#d8d0dc" opacity="0.8"/>
<ellipse cx="375.5" cy="662.3" rx="6.8" ry="4.7" fill="#e8e2e2" opacity="0.8"/>
<ellipse cx="354.2" cy="614.7" rx="9.8" ry="4.9" fill="#e2d6cc" opacity="0.8"/>
<ellipse cx="297.6" cy="625.1" rx="5.0" ry="6.8" fill="#e8e2e2" opacity="0.8"/>
<ellipse cx="401.6" cy="619.2" rx="9.4" ry="3.7" fill="#e8e2e2" opacity="0.8"/>
<ellipse cx="379.4" cy="621.7" rx="6.6" ry="6.2" fill="#d8d0dc" opacity="0.8"/>
<ellipse cx="402.8" cy="661.0" rx="7.9" ry="3.1" fill="#e2d6cc" opacity="0.8"/>
<ellipse cx="382.1" cy="663.1" rx="5.4" ry="3.4" fill="#e8ddd4" opacity="0.8"/>
<ellipse cx="326.6" cy="639.3" rx="4.7" ry="6.4" fill="#e2d6cc" opacity="0.8"/>
<ellipse cx="318.4" cy="641.2" rx="9.6" ry="6.1" fill="#e8ddd4" opacity="0.8"/>
<ellipse cx="361.9" cy="670.7" rx="4.0" ry="6.8" fill="#e8e2e2" opacity="0.8"/>
<ellipse cx="343.3" cy="664.6" rx="6.7" ry="6.1" fill="#ddd2d2" opacity="0.8"/>
<ellipse cx="363.6" cy="610.8" rx="5.4" ry="3.5" fill="#e2d6cc" opacity="0.8"/>
<ellipse cx="337.8" cy="655.7" rx="9.2" ry="6.9" fill="#d8d0dc" opacity="0.8"/>
<ellipse cx="383.0" cy="658.5" rx="8.8" ry="5.0" fill="#e8ddd4" opacity="0.8"/>
<ellipse cx="329.0" cy="619.9" rx="4.8" ry="4.3" fill="#e2d6cc" opacity="0.8"/>
<ellipse cx="334.6" cy="632.6" rx="5.6" ry="6.5" fill="#d8d0dc" opacity="0.8"/>
<ellipse cx="356.6" cy="658.6" rx="4.6" ry="4.7" fill="#e8e2e2" opacity="0.8"/>
<ellipse cx="310.3" cy="655.8" rx="6.8" ry="4.3" fill="#e2d6cc" opacity="0.8"/>
<ellipse cx="381.0" cy="595.3" rx="4.5" ry="4.3" fill="#e8ddd4" opacity="0.8"/>
<ellipse cx="337.2" cy="614.0" rx="7.7" ry="6.3" fill="#e8e2e2" opacity="0.8"/>
<ellipse cx="352.9" cy="640.5" rx="5.7" ry="5.9" fill="#e2d6cc" opacity="0.8"/>
<ellipse cx="321.3" cy="598.0" rx="6.4" ry="3.1" fill="#ddd2d2" opacity="0.8"/>
<ellipse cx="304.8" cy="657.4" rx="7.9" ry="6.8" fill="#ddd2d2" opacity="0.8"/>
<ellipse cx="333.7" cy="656.5" rx="9.1" ry="5.7" fill="#e8ddd4" opacity="0.8"/>
<ellipse cx="310.2" cy="607.0" rx="7.7" ry="6.0" fill="#d8d0dc" opacity="0.8"/>
<ellipse cx="393.6" cy="632.7" rx="9.2" ry="6.3" fill="#ddd2d2" opacity="0.8"/>
<ellipse cx="394.9" cy="648.8" rx="8.4" ry="6.6" fill="#e8e2e2" opacity="0.8"/>
<ellipse cx="368.1" cy="612.7" rx="8.8" ry="4.8" fill="#d8d0dc" opacity="0.8"/>
<ellipse cx="341.7" cy="602.3" rx="4.9" ry="3.9" fill="#d8d0dc" opacity="0.8"/>
<ellipse cx="324" cy="630" rx="6" ry="22" fill="#dcd7e6" opacity="0.7" transform="rotate(-8 324 630)"/>
<ellipse cx="372" cy="622" rx="22" ry="6" fill="#dcd7e6" opacity="0.7" transform="rotate(-12 372 622)"/>
<ellipse cx="370" cy="602" rx="10" ry="5" fill="#dcd7e6" opacity="0.7" transform="rotate(20 370 602)"/>
<ellipse cx="352" cy="642" rx="8" ry="4" fill="#dcd7e6" opacity="0.7" transform="rotate(-20 352 642)"/>
<ellipse cx="320" cy="618" rx="3.6" ry="1.4" fill="#857ea3" opacity="0.85" transform="rotate(70 320 618)"/>
<ellipse cx="322" cy="628" rx="3.6" ry="1.4" fill="#857ea3" opacity="0.85" transform="rotate(80 322 628)"/>
<ellipse cx="324" cy="638" rx="3.6" ry="1.4" fill="#857ea3" opacity="0.85" transform="rotate(60 324 638)"/>
<ellipse cx="327" cy="648" rx="3.6" ry="1.4" fill="#857ea3" opacity="0.85" transform="rotate(75 327 648)"/>
<ellipse cx="325" cy="657" rx="3.6" ry="1.4" fill="#857ea3" opacity="0.85" transform="rotate(65 325 657)"/>
<ellipse cx="318" cy="609" rx="3.6" ry="1.4" fill="#857ea3" opacity="0.85" transform="rotate(80 318 609)"/>
<ellipse cx="352" cy="626" rx="3.6" ry="1.4" fill="#857ea3" opacity="0.85" transform="rotate(-20 352 626)"/>
<ellipse cx="360" cy="623" rx="3.6" ry="1.4" fill="#857ea3" opacity="0.85" transform="rotate(-15 360 623)"/>
<ellipse cx="368" cy="620" rx="3.6" ry="1.4" fill="#857ea3" opacity="0.85" transform="rotate(-10 368 620)"/>
<ellipse cx="378" cy="618" rx="3.6" ry="1.4" fill="#857ea3" opacity="0.85" transform="rotate(-25 378 618)"/>
<ellipse cx="388" cy="616" rx="3.6" ry="1.4" fill="#857ea3" opacity="0.85" transform="rotate(-20 388 616)"/>
<ellipse cx="396" cy="613" rx="3.6" ry="1.4" fill="#857ea3" opacity="0.85" transform="rotate(-30 396 613)"/>
<ellipse cx="366" cy="604" rx="3.6" ry="1.4" fill="#857ea3" opacity="0.85" transform="rotate(30 366 604)"/>
<ellipse cx="372" cy="600" rx="3.6" ry="1.4" fill="#857ea3" opacity="0.85" transform="rotate(20 372 600)"/>
<ellipse cx="356" cy="645" rx="3.6" ry="1.4" fill="#857ea3" opacity="0.85" transform="rotate(-30 356 645)"/>
<ellipse cx="313" cy="640" rx="3.6" ry="1.4" fill="#857ea3" opacity="0.85" transform="rotate(70 313 640)"/>
<ellipse cx="299.0" cy="607.3" rx="2.5" ry="2.2" fill="#b8aec0" opacity="0.85"/>
<ellipse cx="392.2" cy="604.8" rx="2.4" ry="2.4" fill="#b4a4a4" opacity="0.85"/>
<ellipse cx="343.4" cy="606.0" rx="2.9" ry="2.2" fill="#a8a0b8" opacity="0.85"/>
<ellipse cx="410.7" cy="663.3" rx="2.6" ry="2.1" fill="#b4a4a4" opacity="0.85"/>
<ellipse cx="306.4" cy="668.5" rx="2.6" ry="2.0" fill="#c8bab4" opacity="0.85"/>
<ellipse cx="316.1" cy="669.5" rx="2.5" ry="2.3" fill="#b8aec0" opacity="0.85"/>
<ellipse cx="343.4" cy="595.9" rx="2.3" ry="2.2" fill="#c4b8bc" opacity="0.85"/>
<ellipse cx="403.2" cy="661.5" rx="2.8" ry="2.0" fill="#a8a0b8" opacity="0.85"/>
<ellipse cx="299.8" cy="668.1" rx="2.4" ry="2.1" fill="#b4a4a4" opacity="0.85"/>
<ellipse cx="403.8" cy="621.5" rx="2.3" ry="1.8" fill="#c8bab4" opacity="0.85"/>
<ellipse cx="323.4" cy="650.2" rx="2.7" ry="2.6" fill="#b4a4a4" opacity="0.85"/>
<ellipse cx="408.0" cy="639.8" rx="2.9" ry="2.0" fill="#c4b8bc" opacity="0.85"/>
<ellipse cx="328.8" cy="603.5" rx="2.8" ry="2.5" fill="#c4b8bc" opacity="0.85"/>
<ellipse cx="394.0" cy="616.7" rx="2.9" ry="2.2" fill="#c8bab4" opacity="0.85"/>
<ellipse cx="400.2" cy="627.8" rx="2.6" ry="2.1" fill="#c8bab4" opacity="0.85"/>
<ellipse cx="336.0" cy="668.1" rx="2.7" ry="2.2" fill="#a8a0b8" opacity="0.85"/>
<ellipse cx="381.1" cy="645.9" rx="2.4" ry="2.6" fill="#c4b8bc" opacity="0.85"/>
<ellipse cx="333.0" cy="641.2" rx="2.8" ry="2.1" fill="#b8aec0" opacity="0.85"/>
<ellipse cx="378.4" cy="604.8" rx="2.3" ry="2.4" fill="#c8bab4" opacity="0.85"/>
<ellipse cx="336.0" cy="652.0" rx="2.4" ry="2.3" fill="#c4b8bc" opacity="0.85"/>
<ellipse cx="331.4" cy="639.9" rx="2.3" ry="2.2" fill="#b4a4a4" opacity="0.85"/>
<ellipse cx="394.7" cy="608.8" rx="2.3" ry="2.2" fill="#b8aec0" opacity="0.85"/>
<ellipse cx="343.1" cy="607.4" rx="2.7" ry="2.0" fill="#b8aec0" opacity="0.85"/>
<ellipse cx="345.2" cy="662.5" rx="2.7" ry="2.2" fill="#c4b8bc" opacity="0.85"/>
<ellipse cx="296.6" cy="643.0" rx="2.4" ry="2.1" fill="#c8bab4" opacity="0.85"/>
<ellipse cx="407.5" cy="618.7" rx="2.8" ry="2.1" fill="#c8bab4" opacity="0.85"/>
<ellipse cx="315.4" cy="645.5" rx="2.3" ry="2.2" fill="#c4b8bc" opacity="0.85"/>
<ellipse cx="401.4" cy="653.1" rx="2.6" ry="2.1" fill="#c4b8bc" opacity="0.85"/>
<ellipse cx="370.6" cy="641.4" rx="2.8" ry="2.4" fill="#b4a4a4" opacity="0.85"/>
<ellipse cx="364.1" cy="637.2" rx="2.5" ry="1.8" fill="#b4a4a4" opacity="0.85"/>
<ellipse cx="337.7" cy="657.9" rx="2.9" ry="2.5" fill="#b8aec0" opacity="0.85"/>
<ellipse cx="375.7" cy="632.8" rx="2.4" ry="2.3" fill="#c8bab4" opacity="0.85"/>
<ellipse cx="381.2" cy="634.2" rx="2.7" ry="1.9" fill="#b4a4a4" opacity="0.85"/>
<ellipse cx="311.4" cy="603.4" rx="2.6" ry="2.5" fill="#b8aec0" opacity="0.85"/>
<ellipse cx="408.1" cy="604.9" rx="2.3" ry="2.0" fill="#a8a0b8" opacity="0.85"/>
<ellipse cx="383.4" cy="632.4" rx="2.8" ry="2.1" fill="#a8a0b8" opacity="0.85"/>
<ellipse cx="334.5" cy="633.4" rx="2.3" ry="2.5" fill="#b8aec0" opacity="0.85"/>
<ellipse cx="371.5" cy="609.8" rx="2.4" ry="2.6" fill="#c8bab4" opacity="0.85"/>
<ellipse cx="343.0" cy="654.5" rx="2.8" ry="2.5" fill="#b4a4a4" opacity="0.85"/>
<ellipse cx="371.9" cy="649.2" rx="2.2" ry="2.2" fill="#c8bab4" opacity="0.85"/>
<ellipse cx="325.0" cy="622.6" rx="2.9" ry="2.0" fill="#c4b8bc" opacity="0.85"/>
<ellipse cx="355.7" cy="623.8" rx="2.3" ry="2.4" fill="#c8bab4" opacity="0.85"/>
<ellipse cx="358.9" cy="596.8" rx="2.6" ry="1.9" fill="#a8a0b8" opacity="0.85"/>
<ellipse cx="345.1" cy="652.9" rx="2.6" ry="2.0" fill="#a8a0b8" opacity="0.85"/>
<ellipse cx="376.9" cy="609.8" rx="3.0" ry="2.3" fill="#b4a4a4" opacity="0.85"/>
<ellipse cx="410.1" cy="623.8" rx="2.8" ry="2.5" fill="#b8aec0" opacity="0.85"/>
<ellipse cx="396.7" cy="620.7" rx="2.5" ry="2.3" fill="#c4b8bc" opacity="0.85"/>
<ellipse cx="331.2" cy="622.5" rx="2.8" ry="2.5" fill="#c8bab4" opacity="0.85"/>
<ellipse cx="364.1" cy="625.0" rx="2.6" ry="2.0" fill="#b4a4a4" opacity="0.85"/>
<ellipse cx="374.9" cy="601.1" rx="2.4" ry="1.9" fill="#b4a4a4" opacity="0.85"/>
<ellipse cx="360.2" cy="657.4" rx="2.7" ry="2.4" fill="#b4a4a4" opacity="0.85"/>
<ellipse cx="390.1" cy="655.2" rx="3.0" ry="1.8" fill="#a8a0b8" opacity="0.85"/>
<ellipse cx="405.9" cy="656.4" rx="2.5" ry="1.9" fill="#a8a0b8" opacity="0.85"/>
<ellipse cx="398.8" cy="657.2" rx="2.5" ry="2.3" fill="#a8a0b8" opacity="0.85"/>
<ellipse cx="403.2" cy="638.7" rx="2.3" ry="2.1" fill="#c8bab4" opacity="0.85"/>
<ellipse cx="319.2" cy="653.8" rx="2.6" ry="2.1" fill="#b4a4a4" opacity="0.85"/>
<ellipse cx="297.3" cy="631.9" rx="2.9" ry="2.4" fill="#b8aec0" opacity="0.85"/>
<ellipse cx="326.9" cy="637.5" rx="3.0" ry="1.9" fill="#a8a0b8" opacity="0.85"/>
<ellipse cx="396.6" cy="647.2" rx="2.2" ry="2.2" fill="#c4b8bc" opacity="0.85"/>
<ellipse cx="325.2" cy="670.2" rx="2.8" ry="1.9" fill="#c8bab4" opacity="0.85"/>
<ellipse cx="307.8" cy="604.4" rx="3.6" ry="2.7" fill="#ac908c" transform="rotate(7 307.8 604.4)" opacity="0.9"/>
<ellipse cx="306.7" cy="608.4" rx="2.7" ry="2.6" fill="#906e6a" transform="rotate(30 306.7 608.4)" opacity="0.9"/>
<ellipse cx="297.5" cy="604.4" rx="3.0" ry="2.1" fill="#c8b6b2" transform="rotate(122 297.5 604.4)" opacity="0.9"/>
<ellipse cx="297.5" cy="614.8" rx="3.1" ry="2.2" fill="#b2aab8" transform="rotate(84 297.5 614.8)" opacity="0.9"/>
<ellipse cx="302.7" cy="614.8" rx="2.3" ry="2.0" fill="#b2aab8" transform="rotate(116 302.7 614.8)" opacity="0.9"/>
<ellipse cx="306.1" cy="618.2" rx="2.5" ry="2.3" fill="#847c9f" transform="rotate(174 306.1 618.2)" opacity="0.9"/>
<ellipse cx="321.7" cy="601.0" rx="3.5" ry="2.3" fill="#958fad" transform="rotate(158 321.7 601.0)" opacity="0.9"/>
<ellipse cx="328.6" cy="605.0" rx="3.2" ry="2.7" fill="#b2aab8" transform="rotate(135 328.6 605.0)" opacity="0.9"/>
<ellipse cx="337.3" cy="603.8" rx="3.2" ry="2.4" fill="#c8b6b2" transform="rotate(174 337.3 603.8)" opacity="0.9"/>
<ellipse cx="342.5" cy="599.8" rx="3.4" ry="2.3" fill="#958fad" transform="rotate(16 342.5 599.8)" opacity="0.9"/>
<ellipse cx="351.7" cy="599.8" rx="2.7" ry="2.4" fill="#958fad" transform="rotate(41 351.7 599.8)" opacity="0.9"/>
<ellipse cx="322.3" cy="614.8" rx="3.0" ry="2.2" fill="#c8b6b2" transform="rotate(106 322.3 614.8)" opacity="0.9"/>
<ellipse cx="334.4" cy="618.8" rx="3.4" ry="2.6" fill="#958fad" transform="rotate(143 334.4 618.8)" opacity="0.9"/>
<ellipse cx="345.3" cy="618.8" rx="3.5" ry="2.8" fill="#847c9f" transform="rotate(172 345.3 618.8)" opacity="0.9"/>
<ellipse cx="314.2" cy="622.3" rx="3.2" ry="2.6" fill="#958fad" transform="rotate(33 314.2 622.3)" opacity="0.9"/>
<ellipse cx="321.7" cy="625.7" rx="3.4" ry="2.8" fill="#847c9f" transform="rotate(109 321.7 625.7)" opacity="0.9"/>
<ellipse cx="325.7" cy="625.2" rx="2.8" ry="2.6" fill="#958fad" transform="rotate(179 325.7 625.2)" opacity="0.9"/>
<ellipse cx="328.6" cy="629.8" rx="3.4" ry="2.3" fill="#958fad" transform="rotate(42 328.6 629.8)" opacity="0.9"/>
<ellipse cx="321.7" cy="631.5" rx="2.9" ry="2.6" fill="#847c9f" transform="rotate(6 321.7 631.5)" opacity="0.9"/>
<ellipse cx="303.2" cy="628.6" rx="3.3" ry="2.3" fill="#b2aab8" transform="rotate(153 303.2 628.6)" opacity="0.9"/>
<ellipse cx="310.7" cy="632.0" rx="2.4" ry="2.1" fill="#b2aab8" transform="rotate(86 310.7 632.0)" opacity="0.9"/>
<ellipse cx="348.2" cy="625.2" rx="2.7" ry="2.3" fill="#ac908c" transform="rotate(105 348.2 625.2)" opacity="0.9"/>
<ellipse cx="341.3" cy="625.2" rx="2.7" ry="2.5" fill="#b2aab8" transform="rotate(71 341.3 625.2)" opacity="0.9"/>
<ellipse cx="336.7" cy="611.3" rx="3.1" ry="2.2" fill="#b2aab8" transform="rotate(12 336.7 611.3)" opacity="0.9"/>
<ellipse cx="296.3" cy="623.4" rx="3.1" ry="2.5" fill="#b2aab8" transform="rotate(29 296.3 623.4)" opacity="0.9"/>
<ellipse cx="354.3" cy="601.0" rx="2.9" ry="2.3" fill="#958fad" transform="rotate(102 354.3 601.0)" opacity="0.9"/>
<ellipse cx="355.5" cy="606.1" rx="2.9" ry="2.3" fill="#847c9f" transform="rotate(23 355.5 606.1)" opacity="0.9"/>
<ellipse cx="364.7" cy="605.5" rx="2.9" ry="2.3" fill="#ac908c" transform="rotate(169 364.7 605.5)" opacity="0.9"/>
<ellipse cx="366.4" cy="598.6" rx="2.8" ry="2.5" fill="#958fad" transform="rotate(3 366.4 598.6)" opacity="0.9"/>
<ellipse cx="373.3" cy="597.5" rx="3.1" ry="2.4" fill="#958fad" transform="rotate(14 373.3 597.5)" opacity="0.9"/>
<ellipse cx="375.0" cy="607.3" rx="3.6" ry="2.8" fill="#b2aab8" transform="rotate(33 375.0 607.3)" opacity="0.9"/>
<ellipse cx="367.0" cy="612.5" rx="2.9" ry="2.5" fill="#847c9f" transform="rotate(151 367.0 612.5)" opacity="0.9"/>
<ellipse cx="373.9" cy="620.5" rx="3.1" ry="2.3" fill="#958fad" transform="rotate(39 373.9 620.5)" opacity="0.9"/>
<ellipse cx="380.8" cy="622.8" rx="3.7" ry="3.1" fill="#958fad" transform="rotate(124 380.8 622.8)" opacity="0.9"/>
<ellipse cx="386.6" cy="620.5" rx="3.2" ry="2.2" fill="#958fad" transform="rotate(36 386.6 620.5)" opacity="0.9"/>
<ellipse cx="376.2" cy="627.5" rx="3.6" ry="2.5" fill="#958fad" transform="rotate(69 376.2 627.5)" opacity="0.9"/>
<ellipse cx="383.2" cy="627.5" rx="3.4" ry="2.4" fill="#958fad" transform="rotate(85 383.2 627.5)" opacity="0.9"/>
<ellipse cx="391.2" cy="610.7" rx="3.2" ry="2.3" fill="#ac908c" transform="rotate(1 391.2 610.7)" opacity="0.9"/>
<ellipse cx="398.2" cy="618.2" rx="3.3" ry="2.9" fill="#906e6a" transform="rotate(127 398.2 618.2)" opacity="0.9"/>
<ellipse cx="405.1" cy="601.5" rx="2.8" ry="2.6" fill="#ac908c" transform="rotate(35 405.1 601.5)" opacity="0.9"/>
<ellipse cx="405.7" cy="611.9" rx="3.2" ry="2.5" fill="#ac908c" transform="rotate(57 405.7 611.9)" opacity="0.9"/>
<ellipse cx="397.6" cy="627.5" rx="3.0" ry="2.4" fill="#ac908c" transform="rotate(71 397.6 627.5)" opacity="0.9"/>
<ellipse cx="390.0" cy="629.8" rx="2.7" ry="2.5" fill="#b2aab8" transform="rotate(20 390.0 629.8)" opacity="0.9"/>
<ellipse cx="409.1" cy="618.2" rx="2.8" ry="2.2" fill="#b2aab8" transform="rotate(152 409.1 618.2)" opacity="0.9"/>
<ellipse cx="358.9" cy="612.5" rx="2.6" ry="2.4" fill="#c8b6b2" transform="rotate(24 358.9 612.5)" opacity="0.9"/>
<ellipse cx="400.5" cy="628.6" rx="2.8" ry="2.5" fill="#906e6a" transform="rotate(70 400.5 628.6)" opacity="0.9"/>
<ellipse cx="310.7" cy="633.7" rx="2.7" ry="2.7" fill="#ac908c" transform="rotate(149 310.7 633.7)" opacity="0.9"/>
<ellipse cx="300.9" cy="641.2" rx="2.9" ry="2.6" fill="#b2aab8" transform="rotate(143 300.9 641.2)" opacity="0.9"/>
<ellipse cx="296.3" cy="638.9" rx="2.6" ry="2.3" fill="#958fad" transform="rotate(61 296.3 638.9)" opacity="0.9"/>
<ellipse cx="314.2" cy="639.5" rx="3.1" ry="2.5" fill="#b2aab8" transform="rotate(19 314.2 639.5)" opacity="0.9"/>
<ellipse cx="321.7" cy="634.3" rx="3.1" ry="2.6" fill="#958fad" transform="rotate(180 321.7 634.3)" opacity="0.9"/>
<ellipse cx="327.5" cy="640.1" rx="2.6" ry="2.4" fill="#958fad" transform="rotate(18 327.5 640.1)" opacity="0.9"/>
<ellipse cx="326.3" cy="644.7" rx="3.2" ry="2.6" fill="#847c9f" transform="rotate(17 326.3 644.7)" opacity="0.9"/>
<ellipse cx="321.1" cy="647.6" rx="3.4" ry="2.4" fill="#847c9f" transform="rotate(143 321.1 647.6)" opacity="0.9"/>
<ellipse cx="312.5" cy="648.7" rx="2.7" ry="2.5" fill="#ac908c" transform="rotate(116 312.5 648.7)" opacity="0.9"/>
<ellipse cx="298.0" cy="648.7" rx="2.7" ry="2.6" fill="#b2aab8" transform="rotate(30 298.0 648.7)" opacity="0.9"/>
<ellipse cx="317.1" cy="652.8" rx="3.2" ry="2.2" fill="#b2aab8" transform="rotate(117 317.1 652.8)" opacity="0.9"/>
<ellipse cx="331.5" cy="650.5" rx="2.8" ry="2.1" fill="#ac908c" transform="rotate(59 331.5 650.5)" opacity="0.9"/>
<ellipse cx="337.8" cy="651.6" rx="3.0" ry="2.7" fill="#847c9f" transform="rotate(41 337.8 651.6)" opacity="0.9"/>
<ellipse cx="328.0" cy="654.5" rx="3.0" ry="2.5" fill="#958fad" transform="rotate(115 328.0 654.5)" opacity="0.9"/>
<ellipse cx="324.6" cy="658.0" rx="2.7" ry="2.3" fill="#958fad" transform="rotate(79 324.6 658.0)" opacity="0.9"/>
<ellipse cx="320.5" cy="665.5" rx="3.7" ry="2.5" fill="#906e6a" transform="rotate(143 320.5 665.5)" opacity="0.9"/>
<ellipse cx="349.4" cy="638.9" rx="2.9" ry="2.6" fill="#b2aab8" transform="rotate(174 349.4 638.9)" opacity="0.9"/>
<ellipse cx="348.2" cy="659.7" rx="2.7" ry="2.6" fill="#b2aab8" transform="rotate(10 348.2 659.7)" opacity="0.9"/>
<ellipse cx="296.3" cy="653.3" rx="2.8" ry="2.0" fill="#958fad" transform="rotate(155 296.3 653.3)" opacity="0.9"/>
<ellipse cx="372.2" cy="643.0" rx="3.2" ry="2.8" fill="#b48a80" transform="rotate(155 372.2 643.0)" opacity="0.9"/>
<ellipse cx="365.3" cy="649.3" rx="4.6" ry="3.6" fill="#9a7068" transform="rotate(49 365.3 649.3)" opacity="0.9"/>
<ellipse cx="362.4" cy="643.0" rx="2.9" ry="2.5" fill="#958fad" transform="rotate(147 362.4 643.0)" opacity="0.9"/>
<ellipse cx="375.0" cy="636.0" rx="2.7" ry="2.7" fill="#958fad" transform="rotate(73 375.0 636.0)" opacity="0.9"/>
<ellipse cx="382.6" cy="644.7" rx="3.5" ry="2.4" fill="#958fad" transform="rotate(100 382.6 644.7)" opacity="0.9"/>
<ellipse cx="386.6" cy="637.8" rx="3.4" ry="2.6" fill="#958fad" transform="rotate(102 386.6 637.8)" opacity="0.9"/>
<ellipse cx="388.9" cy="649.3" rx="3.4" ry="2.6" fill="#958fad" transform="rotate(44 388.9 649.3)" opacity="0.9"/>
<ellipse cx="369.3" cy="659.0" rx="2.9" ry="2.6" fill="#b2aab8" transform="rotate(80 369.3 659.0)" opacity="0.9"/>
<ellipse cx="356.6" cy="663.0" rx="2.6" ry="2.3" fill="#b2aab8" transform="rotate(79 356.6 663.0)" opacity="0.9"/>
<ellipse cx="409.7" cy="665.5" rx="3.0" ry="2.6" fill="#847c9f" transform="rotate(70 409.7 665.5)" opacity="0.9"/>
<ellipse cx="304.0" cy="660.0" rx="3.0" ry="2.4" fill="#b2aab8" transform="rotate(28 304.0 660.0)" opacity="0.9"/>
<ellipse cx="312.0" cy="662.0" rx="3.0" ry="2.4" fill="#c8b6b2" transform="rotate(85 312.0 662.0)" opacity="0.9"/>
<ellipse cx="338.0" cy="666.0" rx="3.0" ry="2.2" fill="#b2aab8" transform="rotate(107 338.0 666.0)" opacity="0.9"/>
<ellipse cx="395.0" cy="658.0" rx="2.5" ry="2.4" fill="#c8b6b2" transform="rotate(150 395.0 658.0)" opacity="0.9"/>
<ellipse cx="402.0" cy="645.0" rx="2.6" ry="2.2" fill="#b2aab8" transform="rotate(89 402.0 645.0)" opacity="0.9"/>
<ellipse cx="392.0" cy="600.0" rx="2.8" ry="2.3" fill="#b2aab8" transform="rotate(52 392.0 600.0)" opacity="0.9"/>
<ellipse cx="316.0" cy="610.0" rx="2.3" ry="2.4" fill="#c8b6b2" transform="rotate(134 316.0 610.0)" opacity="0.9"/>
<ellipse cx="345.0" cy="610.0" rx="2.9" ry="2.3" fill="#c8b6b2" transform="rotate(177 345.0 610.0)" opacity="0.9"/>
<ellipse cx="355.0" cy="625.0" rx="2.8" ry="2.1" fill="#b2aab8" transform="rotate(179 355.0 625.0)" opacity="0.9"/>
<ellipse cx="362.0" cy="632.0" rx="2.7" ry="2.5" fill="#958fad" transform="rotate(120 362.0 632.0)" opacity="0.9"/>
<ellipse cx="303.0" cy="598.0" rx="2.7" ry="1.9" fill="#b2aab8" transform="rotate(62 303.0 598.0)" opacity="0.9"/>
<ellipse cx="332.0" cy="596.0" rx="2.7" ry="2.3" fill="#c8b6b2" transform="rotate(101 332.0 596.0)" opacity="0.9"/>
<ellipse cx="400.0" cy="637.0" rx="2.9" ry="2.2" fill="#c8b6b2" transform="rotate(82 400.0 637.0)" opacity="0.9"/>
<ellipse cx="408.0" cy="652.0" rx="2.8" ry="2.3" fill="#b2aab8" transform="rotate(116 408.0 652.0)" opacity="0.9"/>
</g>
</g>
<line x1="364.10" y1="664.50" x2="404.50" y2="664.50" stroke="#111" stroke-width="1.7"/>
<path d="M383.4 639.3 L378.6 641.1" stroke="#111" stroke-width="1.5"/><path d="M376 642.2 L379.4 638.6 L380.4 642.6Z" fill="#111"/>
<path d="M378.2 653.4 L373.6 651.4" stroke="#111" stroke-width="1.5"/><path d="M370.8 650.3 L375.6 649.3 L374 653.2Z" fill="#111"/>
<path d="M354.2 648.4 L357.6 649.2 L356.8 650.3 L359.4 652.6 L358.4 653.6 L355.8 651.3 L354.9 652.3Z" fill="#fff" stroke="#999" stroke-width="0.4"/>
<rect x="0" y="0" width="520" height="1" fill="#5a5a5a"/><rect x="0" y="0" width="1" height="696" fill="#4a4a4a"/><rect x="519" y="0" width="1" height="696" fill="#333"/><rect x="0" y="695" width="520" height="1" fill="#3a3a3a"/><rect x="0" y="694" width="520" height="1" fill="#888" opacity="0.5"/>
</svg>
</body></html>
